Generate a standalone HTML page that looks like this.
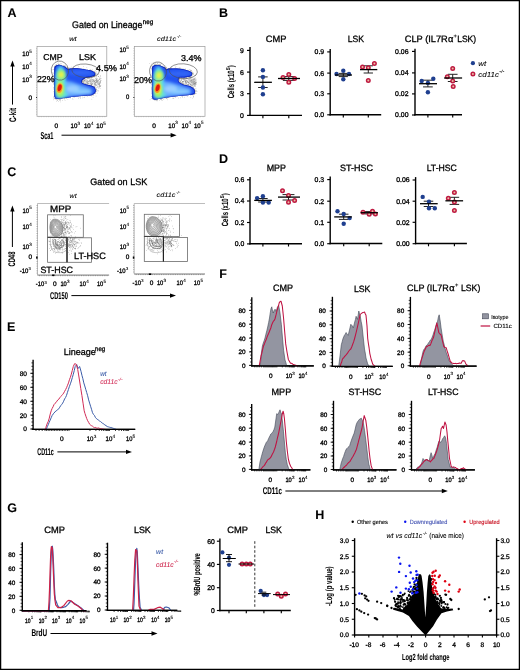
<!DOCTYPE html><html><head><meta charset="utf-8"><style>html,body{margin:0;padding:0;background:#fff;width:520px;height:670px;overflow:hidden}svg{display:block;will-change:transform}text{font-family:"Liberation Sans",sans-serif;text-rendering:geometricPrecision;stroke:currentColor;stroke-width:0.3px}text[font-style=italic]{stroke-width:0.08px}text[font-weight=bold]{stroke-width:0.08px}</style></head><body><svg width="520" height="670" viewBox="0 0 520 670" font-family="Liberation Sans, sans-serif"><defs><filter id="bl1" x="-20%" y="-20%" width="140%" height="140%"><feGaussianBlur stdDeviation="1.6"/></filter><filter id="bl2" x="-50%" y="-50%" width="200%" height="200%"><feGaussianBlur stdDeviation="0.9"/></filter><filter id="bl3" x="-20%" y="-20%" width="140%" height="140%"><feGaussianBlur stdDeviation="0.35"/></filter><clipPath id="cp1"><path d="M55.00,66.60 C55.40,65.98 56.03,65.58 56.80,65.30 C57.57,65.02 58.42,64.75 59.60,64.90 C60.78,65.05 62.70,65.65 63.90,66.20 C65.10,66.75 66.07,67.72 66.80,68.20 C67.53,68.68 67.65,69.05 68.30,69.10 C68.95,69.15 68.95,68.62 70.70,68.50 C72.45,68.38 75.83,68.15 78.80,68.40 C81.77,68.65 86.08,69.48 88.50,70.00 C90.92,70.52 92.18,70.92 93.30,71.50 C94.42,72.08 95.05,72.77 95.20,73.50 C95.35,74.23 95.00,75.33 94.20,75.90 C93.40,76.47 91.83,76.57 90.40,76.90 C88.97,77.23 86.88,77.42 85.60,77.90 C84.32,78.38 83.35,79.17 82.70,79.80 C82.05,80.43 81.62,81.07 81.70,81.70 C81.78,82.33 82.07,83.03 83.20,83.60 C84.33,84.17 86.82,84.62 88.50,85.10 C90.18,85.58 92.18,85.95 93.30,86.50 C94.42,87.05 94.80,87.68 95.20,88.40 C95.60,89.12 95.78,89.98 95.70,90.80 C95.62,91.62 95.43,92.57 94.70,93.30 C93.97,94.03 93.13,94.78 91.30,95.20 C89.47,95.62 86.58,95.55 83.70,95.80 C80.82,96.05 77.22,96.32 74.00,96.70 C70.78,97.08 67.12,97.72 64.40,98.10 C61.68,98.48 59.30,99.08 57.70,99.00 C56.10,98.92 55.42,98.97 54.80,97.60 C54.18,96.23 54.08,94.33 54.00,90.80 C53.92,87.27 54.23,80.03 54.30,76.40 C54.37,72.77 54.28,70.63 54.40,69.00 C54.52,67.37 54.60,67.22 55.00,66.60Z"/></clipPath><clipPath id="cp2"><path d="M152.80,66.60 C153.20,66.15 153.90,65.57 154.60,65.30 C155.30,65.03 156.10,64.98 157.00,65.00 C157.90,65.02 158.73,64.98 160.00,65.40 C161.27,65.82 163.55,66.83 164.60,67.50 C165.65,68.17 165.53,69.22 166.30,69.40 C167.07,69.58 166.98,68.72 169.20,68.60 C171.42,68.48 176.52,68.40 179.60,68.70 C182.68,69.00 185.77,69.83 187.70,70.40 C189.63,70.97 190.47,71.50 191.20,72.10 C191.93,72.70 192.20,73.30 192.10,74.00 C192.00,74.70 191.92,75.73 190.60,76.30 C189.28,76.87 186.03,77.18 184.20,77.40 C182.37,77.62 180.55,77.30 179.60,77.60 C178.65,77.90 178.60,78.45 178.50,79.20 C178.40,79.95 178.23,81.23 179.00,82.10 C179.77,82.97 181.27,83.72 183.10,84.40 C184.93,85.08 188.18,85.43 190.00,86.20 C191.82,86.97 193.20,88.05 194.00,89.00 C194.80,89.95 194.88,91.03 194.80,91.90 C194.72,92.77 195.27,93.58 193.50,94.20 C191.73,94.82 188.43,95.10 184.20,95.60 C179.97,96.10 172.72,96.57 168.10,97.20 C163.48,97.83 159.00,99.12 156.50,99.40 C154.00,99.68 153.85,99.63 153.10,98.90 C152.35,98.17 152.18,98.15 152.00,95.00 C151.82,91.85 151.97,84.50 152.00,80.00 C152.03,75.50 152.07,70.23 152.20,68.00 C152.33,65.77 152.40,67.05 152.80,66.60Z"/></clipPath></defs><rect x="0.6" y="0.6" width="518.8" height="668.8" fill="none" stroke="#000" stroke-width="1.3"/>
<text x="7.50" y="16.60" font-size="12.5" font-weight="bold">A</text>
<text x="219.10" y="16.60" font-size="12.5" font-weight="bold">B</text>
<text x="7.20" y="175.70" font-size="12.5" font-weight="bold">C</text>
<text x="219.10" y="162.80" font-size="12.5" font-weight="bold">D</text>
<text x="7.10" y="330.80" font-size="12.5" font-weight="bold">E</text>
<text x="219.30" y="278.20" font-size="12.5" font-weight="bold">F</text>
<text x="7.20" y="511.70" font-size="12.5" font-weight="bold">G</text>
<text x="315.30" y="518.60" font-size="12.5" font-weight="bold">H</text>
<text x="72.10" y="28.30" font-size="9.6" textLength="70.30" lengthAdjust="spacingAndGlyphs">Gated on Lineage</text>
<text x="142.80" y="24.20" font-size="6.6" textLength="10.40" lengthAdjust="spacingAndGlyphs">neg</text>
<text x="69.20" y="41.00" font-size="6.6" font-style="italic" textLength="7.40" lengthAdjust="spacingAndGlyphs">wt</text>
<text x="157.00" y="40.90" font-size="6.6" font-style="italic" textLength="19.20" lengthAdjust="spacingAndGlyphs">cd11c</text>
<text x="176.80" y="37.60" font-size="4.2" font-style="italic" textLength="4.40" lengthAdjust="spacingAndGlyphs">-/-</text>
<rect x="37.0" y="46.6" width="69.8" height="69.69999999999999" fill="none" stroke="#9a9a9a" stroke-width="0.7"/>
<g stroke="#9a9a9a" stroke-width="0.5"><line x1="36.1" y1="48.6" x2="37.0" y2="48.6"/><line x1="36.1" y1="51.0" x2="37.0" y2="51.0"/><line x1="36.1" y1="53.5" x2="37.0" y2="53.5"/><line x1="36.1" y1="55.9" x2="37.0" y2="55.9"/><line x1="36.1" y1="58.3" x2="37.0" y2="58.3"/><line x1="36.1" y1="60.8" x2="37.0" y2="60.8"/><line x1="36.1" y1="63.2" x2="37.0" y2="63.2"/><line x1="36.1" y1="65.6" x2="37.0" y2="65.6"/><line x1="36.1" y1="68.1" x2="37.0" y2="68.1"/><line x1="36.1" y1="70.5" x2="37.0" y2="70.5"/><line x1="36.1" y1="72.9" x2="37.0" y2="72.9"/><line x1="36.1" y1="75.4" x2="37.0" y2="75.4"/><line x1="36.1" y1="77.8" x2="37.0" y2="77.8"/><line x1="36.1" y1="80.2" x2="37.0" y2="80.2"/><line x1="36.1" y1="82.7" x2="37.0" y2="82.7"/><line x1="36.1" y1="85.1" x2="37.0" y2="85.1"/><line x1="36.1" y1="87.5" x2="37.0" y2="87.5"/><line x1="36.1" y1="90.0" x2="37.0" y2="90.0"/><line x1="36.1" y1="92.4" x2="37.0" y2="92.4"/><line x1="36.1" y1="94.8" x2="37.0" y2="94.8"/><line x1="36.1" y1="97.3" x2="37.0" y2="97.3"/><line x1="36.1" y1="99.7" x2="37.0" y2="99.7"/><line x1="36.1" y1="102.1" x2="37.0" y2="102.1"/><line x1="36.1" y1="104.6" x2="37.0" y2="104.6"/><line x1="36.1" y1="107.0" x2="37.0" y2="107.0"/><line x1="36.1" y1="109.4" x2="37.0" y2="109.4"/><line x1="36.1" y1="111.9" x2="37.0" y2="111.9"/><line x1="36.1" y1="114.3" x2="37.0" y2="114.3"/><line x1="39.0" y1="116.3" x2="39.0" y2="117.2"/><line x1="41.4" y1="116.3" x2="41.4" y2="117.2"/><line x1="43.9" y1="116.3" x2="43.9" y2="117.2"/><line x1="46.3" y1="116.3" x2="46.3" y2="117.2"/><line x1="48.7" y1="116.3" x2="48.7" y2="117.2"/><line x1="51.2" y1="116.3" x2="51.2" y2="117.2"/><line x1="53.6" y1="116.3" x2="53.6" y2="117.2"/><line x1="56.1" y1="116.3" x2="56.1" y2="117.2"/><line x1="58.5" y1="116.3" x2="58.5" y2="117.2"/><line x1="60.9" y1="116.3" x2="60.9" y2="117.2"/><line x1="63.4" y1="116.3" x2="63.4" y2="117.2"/><line x1="65.8" y1="116.3" x2="65.8" y2="117.2"/><line x1="68.2" y1="116.3" x2="68.2" y2="117.2"/><line x1="70.7" y1="116.3" x2="70.7" y2="117.2"/><line x1="73.1" y1="116.3" x2="73.1" y2="117.2"/><line x1="75.6" y1="116.3" x2="75.6" y2="117.2"/><line x1="78.0" y1="116.3" x2="78.0" y2="117.2"/><line x1="80.4" y1="116.3" x2="80.4" y2="117.2"/><line x1="82.9" y1="116.3" x2="82.9" y2="117.2"/><line x1="85.3" y1="116.3" x2="85.3" y2="117.2"/><line x1="87.7" y1="116.3" x2="87.7" y2="117.2"/><line x1="90.2" y1="116.3" x2="90.2" y2="117.2"/><line x1="92.6" y1="116.3" x2="92.6" y2="117.2"/><line x1="95.1" y1="116.3" x2="95.1" y2="117.2"/><line x1="97.5" y1="116.3" x2="97.5" y2="117.2"/><line x1="99.9" y1="116.3" x2="99.9" y2="117.2"/><line x1="102.4" y1="116.3" x2="102.4" y2="117.2"/><line x1="104.8" y1="116.3" x2="104.8" y2="117.2"/></g>
<g fill="#8a8a8a"><rect x="94.4" y="75.4" width="0.5" height="0.5"/><rect x="65.2" y="67.0" width="0.5" height="0.5"/><rect x="84.4" y="85.3" width="0.5" height="0.5"/><rect x="90.9" y="85.0" width="0.5" height="0.5"/><rect x="67.9" y="68.6" width="0.5" height="0.5"/><rect x="95.5" y="87.0" width="0.5" height="0.5"/><rect x="57.3" y="64.8" width="0.5" height="0.5"/><rect x="94.4" y="86.0" width="0.5" height="0.5"/><rect x="69.3" y="69.5" width="0.5" height="0.5"/><rect x="91.2" y="95.4" width="0.5" height="0.5"/><rect x="72.2" y="69.0" width="0.5" height="0.5"/><rect x="54.2" y="73.5" width="0.5" height="0.5"/><rect x="63.2" y="98.4" width="0.5" height="0.5"/><rect x="82.9" y="82.8" width="0.5" height="0.5"/><rect x="95.3" y="74.1" width="0.5" height="0.5"/><rect x="94.3" y="73.9" width="0.5" height="0.5"/><rect x="59.9" y="63.3" width="0.5" height="0.5"/><rect x="56.5" y="97.7" width="0.5" height="0.5"/><rect x="95.6" y="89.7" width="0.5" height="0.5"/><rect x="90.5" y="70.2" width="0.5" height="0.5"/><rect x="58.5" y="64.4" width="0.5" height="0.5"/><rect x="81.0" y="81.5" width="0.5" height="0.5"/><rect x="92.5" y="93.1" width="0.5" height="0.5"/><rect x="81.8" y="81.3" width="0.5" height="0.5"/><rect x="65.2" y="68.9" width="0.5" height="0.5"/><rect x="67.5" y="68.2" width="0.5" height="0.5"/><rect x="53.6" y="87.2" width="0.5" height="0.5"/><rect x="91.0" y="77.1" width="0.5" height="0.5"/><rect x="80.3" y="69.1" width="0.5" height="0.5"/><rect x="83.3" y="84.2" width="0.5" height="0.5"/><rect x="92.2" y="71.0" width="0.5" height="0.5"/><rect x="54.9" y="68.2" width="0.5" height="0.5"/><rect x="55.0" y="67.4" width="0.5" height="0.5"/><rect x="64.7" y="97.6" width="0.5" height="0.5"/><rect x="90.0" y="85.2" width="0.5" height="0.5"/><rect x="57.7" y="65.2" width="0.5" height="0.5"/><rect x="82.8" y="80.1" width="0.5" height="0.5"/><rect x="68.0" y="68.6" width="0.5" height="0.5"/><rect x="96.1" y="89.6" width="0.5" height="0.5"/><rect x="91.9" y="70.6" width="0.5" height="0.5"/><rect x="79.2" y="82.5" width="0.5" height="0.5"/><rect x="84.5" y="85.3" width="0.5" height="0.5"/><rect x="80.5" y="96.3" width="0.5" height="0.5"/><rect x="58.0" y="65.5" width="0.5" height="0.5"/><rect x="93.3" y="76.0" width="0.5" height="0.5"/><rect x="94.8" y="92.9" width="0.5" height="0.5"/><rect x="91.2" y="71.9" width="0.5" height="0.5"/><rect x="91.9" y="86.9" width="0.5" height="0.5"/><rect x="85.0" y="69.9" width="0.5" height="0.5"/><rect x="86.6" y="67.3" width="0.5" height="0.5"/><rect x="83.2" y="68.6" width="0.5" height="0.5"/><rect x="62.5" y="98.5" width="0.5" height="0.5"/><rect x="86.4" y="94.1" width="0.5" height="0.5"/><rect x="89.1" y="78.6" width="0.5" height="0.5"/><rect x="78.5" y="68.7" width="0.5" height="0.5"/><rect x="54.4" y="82.0" width="0.5" height="0.5"/><rect x="54.3" y="71.4" width="0.5" height="0.5"/><rect x="54.2" y="72.9" width="0.5" height="0.5"/><rect x="74.0" y="69.5" width="0.5" height="0.5"/><rect x="57.6" y="96.6" width="0.5" height="0.5"/><rect x="83.4" y="82.6" width="0.5" height="0.5"/><rect x="66.2" y="67.8" width="0.5" height="0.5"/><rect x="83.6" y="81.1" width="0.5" height="0.5"/><rect x="92.8" y="96.9" width="0.5" height="0.5"/><rect x="86.8" y="82.1" width="0.5" height="0.5"/><rect x="87.4" y="85.0" width="0.5" height="0.5"/><rect x="54.7" y="96.5" width="0.5" height="0.5"/><rect x="84.3" y="83.8" width="0.5" height="0.5"/><rect x="91.1" y="70.5" width="0.5" height="0.5"/><rect x="53.7" y="84.0" width="0.5" height="0.5"/><rect x="55.1" y="84.4" width="0.5" height="0.5"/><rect x="70.3" y="69.0" width="0.5" height="0.5"/><rect x="83.1" y="82.9" width="0.5" height="0.5"/><rect x="67.3" y="67.0" width="0.5" height="0.5"/><rect x="88.0" y="85.3" width="0.5" height="0.5"/><rect x="71.4" y="96.2" width="0.5" height="0.5"/><rect x="80.0" y="68.9" width="0.5" height="0.5"/><rect x="56.5" y="65.5" width="0.5" height="0.5"/><rect x="83.0" y="82.3" width="0.5" height="0.5"/><rect x="90.3" y="70.6" width="0.5" height="0.5"/><rect x="82.5" y="82.6" width="0.5" height="0.5"/><rect x="52.6" y="73.8" width="0.5" height="0.5"/><rect x="53.4" y="69.4" width="0.5" height="0.5"/><rect x="95.2" y="74.2" width="0.5" height="0.5"/><rect x="60.6" y="64.9" width="0.5" height="0.5"/><rect x="54.4" y="66.7" width="0.5" height="0.5"/><rect x="67.2" y="67.3" width="0.5" height="0.5"/><rect x="63.8" y="67.1" width="0.5" height="0.5"/><rect x="91.0" y="94.8" width="0.5" height="0.5"/><rect x="93.9" y="75.6" width="0.5" height="0.5"/><rect x="60.9" y="66.5" width="0.5" height="0.5"/><rect x="55.5" y="66.1" width="0.5" height="0.5"/><rect x="95.2" y="68.6" width="0.5" height="0.5"/><rect x="53.9" y="91.0" width="0.5" height="0.5"/><rect x="59.8" y="64.0" width="0.5" height="0.5"/><rect x="55.0" y="89.3" width="0.5" height="0.5"/><rect x="88.7" y="70.7" width="0.5" height="0.5"/><rect x="95.5" y="73.9" width="0.5" height="0.5"/><rect x="90.8" y="95.4" width="0.5" height="0.5"/><rect x="63.7" y="66.3" width="0.5" height="0.5"/><rect x="54.7" y="96.1" width="0.5" height="0.5"/><rect x="91.2" y="85.3" width="0.5" height="0.5"/><rect x="96.1" y="89.4" width="0.5" height="0.5"/><rect x="69.0" y="69.1" width="0.5" height="0.5"/><rect x="54.1" y="74.9" width="0.5" height="0.5"/><rect x="86.5" y="87.0" width="0.5" height="0.5"/><rect x="64.3" y="98.1" width="0.5" height="0.5"/><rect x="92.9" y="86.4" width="0.5" height="0.5"/><rect x="85.9" y="70.8" width="0.5" height="0.5"/><rect x="83.8" y="81.6" width="0.5" height="0.5"/><rect x="84.9" y="84.3" width="0.5" height="0.5"/><rect x="53.5" y="79.8" width="0.5" height="0.5"/><rect x="88.5" y="78.1" width="0.5" height="0.5"/><rect x="94.9" y="93.0" width="0.5" height="0.5"/><rect x="67.7" y="69.0" width="0.5" height="0.5"/><rect x="94.0" y="71.5" width="0.5" height="0.5"/><rect x="58.0" y="66.0" width="0.5" height="0.5"/><rect x="56.0" y="68.1" width="0.5" height="0.5"/><rect x="94.2" y="75.1" width="0.5" height="0.5"/><rect x="55.8" y="66.3" width="0.5" height="0.5"/><rect x="91.5" y="70.8" width="0.5" height="0.5"/><rect x="93.5" y="72.6" width="0.5" height="0.5"/><rect x="93.5" y="87.8" width="0.5" height="0.5"/><rect x="95.2" y="88.2" width="0.5" height="0.5"/><rect x="67.3" y="69.2" width="0.5" height="0.5"/><rect x="91.5" y="75.3" width="0.5" height="0.5"/><rect x="94.8" y="72.7" width="0.5" height="0.5"/><rect x="53.8" y="83.6" width="0.5" height="0.5"/><rect x="84.0" y="95.7" width="0.5" height="0.5"/><rect x="56.7" y="98.0" width="0.5" height="0.5"/><rect x="92.1" y="92.7" width="0.5" height="0.5"/><rect x="81.0" y="68.9" width="0.5" height="0.5"/><rect x="93.2" y="90.9" width="0.5" height="0.5"/><rect x="94.0" y="90.5" width="0.5" height="0.5"/><rect x="83.5" y="66.5" width="0.5" height="0.5"/><rect x="88.0" y="85.0" width="0.5" height="0.5"/><rect x="83.6" y="83.7" width="0.5" height="0.5"/><rect x="89.7" y="69.2" width="0.5" height="0.5"/><rect x="84.7" y="70.7" width="0.5" height="0.5"/><rect x="83.0" y="83.7" width="0.5" height="0.5"/><rect x="58.8" y="65.4" width="0.5" height="0.5"/><rect x="91.5" y="70.5" width="0.5" height="0.5"/><rect x="95.4" y="90.3" width="0.5" height="0.5"/><rect x="94.4" y="93.5" width="0.5" height="0.5"/><rect x="80.5" y="82.6" width="0.5" height="0.5"/><rect x="66.6" y="68.1" width="0.5" height="0.5"/><rect x="94.9" y="73.5" width="0.5" height="0.5"/><rect x="56.3" y="98.3" width="0.5" height="0.5"/><rect x="93.0" y="71.9" width="0.5" height="0.5"/><rect x="58.5" y="64.8" width="0.5" height="0.5"/><rect x="54.3" y="69.8" width="0.5" height="0.5"/><rect x="66.1" y="68.9" width="0.5" height="0.5"/><rect x="54.9" y="78.0" width="0.5" height="0.5"/><rect x="93.0" y="94.7" width="0.5" height="0.5"/><rect x="67.2" y="69.0" width="0.5" height="0.5"/><rect x="94.7" y="74.8" width="0.5" height="0.5"/><rect x="66.6" y="68.0" width="0.5" height="0.5"/><rect x="90.1" y="70.7" width="0.5" height="0.5"/><rect x="54.2" y="94.6" width="0.5" height="0.5"/><rect x="58.7" y="65.6" width="0.5" height="0.5"/><rect x="93.6" y="94.9" width="0.5" height="0.5"/><rect x="84.9" y="83.6" width="0.5" height="0.5"/><rect x="56.6" y="97.5" width="0.5" height="0.5"/><rect x="52.7" y="69.3" width="0.5" height="0.5"/><rect x="74.3" y="69.1" width="0.5" height="0.5"/><rect x="73.2" y="96.3" width="0.5" height="0.5"/><rect x="81.1" y="81.9" width="0.5" height="0.5"/><rect x="94.9" y="74.5" width="0.5" height="0.5"/><rect x="74.2" y="96.8" width="0.5" height="0.5"/><rect x="93.3" y="87.5" width="0.5" height="0.5"/><rect x="94.7" y="91.2" width="0.5" height="0.5"/><rect x="81.6" y="71.9" width="0.5" height="0.5"/><rect x="70.2" y="97.7" width="0.5" height="0.5"/><rect x="94.3" y="75.5" width="0.5" height="0.5"/><rect x="93.2" y="73.3" width="0.5" height="0.5"/><rect x="84.5" y="77.3" width="0.5" height="0.5"/><rect x="73.7" y="68.7" width="0.5" height="0.5"/><rect x="54.4" y="67.7" width="0.5" height="0.5"/><rect x="86.4" y="85.2" width="0.5" height="0.5"/><rect x="82.0" y="68.4" width="0.5" height="0.5"/><rect x="84.6" y="80.0" width="0.5" height="0.5"/><rect x="58.2" y="62.7" width="0.5" height="0.5"/><rect x="61.2" y="98.5" width="0.5" height="0.5"/><rect x="54.4" y="69.5" width="0.5" height="0.5"/><rect x="81.7" y="81.7" width="0.5" height="0.5"/><rect x="88.9" y="85.5" width="0.5" height="0.5"/><rect x="54.1" y="98.4" width="0.5" height="0.5"/><rect x="94.3" y="86.2" width="0.5" height="0.5"/><rect x="66.5" y="70.2" width="0.5" height="0.5"/><rect x="66.7" y="68.6" width="0.5" height="0.5"/><rect x="83.1" y="79.2" width="0.5" height="0.5"/><rect x="93.6" y="87.2" width="0.5" height="0.5"/><rect x="59.1" y="99.0" width="0.5" height="0.5"/><rect x="54.6" y="68.2" width="0.5" height="0.5"/><rect x="83.5" y="69.1" width="0.5" height="0.5"/><rect x="87.4" y="96.0" width="0.5" height="0.5"/><rect x="74.7" y="69.2" width="0.5" height="0.5"/><rect x="92.3" y="95.1" width="0.5" height="0.5"/><rect x="81.4" y="81.0" width="0.5" height="0.5"/><rect x="70.4" y="69.8" width="0.5" height="0.5"/><rect x="54.0" y="95.2" width="0.5" height="0.5"/><rect x="53.4" y="99.6" width="0.5" height="0.5"/><rect x="91.1" y="71.2" width="0.5" height="0.5"/><rect x="66.9" y="68.9" width="0.5" height="0.5"/><rect x="53.7" y="72.0" width="0.5" height="0.5"/><rect x="70.7" y="68.3" width="0.5" height="0.5"/><rect x="86.6" y="77.2" width="0.5" height="0.5"/><rect x="54.5" y="86.6" width="0.5" height="0.5"/><rect x="64.0" y="65.9" width="0.5" height="0.5"/><rect x="78.8" y="97.0" width="0.5" height="0.5"/><rect x="80.5" y="97.0" width="0.5" height="0.5"/><rect x="56.0" y="67.0" width="0.5" height="0.5"/><rect x="83.6" y="82.4" width="0.5" height="0.5"/><rect x="90.3" y="79.2" width="0.5" height="0.5"/><rect x="60.4" y="99.6" width="0.5" height="0.5"/><rect x="54.1" y="73.6" width="0.5" height="0.5"/><rect x="75.6" y="95.2" width="0.5" height="0.5"/><rect x="69.9" y="97.5" width="0.5" height="0.5"/><rect x="82.6" y="78.9" width="0.5" height="0.5"/><rect x="53.8" y="82.5" width="0.5" height="0.5"/><rect x="94.1" y="74.9" width="0.5" height="0.5"/><rect x="94.0" y="76.5" width="0.5" height="0.5"/><rect x="78.1" y="95.8" width="0.5" height="0.5"/><rect x="57.3" y="66.2" width="0.5" height="0.5"/><rect x="84.0" y="97.2" width="0.5" height="0.5"/><rect x="83.5" y="79.8" width="0.5" height="0.5"/><rect x="82.3" y="81.3" width="0.5" height="0.5"/><rect x="72.7" y="99.2" width="0.5" height="0.5"/><rect x="56.0" y="96.2" width="0.5" height="0.5"/><rect x="74.9" y="70.1" width="0.5" height="0.5"/><rect x="84.6" y="79.7" width="0.5" height="0.5"/><rect x="83.4" y="79.5" width="0.5" height="0.5"/><rect x="91.9" y="70.9" width="0.5" height="0.5"/><rect x="83.5" y="81.3" width="0.5" height="0.5"/><rect x="82.7" y="80.0" width="0.5" height="0.5"/><rect x="92.5" y="92.6" width="0.5" height="0.5"/><rect x="93.8" y="70.8" width="0.5" height="0.5"/><rect x="74.5" y="69.0" width="0.5" height="0.5"/><rect x="79.6" y="70.0" width="0.5" height="0.5"/><rect x="89.2" y="78.5" width="0.5" height="0.5"/><rect x="85.2" y="83.9" width="0.5" height="0.5"/><rect x="65.4" y="64.8" width="0.5" height="0.5"/><rect x="86.9" y="70.1" width="0.5" height="0.5"/><rect x="63.9" y="66.2" width="0.5" height="0.5"/><rect x="56.9" y="97.2" width="0.5" height="0.5"/><rect x="82.2" y="80.3" width="0.5" height="0.5"/><rect x="90.3" y="94.0" width="0.5" height="0.5"/><rect x="70.3" y="69.5" width="0.5" height="0.5"/><rect x="57.3" y="65.2" width="0.5" height="0.5"/><rect x="78.1" y="66.6" width="0.5" height="0.5"/><rect x="83.8" y="79.7" width="0.5" height="0.5"/><rect x="59.9" y="98.7" width="0.5" height="0.5"/><rect x="84.3" y="76.9" width="0.5" height="0.5"/><rect x="61.5" y="66.4" width="0.5" height="0.5"/><rect x="90.7" y="70.5" width="0.5" height="0.5"/><rect x="95.7" y="72.2" width="0.5" height="0.5"/><rect x="82.2" y="81.2" width="0.5" height="0.5"/><rect x="70.7" y="70.6" width="0.5" height="0.5"/><rect x="55.0" y="67.8" width="0.5" height="0.5"/><rect x="87.0" y="78.2" width="0.5" height="0.5"/><rect x="71.2" y="95.5" width="0.5" height="0.5"/><rect x="54.2" y="73.4" width="0.5" height="0.5"/><rect x="54.2" y="74.5" width="0.5" height="0.5"/><rect x="84.1" y="83.9" width="0.5" height="0.5"/><rect x="88.5" y="78.6" width="0.5" height="0.5"/><rect x="71.6" y="69.9" width="0.5" height="0.5"/><rect x="51.9" y="74.9" width="0.5" height="0.5"/><rect x="53.8" y="79.5" width="0.5" height="0.5"/><rect x="53.9" y="88.6" width="0.5" height="0.5"/><rect x="53.6" y="96.4" width="0.5" height="0.5"/><rect x="92.6" y="87.9" width="0.5" height="0.5"/><rect x="65.4" y="66.3" width="0.5" height="0.5"/><rect x="55.2" y="95.9" width="0.5" height="0.5"/><rect x="58.4" y="65.5" width="0.5" height="0.5"/><rect x="86.8" y="79.4" width="0.5" height="0.5"/><rect x="84.7" y="79.1" width="0.5" height="0.5"/><rect x="88.7" y="77.8" width="0.5" height="0.5"/><rect x="95.2" y="90.9" width="0.5" height="0.5"/><rect x="82.1" y="81.5" width="0.5" height="0.5"/><rect x="83.8" y="83.1" width="0.5" height="0.5"/><rect x="91.2" y="76.2" width="0.5" height="0.5"/><rect x="57.5" y="65.9" width="0.5" height="0.5"/><rect x="54.7" y="71.1" width="0.5" height="0.5"/><rect x="86.9" y="83.5" width="0.5" height="0.5"/><rect x="63.1" y="95.1" width="0.5" height="0.5"/><rect x="60.0" y="101.7" width="0.5" height="0.5"/><rect x="55.8" y="86.5" width="0.5" height="0.5"/><rect x="59.7" y="99.6" width="0.5" height="0.5"/><rect x="56.7" y="98.5" width="0.5" height="0.5"/><rect x="92.0" y="71.6" width="0.5" height="0.5"/><rect x="90.8" y="71.6" width="0.5" height="0.5"/><rect x="84.1" y="84.3" width="0.5" height="0.5"/><rect x="71.4" y="66.8" width="0.5" height="0.5"/><rect x="54.9" y="82.5" width="0.5" height="0.5"/><rect x="87.7" y="71.8" width="0.5" height="0.5"/><rect x="54.0" y="94.5" width="0.5" height="0.5"/><rect x="82.0" y="93.0" width="0.5" height="0.5"/><rect x="84.9" y="79.7" width="0.5" height="0.5"/><rect x="85.8" y="76.6" width="0.5" height="0.5"/><rect x="82.0" y="79.8" width="0.5" height="0.5"/><rect x="54.1" y="68.5" width="0.5" height="0.5"/><rect x="53.8" y="92.7" width="0.5" height="0.5"/><rect x="94.5" y="75.3" width="0.5" height="0.5"/><rect x="94.2" y="91.8" width="0.5" height="0.5"/><rect x="56.0" y="90.7" width="0.5" height="0.5"/><rect x="56.7" y="65.4" width="0.5" height="0.5"/><rect x="64.9" y="68.7" width="0.5" height="0.5"/><rect x="66.9" y="68.2" width="0.5" height="0.5"/><rect x="81.2" y="79.4" width="0.5" height="0.5"/><rect x="82.4" y="79.8" width="0.5" height="0.5"/><rect x="54.6" y="93.0" width="0.5" height="0.5"/><rect x="56.1" y="64.0" width="0.5" height="0.5"/><rect x="90.2" y="76.3" width="0.5" height="0.5"/><rect x="82.9" y="81.6" width="0.5" height="0.5"/><rect x="57.5" y="66.1" width="0.5" height="0.5"/><rect x="54.5" y="70.6" width="0.5" height="0.5"/><rect x="91.2" y="86.0" width="0.5" height="0.5"/><rect x="94.3" y="90.9" width="0.5" height="0.5"/><rect x="55.5" y="97.8" width="0.5" height="0.5"/><rect x="54.2" y="80.4" width="0.5" height="0.5"/><rect x="87.2" y="85.4" width="0.5" height="0.5"/><rect x="78.3" y="98.2" width="0.5" height="0.5"/><rect x="65.0" y="66.4" width="0.5" height="0.5"/><rect x="54.7" y="70.8" width="0.5" height="0.5"/><rect x="90.3" y="93.9" width="0.5" height="0.5"/><rect x="54.2" y="74.2" width="0.5" height="0.5"/><rect x="94.3" y="93.1" width="0.5" height="0.5"/><rect x="69.0" y="69.3" width="0.5" height="0.5"/><rect x="82.4" y="97.7" width="0.5" height="0.5"/><rect x="89.0" y="80.0" width="0.5" height="0.5"/><rect x="56.4" y="67.0" width="0.5" height="0.5"/><rect x="91.8" y="84.1" width="0.5" height="0.5"/><rect x="91.6" y="98.9" width="0.5" height="0.5"/><rect x="54.2" y="87.0" width="0.5" height="0.5"/><rect x="96.3" y="90.0" width="0.5" height="0.5"/><rect x="64.5" y="66.3" width="0.5" height="0.5"/><rect x="90.6" y="77.0" width="0.5" height="0.5"/><rect x="94.9" y="92.0" width="0.5" height="0.5"/><rect x="83.7" y="97.3" width="0.5" height="0.5"/><rect x="56.4" y="65.8" width="0.5" height="0.5"/><rect x="63.3" y="66.1" width="0.5" height="0.5"/><rect x="82.6" y="70.3" width="0.5" height="0.5"/><rect x="61.3" y="66.0" width="0.5" height="0.5"/><rect x="67.6" y="98.9" width="0.5" height="0.5"/><rect x="64.1" y="67.0" width="0.5" height="0.5"/><rect x="96.8" y="74.8" width="0.5" height="0.5"/><rect x="95.0" y="70.1" width="0.5" height="0.5"/><rect x="64.0" y="98.0" width="0.5" height="0.5"/><rect x="54.6" y="95.7" width="0.5" height="0.5"/><rect x="85.8" y="86.9" width="0.5" height="0.5"/><rect x="92.0" y="93.3" width="0.5" height="0.5"/><rect x="95.3" y="88.9" width="0.5" height="0.5"/><rect x="56.5" y="66.1" width="0.5" height="0.5"/><rect x="89.9" y="76.5" width="0.5" height="0.5"/><rect x="60.8" y="98.3" width="0.5" height="0.5"/><rect x="85.0" y="83.8" width="0.5" height="0.5"/><rect x="95.4" y="74.0" width="0.5" height="0.5"/><rect x="55.1" y="67.7" width="0.5" height="0.5"/><rect x="57.5" y="99.6" width="0.5" height="0.5"/><rect x="64.9" y="67.2" width="0.5" height="0.5"/><rect x="52.9" y="81.4" width="0.5" height="0.5"/><rect x="94.6" y="71.4" width="0.5" height="0.5"/><rect x="86.1" y="83.1" width="0.5" height="0.5"/><rect x="67.6" y="68.4" width="0.5" height="0.5"/><rect x="66.3" y="97.3" width="0.5" height="0.5"/><rect x="53.9" y="91.5" width="0.5" height="0.5"/><rect x="80.5" y="98.3" width="0.5" height="0.5"/><rect x="79.5" y="68.7" width="0.5" height="0.5"/><rect x="54.2" y="79.6" width="0.5" height="0.5"/><rect x="55.3" y="97.9" width="0.5" height="0.5"/><rect x="68.1" y="69.4" width="0.5" height="0.5"/><rect x="82.7" y="70.8" width="0.5" height="0.5"/><rect x="57.3" y="69.1" width="0.5" height="0.5"/><rect x="91.0" y="78.9" width="0.5" height="0.5"/><rect x="94.1" y="72.3" width="0.5" height="0.5"/><rect x="65.0" y="66.5" width="0.5" height="0.5"/><rect x="81.9" y="77.9" width="0.5" height="0.5"/><rect x="87.9" y="86.6" width="0.5" height="0.5"/><rect x="55.2" y="65.2" width="0.5" height="0.5"/><rect x="54.1" y="69.2" width="0.5" height="0.5"/><rect x="94.6" y="87.0" width="0.5" height="0.5"/><rect x="53.9" y="77.8" width="0.5" height="0.5"/><rect x="94.0" y="88.4" width="0.5" height="0.5"/><rect x="94.3" y="72.3" width="0.5" height="0.5"/><rect x="53.8" y="84.4" width="0.5" height="0.5"/><rect x="90.3" y="71.5" width="0.5" height="0.5"/><rect x="57.8" y="65.0" width="0.5" height="0.5"/><rect x="69.9" y="69.6" width="0.5" height="0.5"/><rect x="59.6" y="67.1" width="0.5" height="0.5"/><rect x="89.5" y="85.2" width="0.5" height="0.5"/><rect x="54.4" y="66.4" width="0.5" height="0.5"/><rect x="89.4" y="85.4" width="0.5" height="0.5"/><rect x="55.4" y="66.2" width="0.5" height="0.5"/><rect x="56.3" y="67.8" width="0.5" height="0.5"/><rect x="69.3" y="68.9" width="0.5" height="0.5"/><rect x="91.8" y="77.3" width="0.5" height="0.5"/><rect x="87.1" y="78.0" width="0.5" height="0.5"/><rect x="86.1" y="95.5" width="0.5" height="0.5"/><rect x="64.4" y="66.6" width="0.5" height="0.5"/><rect x="91.9" y="69.1" width="0.5" height="0.5"/><rect x="83.1" y="78.5" width="0.5" height="0.5"/><rect x="94.3" y="89.8" width="0.5" height="0.5"/><rect x="80.6" y="95.0" width="0.5" height="0.5"/><rect x="55.1" y="98.0" width="0.5" height="0.5"/><rect x="93.2" y="73.3" width="0.5" height="0.5"/><rect x="58.5" y="101.0" width="0.5" height="0.5"/><rect x="84.9" y="77.8" width="0.5" height="0.5"/><rect x="59.5" y="99.0" width="0.5" height="0.5"/><rect x="84.6" y="68.9" width="0.5" height="0.5"/><rect x="61.4" y="66.9" width="0.5" height="0.5"/><rect x="53.9" y="74.0" width="0.5" height="0.5"/><rect x="94.7" y="75.7" width="0.5" height="0.5"/><rect x="57.2" y="100.4" width="0.5" height="0.5"/><rect x="62.4" y="66.8" width="0.5" height="0.5"/><rect x="65.0" y="67.5" width="0.5" height="0.5"/><rect x="64.0" y="97.8" width="0.5" height="0.5"/><rect x="62.6" y="98.3" width="0.5" height="0.5"/><rect x="63.6" y="64.9" width="0.5" height="0.5"/><rect x="60.3" y="99.2" width="0.5" height="0.5"/><rect x="61.2" y="66.5" width="0.5" height="0.5"/><rect x="54.6" y="88.1" width="0.5" height="0.5"/><rect x="83.4" y="83.0" width="0.5" height="0.5"/><rect x="82.0" y="81.8" width="0.5" height="0.5"/><rect x="96.7" y="90.5" width="0.5" height="0.5"/><rect x="56.6" y="99.1" width="0.5" height="0.5"/><rect x="80.9" y="81.3" width="0.5" height="0.5"/><rect x="54.4" y="66.9" width="0.5" height="0.5"/><rect x="55.6" y="64.6" width="0.5" height="0.5"/><rect x="54.2" y="69.0" width="0.5" height="0.5"/><rect x="66.0" y="98.1" width="0.5" height="0.5"/><rect x="87.9" y="95.1" width="0.5" height="0.5"/><rect x="94.3" y="74.6" width="0.5" height="0.5"/><rect x="65.2" y="98.3" width="0.5" height="0.5"/><rect x="58.8" y="66.3" width="0.5" height="0.5"/><rect x="57.8" y="96.8" width="0.5" height="0.5"/><rect x="88.4" y="73.8" width="0.5" height="0.5"/><rect x="64.2" y="98.8" width="0.5" height="0.5"/><rect x="97.8" y="91.0" width="0.5" height="0.5"/><rect x="88.3" y="78.1" width="0.5" height="0.5"/><rect x="94.7" y="72.1" width="0.5" height="0.5"/><rect x="55.4" y="96.1" width="0.5" height="0.5"/><rect x="53.4" y="73.4" width="0.5" height="0.5"/><rect x="67.5" y="68.2" width="0.5" height="0.5"/><rect x="69.7" y="67.1" width="0.5" height="0.5"/><rect x="95.7" y="92.9" width="0.5" height="0.5"/><rect x="73.5" y="96.6" width="0.5" height="0.5"/><rect x="54.6" y="65.7" width="0.5" height="0.5"/><rect x="93.6" y="73.5" width="0.5" height="0.5"/><rect x="59.5" y="64.4" width="0.5" height="0.5"/><rect x="57.3" y="65.0" width="0.5" height="0.5"/><rect x="58.0" y="98.5" width="0.5" height="0.5"/><rect x="81.9" y="78.3" width="0.5" height="0.5"/><rect x="91.6" y="90.4" width="0.5" height="0.5"/><rect x="85.4" y="79.7" width="0.5" height="0.5"/><rect x="82.2" y="82.1" width="0.5" height="0.5"/><rect x="92.6" y="94.6" width="0.5" height="0.5"/><rect x="55.3" y="97.1" width="0.5" height="0.5"/><rect x="77.6" y="96.5" width="0.5" height="0.5"/><rect x="81.3" y="93.6" width="0.5" height="0.5"/><rect x="54.7" y="95.8" width="0.5" height="0.5"/><rect x="94.9" y="72.6" width="0.5" height="0.5"/><rect x="94.4" y="71.9" width="0.5" height="0.5"/><rect x="57.7" y="63.3" width="0.5" height="0.5"/><rect x="61.2" y="65.6" width="0.5" height="0.5"/><rect x="96.3" y="89.2" width="0.5" height="0.5"/><rect x="90.4" y="75.5" width="0.5" height="0.5"/><rect x="81.6" y="84.2" width="0.5" height="0.5"/><rect x="96.2" y="89.2" width="0.5" height="0.5"/><rect x="82.5" y="81.6" width="0.5" height="0.5"/><rect x="93.3" y="90.6" width="0.5" height="0.5"/><rect x="95.3" y="91.4" width="0.5" height="0.5"/><rect x="98.2" y="90.4" width="0.5" height="0.5"/><rect x="68.1" y="68.4" width="0.5" height="0.5"/><rect x="87.5" y="78.3" width="0.5" height="0.5"/><rect x="65.8" y="98.0" width="0.5" height="0.5"/><rect x="90.4" y="71.4" width="0.5" height="0.5"/><rect x="54.5" y="70.1" width="0.5" height="0.5"/><rect x="58.7" y="98.9" width="0.5" height="0.5"/><rect x="66.6" y="67.0" width="0.5" height="0.5"/><rect x="52.2" y="72.2" width="0.5" height="0.5"/><rect x="91.2" y="85.6" width="0.5" height="0.5"/><rect x="54.0" y="70.0" width="0.5" height="0.5"/><rect x="58.7" y="66.0" width="0.5" height="0.5"/><rect x="73.7" y="96.9" width="0.5" height="0.5"/><rect x="89.0" y="86.1" width="0.5" height="0.5"/><rect x="94.1" y="89.9" width="0.5" height="0.5"/><rect x="56.9" y="100.1" width="0.5" height="0.5"/><rect x="71.5" y="68.2" width="0.5" height="0.5"/><rect x="92.6" y="72.1" width="0.5" height="0.5"/><rect x="67.7" y="68.1" width="0.5" height="0.5"/><rect x="82.6" y="80.8" width="0.5" height="0.5"/><rect x="68.6" y="68.7" width="0.5" height="0.5"/><rect x="91.4" y="70.8" width="0.5" height="0.5"/><rect x="54.3" y="93.7" width="0.5" height="0.5"/><rect x="73.1" y="68.4" width="0.5" height="0.5"/><rect x="67.1" y="96.5" width="0.5" height="0.5"/><rect x="67.6" y="69.3" width="0.5" height="0.5"/><rect x="59.9" y="65.0" width="0.5" height="0.5"/><rect x="93.9" y="74.9" width="0.5" height="0.5"/><rect x="62.7" y="65.3" width="0.5" height="0.5"/><rect x="53.3" y="75.1" width="0.5" height="0.5"/><rect x="95.9" y="90.9" width="0.5" height="0.5"/><rect x="86.1" y="84.0" width="0.5" height="0.5"/><rect x="81.8" y="96.1" width="0.5" height="0.5"/><rect x="94.8" y="71.7" width="0.5" height="0.5"/><rect x="54.5" y="75.4" width="0.5" height="0.5"/><rect x="85.8" y="95.7" width="0.5" height="0.5"/><rect x="96.0" y="74.7" width="0.5" height="0.5"/><rect x="91.4" y="93.6" width="0.5" height="0.5"/><rect x="82.1" y="83.2" width="0.5" height="0.5"/><rect x="65.4" y="65.8" width="0.5" height="0.5"/><rect x="55.5" y="71.5" width="0.5" height="0.5"/><rect x="84.5" y="95.5" width="0.5" height="0.5"/><rect x="64.2" y="65.5" width="0.5" height="0.5"/><rect x="54.8" y="79.7" width="0.5" height="0.5"/><rect x="83.8" y="75.1" width="0.5" height="0.5"/><rect x="82.1" y="82.0" width="0.5" height="0.5"/><rect x="93.8" y="77.0" width="0.5" height="0.5"/><rect x="54.5" y="66.4" width="0.5" height="0.5"/><rect x="66.4" y="68.9" width="0.5" height="0.5"/><rect x="67.2" y="67.2" width="0.5" height="0.5"/><rect x="90.6" y="71.2" width="0.5" height="0.5"/><rect x="53.4" y="83.1" width="0.5" height="0.5"/><rect x="60.3" y="100.1" width="0.5" height="0.5"/><rect x="84.8" y="82.9" width="0.5" height="0.5"/><rect x="84.4" y="79.8" width="0.5" height="0.5"/><rect x="55.0" y="75.7" width="0.5" height="0.5"/><rect x="55.3" y="98.9" width="0.5" height="0.5"/><rect x="96.0" y="91.2" width="0.5" height="0.5"/><rect x="57.6" y="65.1" width="0.5" height="0.5"/><rect x="94.3" y="74.8" width="0.5" height="0.5"/><rect x="94.4" y="85.8" width="0.5" height="0.5"/><rect x="87.5" y="84.9" width="0.5" height="0.5"/><rect x="63.3" y="65.1" width="0.5" height="0.5"/><rect x="71.2" y="96.5" width="0.5" height="0.5"/><rect x="62.4" y="100.1" width="0.5" height="0.5"/><rect x="55.1" y="66.4" width="0.5" height="0.5"/><rect x="57.4" y="66.3" width="0.5" height="0.5"/><rect x="96.0" y="73.3" width="0.5" height="0.5"/><rect x="55.3" y="71.7" width="0.5" height="0.5"/><rect x="93.1" y="94.6" width="0.5" height="0.5"/><rect x="67.7" y="67.5" width="0.5" height="0.5"/><rect x="53.2" y="97.4" width="0.5" height="0.5"/><rect x="64.9" y="67.1" width="0.5" height="0.5"/><rect x="54.4" y="98.5" width="0.5" height="0.5"/><rect x="64.8" y="100.0" width="0.5" height="0.5"/><rect x="64.9" y="67.8" width="0.5" height="0.5"/><rect x="89.1" y="85.3" width="0.5" height="0.5"/><rect x="60.6" y="65.5" width="0.5" height="0.5"/><rect x="55.6" y="97.7" width="0.5" height="0.5"/><rect x="54.3" y="71.2" width="0.5" height="0.5"/><rect x="94.2" y="87.6" width="0.5" height="0.5"/><rect x="84.2" y="80.5" width="0.5" height="0.5"/><rect x="63.8" y="66.2" width="0.5" height="0.5"/><rect x="72.0" y="97.9" width="0.5" height="0.5"/><rect x="93.9" y="88.0" width="0.5" height="0.5"/><rect x="92.8" y="94.4" width="0.5" height="0.5"/><rect x="54.5" y="66.6" width="0.5" height="0.5"/><rect x="97.0" y="89.9" width="0.5" height="0.5"/><rect x="70.3" y="97.3" width="0.5" height="0.5"/><rect x="58.0" y="94.9" width="0.5" height="0.5"/><rect x="53.0" y="75.0" width="0.5" height="0.5"/><rect x="92.2" y="83.7" width="0.5" height="0.5"/><rect x="87.0" y="69.4" width="0.5" height="0.5"/><rect x="55.1" y="66.4" width="0.5" height="0.5"/><rect x="86.8" y="84.7" width="0.5" height="0.5"/><rect x="82.4" y="79.3" width="0.5" height="0.5"/><rect x="61.3" y="98.4" width="0.5" height="0.5"/><rect x="56.6" y="64.6" width="0.5" height="0.5"/><rect x="91.8" y="70.1" width="0.5" height="0.5"/><rect x="58.5" y="65.1" width="0.5" height="0.5"/><rect x="55.8" y="70.1" width="0.5" height="0.5"/><rect x="93.1" y="76.1" width="0.5" height="0.5"/><rect x="89.2" y="85.7" width="0.5" height="0.5"/><rect x="94.6" y="87.9" width="0.5" height="0.5"/><rect x="94.5" y="73.0" width="0.5" height="0.5"/><rect x="90.5" y="69.0" width="0.5" height="0.5"/><rect x="95.7" y="91.0" width="0.5" height="0.5"/><rect x="89.0" y="77.0" width="0.5" height="0.5"/><rect x="96.1" y="88.1" width="0.5" height="0.5"/><rect x="55.2" y="66.5" width="0.5" height="0.5"/><rect x="95.6" y="86.4" width="0.5" height="0.5"/><rect x="70.2" y="68.6" width="0.5" height="0.5"/><rect x="95.4" y="75.1" width="0.5" height="0.5"/><rect x="59.2" y="64.8" width="0.5" height="0.5"/><rect x="81.6" y="81.0" width="0.5" height="0.5"/><rect x="56.4" y="98.4" width="0.5" height="0.5"/><rect x="55.5" y="67.1" width="0.5" height="0.5"/><rect x="83.6" y="77.6" width="0.5" height="0.5"/><rect x="55.5" y="94.2" width="0.5" height="0.5"/><rect x="65.9" y="67.7" width="0.5" height="0.5"/><rect x="58.5" y="96.8" width="0.5" height="0.5"/><rect x="90.3" y="95.2" width="0.5" height="0.5"/><rect x="93.4" y="86.8" width="0.5" height="0.5"/><rect x="93.1" y="86.3" width="0.5" height="0.5"/><rect x="64.1" y="67.2" width="0.5" height="0.5"/><rect x="81.6" y="80.2" width="0.5" height="0.5"/><rect x="94.9" y="90.3" width="0.5" height="0.5"/><rect x="59.0" y="100.2" width="0.5" height="0.5"/><rect x="90.0" y="85.6" width="0.5" height="0.5"/><rect x="93.9" y="87.5" width="0.5" height="0.5"/><rect x="56.1" y="100.9" width="0.5" height="0.5"/><rect x="97.9" y="74.2" width="0.5" height="0.5"/><rect x="58.7" y="64.3" width="0.5" height="0.5"/><rect x="95.3" y="73.3" width="0.5" height="0.5"/><rect x="87.3" y="83.0" width="0.5" height="0.5"/><rect x="83.7" y="79.7" width="0.5" height="0.5"/><rect x="55.8" y="69.6" width="0.5" height="0.5"/><rect x="78.8" y="68.2" width="0.5" height="0.5"/><rect x="94.0" y="87.8" width="0.5" height="0.5"/><rect x="86.1" y="78.8" width="0.5" height="0.5"/><rect x="94.5" y="74.4" width="0.5" height="0.5"/><rect x="61.1" y="63.6" width="0.5" height="0.5"/><rect x="82.0" y="80.7" width="0.5" height="0.5"/><rect x="96.1" y="71.6" width="0.5" height="0.5"/><rect x="79.7" y="78.5" width="0.5" height="0.5"/><rect x="56.6" y="99.2" width="0.5" height="0.5"/><rect x="95.2" y="92.2" width="0.5" height="0.5"/><rect x="94.9" y="88.5" width="0.5" height="0.5"/><rect x="64.3" y="97.8" width="0.5" height="0.5"/><rect x="87.7" y="84.6" width="0.5" height="0.5"/><rect x="95.8" y="95.8" width="0.5" height="0.5"/><rect x="68.5" y="97.4" width="0.5" height="0.5"/><rect x="65.8" y="69.9" width="0.5" height="0.5"/><rect x="66.1" y="66.8" width="0.5" height="0.5"/><rect x="60.1" y="65.1" width="0.5" height="0.5"/><rect x="54.9" y="96.4" width="0.5" height="0.5"/><rect x="91.6" y="95.8" width="0.5" height="0.5"/><rect x="89.4" y="95.3" width="0.5" height="0.5"/><rect x="53.7" y="91.3" width="0.5" height="0.5"/><rect x="93.5" y="76.3" width="0.5" height="0.5"/><rect x="87.8" y="77.4" width="0.5" height="0.5"/><rect x="82.7" y="80.0" width="0.5" height="0.5"/><rect x="94.5" y="89.1" width="0.5" height="0.5"/><rect x="54.2" y="79.8" width="0.5" height="0.5"/><rect x="54.6" y="83.5" width="0.5" height="0.5"/><rect x="84.6" y="70.0" width="0.5" height="0.5"/><rect x="84.4" y="77.9" width="0.5" height="0.5"/><rect x="58.0" y="99.4" width="0.5" height="0.5"/><rect x="56.6" y="65.8" width="0.5" height="0.5"/><rect x="89.4" y="86.9" width="0.5" height="0.5"/><rect x="97.5" y="92.8" width="0.5" height="0.5"/><rect x="53.7" y="98.0" width="0.5" height="0.5"/><rect x="93.8" y="76.2" width="0.5" height="0.5"/><rect x="94.9" y="93.6" width="0.5" height="0.5"/><rect x="73.4" y="67.6" width="0.5" height="0.5"/><rect x="67.8" y="71.3" width="0.5" height="0.5"/><rect x="92.8" y="75.7" width="0.5" height="0.5"/><rect x="86.3" y="77.7" width="0.5" height="0.5"/><rect x="72.0" y="68.7" width="0.5" height="0.5"/></g>
<g fill="#7a7a7a"><rect x="86.6" y="81.3" width="0.5" height="0.5"/><rect x="99.6" y="79.4" width="0.5" height="0.5"/><rect x="95.1" y="80.3" width="0.5" height="0.5"/><rect x="95.4" y="83.9" width="0.5" height="0.5"/><rect x="88.4" y="83.2" width="0.5" height="0.5"/><rect x="93.9" y="80.7" width="0.5" height="0.5"/><rect x="94.4" y="81.2" width="0.5" height="0.5"/><rect x="91.7" y="87.9" width="0.5" height="0.5"/><rect x="96.2" y="79.3" width="0.5" height="0.5"/><rect x="91.8" y="80.8" width="0.5" height="0.5"/><rect x="85.4" y="85.0" width="0.5" height="0.5"/><rect x="90.6" y="88.0" width="0.5" height="0.5"/><rect x="96.2" y="85.4" width="0.5" height="0.5"/><rect x="91.3" y="84.8" width="0.5" height="0.5"/><rect x="93.7" y="81.6" width="0.5" height="0.5"/><rect x="90.4" y="83.2" width="0.5" height="0.5"/><rect x="88.7" y="85.8" width="0.5" height="0.5"/><rect x="89.8" y="85.9" width="0.5" height="0.5"/><rect x="92.1" y="87.0" width="0.5" height="0.5"/><rect x="99.4" y="78.8" width="0.5" height="0.5"/><rect x="99.1" y="83.9" width="0.5" height="0.5"/><rect x="83.6" y="84.0" width="0.5" height="0.5"/><rect x="96.5" y="80.3" width="0.5" height="0.5"/><rect x="92.2" y="79.3" width="0.5" height="0.5"/><rect x="96.2" y="81.2" width="0.5" height="0.5"/><rect x="98.9" y="79.5" width="0.5" height="0.5"/><rect x="91.2" y="80.5" width="0.5" height="0.5"/><rect x="86.2" y="80.4" width="0.5" height="0.5"/><rect x="99.8" y="81.5" width="0.5" height="0.5"/><rect x="84.0" y="76.6" width="0.5" height="0.5"/><rect x="84.0" y="83.2" width="0.5" height="0.5"/><rect x="90.2" y="83.9" width="0.5" height="0.5"/><rect x="91.7" y="84.9" width="0.5" height="0.5"/><rect x="95.9" y="82.7" width="0.5" height="0.5"/><rect x="87.7" y="84.4" width="0.5" height="0.5"/><rect x="97.0" y="78.2" width="0.5" height="0.5"/><rect x="89.3" y="77.2" width="0.5" height="0.5"/><rect x="91.1" y="84.1" width="0.5" height="0.5"/><rect x="82.1" y="85.0" width="0.5" height="0.5"/><rect x="89.9" y="76.9" width="0.5" height="0.5"/><rect x="84.1" y="84.9" width="0.5" height="0.5"/><rect x="84.2" y="78.3" width="0.5" height="0.5"/><rect x="89.1" y="86.7" width="0.5" height="0.5"/><rect x="88.4" y="85.9" width="0.5" height="0.5"/><rect x="99.8" y="82.0" width="0.5" height="0.5"/><rect x="96.7" y="80.5" width="0.5" height="0.5"/><rect x="91.9" y="81.9" width="0.5" height="0.5"/><rect x="89.8" y="75.5" width="0.5" height="0.5"/><rect x="85.5" y="85.4" width="0.5" height="0.5"/><rect x="100.1" y="80.8" width="0.5" height="0.5"/><rect x="96.7" y="81.5" width="0.5" height="0.5"/><rect x="95.7" y="75.5" width="0.5" height="0.5"/><rect x="92.9" y="87.0" width="0.5" height="0.5"/><rect x="92.5" y="83.8" width="0.5" height="0.5"/><rect x="93.9" y="83.6" width="0.5" height="0.5"/><rect x="97.7" y="81.2" width="0.5" height="0.5"/><rect x="84.1" y="80.2" width="0.5" height="0.5"/><rect x="89.4" y="76.0" width="0.5" height="0.5"/><rect x="94.4" y="86.8" width="0.5" height="0.5"/><rect x="94.4" y="81.1" width="0.5" height="0.5"/><rect x="89.2" y="85.0" width="0.5" height="0.5"/><rect x="92.2" y="83.2" width="0.5" height="0.5"/><rect x="88.2" y="81.3" width="0.5" height="0.5"/><rect x="96.9" y="83.7" width="0.5" height="0.5"/><rect x="96.4" y="82.2" width="0.5" height="0.5"/><rect x="93.9" y="84.5" width="0.5" height="0.5"/><rect x="92.8" y="84.9" width="0.5" height="0.5"/><rect x="90.2" y="80.7" width="0.5" height="0.5"/><rect x="99.4" y="84.8" width="0.5" height="0.5"/><rect x="90.8" y="85.4" width="0.5" height="0.5"/><rect x="98.5" y="76.5" width="0.5" height="0.5"/><rect x="87.5" y="80.3" width="0.5" height="0.5"/><rect x="96.3" y="78.9" width="0.5" height="0.5"/><rect x="97.8" y="79.8" width="0.5" height="0.5"/><rect x="98.7" y="84.1" width="0.5" height="0.5"/><rect x="91.3" y="83.9" width="0.5" height="0.5"/><rect x="88.3" y="84.6" width="0.5" height="0.5"/><rect x="88.1" y="83.0" width="0.5" height="0.5"/><rect x="96.8" y="80.4" width="0.5" height="0.5"/><rect x="90.6" y="82.5" width="0.5" height="0.5"/><rect x="93.2" y="80.6" width="0.5" height="0.5"/><rect x="85.0" y="83.6" width="0.5" height="0.5"/><rect x="82.8" y="87.7" width="0.5" height="0.5"/><rect x="85.4" y="81.7" width="0.5" height="0.5"/><rect x="97.1" y="86.4" width="0.5" height="0.5"/><rect x="86.0" y="81.5" width="0.5" height="0.5"/><rect x="93.5" y="80.0" width="0.5" height="0.5"/><rect x="94.4" y="82.9" width="0.5" height="0.5"/><rect x="82.7" y="86.3" width="0.5" height="0.5"/><rect x="95.7" y="79.6" width="0.5" height="0.5"/><rect x="100.1" y="80.5" width="0.5" height="0.5"/><rect x="89.1" y="79.9" width="0.5" height="0.5"/><rect x="86.8" y="87.8" width="0.5" height="0.5"/><rect x="98.8" y="83.0" width="0.5" height="0.5"/><rect x="90.1" y="83.9" width="0.5" height="0.5"/><rect x="98.9" y="86.5" width="0.5" height="0.5"/><rect x="100.0" y="85.0" width="0.5" height="0.5"/><rect x="98.7" y="87.3" width="0.5" height="0.5"/><rect x="97.4" y="81.0" width="0.5" height="0.5"/><rect x="98.6" y="83.9" width="0.5" height="0.5"/><rect x="90.6" y="79.1" width="0.5" height="0.5"/><rect x="91.5" y="85.2" width="0.5" height="0.5"/><rect x="98.7" y="82.1" width="0.5" height="0.5"/><rect x="94.8" y="83.0" width="0.5" height="0.5"/><rect x="95.7" y="84.3" width="0.5" height="0.5"/><rect x="99.7" y="77.1" width="0.5" height="0.5"/><rect x="100.3" y="78.0" width="0.5" height="0.5"/><rect x="87.2" y="82.1" width="0.5" height="0.5"/><rect x="90.2" y="80.8" width="0.5" height="0.5"/><rect x="96.6" y="81.3" width="0.5" height="0.5"/><rect x="87.4" y="73.5" width="0.5" height="0.5"/><rect x="85.5" y="85.2" width="0.5" height="0.5"/><rect x="84.0" y="79.9" width="0.5" height="0.5"/><rect x="97.1" y="82.8" width="0.5" height="0.5"/><rect x="82.3" y="85.7" width="0.5" height="0.5"/><rect x="98.1" y="76.3" width="0.5" height="0.5"/><rect x="92.4" y="81.0" width="0.5" height="0.5"/><rect x="93.9" y="87.0" width="0.5" height="0.5"/><rect x="92.4" y="80.0" width="0.5" height="0.5"/><rect x="96.3" y="85.1" width="0.5" height="0.5"/><rect x="98.6" y="83.7" width="0.5" height="0.5"/><rect x="90.1" y="80.8" width="0.5" height="0.5"/><rect x="92.7" y="79.1" width="0.5" height="0.5"/><rect x="88.1" y="80.8" width="0.5" height="0.5"/><rect x="85.4" y="80.3" width="0.5" height="0.5"/><rect x="100.6" y="85.4" width="0.5" height="0.5"/><rect x="99.8" y="88.2" width="0.5" height="0.5"/><rect x="100.5" y="75.0" width="0.5" height="0.5"/><rect x="95.6" y="82.5" width="0.5" height="0.5"/><rect x="96.5" y="80.9" width="0.5" height="0.5"/><rect x="95.4" y="80.7" width="0.5" height="0.5"/><rect x="100.4" y="86.3" width="0.5" height="0.5"/><rect x="93.4" y="80.3" width="0.5" height="0.5"/><rect x="91.0" y="79.7" width="0.5" height="0.5"/><rect x="99.4" y="84.2" width="0.5" height="0.5"/><rect x="96.5" y="82.4" width="0.5" height="0.5"/><rect x="92.8" y="86.3" width="0.5" height="0.5"/><rect x="91.5" y="84.6" width="0.5" height="0.5"/><rect x="95.0" y="78.3" width="0.5" height="0.5"/><rect x="94.7" y="84.1" width="0.5" height="0.5"/><rect x="91.9" y="83.6" width="0.5" height="0.5"/><rect x="99.5" y="83.4" width="0.5" height="0.5"/><rect x="94.5" y="87.2" width="0.5" height="0.5"/><rect x="89.3" y="86.4" width="0.5" height="0.5"/><rect x="85.7" y="79.4" width="0.5" height="0.5"/><rect x="93.5" y="81.5" width="0.5" height="0.5"/><rect x="94.6" y="82.7" width="0.5" height="0.5"/><rect x="86.1" y="86.4" width="0.5" height="0.5"/><rect x="93.9" y="80.8" width="0.5" height="0.5"/><rect x="92.1" y="81.3" width="0.5" height="0.5"/><rect x="85.1" y="75.6" width="0.5" height="0.5"/><rect x="94.5" y="84.5" width="0.5" height="0.5"/><rect x="97.0" y="82.1" width="0.5" height="0.5"/><rect x="100.9" y="80.3" width="0.5" height="0.5"/><rect x="97.1" y="87.2" width="0.5" height="0.5"/><rect x="91.9" y="85.9" width="0.5" height="0.5"/><rect x="87.5" y="86.3" width="0.5" height="0.5"/><rect x="97.9" y="80.9" width="0.5" height="0.5"/><rect x="86.7" y="82.2" width="0.5" height="0.5"/><rect x="88.9" y="80.8" width="0.5" height="0.5"/><rect x="91.5" y="86.6" width="0.5" height="0.5"/><rect x="88.4" y="82.4" width="0.5" height="0.5"/><rect x="90.2" y="81.0" width="0.5" height="0.5"/><rect x="99.5" y="78.5" width="0.5" height="0.5"/><rect x="95.6" y="85.1" width="0.5" height="0.5"/><rect x="99.9" y="78.8" width="0.5" height="0.5"/><rect x="99.2" y="84.8" width="0.5" height="0.5"/><rect x="91.0" y="86.9" width="0.5" height="0.5"/><rect x="97.7" y="79.3" width="0.5" height="0.5"/><rect x="86.4" y="76.2" width="0.5" height="0.5"/><rect x="91.5" y="81.3" width="0.5" height="0.5"/><rect x="97.1" y="73.7" width="0.5" height="0.5"/><rect x="84.1" y="80.7" width="0.5" height="0.5"/><rect x="94.5" y="81.0" width="0.5" height="0.5"/><rect x="98.3" y="87.9" width="0.5" height="0.5"/><rect x="96.4" y="87.1" width="0.5" height="0.5"/><rect x="89.3" y="83.3" width="0.5" height="0.5"/><rect x="98.8" y="85.5" width="0.5" height="0.5"/><rect x="95.0" y="82.5" width="0.5" height="0.5"/><rect x="86.1" y="82.5" width="0.5" height="0.5"/><rect x="98.3" y="83.7" width="0.5" height="0.5"/><rect x="90.0" y="86.0" width="0.5" height="0.5"/><rect x="96.6" y="80.6" width="0.5" height="0.5"/><rect x="99.3" y="83.3" width="0.5" height="0.5"/><rect x="94.3" y="79.7" width="0.5" height="0.5"/><rect x="100.3" y="76.2" width="0.5" height="0.5"/><rect x="82.9" y="80.9" width="0.5" height="0.5"/><rect x="93.7" y="83.6" width="0.5" height="0.5"/><rect x="99.3" y="82.3" width="0.5" height="0.5"/><rect x="87.8" y="81.1" width="0.5" height="0.5"/><rect x="98.5" y="80.5" width="0.5" height="0.5"/><rect x="93.3" y="78.9" width="0.5" height="0.5"/><rect x="87.2" y="83.9" width="0.5" height="0.5"/><rect x="99.3" y="79.2" width="0.5" height="0.5"/><rect x="95.5" y="84.7" width="0.5" height="0.5"/><rect x="88.5" y="83.4" width="0.5" height="0.5"/><rect x="99.6" y="81.1" width="0.5" height="0.5"/><rect x="87.5" y="81.5" width="0.5" height="0.5"/><rect x="91.3" y="77.6" width="0.5" height="0.5"/><rect x="91.8" y="82.9" width="0.5" height="0.5"/><rect x="91.2" y="86.5" width="0.5" height="0.5"/><rect x="90.8" y="82.2" width="0.5" height="0.5"/><rect x="83.3" y="72.2" width="0.5" height="0.5"/><rect x="84.2" y="84.5" width="0.5" height="0.5"/><rect x="86.9" y="80.7" width="0.5" height="0.5"/><rect x="89.7" y="79.6" width="0.5" height="0.5"/><rect x="93.7" y="81.7" width="0.5" height="0.5"/><rect x="94.2" y="86.4" width="0.5" height="0.5"/><rect x="100.4" y="82.9" width="0.5" height="0.5"/><rect x="94.7" y="82.0" width="0.5" height="0.5"/><rect x="97.8" y="86.1" width="0.5" height="0.5"/><rect x="95.8" y="77.7" width="0.5" height="0.5"/><rect x="95.8" y="80.2" width="0.5" height="0.5"/><rect x="98.2" y="84.1" width="0.5" height="0.5"/><rect x="99.3" y="86.8" width="0.5" height="0.5"/><rect x="90.3" y="80.0" width="0.5" height="0.5"/><rect x="97.7" y="81.7" width="0.5" height="0.5"/><rect x="95.8" y="77.9" width="0.5" height="0.5"/><rect x="91.1" y="78.7" width="0.5" height="0.5"/><rect x="84.7" y="80.9" width="0.5" height="0.5"/><rect x="90.9" y="77.4" width="0.5" height="0.5"/><rect x="93.4" y="91.2" width="0.5" height="0.5"/><rect x="91.4" y="82.1" width="0.5" height="0.5"/><rect x="91.1" y="84.5" width="0.5" height="0.5"/><rect x="86.7" y="88.9" width="0.5" height="0.5"/><rect x="92.9" y="82.3" width="0.5" height="0.5"/><rect x="92.8" y="79.4" width="0.5" height="0.5"/><rect x="87.5" y="80.8" width="0.5" height="0.5"/><rect x="84.8" y="81.1" width="0.5" height="0.5"/><rect x="97.2" y="84.8" width="0.5" height="0.5"/><rect x="94.5" y="84.9" width="0.5" height="0.5"/><rect x="99.9" y="80.8" width="0.5" height="0.5"/><rect x="95.0" y="83.9" width="0.5" height="0.5"/><rect x="95.0" y="83.0" width="0.5" height="0.5"/><rect x="100.8" y="78.3" width="0.5" height="0.5"/><rect x="92.5" y="86.6" width="0.5" height="0.5"/><rect x="99.2" y="85.6" width="0.5" height="0.5"/><rect x="99.6" y="83.6" width="0.5" height="0.5"/><rect x="89.7" y="82.0" width="0.5" height="0.5"/><rect x="87.4" y="82.7" width="0.5" height="0.5"/><rect x="89.6" y="81.3" width="0.5" height="0.5"/><rect x="92.0" y="79.7" width="0.5" height="0.5"/><rect x="88.2" y="76.5" width="0.5" height="0.5"/><rect x="96.0" y="77.9" width="0.5" height="0.5"/><rect x="88.1" y="81.1" width="0.5" height="0.5"/><rect x="95.3" y="73.2" width="0.5" height="0.5"/><rect x="85.2" y="84.6" width="0.5" height="0.5"/><rect x="91.0" y="75.5" width="0.5" height="0.5"/><rect x="86.7" y="83.6" width="0.5" height="0.5"/><rect x="99.3" y="85.9" width="0.5" height="0.5"/><rect x="95.9" y="84.1" width="0.5" height="0.5"/><rect x="90.7" y="80.9" width="0.5" height="0.5"/><rect x="97.5" y="79.9" width="0.5" height="0.5"/><rect x="96.5" y="79.2" width="0.5" height="0.5"/><rect x="90.9" y="85.3" width="0.5" height="0.5"/><rect x="84.2" y="83.3" width="0.5" height="0.5"/><rect x="95.7" y="80.0" width="0.5" height="0.5"/><rect x="95.3" y="85.5" width="0.5" height="0.5"/><rect x="89.3" y="81.4" width="0.5" height="0.5"/><rect x="100.0" y="82.1" width="0.5" height="0.5"/><rect x="94.7" y="83.2" width="0.5" height="0.5"/><rect x="95.5" y="81.9" width="0.5" height="0.5"/><rect x="97.2" y="81.3" width="0.5" height="0.5"/><rect x="87.2" y="83.3" width="0.5" height="0.5"/><rect x="86.9" y="82.2" width="0.5" height="0.5"/><rect x="98.5" y="80.5" width="0.5" height="0.5"/><rect x="92.4" y="77.6" width="0.5" height="0.5"/><rect x="94.6" y="80.9" width="0.5" height="0.5"/><rect x="96.2" y="79.5" width="0.5" height="0.5"/><rect x="97.4" y="80.2" width="0.5" height="0.5"/><rect x="89.4" y="80.6" width="0.5" height="0.5"/><rect x="97.9" y="76.3" width="0.5" height="0.5"/><rect x="90.4" y="83.3" width="0.5" height="0.5"/><rect x="92.9" y="72.6" width="0.5" height="0.5"/><rect x="89.8" y="73.9" width="0.5" height="0.5"/><rect x="86.6" y="80.8" width="0.5" height="0.5"/><rect x="82.7" y="77.0" width="0.5" height="0.5"/><rect x="97.9" y="82.8" width="0.5" height="0.5"/><rect x="91.3" y="84.5" width="0.5" height="0.5"/><rect x="97.6" y="81.8" width="0.5" height="0.5"/><rect x="85.5" y="83.8" width="0.5" height="0.5"/><rect x="84.7" y="82.3" width="0.5" height="0.5"/><rect x="93.7" y="80.0" width="0.5" height="0.5"/><rect x="100.2" y="81.3" width="0.5" height="0.5"/><rect x="91.4" y="83.3" width="0.5" height="0.5"/><rect x="97.4" y="83.7" width="0.5" height="0.5"/><rect x="99.9" y="82.4" width="0.5" height="0.5"/><rect x="97.9" y="82.7" width="0.5" height="0.5"/><rect x="89.0" y="86.0" width="0.5" height="0.5"/><rect x="95.8" y="81.6" width="0.5" height="0.5"/><rect x="91.0" y="83.2" width="0.5" height="0.5"/><rect x="90.6" y="78.4" width="0.5" height="0.5"/><rect x="99.7" y="86.4" width="0.5" height="0.5"/><rect x="84.8" y="85.5" width="0.5" height="0.5"/><rect x="96.0" y="76.4" width="0.5" height="0.5"/><rect x="84.7" y="86.0" width="0.5" height="0.5"/><rect x="94.7" y="75.5" width="0.5" height="0.5"/><rect x="100.3" y="86.1" width="0.5" height="0.5"/><rect x="95.7" y="82.4" width="0.5" height="0.5"/><rect x="89.4" y="84.6" width="0.5" height="0.5"/></g>
<path d="M55.00,66.60 C55.40,65.98 56.03,65.58 56.80,65.30 C57.57,65.02 58.42,64.75 59.60,64.90 C60.78,65.05 62.70,65.65 63.90,66.20 C65.10,66.75 66.07,67.72 66.80,68.20 C67.53,68.68 67.65,69.05 68.30,69.10 C68.95,69.15 68.95,68.62 70.70,68.50 C72.45,68.38 75.83,68.15 78.80,68.40 C81.77,68.65 86.08,69.48 88.50,70.00 C90.92,70.52 92.18,70.92 93.30,71.50 C94.42,72.08 95.05,72.77 95.20,73.50 C95.35,74.23 95.00,75.33 94.20,75.90 C93.40,76.47 91.83,76.57 90.40,76.90 C88.97,77.23 86.88,77.42 85.60,77.90 C84.32,78.38 83.35,79.17 82.70,79.80 C82.05,80.43 81.62,81.07 81.70,81.70 C81.78,82.33 82.07,83.03 83.20,83.60 C84.33,84.17 86.82,84.62 88.50,85.10 C90.18,85.58 92.18,85.95 93.30,86.50 C94.42,87.05 94.80,87.68 95.20,88.40 C95.60,89.12 95.78,89.98 95.70,90.80 C95.62,91.62 95.43,92.57 94.70,93.30 C93.97,94.03 93.13,94.78 91.30,95.20 C89.47,95.62 86.58,95.55 83.70,95.80 C80.82,96.05 77.22,96.32 74.00,96.70 C70.78,97.08 67.12,97.72 64.40,98.10 C61.68,98.48 59.30,99.08 57.70,99.00 C56.10,98.92 55.42,98.97 54.80,97.60 C54.18,96.23 54.08,94.33 54.00,90.80 C53.92,87.27 54.23,80.03 54.30,76.40 C54.37,72.77 54.28,70.63 54.40,69.00 C54.52,67.37 54.60,67.22 55.00,66.60Z" fill="#0a1ebe"/>
<g clip-path="url(#cp1)">
<path d="M55.00,66.60 C55.40,65.98 56.03,65.58 56.80,65.30 C57.57,65.02 58.42,64.75 59.60,64.90 C60.78,65.05 62.70,65.65 63.90,66.20 C65.10,66.75 66.07,67.72 66.80,68.20 C67.53,68.68 67.65,69.05 68.30,69.10 C68.95,69.15 68.95,68.62 70.70,68.50 C72.45,68.38 75.83,68.15 78.80,68.40 C81.77,68.65 86.08,69.48 88.50,70.00 C90.92,70.52 92.18,70.92 93.30,71.50 C94.42,72.08 95.05,72.77 95.20,73.50 C95.35,74.23 95.00,75.33 94.20,75.90 C93.40,76.47 91.83,76.57 90.40,76.90 C88.97,77.23 86.88,77.42 85.60,77.90 C84.32,78.38 83.35,79.17 82.70,79.80 C82.05,80.43 81.62,81.07 81.70,81.70 C81.78,82.33 82.07,83.03 83.20,83.60 C84.33,84.17 86.82,84.62 88.50,85.10 C90.18,85.58 92.18,85.95 93.30,86.50 C94.42,87.05 94.80,87.68 95.20,88.40 C95.60,89.12 95.78,89.98 95.70,90.80 C95.62,91.62 95.43,92.57 94.70,93.30 C93.97,94.03 93.13,94.78 91.30,95.20 C89.47,95.62 86.58,95.55 83.70,95.80 C80.82,96.05 77.22,96.32 74.00,96.70 C70.78,97.08 67.12,97.72 64.40,98.10 C61.68,98.48 59.30,99.08 57.70,99.00 C56.10,98.92 55.42,98.97 54.80,97.60 C54.18,96.23 54.08,94.33 54.00,90.80 C53.92,87.27 54.23,80.03 54.30,76.40 C54.37,72.77 54.28,70.63 54.40,69.00 C54.52,67.37 54.60,67.22 55.00,66.60Z" fill="#2452f0" stroke="#0c26c0" stroke-width="1.8" filter="url(#bl3)" transform="translate(0.2,-0.1)"/>
<g filter="url(#bl1)">
<ellipse cx="80.5" cy="72.8" rx="12" ry="2.2" fill="#3468f6"/>
<path d="M56.7,79.8 L71.7,81.8 L92,89.0 L92,94.0 L67.7,96.8 L55.7,97.8 Z" fill="#6cb0ff"/>
<ellipse cx="72.7" cy="88.8" rx="6.5" ry="3.4" fill="#9ccfff"/>
<ellipse cx="81.8" cy="91.7" rx="9" ry="1.8" fill="#8ed0ff"/>
<ellipse cx="60.5" cy="82.1" rx="5.4" ry="16" fill="#5ad8f0"/>
<ellipse cx="61.7" cy="94.8" rx="6" ry="3.5" fill="#64e4d8"/>
</g>
<g filter="url(#bl2)">
<ellipse cx="61.3" cy="75.0" rx="4.4" ry="5.6" fill="#98ee78"/>
<ellipse cx="60.6" cy="81.6" rx="3.2" ry="3" fill="#7ceaa8"/>
<ellipse cx="60.1" cy="89.3" rx="4.4" ry="7.8" fill="#98f070"/>
<ellipse cx="61.1" cy="74.7" rx="2.0" ry="2.8" fill="#eef048"/>
<ellipse cx="59.800000000000004" cy="88.39999999999999" rx="3.0" ry="5.2" fill="#f0e840"/>
</g>
<g filter="url(#bl3)">
<ellipse cx="59.7" cy="88.1" rx="2.8" ry="4.8" fill="#f89a20" transform="rotate(12 59.7 87.8)"/>
<ellipse cx="59.7" cy="87.8" rx="1.9" ry="3.5" fill="#e0180c" transform="rotate(14 59.7 87.8)"/>
</g>
</g>
<ellipse cx="59.9" cy="70.6" rx="8.6" ry="9.6" fill="none" stroke="#505050" stroke-width="0.6" transform="rotate(-10 59.9 70.6)"/>
<ellipse cx="85.5" cy="70.8" rx="13.7" ry="6.8" fill="none" stroke="#505050" stroke-width="0.6" transform="rotate(4 85.5 70.8)"/>
<text x="43.20" y="59.90" font-size="8.5" textLength="19.30" lengthAdjust="spacingAndGlyphs">CMP</text>
<text x="79.00" y="59.90" font-size="8.5" textLength="17.00" lengthAdjust="spacingAndGlyphs">LSK</text>
<text x="96.00" y="71.30" font-size="8.5" textLength="21.00" lengthAdjust="spacingAndGlyphs">4.5%</text>
<text x="36.90" y="81.80" font-size="8.5" textLength="17.60" lengthAdjust="spacingAndGlyphs">22%</text>
<text x="22.30" y="55.90" font-size="6.5" textLength="6.80" lengthAdjust="spacingAndGlyphs">10</text>
<text x="29.30" y="52.65" font-size="4.55" style="stroke-width:0.12px">5</text>
<text x="22.30" y="68.70" font-size="6.5" textLength="6.80" lengthAdjust="spacingAndGlyphs">10</text>
<text x="29.30" y="65.45" font-size="4.55" style="stroke-width:0.12px">4</text>
<text x="22.30" y="81.70" font-size="6.5" textLength="6.80" lengthAdjust="spacingAndGlyphs">10</text>
<text x="29.30" y="78.45" font-size="4.55" style="stroke-width:0.12px">3</text>
<text x="28.40" y="99.60" font-size="6.5" textLength="3.60" lengthAdjust="spacingAndGlyphs">0</text>
<line x1="36.00" y1="97.50" x2="37.00" y2="97.50" stroke="#000" stroke-width="0.8"/>
<text x="56.30" y="127.80" font-size="6.5" text-anchor="middle">0</text>
<text x="70.60" y="127.80" font-size="6.5" textLength="6.80" lengthAdjust="spacingAndGlyphs">10</text>
<text x="77.60" y="124.55" font-size="4.55" style="stroke-width:0.12px">3</text>
<text x="83.90" y="127.80" font-size="6.5" textLength="6.80" lengthAdjust="spacingAndGlyphs">10</text>
<text x="90.90" y="124.55" font-size="4.55" style="stroke-width:0.12px">4</text>
<text x="96.30" y="127.80" font-size="6.5" textLength="6.80" lengthAdjust="spacingAndGlyphs">10</text>
<text x="103.30" y="124.55" font-size="4.55" style="stroke-width:0.12px">5</text>
<rect x="134.3" y="46.4" width="70.69999999999999" height="69.9" fill="none" stroke="#9a9a9a" stroke-width="0.7"/>
<g stroke="#9a9a9a" stroke-width="0.5"><line x1="133.4" y1="48.4" x2="134.3" y2="48.4"/><line x1="133.4" y1="50.8" x2="134.3" y2="50.8"/><line x1="133.4" y1="53.3" x2="134.3" y2="53.3"/><line x1="133.4" y1="55.7" x2="134.3" y2="55.7"/><line x1="133.4" y1="58.2" x2="134.3" y2="58.2"/><line x1="133.4" y1="60.6" x2="134.3" y2="60.6"/><line x1="133.4" y1="63.0" x2="134.3" y2="63.0"/><line x1="133.4" y1="65.5" x2="134.3" y2="65.5"/><line x1="133.4" y1="67.9" x2="134.3" y2="67.9"/><line x1="133.4" y1="70.4" x2="134.3" y2="70.4"/><line x1="133.4" y1="72.8" x2="134.3" y2="72.8"/><line x1="133.4" y1="75.2" x2="134.3" y2="75.2"/><line x1="133.4" y1="77.7" x2="134.3" y2="77.7"/><line x1="133.4" y1="80.1" x2="134.3" y2="80.1"/><line x1="133.4" y1="82.6" x2="134.3" y2="82.6"/><line x1="133.4" y1="85.0" x2="134.3" y2="85.0"/><line x1="133.4" y1="87.5" x2="134.3" y2="87.5"/><line x1="133.4" y1="89.9" x2="134.3" y2="89.9"/><line x1="133.4" y1="92.3" x2="134.3" y2="92.3"/><line x1="133.4" y1="94.8" x2="134.3" y2="94.8"/><line x1="133.4" y1="97.2" x2="134.3" y2="97.2"/><line x1="133.4" y1="99.7" x2="134.3" y2="99.7"/><line x1="133.4" y1="102.1" x2="134.3" y2="102.1"/><line x1="133.4" y1="104.5" x2="134.3" y2="104.5"/><line x1="133.4" y1="107.0" x2="134.3" y2="107.0"/><line x1="133.4" y1="109.4" x2="134.3" y2="109.4"/><line x1="133.4" y1="111.9" x2="134.3" y2="111.9"/><line x1="133.4" y1="114.3" x2="134.3" y2="114.3"/><line x1="136.3" y1="116.3" x2="136.3" y2="117.2"/><line x1="138.8" y1="116.3" x2="138.8" y2="117.2"/><line x1="141.2" y1="116.3" x2="141.2" y2="117.2"/><line x1="143.7" y1="116.3" x2="143.7" y2="117.2"/><line x1="146.2" y1="116.3" x2="146.2" y2="117.2"/><line x1="148.7" y1="116.3" x2="148.7" y2="117.2"/><line x1="151.1" y1="116.3" x2="151.1" y2="117.2"/><line x1="153.6" y1="116.3" x2="153.6" y2="117.2"/><line x1="156.1" y1="116.3" x2="156.1" y2="117.2"/><line x1="158.5" y1="116.3" x2="158.5" y2="117.2"/><line x1="161.0" y1="116.3" x2="161.0" y2="117.2"/><line x1="163.5" y1="116.3" x2="163.5" y2="117.2"/><line x1="165.9" y1="116.3" x2="165.9" y2="117.2"/><line x1="168.4" y1="116.3" x2="168.4" y2="117.2"/><line x1="170.9" y1="116.3" x2="170.9" y2="117.2"/><line x1="173.4" y1="116.3" x2="173.4" y2="117.2"/><line x1="175.8" y1="116.3" x2="175.8" y2="117.2"/><line x1="178.3" y1="116.3" x2="178.3" y2="117.2"/><line x1="180.8" y1="116.3" x2="180.8" y2="117.2"/><line x1="183.2" y1="116.3" x2="183.2" y2="117.2"/><line x1="185.7" y1="116.3" x2="185.7" y2="117.2"/><line x1="188.2" y1="116.3" x2="188.2" y2="117.2"/><line x1="190.6" y1="116.3" x2="190.6" y2="117.2"/><line x1="193.1" y1="116.3" x2="193.1" y2="117.2"/><line x1="195.6" y1="116.3" x2="195.6" y2="117.2"/><line x1="198.1" y1="116.3" x2="198.1" y2="117.2"/><line x1="200.5" y1="116.3" x2="200.5" y2="117.2"/><line x1="203.0" y1="116.3" x2="203.0" y2="117.2"/></g>
<g fill="#8a8a8a"><rect x="178.6" y="78.4" width="0.5" height="0.5"/><rect x="189.8" y="70.9" width="0.5" height="0.5"/><rect x="179.8" y="68.5" width="0.5" height="0.5"/><rect x="152.8" y="96.2" width="0.5" height="0.5"/><rect x="152.1" y="76.3" width="0.5" height="0.5"/><rect x="180.9" y="68.9" width="0.5" height="0.5"/><rect x="193.6" y="94.0" width="0.5" height="0.5"/><rect x="152.4" y="67.1" width="0.5" height="0.5"/><rect x="153.2" y="97.0" width="0.5" height="0.5"/><rect x="192.0" y="72.8" width="0.5" height="0.5"/><rect x="168.2" y="72.0" width="0.5" height="0.5"/><rect x="155.3" y="99.0" width="0.5" height="0.5"/><rect x="179.8" y="80.6" width="0.5" height="0.5"/><rect x="163.1" y="98.7" width="0.5" height="0.5"/><rect x="156.6" y="65.2" width="0.5" height="0.5"/><rect x="165.7" y="70.5" width="0.5" height="0.5"/><rect x="178.9" y="78.7" width="0.5" height="0.5"/><rect x="160.0" y="65.7" width="0.5" height="0.5"/><rect x="183.0" y="84.4" width="0.5" height="0.5"/><rect x="190.6" y="86.6" width="0.5" height="0.5"/><rect x="192.7" y="85.4" width="0.5" height="0.5"/><rect x="158.2" y="65.7" width="0.5" height="0.5"/><rect x="185.5" y="70.1" width="0.5" height="0.5"/><rect x="160.2" y="66.3" width="0.5" height="0.5"/><rect x="156.9" y="65.3" width="0.5" height="0.5"/><rect x="167.1" y="97.4" width="0.5" height="0.5"/><rect x="192.8" y="72.0" width="0.5" height="0.5"/><rect x="161.5" y="99.7" width="0.5" height="0.5"/><rect x="190.6" y="88.3" width="0.5" height="0.5"/><rect x="178.9" y="78.7" width="0.5" height="0.5"/><rect x="193.4" y="96.9" width="0.5" height="0.5"/><rect x="196.0" y="93.5" width="0.5" height="0.5"/><rect x="152.5" y="75.5" width="0.5" height="0.5"/><rect x="166.9" y="95.5" width="0.5" height="0.5"/><rect x="189.1" y="76.2" width="0.5" height="0.5"/><rect x="194.0" y="88.2" width="0.5" height="0.5"/><rect x="151.7" y="68.0" width="0.5" height="0.5"/><rect x="152.1" y="70.9" width="0.5" height="0.5"/><rect x="182.2" y="81.2" width="0.5" height="0.5"/><rect x="172.6" y="98.1" width="0.5" height="0.5"/><rect x="186.3" y="93.6" width="0.5" height="0.5"/><rect x="188.0" y="72.4" width="0.5" height="0.5"/><rect x="157.0" y="99.2" width="0.5" height="0.5"/><rect x="158.8" y="65.2" width="0.5" height="0.5"/><rect x="184.2" y="84.2" width="0.5" height="0.5"/><rect x="164.8" y="69.4" width="0.5" height="0.5"/><rect x="185.8" y="94.8" width="0.5" height="0.5"/><rect x="192.4" y="73.4" width="0.5" height="0.5"/><rect x="150.7" y="76.3" width="0.5" height="0.5"/><rect x="188.7" y="75.5" width="0.5" height="0.5"/><rect x="185.0" y="85.6" width="0.5" height="0.5"/><rect x="177.9" y="81.5" width="0.5" height="0.5"/><rect x="182.8" y="83.8" width="0.5" height="0.5"/><rect x="163.6" y="68.0" width="0.5" height="0.5"/><rect x="184.6" y="72.4" width="0.5" height="0.5"/><rect x="190.4" y="86.6" width="0.5" height="0.5"/><rect x="156.6" y="64.8" width="0.5" height="0.5"/><rect x="189.4" y="69.3" width="0.5" height="0.5"/><rect x="159.0" y="65.7" width="0.5" height="0.5"/><rect x="152.0" y="90.6" width="0.5" height="0.5"/><rect x="156.3" y="64.8" width="0.5" height="0.5"/><rect x="178.9" y="78.1" width="0.5" height="0.5"/><rect x="190.3" y="70.3" width="0.5" height="0.5"/><rect x="180.1" y="67.7" width="0.5" height="0.5"/><rect x="194.9" y="90.4" width="0.5" height="0.5"/><rect x="151.7" y="97.9" width="0.5" height="0.5"/><rect x="181.1" y="78.7" width="0.5" height="0.5"/><rect x="195.8" y="90.1" width="0.5" height="0.5"/><rect x="159.5" y="98.1" width="0.5" height="0.5"/><rect x="179.3" y="81.0" width="0.5" height="0.5"/><rect x="151.2" y="96.4" width="0.5" height="0.5"/><rect x="156.2" y="67.1" width="0.5" height="0.5"/><rect x="191.0" y="75.9" width="0.5" height="0.5"/><rect x="159.5" y="65.3" width="0.5" height="0.5"/><rect x="179.4" y="82.3" width="0.5" height="0.5"/><rect x="180.0" y="97.6" width="0.5" height="0.5"/><rect x="151.7" y="67.6" width="0.5" height="0.5"/><rect x="179.7" y="77.9" width="0.5" height="0.5"/><rect x="165.8" y="69.5" width="0.5" height="0.5"/><rect x="190.8" y="90.9" width="0.5" height="0.5"/><rect x="191.0" y="75.3" width="0.5" height="0.5"/><rect x="178.5" y="79.7" width="0.5" height="0.5"/><rect x="186.6" y="71.1" width="0.5" height="0.5"/><rect x="171.3" y="71.3" width="0.5" height="0.5"/><rect x="188.6" y="93.9" width="0.5" height="0.5"/><rect x="184.4" y="77.6" width="0.5" height="0.5"/><rect x="178.8" y="82.3" width="0.5" height="0.5"/><rect x="190.4" y="86.3" width="0.5" height="0.5"/><rect x="152.0" y="76.5" width="0.5" height="0.5"/><rect x="168.3" y="97.2" width="0.5" height="0.5"/><rect x="195.3" y="91.9" width="0.5" height="0.5"/><rect x="155.4" y="64.7" width="0.5" height="0.5"/><rect x="159.9" y="65.3" width="0.5" height="0.5"/><rect x="166.3" y="69.0" width="0.5" height="0.5"/><rect x="152.8" y="97.0" width="0.5" height="0.5"/><rect x="191.9" y="73.6" width="0.5" height="0.5"/><rect x="167.4" y="69.8" width="0.5" height="0.5"/><rect x="161.4" y="66.1" width="0.5" height="0.5"/><rect x="156.1" y="64.8" width="0.5" height="0.5"/><rect x="178.0" y="95.6" width="0.5" height="0.5"/><rect x="166.6" y="96.6" width="0.5" height="0.5"/><rect x="152.0" y="68.4" width="0.5" height="0.5"/><rect x="192.5" y="88.1" width="0.5" height="0.5"/><rect x="171.1" y="67.6" width="0.5" height="0.5"/><rect x="181.9" y="68.3" width="0.5" height="0.5"/><rect x="184.8" y="69.5" width="0.5" height="0.5"/><rect x="173.9" y="68.5" width="0.5" height="0.5"/><rect x="159.2" y="66.7" width="0.5" height="0.5"/><rect x="165.8" y="96.5" width="0.5" height="0.5"/><rect x="191.7" y="73.0" width="0.5" height="0.5"/><rect x="151.4" y="87.6" width="0.5" height="0.5"/><rect x="152.1" y="67.4" width="0.5" height="0.5"/><rect x="153.6" y="98.1" width="0.5" height="0.5"/><rect x="151.9" y="66.3" width="0.5" height="0.5"/><rect x="189.4" y="74.8" width="0.5" height="0.5"/><rect x="167.9" y="69.5" width="0.5" height="0.5"/><rect x="190.7" y="75.8" width="0.5" height="0.5"/><rect x="163.6" y="67.2" width="0.5" height="0.5"/><rect x="161.0" y="66.8" width="0.5" height="0.5"/><rect x="167.4" y="69.1" width="0.5" height="0.5"/><rect x="154.2" y="64.0" width="0.5" height="0.5"/><rect x="178.5" y="79.1" width="0.5" height="0.5"/><rect x="185.9" y="77.0" width="0.5" height="0.5"/><rect x="158.8" y="64.0" width="0.5" height="0.5"/><rect x="153.0" y="67.1" width="0.5" height="0.5"/><rect x="179.4" y="68.9" width="0.5" height="0.5"/><rect x="191.7" y="87.5" width="0.5" height="0.5"/><rect x="155.1" y="65.9" width="0.5" height="0.5"/><rect x="175.7" y="66.3" width="0.5" height="0.5"/><rect x="152.0" y="98.9" width="0.5" height="0.5"/><rect x="160.5" y="63.9" width="0.5" height="0.5"/><rect x="194.1" y="89.0" width="0.5" height="0.5"/><rect x="159.9" y="65.4" width="0.5" height="0.5"/><rect x="182.1" y="78.1" width="0.5" height="0.5"/><rect x="194.9" y="93.3" width="0.5" height="0.5"/><rect x="192.8" y="93.6" width="0.5" height="0.5"/><rect x="152.1" y="79.2" width="0.5" height="0.5"/><rect x="155.4" y="63.2" width="0.5" height="0.5"/><rect x="167.2" y="69.1" width="0.5" height="0.5"/><rect x="168.5" y="68.6" width="0.5" height="0.5"/><rect x="180.3" y="80.9" width="0.5" height="0.5"/><rect x="188.1" y="86.1" width="0.5" height="0.5"/><rect x="185.3" y="76.2" width="0.5" height="0.5"/><rect x="160.0" y="99.3" width="0.5" height="0.5"/><rect x="151.1" y="83.3" width="0.5" height="0.5"/><rect x="159.0" y="65.0" width="0.5" height="0.5"/><rect x="177.1" y="69.4" width="0.5" height="0.5"/><rect x="186.6" y="95.6" width="0.5" height="0.5"/><rect x="166.1" y="68.8" width="0.5" height="0.5"/><rect x="190.7" y="71.8" width="0.5" height="0.5"/><rect x="155.3" y="64.4" width="0.5" height="0.5"/><rect x="177.7" y="76.4" width="0.5" height="0.5"/><rect x="152.5" y="67.3" width="0.5" height="0.5"/><rect x="194.4" y="94.0" width="0.5" height="0.5"/><rect x="152.0" y="83.0" width="0.5" height="0.5"/><rect x="194.6" y="93.2" width="0.5" height="0.5"/><rect x="184.1" y="84.3" width="0.5" height="0.5"/><rect x="171.9" y="95.6" width="0.5" height="0.5"/><rect x="172.5" y="96.6" width="0.5" height="0.5"/><rect x="185.5" y="68.8" width="0.5" height="0.5"/><rect x="190.7" y="76.8" width="0.5" height="0.5"/><rect x="192.5" y="73.1" width="0.5" height="0.5"/><rect x="163.6" y="68.7" width="0.5" height="0.5"/><rect x="165.2" y="68.4" width="0.5" height="0.5"/><rect x="187.9" y="77.1" width="0.5" height="0.5"/><rect x="188.4" y="70.7" width="0.5" height="0.5"/><rect x="178.8" y="78.4" width="0.5" height="0.5"/><rect x="156.1" y="64.8" width="0.5" height="0.5"/><rect x="183.2" y="78.8" width="0.5" height="0.5"/><rect x="152.4" y="72.4" width="0.5" height="0.5"/><rect x="183.1" y="76.2" width="0.5" height="0.5"/><rect x="195.9" y="89.9" width="0.5" height="0.5"/><rect x="169.8" y="70.9" width="0.5" height="0.5"/><rect x="183.3" y="69.3" width="0.5" height="0.5"/><rect x="190.1" y="69.7" width="0.5" height="0.5"/><rect x="149.8" y="99.6" width="0.5" height="0.5"/><rect x="151.9" y="95.2" width="0.5" height="0.5"/><rect x="178.5" y="80.5" width="0.5" height="0.5"/><rect x="190.8" y="73.2" width="0.5" height="0.5"/><rect x="182.6" y="94.8" width="0.5" height="0.5"/><rect x="180.7" y="82.5" width="0.5" height="0.5"/><rect x="182.2" y="95.8" width="0.5" height="0.5"/><rect x="191.9" y="71.6" width="0.5" height="0.5"/><rect x="155.4" y="65.2" width="0.5" height="0.5"/><rect x="154.0" y="65.0" width="0.5" height="0.5"/><rect x="194.9" y="90.5" width="0.5" height="0.5"/><rect x="168.5" y="68.0" width="0.5" height="0.5"/><rect x="192.8" y="73.7" width="0.5" height="0.5"/><rect x="193.2" y="87.5" width="0.5" height="0.5"/><rect x="184.1" y="77.2" width="0.5" height="0.5"/><rect x="186.0" y="77.0" width="0.5" height="0.5"/><rect x="151.1" y="79.2" width="0.5" height="0.5"/><rect x="164.9" y="68.1" width="0.5" height="0.5"/><rect x="184.1" y="85.2" width="0.5" height="0.5"/><rect x="154.4" y="67.1" width="0.5" height="0.5"/><rect x="165.8" y="98.0" width="0.5" height="0.5"/><rect x="180.3" y="83.0" width="0.5" height="0.5"/><rect x="188.4" y="72.3" width="0.5" height="0.5"/><rect x="152.1" y="80.5" width="0.5" height="0.5"/><rect x="177.9" y="81.2" width="0.5" height="0.5"/><rect x="168.6" y="68.4" width="0.5" height="0.5"/><rect x="182.2" y="83.0" width="0.5" height="0.5"/><rect x="179.0" y="78.7" width="0.5" height="0.5"/><rect x="189.5" y="84.7" width="0.5" height="0.5"/><rect x="161.2" y="65.9" width="0.5" height="0.5"/><rect x="193.9" y="89.6" width="0.5" height="0.5"/><rect x="188.9" y="76.6" width="0.5" height="0.5"/><rect x="152.7" y="96.0" width="0.5" height="0.5"/><rect x="151.6" y="69.5" width="0.5" height="0.5"/><rect x="154.1" y="98.3" width="0.5" height="0.5"/><rect x="153.4" y="96.1" width="0.5" height="0.5"/><rect x="183.2" y="75.4" width="0.5" height="0.5"/><rect x="185.0" y="77.1" width="0.5" height="0.5"/><rect x="179.5" y="78.2" width="0.5" height="0.5"/><rect x="166.3" y="68.5" width="0.5" height="0.5"/><rect x="152.8" y="62.8" width="0.5" height="0.5"/><rect x="194.5" y="89.7" width="0.5" height="0.5"/><rect x="172.8" y="94.9" width="0.5" height="0.5"/><rect x="165.4" y="68.4" width="0.5" height="0.5"/><rect x="192.0" y="72.9" width="0.5" height="0.5"/><rect x="151.6" y="68.1" width="0.5" height="0.5"/><rect x="164.3" y="97.5" width="0.5" height="0.5"/><rect x="167.0" y="99.6" width="0.5" height="0.5"/><rect x="178.0" y="70.3" width="0.5" height="0.5"/><rect x="184.6" y="79.1" width="0.5" height="0.5"/><rect x="162.4" y="98.6" width="0.5" height="0.5"/><rect x="189.4" y="75.3" width="0.5" height="0.5"/><rect x="182.9" y="84.7" width="0.5" height="0.5"/><rect x="190.6" y="88.2" width="0.5" height="0.5"/><rect x="179.7" y="82.3" width="0.5" height="0.5"/><rect x="189.7" y="75.8" width="0.5" height="0.5"/><rect x="152.2" y="77.3" width="0.5" height="0.5"/><rect x="152.1" y="86.6" width="0.5" height="0.5"/><rect x="151.1" y="87.9" width="0.5" height="0.5"/><rect x="159.9" y="65.4" width="0.5" height="0.5"/><rect x="181.3" y="77.2" width="0.5" height="0.5"/><rect x="184.7" y="70.1" width="0.5" height="0.5"/><rect x="191.7" y="87.1" width="0.5" height="0.5"/><rect x="160.3" y="65.0" width="0.5" height="0.5"/><rect x="161.2" y="99.2" width="0.5" height="0.5"/><rect x="194.9" y="93.3" width="0.5" height="0.5"/><rect x="154.1" y="99.0" width="0.5" height="0.5"/><rect x="152.9" y="98.4" width="0.5" height="0.5"/><rect x="193.5" y="87.5" width="0.5" height="0.5"/><rect x="191.3" y="70.4" width="0.5" height="0.5"/><rect x="155.8" y="100.2" width="0.5" height="0.5"/><rect x="178.5" y="76.5" width="0.5" height="0.5"/><rect x="188.4" y="70.0" width="0.5" height="0.5"/><rect x="195.7" y="91.2" width="0.5" height="0.5"/><rect x="168.2" y="68.9" width="0.5" height="0.5"/><rect x="154.8" y="66.0" width="0.5" height="0.5"/><rect x="165.4" y="68.1" width="0.5" height="0.5"/><rect x="180.8" y="84.7" width="0.5" height="0.5"/><rect x="153.0" y="67.1" width="0.5" height="0.5"/><rect x="187.0" y="86.4" width="0.5" height="0.5"/><rect x="154.5" y="65.4" width="0.5" height="0.5"/><rect x="190.8" y="70.4" width="0.5" height="0.5"/><rect x="183.6" y="77.3" width="0.5" height="0.5"/><rect x="178.6" y="77.3" width="0.5" height="0.5"/><rect x="184.1" y="77.3" width="0.5" height="0.5"/><rect x="151.8" y="93.6" width="0.5" height="0.5"/><rect x="159.1" y="66.2" width="0.5" height="0.5"/><rect x="194.1" y="90.7" width="0.5" height="0.5"/><rect x="181.1" y="69.2" width="0.5" height="0.5"/><rect x="158.0" y="66.6" width="0.5" height="0.5"/><rect x="192.8" y="88.8" width="0.5" height="0.5"/><rect x="157.5" y="99.1" width="0.5" height="0.5"/><rect x="150.9" y="68.5" width="0.5" height="0.5"/><rect x="168.0" y="97.4" width="0.5" height="0.5"/><rect x="181.6" y="83.6" width="0.5" height="0.5"/><rect x="182.5" y="83.4" width="0.5" height="0.5"/><rect x="179.3" y="68.5" width="0.5" height="0.5"/><rect x="155.3" y="99.4" width="0.5" height="0.5"/><rect x="164.7" y="69.1" width="0.5" height="0.5"/><rect x="153.8" y="66.1" width="0.5" height="0.5"/><rect x="186.2" y="70.1" width="0.5" height="0.5"/><rect x="193.1" y="88.8" width="0.5" height="0.5"/><rect x="154.2" y="65.8" width="0.5" height="0.5"/><rect x="152.1" y="94.9" width="0.5" height="0.5"/><rect x="167.7" y="69.7" width="0.5" height="0.5"/><rect x="191.1" y="85.9" width="0.5" height="0.5"/><rect x="150.9" y="66.2" width="0.5" height="0.5"/><rect x="159.0" y="63.8" width="0.5" height="0.5"/><rect x="158.4" y="64.1" width="0.5" height="0.5"/><rect x="194.4" y="92.4" width="0.5" height="0.5"/><rect x="153.0" y="66.4" width="0.5" height="0.5"/><rect x="152.5" y="76.0" width="0.5" height="0.5"/><rect x="177.4" y="78.2" width="0.5" height="0.5"/><rect x="158.6" y="64.8" width="0.5" height="0.5"/><rect x="153.3" y="66.7" width="0.5" height="0.5"/><rect x="158.6" y="65.8" width="0.5" height="0.5"/><rect x="192.8" y="95.3" width="0.5" height="0.5"/><rect x="169.0" y="68.0" width="0.5" height="0.5"/><rect x="194.3" y="92.6" width="0.5" height="0.5"/><rect x="178.6" y="78.2" width="0.5" height="0.5"/><rect x="152.6" y="95.6" width="0.5" height="0.5"/><rect x="152.2" y="79.5" width="0.5" height="0.5"/><rect x="180.8" y="79.6" width="0.5" height="0.5"/><rect x="193.5" y="96.3" width="0.5" height="0.5"/><rect x="192.8" y="73.9" width="0.5" height="0.5"/><rect x="181.5" y="74.2" width="0.5" height="0.5"/><rect x="182.9" y="82.6" width="0.5" height="0.5"/><rect x="152.1" y="96.1" width="0.5" height="0.5"/><rect x="152.3" y="65.9" width="0.5" height="0.5"/><rect x="184.9" y="76.1" width="0.5" height="0.5"/><rect x="188.7" y="75.4" width="0.5" height="0.5"/><rect x="159.7" y="66.3" width="0.5" height="0.5"/><rect x="159.9" y="64.9" width="0.5" height="0.5"/><rect x="167.0" y="71.3" width="0.5" height="0.5"/><rect x="177.9" y="79.0" width="0.5" height="0.5"/><rect x="151.8" y="96.0" width="0.5" height="0.5"/><rect x="153.6" y="65.9" width="0.5" height="0.5"/><rect x="164.3" y="66.8" width="0.5" height="0.5"/><rect x="156.8" y="100.7" width="0.5" height="0.5"/><rect x="183.1" y="77.4" width="0.5" height="0.5"/><rect x="175.6" y="68.4" width="0.5" height="0.5"/><rect x="186.0" y="94.0" width="0.5" height="0.5"/><rect x="164.6" y="98.6" width="0.5" height="0.5"/><rect x="157.2" y="100.5" width="0.5" height="0.5"/><rect x="163.2" y="66.8" width="0.5" height="0.5"/><rect x="188.0" y="86.0" width="0.5" height="0.5"/><rect x="159.2" y="67.5" width="0.5" height="0.5"/><rect x="162.0" y="100.0" width="0.5" height="0.5"/><rect x="179.1" y="79.5" width="0.5" height="0.5"/><rect x="153.5" y="66.2" width="0.5" height="0.5"/><rect x="186.2" y="77.7" width="0.5" height="0.5"/><rect x="154.4" y="64.9" width="0.5" height="0.5"/><rect x="174.6" y="96.3" width="0.5" height="0.5"/><rect x="169.1" y="70.4" width="0.5" height="0.5"/><rect x="189.7" y="71.4" width="0.5" height="0.5"/><rect x="180.4" y="68.7" width="0.5" height="0.5"/><rect x="188.1" y="75.6" width="0.5" height="0.5"/><rect x="165.3" y="68.3" width="0.5" height="0.5"/><rect x="182.4" y="97.2" width="0.5" height="0.5"/><rect x="152.2" y="92.6" width="0.5" height="0.5"/><rect x="192.4" y="97.9" width="0.5" height="0.5"/><rect x="180.3" y="77.8" width="0.5" height="0.5"/><rect x="151.3" y="63.8" width="0.5" height="0.5"/><rect x="151.7" y="75.6" width="0.5" height="0.5"/><rect x="161.7" y="64.8" width="0.5" height="0.5"/><rect x="161.1" y="63.3" width="0.5" height="0.5"/><rect x="179.4" y="78.5" width="0.5" height="0.5"/><rect x="157.2" y="66.0" width="0.5" height="0.5"/><rect x="154.8" y="65.7" width="0.5" height="0.5"/><rect x="160.2" y="97.1" width="0.5" height="0.5"/><rect x="187.6" y="76.0" width="0.5" height="0.5"/><rect x="182.8" y="86.1" width="0.5" height="0.5"/><rect x="160.4" y="65.8" width="0.5" height="0.5"/><rect x="177.6" y="80.1" width="0.5" height="0.5"/><rect x="159.9" y="64.1" width="0.5" height="0.5"/><rect x="190.1" y="76.9" width="0.5" height="0.5"/><rect x="182.2" y="83.1" width="0.5" height="0.5"/><rect x="190.7" y="86.3" width="0.5" height="0.5"/><rect x="189.5" y="94.5" width="0.5" height="0.5"/><rect x="195.4" y="91.6" width="0.5" height="0.5"/><rect x="191.7" y="74.8" width="0.5" height="0.5"/><rect x="187.8" y="77.2" width="0.5" height="0.5"/><rect x="180.6" y="82.7" width="0.5" height="0.5"/><rect x="178.5" y="67.9" width="0.5" height="0.5"/><rect x="188.4" y="71.5" width="0.5" height="0.5"/><rect x="158.3" y="65.1" width="0.5" height="0.5"/><rect x="180.0" y="69.0" width="0.5" height="0.5"/><rect x="149.4" y="63.5" width="0.5" height="0.5"/><rect x="171.0" y="68.7" width="0.5" height="0.5"/><rect x="193.1" y="73.7" width="0.5" height="0.5"/><rect x="192.2" y="74.3" width="0.5" height="0.5"/><rect x="179.6" y="79.9" width="0.5" height="0.5"/><rect x="152.3" y="70.1" width="0.5" height="0.5"/><rect x="151.6" y="89.3" width="0.5" height="0.5"/><rect x="164.5" y="67.8" width="0.5" height="0.5"/><rect x="190.6" y="72.0" width="0.5" height="0.5"/><rect x="194.3" y="89.3" width="0.5" height="0.5"/><rect x="166.0" y="69.5" width="0.5" height="0.5"/><rect x="177.8" y="77.3" width="0.5" height="0.5"/><rect x="187.6" y="69.8" width="0.5" height="0.5"/><rect x="179.2" y="77.9" width="0.5" height="0.5"/><rect x="151.7" y="79.9" width="0.5" height="0.5"/><rect x="168.7" y="68.8" width="0.5" height="0.5"/><rect x="185.5" y="84.4" width="0.5" height="0.5"/><rect x="194.2" y="91.4" width="0.5" height="0.5"/><rect x="175.1" y="96.4" width="0.5" height="0.5"/><rect x="191.9" y="87.3" width="0.5" height="0.5"/><rect x="189.7" y="72.3" width="0.5" height="0.5"/><rect x="185.0" y="68.8" width="0.5" height="0.5"/><rect x="188.5" y="70.0" width="0.5" height="0.5"/><rect x="179.4" y="83.6" width="0.5" height="0.5"/><rect x="154.9" y="65.7" width="0.5" height="0.5"/><rect x="166.7" y="70.9" width="0.5" height="0.5"/><rect x="184.3" y="69.5" width="0.5" height="0.5"/><rect x="181.5" y="76.3" width="0.5" height="0.5"/><rect x="182.2" y="69.3" width="0.5" height="0.5"/><rect x="190.0" y="77.8" width="0.5" height="0.5"/><rect x="179.4" y="67.8" width="0.5" height="0.5"/><rect x="195.3" y="93.4" width="0.5" height="0.5"/><rect x="193.8" y="91.1" width="0.5" height="0.5"/><rect x="153.4" y="98.7" width="0.5" height="0.5"/><rect x="180.9" y="84.4" width="0.5" height="0.5"/><rect x="164.7" y="65.1" width="0.5" height="0.5"/><rect x="151.8" y="73.2" width="0.5" height="0.5"/><rect x="153.0" y="97.1" width="0.5" height="0.5"/><rect x="191.5" y="73.4" width="0.5" height="0.5"/><rect x="169.7" y="96.8" width="0.5" height="0.5"/><rect x="177.3" y="68.2" width="0.5" height="0.5"/><rect x="153.8" y="66.5" width="0.5" height="0.5"/><rect x="166.6" y="69.3" width="0.5" height="0.5"/><rect x="159.1" y="99.9" width="0.5" height="0.5"/><rect x="155.2" y="69.4" width="0.5" height="0.5"/><rect x="191.1" y="75.5" width="0.5" height="0.5"/><rect x="192.7" y="73.3" width="0.5" height="0.5"/><rect x="157.8" y="65.3" width="0.5" height="0.5"/><rect x="159.0" y="64.9" width="0.5" height="0.5"/><rect x="154.3" y="99.2" width="0.5" height="0.5"/><rect x="166.6" y="68.4" width="0.5" height="0.5"/><rect x="165.3" y="69.5" width="0.5" height="0.5"/><rect x="192.0" y="73.1" width="0.5" height="0.5"/><rect x="161.8" y="67.7" width="0.5" height="0.5"/><rect x="152.1" y="85.3" width="0.5" height="0.5"/><rect x="157.0" y="65.8" width="0.5" height="0.5"/><rect x="180.0" y="78.3" width="0.5" height="0.5"/><rect x="189.3" y="93.0" width="0.5" height="0.5"/><rect x="188.3" y="85.6" width="0.5" height="0.5"/><rect x="155.9" y="99.3" width="0.5" height="0.5"/><rect x="176.5" y="68.2" width="0.5" height="0.5"/><rect x="181.4" y="68.6" width="0.5" height="0.5"/><rect x="187.3" y="71.9" width="0.5" height="0.5"/><rect x="160.4" y="98.6" width="0.5" height="0.5"/><rect x="151.5" y="84.3" width="0.5" height="0.5"/><rect x="153.4" y="97.1" width="0.5" height="0.5"/><rect x="155.3" y="65.1" width="0.5" height="0.5"/><rect x="183.6" y="70.4" width="0.5" height="0.5"/><rect x="163.4" y="66.5" width="0.5" height="0.5"/><rect x="181.6" y="80.4" width="0.5" height="0.5"/><rect x="164.1" y="67.3" width="0.5" height="0.5"/><rect x="152.2" y="86.1" width="0.5" height="0.5"/><rect x="190.4" y="74.6" width="0.5" height="0.5"/><rect x="192.3" y="87.2" width="0.5" height="0.5"/><rect x="190.3" y="74.4" width="0.5" height="0.5"/><rect x="188.8" y="69.8" width="0.5" height="0.5"/><rect x="189.9" y="88.5" width="0.5" height="0.5"/><rect x="159.3" y="65.0" width="0.5" height="0.5"/><rect x="192.5" y="75.7" width="0.5" height="0.5"/><rect x="156.1" y="100.1" width="0.5" height="0.5"/><rect x="151.4" y="98.4" width="0.5" height="0.5"/><rect x="152.3" y="73.2" width="0.5" height="0.5"/><rect x="166.5" y="67.2" width="0.5" height="0.5"/><rect x="189.9" y="78.2" width="0.5" height="0.5"/><rect x="190.6" y="86.4" width="0.5" height="0.5"/><rect x="184.4" y="76.8" width="0.5" height="0.5"/><rect x="193.8" y="93.8" width="0.5" height="0.5"/><rect x="152.5" y="94.5" width="0.5" height="0.5"/><rect x="179.4" y="82.9" width="0.5" height="0.5"/><rect x="190.0" y="70.1" width="0.5" height="0.5"/><rect x="166.8" y="98.2" width="0.5" height="0.5"/><rect x="153.2" y="98.0" width="0.5" height="0.5"/><rect x="176.3" y="95.7" width="0.5" height="0.5"/><rect x="154.1" y="68.3" width="0.5" height="0.5"/><rect x="157.5" y="64.0" width="0.5" height="0.5"/><rect x="152.6" y="69.3" width="0.5" height="0.5"/><rect x="192.2" y="73.4" width="0.5" height="0.5"/><rect x="179.2" y="67.7" width="0.5" height="0.5"/><rect x="152.5" y="98.3" width="0.5" height="0.5"/><rect x="187.7" y="95.2" width="0.5" height="0.5"/><rect x="155.2" y="99.3" width="0.5" height="0.5"/><rect x="192.1" y="74.0" width="0.5" height="0.5"/><rect x="165.5" y="68.1" width="0.5" height="0.5"/><rect x="151.4" y="69.7" width="0.5" height="0.5"/><rect x="151.9" y="96.3" width="0.5" height="0.5"/><rect x="185.3" y="94.6" width="0.5" height="0.5"/><rect x="152.4" y="72.1" width="0.5" height="0.5"/><rect x="152.2" y="83.4" width="0.5" height="0.5"/><rect x="155.3" y="99.2" width="0.5" height="0.5"/><rect x="155.1" y="65.5" width="0.5" height="0.5"/><rect x="190.9" y="78.5" width="0.5" height="0.5"/><rect x="178.4" y="82.0" width="0.5" height="0.5"/><rect x="183.5" y="83.8" width="0.5" height="0.5"/><rect x="179.2" y="84.5" width="0.5" height="0.5"/><rect x="153.1" y="77.1" width="0.5" height="0.5"/><rect x="195.9" y="91.0" width="0.5" height="0.5"/><rect x="157.1" y="62.9" width="0.5" height="0.5"/><rect x="169.9" y="68.2" width="0.5" height="0.5"/><rect x="175.3" y="97.2" width="0.5" height="0.5"/><rect x="196.8" y="91.0" width="0.5" height="0.5"/><rect x="166.0" y="66.9" width="0.5" height="0.5"/><rect x="152.8" y="84.4" width="0.5" height="0.5"/><rect x="152.2" y="83.6" width="0.5" height="0.5"/><rect x="154.3" y="99.9" width="0.5" height="0.5"/><rect x="168.4" y="97.3" width="0.5" height="0.5"/><rect x="188.4" y="86.3" width="0.5" height="0.5"/><rect x="190.6" y="86.5" width="0.5" height="0.5"/><rect x="179.4" y="77.5" width="0.5" height="0.5"/><rect x="153.6" y="91.1" width="0.5" height="0.5"/><rect x="163.8" y="67.4" width="0.5" height="0.5"/><rect x="156.5" y="64.2" width="0.5" height="0.5"/><rect x="156.8" y="99.3" width="0.5" height="0.5"/><rect x="166.0" y="67.3" width="0.5" height="0.5"/><rect x="178.8" y="76.3" width="0.5" height="0.5"/><rect x="192.9" y="92.8" width="0.5" height="0.5"/><rect x="159.6" y="64.5" width="0.5" height="0.5"/><rect x="166.2" y="97.9" width="0.5" height="0.5"/><rect x="150.6" y="76.8" width="0.5" height="0.5"/><rect x="152.3" y="65.7" width="0.5" height="0.5"/><rect x="161.5" y="99.7" width="0.5" height="0.5"/><rect x="152.6" y="69.8" width="0.5" height="0.5"/><rect x="179.1" y="81.6" width="0.5" height="0.5"/><rect x="152.5" y="87.6" width="0.5" height="0.5"/><rect x="179.2" y="69.3" width="0.5" height="0.5"/><rect x="153.0" y="95.3" width="0.5" height="0.5"/><rect x="186.6" y="77.0" width="0.5" height="0.5"/><rect x="167.5" y="68.5" width="0.5" height="0.5"/><rect x="162.4" y="66.7" width="0.5" height="0.5"/><rect x="182.2" y="84.1" width="0.5" height="0.5"/><rect x="190.0" y="73.1" width="0.5" height="0.5"/><rect x="193.8" y="91.4" width="0.5" height="0.5"/><rect x="179.8" y="77.6" width="0.5" height="0.5"/><rect x="186.5" y="76.1" width="0.5" height="0.5"/><rect x="193.4" y="92.9" width="0.5" height="0.5"/><rect x="191.9" y="91.0" width="0.5" height="0.5"/><rect x="188.0" y="85.2" width="0.5" height="0.5"/><rect x="179.5" y="77.1" width="0.5" height="0.5"/><rect x="154.6" y="98.8" width="0.5" height="0.5"/><rect x="165.4" y="69.3" width="0.5" height="0.5"/><rect x="193.8" y="92.1" width="0.5" height="0.5"/><rect x="168.5" y="69.5" width="0.5" height="0.5"/><rect x="151.6" y="80.0" width="0.5" height="0.5"/><rect x="153.1" y="86.9" width="0.5" height="0.5"/><rect x="187.1" y="76.9" width="0.5" height="0.5"/><rect x="190.1" y="76.3" width="0.5" height="0.5"/><rect x="194.2" y="93.0" width="0.5" height="0.5"/><rect x="154.4" y="65.6" width="0.5" height="0.5"/><rect x="190.8" y="85.7" width="0.5" height="0.5"/><rect x="193.2" y="73.8" width="0.5" height="0.5"/><rect x="171.2" y="66.7" width="0.5" height="0.5"/><rect x="164.8" y="67.9" width="0.5" height="0.5"/><rect x="153.6" y="98.6" width="0.5" height="0.5"/><rect x="167.1" y="69.1" width="0.5" height="0.5"/><rect x="165.7" y="69.3" width="0.5" height="0.5"/><rect x="154.7" y="99.0" width="0.5" height="0.5"/><rect x="158.1" y="98.0" width="0.5" height="0.5"/><rect x="192.0" y="72.3" width="0.5" height="0.5"/><rect x="160.2" y="99.0" width="0.5" height="0.5"/><rect x="178.2" y="78.9" width="0.5" height="0.5"/><rect x="174.8" y="68.4" width="0.5" height="0.5"/><rect x="177.9" y="78.3" width="0.5" height="0.5"/><rect x="154.3" y="64.5" width="0.5" height="0.5"/><rect x="165.3" y="67.8" width="0.5" height="0.5"/><rect x="191.3" y="94.0" width="0.5" height="0.5"/><rect x="169.9" y="96.8" width="0.5" height="0.5"/><rect x="155.0" y="64.8" width="0.5" height="0.5"/><rect x="194.6" y="94.1" width="0.5" height="0.5"/><rect x="155.4" y="64.5" width="0.5" height="0.5"/><rect x="165.2" y="68.2" width="0.5" height="0.5"/><rect x="188.8" y="85.1" width="0.5" height="0.5"/><rect x="189.4" y="85.3" width="0.5" height="0.5"/><rect x="175.0" y="67.5" width="0.5" height="0.5"/><rect x="181.2" y="77.9" width="0.5" height="0.5"/><rect x="167.0" y="69.3" width="0.5" height="0.5"/><rect x="190.8" y="71.7" width="0.5" height="0.5"/><rect x="153.8" y="63.3" width="0.5" height="0.5"/><rect x="189.8" y="77.6" width="0.5" height="0.5"/><rect x="193.7" y="91.6" width="0.5" height="0.5"/><rect x="191.5" y="70.3" width="0.5" height="0.5"/><rect x="155.0" y="65.1" width="0.5" height="0.5"/><rect x="194.2" y="89.7" width="0.5" height="0.5"/><rect x="153.2" y="64.8" width="0.5" height="0.5"/><rect x="160.4" y="66.8" width="0.5" height="0.5"/><rect x="155.0" y="99.7" width="0.5" height="0.5"/><rect x="178.6" y="79.7" width="0.5" height="0.5"/><rect x="169.8" y="69.6" width="0.5" height="0.5"/><rect x="155.1" y="89.4" width="0.5" height="0.5"/><rect x="178.1" y="77.2" width="0.5" height="0.5"/><rect x="184.1" y="96.9" width="0.5" height="0.5"/><rect x="163.2" y="98.8" width="0.5" height="0.5"/><rect x="153.3" y="98.7" width="0.5" height="0.5"/><rect x="152.5" y="66.1" width="0.5" height="0.5"/><rect x="165.1" y="69.9" width="0.5" height="0.5"/><rect x="181.0" y="84.8" width="0.5" height="0.5"/><rect x="157.4" y="65.8" width="0.5" height="0.5"/><rect x="193.6" y="90.0" width="0.5" height="0.5"/><rect x="156.6" y="99.0" width="0.5" height="0.5"/><rect x="187.2" y="96.5" width="0.5" height="0.5"/><rect x="168.8" y="68.7" width="0.5" height="0.5"/><rect x="183.6" y="68.6" width="0.5" height="0.5"/><rect x="189.4" y="70.8" width="0.5" height="0.5"/><rect x="192.1" y="73.6" width="0.5" height="0.5"/><rect x="190.6" y="97.4" width="0.5" height="0.5"/><rect x="179.5" y="76.5" width="0.5" height="0.5"/><rect x="181.6" y="95.9" width="0.5" height="0.5"/><rect x="191.0" y="85.5" width="0.5" height="0.5"/><rect x="168.5" y="68.4" width="0.5" height="0.5"/><rect x="165.2" y="69.4" width="0.5" height="0.5"/><rect x="191.1" y="71.1" width="0.5" height="0.5"/><rect x="192.6" y="73.7" width="0.5" height="0.5"/><rect x="185.1" y="76.7" width="0.5" height="0.5"/><rect x="190.1" y="75.6" width="0.5" height="0.5"/><rect x="190.6" y="86.7" width="0.5" height="0.5"/><rect x="190.7" y="73.9" width="0.5" height="0.5"/><rect x="152.6" y="95.0" width="0.5" height="0.5"/><rect x="192.9" y="94.1" width="0.5" height="0.5"/><rect x="173.0" y="97.9" width="0.5" height="0.5"/><rect x="166.8" y="97.5" width="0.5" height="0.5"/><rect x="158.1" y="65.2" width="0.5" height="0.5"/><rect x="182.6" y="95.3" width="0.5" height="0.5"/><rect x="182.5" y="95.9" width="0.5" height="0.5"/><rect x="195.2" y="91.1" width="0.5" height="0.5"/><rect x="157.8" y="64.4" width="0.5" height="0.5"/><rect x="167.4" y="97.5" width="0.5" height="0.5"/><rect x="161.3" y="98.6" width="0.5" height="0.5"/><rect x="169.0" y="68.9" width="0.5" height="0.5"/><rect x="178.6" y="68.7" width="0.5" height="0.5"/><rect x="188.8" y="77.6" width="0.5" height="0.5"/><rect x="166.1" y="98.1" width="0.5" height="0.5"/><rect x="152.0" y="72.4" width="0.5" height="0.5"/><rect x="165.5" y="68.4" width="0.5" height="0.5"/><rect x="156.8" y="64.8" width="0.5" height="0.5"/><rect x="190.6" y="95.5" width="0.5" height="0.5"/><rect x="189.6" y="77.4" width="0.5" height="0.5"/><rect x="168.2" y="70.7" width="0.5" height="0.5"/><rect x="190.1" y="72.3" width="0.5" height="0.5"/><rect x="191.6" y="85.2" width="0.5" height="0.5"/><rect x="183.1" y="70.0" width="0.5" height="0.5"/><rect x="153.3" y="97.8" width="0.5" height="0.5"/><rect x="151.4" y="74.8" width="0.5" height="0.5"/><rect x="195.3" y="74.9" width="0.5" height="0.5"/><rect x="154.6" y="65.1" width="0.5" height="0.5"/><rect x="156.3" y="65.2" width="0.5" height="0.5"/><rect x="190.7" y="76.2" width="0.5" height="0.5"/><rect x="158.9" y="64.9" width="0.5" height="0.5"/><rect x="185.9" y="71.3" width="0.5" height="0.5"/><rect x="177.5" y="79.0" width="0.5" height="0.5"/><rect x="166.7" y="68.9" width="0.5" height="0.5"/><rect x="152.7" y="66.8" width="0.5" height="0.5"/><rect x="190.2" y="75.4" width="0.5" height="0.5"/><rect x="162.4" y="66.5" width="0.5" height="0.5"/><rect x="184.1" y="70.2" width="0.5" height="0.5"/><rect x="176.9" y="96.2" width="0.5" height="0.5"/><rect x="178.3" y="97.8" width="0.5" height="0.5"/><rect x="158.6" y="65.5" width="0.5" height="0.5"/><rect x="173.6" y="98.0" width="0.5" height="0.5"/><rect x="182.6" y="77.6" width="0.5" height="0.5"/><rect x="156.4" y="65.1" width="0.5" height="0.5"/><rect x="193.2" y="96.0" width="0.5" height="0.5"/><rect x="169.3" y="97.1" width="0.5" height="0.5"/><rect x="176.2" y="80.5" width="0.5" height="0.5"/><rect x="163.7" y="68.1" width="0.5" height="0.5"/><rect x="173.8" y="96.6" width="0.5" height="0.5"/><rect x="157.0" y="63.3" width="0.5" height="0.5"/><rect x="157.1" y="64.9" width="0.5" height="0.5"/><rect x="155.8" y="99.7" width="0.5" height="0.5"/><rect x="152.4" y="75.6" width="0.5" height="0.5"/><rect x="179.4" y="80.6" width="0.5" height="0.5"/></g>
<g fill="#7a7a7a"><rect x="189.8" y="80.1" width="0.5" height="0.5"/><rect x="194.8" y="82.9" width="0.5" height="0.5"/><rect x="191.4" y="81.9" width="0.5" height="0.5"/><rect x="193.5" y="83.4" width="0.5" height="0.5"/><rect x="181.4" y="82.3" width="0.5" height="0.5"/><rect x="194.4" y="83.6" width="0.5" height="0.5"/><rect x="181.2" y="80.7" width="0.5" height="0.5"/><rect x="194.0" y="85.5" width="0.5" height="0.5"/><rect x="192.7" y="75.9" width="0.5" height="0.5"/><rect x="188.2" y="79.6" width="0.5" height="0.5"/><rect x="195.4" y="83.2" width="0.5" height="0.5"/><rect x="189.6" y="76.8" width="0.5" height="0.5"/><rect x="185.9" y="83.3" width="0.5" height="0.5"/><rect x="182.2" y="86.3" width="0.5" height="0.5"/><rect x="186.7" y="74.1" width="0.5" height="0.5"/><rect x="190.9" y="78.9" width="0.5" height="0.5"/><rect x="191.5" y="82.4" width="0.5" height="0.5"/><rect x="188.0" y="82.4" width="0.5" height="0.5"/><rect x="190.6" y="84.3" width="0.5" height="0.5"/><rect x="182.1" y="82.6" width="0.5" height="0.5"/><rect x="191.0" y="79.4" width="0.5" height="0.5"/><rect x="188.7" y="82.9" width="0.5" height="0.5"/><rect x="192.1" y="84.4" width="0.5" height="0.5"/><rect x="189.8" y="79.5" width="0.5" height="0.5"/><rect x="185.6" y="82.3" width="0.5" height="0.5"/><rect x="185.0" y="81.4" width="0.5" height="0.5"/><rect x="186.1" y="80.1" width="0.5" height="0.5"/><rect x="194.2" y="77.9" width="0.5" height="0.5"/><rect x="192.2" y="80.9" width="0.5" height="0.5"/><rect x="186.8" y="82.3" width="0.5" height="0.5"/><rect x="191.4" y="85.7" width="0.5" height="0.5"/><rect x="188.0" y="74.9" width="0.5" height="0.5"/><rect x="192.5" y="81.9" width="0.5" height="0.5"/><rect x="179.0" y="84.7" width="0.5" height="0.5"/><rect x="189.8" y="80.4" width="0.5" height="0.5"/><rect x="188.1" y="84.4" width="0.5" height="0.5"/><rect x="190.7" y="86.4" width="0.5" height="0.5"/><rect x="185.8" y="78.4" width="0.5" height="0.5"/><rect x="193.3" y="80.3" width="0.5" height="0.5"/><rect x="192.3" y="84.7" width="0.5" height="0.5"/><rect x="192.5" y="82.5" width="0.5" height="0.5"/><rect x="183.8" y="83.2" width="0.5" height="0.5"/><rect x="194.7" y="83.4" width="0.5" height="0.5"/><rect x="186.4" y="82.4" width="0.5" height="0.5"/><rect x="187.8" y="84.2" width="0.5" height="0.5"/><rect x="182.9" y="81.4" width="0.5" height="0.5"/><rect x="182.9" y="79.2" width="0.5" height="0.5"/><rect x="186.7" y="78.6" width="0.5" height="0.5"/><rect x="180.5" y="81.0" width="0.5" height="0.5"/><rect x="179.8" y="80.1" width="0.5" height="0.5"/><rect x="183.3" y="84.8" width="0.5" height="0.5"/><rect x="182.8" y="83.0" width="0.5" height="0.5"/><rect x="193.2" y="80.6" width="0.5" height="0.5"/><rect x="185.2" y="81.9" width="0.5" height="0.5"/><rect x="189.2" y="90.4" width="0.5" height="0.5"/><rect x="195.8" y="81.7" width="0.5" height="0.5"/><rect x="187.3" y="83.9" width="0.5" height="0.5"/><rect x="192.5" y="86.5" width="0.5" height="0.5"/><rect x="181.9" y="81.4" width="0.5" height="0.5"/><rect x="179.7" y="83.3" width="0.5" height="0.5"/><rect x="192.3" y="83.0" width="0.5" height="0.5"/><rect x="190.2" y="85.6" width="0.5" height="0.5"/><rect x="184.5" y="85.6" width="0.5" height="0.5"/><rect x="194.1" y="84.6" width="0.5" height="0.5"/><rect x="184.6" y="77.2" width="0.5" height="0.5"/><rect x="194.5" y="82.9" width="0.5" height="0.5"/><rect x="182.1" y="78.9" width="0.5" height="0.5"/><rect x="194.1" y="80.5" width="0.5" height="0.5"/><rect x="181.3" y="80.0" width="0.5" height="0.5"/><rect x="188.1" y="82.5" width="0.5" height="0.5"/><rect x="195.9" y="82.4" width="0.5" height="0.5"/><rect x="184.4" y="81.7" width="0.5" height="0.5"/><rect x="186.3" y="78.7" width="0.5" height="0.5"/><rect x="187.8" y="84.4" width="0.5" height="0.5"/><rect x="186.3" y="82.2" width="0.5" height="0.5"/><rect x="189.4" y="86.0" width="0.5" height="0.5"/><rect x="189.8" y="81.0" width="0.5" height="0.5"/><rect x="192.2" y="85.0" width="0.5" height="0.5"/><rect x="188.6" y="86.1" width="0.5" height="0.5"/><rect x="188.5" y="82.4" width="0.5" height="0.5"/><rect x="190.6" y="83.7" width="0.5" height="0.5"/><rect x="188.6" y="85.4" width="0.5" height="0.5"/><rect x="195.4" y="85.8" width="0.5" height="0.5"/><rect x="195.7" y="87.9" width="0.5" height="0.5"/><rect x="192.8" y="81.9" width="0.5" height="0.5"/><rect x="194.4" y="75.4" width="0.5" height="0.5"/><rect x="185.9" y="85.0" width="0.5" height="0.5"/><rect x="180.7" y="78.9" width="0.5" height="0.5"/><rect x="194.8" y="82.1" width="0.5" height="0.5"/><rect x="187.6" y="82.3" width="0.5" height="0.5"/><rect x="188.4" y="84.3" width="0.5" height="0.5"/><rect x="186.9" y="80.7" width="0.5" height="0.5"/><rect x="192.2" y="84.8" width="0.5" height="0.5"/><rect x="181.9" y="84.0" width="0.5" height="0.5"/><rect x="185.6" y="80.1" width="0.5" height="0.5"/><rect x="187.3" y="81.5" width="0.5" height="0.5"/><rect x="194.0" y="79.1" width="0.5" height="0.5"/><rect x="185.3" y="79.8" width="0.5" height="0.5"/><rect x="192.9" y="78.7" width="0.5" height="0.5"/><rect x="194.0" y="79.0" width="0.5" height="0.5"/><rect x="186.9" y="86.0" width="0.5" height="0.5"/><rect x="182.5" y="81.6" width="0.5" height="0.5"/><rect x="191.7" y="83.3" width="0.5" height="0.5"/><rect x="179.3" y="83.1" width="0.5" height="0.5"/><rect x="194.7" y="82.0" width="0.5" height="0.5"/><rect x="196.0" y="82.2" width="0.5" height="0.5"/><rect x="183.8" y="79.4" width="0.5" height="0.5"/><rect x="185.0" y="81.5" width="0.5" height="0.5"/><rect x="183.3" y="81.5" width="0.5" height="0.5"/><rect x="194.9" y="80.4" width="0.5" height="0.5"/><rect x="193.6" y="84.6" width="0.5" height="0.5"/><rect x="194.6" y="83.0" width="0.5" height="0.5"/><rect x="186.1" y="81.3" width="0.5" height="0.5"/><rect x="189.8" y="82.5" width="0.5" height="0.5"/><rect x="193.4" y="81.0" width="0.5" height="0.5"/><rect x="183.3" y="81.7" width="0.5" height="0.5"/><rect x="183.6" y="83.2" width="0.5" height="0.5"/><rect x="192.1" y="78.9" width="0.5" height="0.5"/><rect x="193.0" y="78.9" width="0.5" height="0.5"/><rect x="185.6" y="77.2" width="0.5" height="0.5"/><rect x="189.6" y="81.0" width="0.5" height="0.5"/><rect x="181.9" y="77.5" width="0.5" height="0.5"/><rect x="185.3" y="81.4" width="0.5" height="0.5"/><rect x="195.7" y="83.8" width="0.5" height="0.5"/><rect x="193.2" y="87.0" width="0.5" height="0.5"/><rect x="191.6" y="80.0" width="0.5" height="0.5"/><rect x="192.6" y="81.4" width="0.5" height="0.5"/><rect x="194.1" y="83.3" width="0.5" height="0.5"/><rect x="189.0" y="80.4" width="0.5" height="0.5"/><rect x="180.5" y="81.5" width="0.5" height="0.5"/><rect x="195.2" y="85.4" width="0.5" height="0.5"/><rect x="190.5" y="83.9" width="0.5" height="0.5"/><rect x="191.9" y="80.4" width="0.5" height="0.5"/><rect x="193.5" y="81.9" width="0.5" height="0.5"/><rect x="180.8" y="87.7" width="0.5" height="0.5"/><rect x="179.3" y="78.2" width="0.5" height="0.5"/><rect x="190.9" y="82.2" width="0.5" height="0.5"/><rect x="193.7" y="83.2" width="0.5" height="0.5"/><rect x="188.4" y="82.1" width="0.5" height="0.5"/><rect x="186.0" y="83.8" width="0.5" height="0.5"/><rect x="191.1" y="80.8" width="0.5" height="0.5"/><rect x="187.0" y="81.1" width="0.5" height="0.5"/><rect x="194.8" y="86.4" width="0.5" height="0.5"/><rect x="180.2" y="82.6" width="0.5" height="0.5"/><rect x="192.0" y="80.9" width="0.5" height="0.5"/><rect x="192.5" y="79.9" width="0.5" height="0.5"/><rect x="181.3" y="84.0" width="0.5" height="0.5"/><rect x="190.6" y="88.9" width="0.5" height="0.5"/><rect x="195.6" y="81.7" width="0.5" height="0.5"/><rect x="180.5" y="81.9" width="0.5" height="0.5"/><rect x="185.5" y="79.6" width="0.5" height="0.5"/><rect x="191.5" y="88.4" width="0.5" height="0.5"/><rect x="188.8" y="77.3" width="0.5" height="0.5"/><rect x="187.2" y="78.6" width="0.5" height="0.5"/><rect x="189.7" y="78.4" width="0.5" height="0.5"/><rect x="193.8" y="85.6" width="0.5" height="0.5"/><rect x="195.2" y="82.4" width="0.5" height="0.5"/><rect x="195.4" y="84.2" width="0.5" height="0.5"/><rect x="189.2" y="83.6" width="0.5" height="0.5"/><rect x="180.1" y="83.8" width="0.5" height="0.5"/><rect x="181.5" y="77.4" width="0.5" height="0.5"/><rect x="188.5" y="83.8" width="0.5" height="0.5"/><rect x="186.6" y="78.1" width="0.5" height="0.5"/><rect x="192.9" y="82.4" width="0.5" height="0.5"/><rect x="193.4" y="81.3" width="0.5" height="0.5"/><rect x="183.0" y="79.3" width="0.5" height="0.5"/><rect x="189.0" y="87.6" width="0.5" height="0.5"/><rect x="182.9" y="78.6" width="0.5" height="0.5"/><rect x="192.9" y="80.4" width="0.5" height="0.5"/><rect x="195.6" y="82.8" width="0.5" height="0.5"/><rect x="184.0" y="85.9" width="0.5" height="0.5"/><rect x="184.8" y="80.7" width="0.5" height="0.5"/><rect x="190.2" y="83.8" width="0.5" height="0.5"/><rect x="186.6" y="80.7" width="0.5" height="0.5"/><rect x="182.1" y="81.2" width="0.5" height="0.5"/><rect x="194.0" y="85.7" width="0.5" height="0.5"/><rect x="186.0" y="84.0" width="0.5" height="0.5"/><rect x="185.8" y="76.7" width="0.5" height="0.5"/><rect x="193.3" y="84.3" width="0.5" height="0.5"/><rect x="190.0" y="84.7" width="0.5" height="0.5"/><rect x="194.7" y="81.5" width="0.5" height="0.5"/><rect x="191.6" y="80.4" width="0.5" height="0.5"/><rect x="181.5" y="85.0" width="0.5" height="0.5"/><rect x="188.6" y="81.5" width="0.5" height="0.5"/><rect x="193.9" y="81.3" width="0.5" height="0.5"/><rect x="194.0" y="79.1" width="0.5" height="0.5"/><rect x="182.9" y="84.8" width="0.5" height="0.5"/><rect x="186.1" y="87.3" width="0.5" height="0.5"/><rect x="191.2" y="79.9" width="0.5" height="0.5"/><rect x="181.6" y="82.9" width="0.5" height="0.5"/><rect x="192.3" y="82.9" width="0.5" height="0.5"/><rect x="190.4" y="80.6" width="0.5" height="0.5"/><rect x="183.7" y="80.0" width="0.5" height="0.5"/><rect x="181.6" y="79.4" width="0.5" height="0.5"/><rect x="195.8" y="84.1" width="0.5" height="0.5"/><rect x="194.6" y="79.8" width="0.5" height="0.5"/><rect x="191.3" y="84.4" width="0.5" height="0.5"/><rect x="194.1" y="83.8" width="0.5" height="0.5"/><rect x="195.8" y="79.4" width="0.5" height="0.5"/><rect x="195.2" y="79.2" width="0.5" height="0.5"/><rect x="183.2" y="81.2" width="0.5" height="0.5"/><rect x="193.5" y="83.1" width="0.5" height="0.5"/><rect x="195.8" y="83.3" width="0.5" height="0.5"/><rect x="184.9" y="84.0" width="0.5" height="0.5"/><rect x="193.6" y="82.3" width="0.5" height="0.5"/><rect x="190.2" y="81.1" width="0.5" height="0.5"/><rect x="194.7" y="82.6" width="0.5" height="0.5"/><rect x="184.9" y="83.8" width="0.5" height="0.5"/><rect x="193.8" y="81.9" width="0.5" height="0.5"/><rect x="178.0" y="83.8" width="0.5" height="0.5"/><rect x="195.0" y="82.4" width="0.5" height="0.5"/><rect x="194.4" y="84.1" width="0.5" height="0.5"/><rect x="187.7" y="82.2" width="0.5" height="0.5"/><rect x="181.9" y="76.4" width="0.5" height="0.5"/><rect x="192.7" y="78.9" width="0.5" height="0.5"/><rect x="179.3" y="83.0" width="0.5" height="0.5"/><rect x="184.3" y="80.6" width="0.5" height="0.5"/><rect x="187.3" y="84.0" width="0.5" height="0.5"/><rect x="191.3" y="80.0" width="0.5" height="0.5"/><rect x="187.8" y="81.6" width="0.5" height="0.5"/><rect x="190.9" y="83.7" width="0.5" height="0.5"/><rect x="191.7" y="77.6" width="0.5" height="0.5"/><rect x="190.4" y="77.4" width="0.5" height="0.5"/><rect x="185.3" y="81.1" width="0.5" height="0.5"/><rect x="193.8" y="86.3" width="0.5" height="0.5"/><rect x="184.1" y="79.1" width="0.5" height="0.5"/><rect x="180.2" y="83.5" width="0.5" height="0.5"/><rect x="194.8" y="88.8" width="0.5" height="0.5"/><rect x="195.9" y="80.6" width="0.5" height="0.5"/><rect x="191.8" y="81.9" width="0.5" height="0.5"/><rect x="194.7" y="81.7" width="0.5" height="0.5"/><rect x="185.0" y="82.2" width="0.5" height="0.5"/><rect x="188.9" y="83.0" width="0.5" height="0.5"/><rect x="193.6" y="83.5" width="0.5" height="0.5"/><rect x="194.4" y="78.3" width="0.5" height="0.5"/><rect x="195.2" y="83.6" width="0.5" height="0.5"/><rect x="182.6" y="81.8" width="0.5" height="0.5"/><rect x="185.7" y="82.1" width="0.5" height="0.5"/><rect x="187.2" y="81.4" width="0.5" height="0.5"/><rect x="184.5" y="78.7" width="0.5" height="0.5"/><rect x="180.7" y="83.1" width="0.5" height="0.5"/><rect x="180.0" y="82.3" width="0.5" height="0.5"/><rect x="185.7" y="83.2" width="0.5" height="0.5"/><rect x="183.0" y="77.9" width="0.5" height="0.5"/><rect x="181.4" y="76.2" width="0.5" height="0.5"/><rect x="185.7" y="74.8" width="0.5" height="0.5"/><rect x="193.1" y="85.8" width="0.5" height="0.5"/><rect x="190.8" y="79.8" width="0.5" height="0.5"/><rect x="191.1" y="81.6" width="0.5" height="0.5"/><rect x="182.0" y="76.0" width="0.5" height="0.5"/><rect x="188.5" y="79.0" width="0.5" height="0.5"/><rect x="181.8" y="82.2" width="0.5" height="0.5"/><rect x="195.1" y="80.6" width="0.5" height="0.5"/><rect x="188.8" y="83.3" width="0.5" height="0.5"/><rect x="192.2" y="79.5" width="0.5" height="0.5"/><rect x="189.9" y="84.3" width="0.5" height="0.5"/><rect x="193.9" y="78.5" width="0.5" height="0.5"/><rect x="185.1" y="79.9" width="0.5" height="0.5"/><rect x="195.0" y="83.6" width="0.5" height="0.5"/><rect x="190.7" y="84.3" width="0.5" height="0.5"/><rect x="186.8" y="80.6" width="0.5" height="0.5"/><rect x="182.7" y="81.0" width="0.5" height="0.5"/><rect x="185.3" y="82.8" width="0.5" height="0.5"/><rect x="179.0" y="80.8" width="0.5" height="0.5"/><rect x="181.1" y="78.9" width="0.5" height="0.5"/><rect x="193.3" y="79.3" width="0.5" height="0.5"/><rect x="194.9" y="77.6" width="0.5" height="0.5"/><rect x="181.6" y="83.8" width="0.5" height="0.5"/><rect x="193.4" y="79.2" width="0.5" height="0.5"/><rect x="193.6" y="83.9" width="0.5" height="0.5"/><rect x="193.5" y="78.7" width="0.5" height="0.5"/><rect x="181.3" y="85.8" width="0.5" height="0.5"/><rect x="179.4" y="78.0" width="0.5" height="0.5"/><rect x="193.6" y="81.9" width="0.5" height="0.5"/><rect x="189.9" y="81.1" width="0.5" height="0.5"/><rect x="185.6" y="81.3" width="0.5" height="0.5"/><rect x="195.6" y="78.5" width="0.5" height="0.5"/><rect x="186.0" y="83.4" width="0.5" height="0.5"/><rect x="195.5" y="74.9" width="0.5" height="0.5"/><rect x="189.7" y="79.0" width="0.5" height="0.5"/><rect x="191.4" y="81.7" width="0.5" height="0.5"/><rect x="181.9" y="82.9" width="0.5" height="0.5"/><rect x="187.9" y="80.2" width="0.5" height="0.5"/><rect x="193.9" y="81.1" width="0.5" height="0.5"/><rect x="194.2" y="81.0" width="0.5" height="0.5"/><rect x="190.2" y="79.9" width="0.5" height="0.5"/><rect x="179.2" y="79.6" width="0.5" height="0.5"/><rect x="189.9" y="82.7" width="0.5" height="0.5"/><rect x="191.1" y="80.8" width="0.5" height="0.5"/><rect x="189.3" y="81.9" width="0.5" height="0.5"/><rect x="186.5" y="80.3" width="0.5" height="0.5"/><rect x="193.8" y="83.8" width="0.5" height="0.5"/><rect x="185.6" y="81.2" width="0.5" height="0.5"/><rect x="194.9" y="84.0" width="0.5" height="0.5"/><rect x="189.3" y="78.9" width="0.5" height="0.5"/><rect x="184.6" y="79.9" width="0.5" height="0.5"/><rect x="188.0" y="75.4" width="0.5" height="0.5"/><rect x="194.1" y="83.5" width="0.5" height="0.5"/><rect x="193.4" y="84.3" width="0.5" height="0.5"/><rect x="182.3" y="84.7" width="0.5" height="0.5"/></g>
<path d="M152.80,66.60 C153.20,66.15 153.90,65.57 154.60,65.30 C155.30,65.03 156.10,64.98 157.00,65.00 C157.90,65.02 158.73,64.98 160.00,65.40 C161.27,65.82 163.55,66.83 164.60,67.50 C165.65,68.17 165.53,69.22 166.30,69.40 C167.07,69.58 166.98,68.72 169.20,68.60 C171.42,68.48 176.52,68.40 179.60,68.70 C182.68,69.00 185.77,69.83 187.70,70.40 C189.63,70.97 190.47,71.50 191.20,72.10 C191.93,72.70 192.20,73.30 192.10,74.00 C192.00,74.70 191.92,75.73 190.60,76.30 C189.28,76.87 186.03,77.18 184.20,77.40 C182.37,77.62 180.55,77.30 179.60,77.60 C178.65,77.90 178.60,78.45 178.50,79.20 C178.40,79.95 178.23,81.23 179.00,82.10 C179.77,82.97 181.27,83.72 183.10,84.40 C184.93,85.08 188.18,85.43 190.00,86.20 C191.82,86.97 193.20,88.05 194.00,89.00 C194.80,89.95 194.88,91.03 194.80,91.90 C194.72,92.77 195.27,93.58 193.50,94.20 C191.73,94.82 188.43,95.10 184.20,95.60 C179.97,96.10 172.72,96.57 168.10,97.20 C163.48,97.83 159.00,99.12 156.50,99.40 C154.00,99.68 153.85,99.63 153.10,98.90 C152.35,98.17 152.18,98.15 152.00,95.00 C151.82,91.85 151.97,84.50 152.00,80.00 C152.03,75.50 152.07,70.23 152.20,68.00 C152.33,65.77 152.40,67.05 152.80,66.60Z" fill="#0a1ebe"/>
<g clip-path="url(#cp2)">
<path d="M152.80,66.60 C153.20,66.15 153.90,65.57 154.60,65.30 C155.30,65.03 156.10,64.98 157.00,65.00 C157.90,65.02 158.73,64.98 160.00,65.40 C161.27,65.82 163.55,66.83 164.60,67.50 C165.65,68.17 165.53,69.22 166.30,69.40 C167.07,69.58 166.98,68.72 169.20,68.60 C171.42,68.48 176.52,68.40 179.60,68.70 C182.68,69.00 185.77,69.83 187.70,70.40 C189.63,70.97 190.47,71.50 191.20,72.10 C191.93,72.70 192.20,73.30 192.10,74.00 C192.00,74.70 191.92,75.73 190.60,76.30 C189.28,76.87 186.03,77.18 184.20,77.40 C182.37,77.62 180.55,77.30 179.60,77.60 C178.65,77.90 178.60,78.45 178.50,79.20 C178.40,79.95 178.23,81.23 179.00,82.10 C179.77,82.97 181.27,83.72 183.10,84.40 C184.93,85.08 188.18,85.43 190.00,86.20 C191.82,86.97 193.20,88.05 194.00,89.00 C194.80,89.95 194.88,91.03 194.80,91.90 C194.72,92.77 195.27,93.58 193.50,94.20 C191.73,94.82 188.43,95.10 184.20,95.60 C179.97,96.10 172.72,96.57 168.10,97.20 C163.48,97.83 159.00,99.12 156.50,99.40 C154.00,99.68 153.85,99.63 153.10,98.90 C152.35,98.17 152.18,98.15 152.00,95.00 C151.82,91.85 151.97,84.50 152.00,80.00 C152.03,75.50 152.07,70.23 152.20,68.00 C152.33,65.77 152.40,67.05 152.80,66.60Z" fill="#2452f0" stroke="#0c26c0" stroke-width="1.8" filter="url(#bl3)" transform="translate(0.2,-0.1)"/>
<g filter="url(#bl1)">
<ellipse cx="178.9" cy="73.6" rx="12" ry="2.2" fill="#3468f6"/>
<path d="M154.7,79.9 L169.7,81.9 L191,89.0 L191,94.0 L165.7,96.9 L153.7,97.9 Z" fill="#6cb0ff"/>
<ellipse cx="170.7" cy="88.9" rx="6.5" ry="3.4" fill="#9ccfff"/>
<ellipse cx="180.3" cy="91.7" rx="9" ry="1.8" fill="#8ed0ff"/>
<ellipse cx="158.5" cy="82.6" rx="5.4" ry="16" fill="#5ad8f0"/>
<ellipse cx="159.7" cy="94.9" rx="6" ry="3.5" fill="#64e4d8"/>
</g>
<g filter="url(#bl2)">
<ellipse cx="159.10000000000002" cy="75.8" rx="4.4" ry="5.6" fill="#98ee78"/>
<ellipse cx="158.4" cy="82.1" rx="3.2" ry="3" fill="#7ceaa8"/>
<ellipse cx="158.1" cy="89.4" rx="4.4" ry="7.8" fill="#98f070"/>
<ellipse cx="158.9" cy="75.5" rx="2.0" ry="2.8" fill="#eef048"/>
<ellipse cx="157.79999999999998" cy="88.5" rx="3.0" ry="5.2" fill="#f0e840"/>
</g>
<g filter="url(#bl3)">
<ellipse cx="157.7" cy="88.2" rx="2.8" ry="4.8" fill="#f89a20" transform="rotate(12 157.7 87.9)"/>
<ellipse cx="157.7" cy="87.9" rx="1.9" ry="3.5" fill="#e0180c" transform="rotate(14 157.7 87.9)"/>
</g>
</g>
<ellipse cx="158.0" cy="71.5" rx="8.4" ry="9.6" fill="none" stroke="#505050" stroke-width="0.6" transform="rotate(-12 158 71.5)"/>
<ellipse cx="183.3" cy="71.2" rx="14.1" ry="7.4" fill="none" stroke="#505050" stroke-width="0.6" transform="rotate(4 183.3 71.2)"/>
<text x="181.00" y="60.80" font-size="8.5" textLength="20.50" lengthAdjust="spacingAndGlyphs">3.4%</text>
<text x="134.00" y="83.00" font-size="8.5" textLength="18.00" lengthAdjust="spacingAndGlyphs">20%</text>
<text x="119.40" y="52.10" font-size="6.5" textLength="6.70" lengthAdjust="spacingAndGlyphs">10</text>
<text x="126.30" y="48.85" font-size="4.55" style="stroke-width:0.12px">5</text>
<text x="119.40" y="68.60" font-size="6.5" textLength="6.70" lengthAdjust="spacingAndGlyphs">10</text>
<text x="126.30" y="65.35" font-size="4.55" style="stroke-width:0.12px">4</text>
<text x="119.40" y="81.40" font-size="6.5" textLength="6.70" lengthAdjust="spacingAndGlyphs">10</text>
<text x="126.30" y="78.15" font-size="4.55" style="stroke-width:0.12px">3</text>
<text x="125.90" y="98.60" font-size="6.5" textLength="3.30" lengthAdjust="spacingAndGlyphs">0</text>
<line x1="133.30" y1="97.50" x2="134.30" y2="97.50" stroke="#000" stroke-width="0.8"/>
<text x="154.00" y="127.70" font-size="6.5" text-anchor="middle">0</text>
<text x="168.30" y="127.70" font-size="6.5" textLength="6.80" lengthAdjust="spacingAndGlyphs">10</text>
<text x="175.30" y="124.45" font-size="4.55" style="stroke-width:0.12px">3</text>
<text x="181.60" y="127.70" font-size="6.5" textLength="6.80" lengthAdjust="spacingAndGlyphs">10</text>
<text x="188.60" y="124.45" font-size="4.55" style="stroke-width:0.12px">4</text>
<text x="193.90" y="127.70" font-size="6.5" textLength="6.80" lengthAdjust="spacingAndGlyphs">10</text>
<text x="200.90" y="124.45" font-size="4.55" style="stroke-width:0.12px">5</text>
<line x1="61.50" y1="135.20" x2="172.00" y2="135.20" stroke="#000" stroke-width="1.0"/>
<path d="M176.6,135.2 L170.6,132.9 L170.6,137.5 Z" fill="#000"/>
<text x="40.40" y="138.80" font-size="10.0" font-weight="bold" textLength="13.10" lengthAdjust="spacingAndGlyphs">Sca1</text>
<line x1="12.50" y1="104.60" x2="12.50" y2="65.00" stroke="#000" stroke-width="1.0"/>
<path d="M12.5,60.6 L10.3,66.4 L14.7,66.4 Z" fill="#000"/>
<text x="15.80" y="122.00" font-size="9.6" font-weight="bold" textLength="14.00" lengthAdjust="spacingAndGlyphs" transform="rotate(-90 15.80 122.00)">C-kit</text>
<text x="265.80" y="41.90" font-size="9.2" textLength="20.70" lengthAdjust="spacingAndGlyphs">CMP</text>
<text x="347.70" y="41.90" font-size="9.2" textLength="16.30" lengthAdjust="spacingAndGlyphs">LSK</text>
<text x="404.80" y="41.70" font-size="9.2" textLength="43.00" lengthAdjust="spacingAndGlyphs">CLP (IL7R</text>
<text x="447.90" y="41.70" font-size="9.2" textLength="5.40" lengthAdjust="spacingAndGlyphs">α</text>
<text x="453.50" y="37.80" font-size="5.8" textLength="3.40" lengthAdjust="spacingAndGlyphs" style="stroke-width:0.12px">+</text>
<text x="457.20" y="41.70" font-size="9.2" textLength="18.90" lengthAdjust="spacingAndGlyphs">LSK)</text>
<text x="234.00" y="98.20" font-size="9.0" font-weight="bold" textLength="27.72" lengthAdjust="spacingAndGlyphs" transform="rotate(-90 234.00 98.20)">Cells (x10</text>
<text x="230.22" y="70.28" font-size="5.3999999999999995" font-weight="bold" textLength="2.97" lengthAdjust="spacingAndGlyphs" transform="rotate(-90 230.22 70.28)">5</text>
<text x="234.00" y="67.21" font-size="9.0" font-weight="bold" textLength="2.01" lengthAdjust="spacingAndGlyphs" transform="rotate(-90 234.00 67.21)">)</text>
<line x1="250.00" y1="47.00" x2="250.00" y2="116.10" stroke="#000" stroke-width="1.4"/>
<line x1="249.30" y1="115.40" x2="302.00" y2="115.40" stroke="#000" stroke-width="1.4"/>
<line x1="247.00" y1="50.40" x2="250.00" y2="50.40" stroke="#000" stroke-width="1.15"/>
<text x="243.90" y="52.85" font-size="6.9" text-anchor="end">9</text>
<line x1="247.00" y1="72.10" x2="250.00" y2="72.10" stroke="#000" stroke-width="1.15"/>
<text x="243.90" y="74.55" font-size="6.9" text-anchor="end">6</text>
<line x1="247.00" y1="93.70" x2="250.00" y2="93.70" stroke="#000" stroke-width="1.15"/>
<text x="243.90" y="96.15" font-size="6.9" text-anchor="end">3</text>
<line x1="247.00" y1="115.40" x2="250.00" y2="115.40" stroke="#000" stroke-width="1.15"/>
<text x="243.90" y="117.85" font-size="6.9" text-anchor="end">0</text>
<line x1="262.90" y1="115.40" x2="262.90" y2="118.20" stroke="#000" stroke-width="1.15"/>
<line x1="288.80" y1="115.40" x2="288.80" y2="118.20" stroke="#000" stroke-width="1.15"/>
<line x1="258.12" y1="76.90" x2="267.68" y2="76.90" stroke="#222" stroke-width="1.0"/>
<line x1="258.12" y1="87.50" x2="267.68" y2="87.50" stroke="#222" stroke-width="1.0"/>
<line x1="262.90" y1="76.90" x2="262.90" y2="87.50" stroke="#222" stroke-width="1.0"/>
<line x1="282.86" y1="76.60" x2="294.74" y2="76.60" stroke="#222" stroke-width="1.0"/>
<line x1="282.86" y1="80.40" x2="294.74" y2="80.40" stroke="#222" stroke-width="1.0"/>
<line x1="288.80" y1="76.60" x2="288.80" y2="80.40" stroke="#222" stroke-width="1.0"/>
<circle cx="262.90" cy="70.20" r="2.2" fill="#1f3f8f"/>
<circle cx="262.90" cy="76.90" r="2.2" fill="#1f3f8f"/>
<circle cx="262.90" cy="87.50" r="2.2" fill="#1f3f8f"/>
<circle cx="262.90" cy="94.20" r="2.2" fill="#1f3f8f"/>
<circle cx="283.00" cy="77.50" r="1.75" fill="#eac0a4" stroke="#bf1a42" stroke-width="1.5"/>
<circle cx="288.80" cy="74.60" r="1.75" fill="#eac0a4" stroke="#bf1a42" stroke-width="1.5"/>
<circle cx="288.80" cy="82.30" r="1.75" fill="#eac0a4" stroke="#bf1a42" stroke-width="1.5"/>
<circle cx="294.60" cy="78.50" r="1.75" fill="#eac0a4" stroke="#bf1a42" stroke-width="1.5"/>
<line x1="254.20" y1="82.30" x2="271.90" y2="82.30" stroke="#000" stroke-width="1.3"/>
<line x1="278.00" y1="78.50" x2="300.00" y2="78.50" stroke="#000" stroke-width="1.3"/>
<line x1="330.20" y1="49.00" x2="330.20" y2="115.50" stroke="#000" stroke-width="1.4"/>
<line x1="329.50" y1="114.80" x2="381.20" y2="114.80" stroke="#000" stroke-width="1.4"/>
<line x1="327.20" y1="51.90" x2="330.20" y2="51.90" stroke="#000" stroke-width="1.15"/>
<text x="324.20" y="54.35" font-size="6.9" text-anchor="end">0.9</text>
<line x1="327.20" y1="73.10" x2="330.20" y2="73.10" stroke="#000" stroke-width="1.15"/>
<text x="324.20" y="75.55" font-size="6.9" text-anchor="end">0.6</text>
<line x1="327.20" y1="93.80" x2="330.20" y2="93.80" stroke="#000" stroke-width="1.15"/>
<text x="324.20" y="96.25" font-size="6.9" text-anchor="end">0.3</text>
<line x1="327.20" y1="114.80" x2="330.20" y2="114.80" stroke="#000" stroke-width="1.15"/>
<text x="324.20" y="117.25" font-size="6.9" text-anchor="end">0.0</text>
<line x1="343.30" y1="114.80" x2="343.30" y2="117.60" stroke="#000" stroke-width="1.15"/>
<line x1="368.30" y1="114.80" x2="368.30" y2="117.60" stroke="#000" stroke-width="1.15"/>
<line x1="338.71" y1="73.40" x2="347.89" y2="73.40" stroke="#222" stroke-width="1.0"/>
<line x1="338.71" y1="76.60" x2="347.89" y2="76.60" stroke="#222" stroke-width="1.0"/>
<line x1="343.30" y1="73.40" x2="343.30" y2="76.60" stroke="#222" stroke-width="1.0"/>
<line x1="363.63" y1="65.80" x2="372.97" y2="65.80" stroke="#222" stroke-width="1.0"/>
<line x1="363.63" y1="73.00" x2="372.97" y2="73.00" stroke="#222" stroke-width="1.0"/>
<line x1="368.30" y1="65.80" x2="368.30" y2="73.00" stroke="#222" stroke-width="1.0"/>
<circle cx="336.50" cy="74.00" r="2.2" fill="#1f3f8f"/>
<circle cx="343.30" cy="70.80" r="2.2" fill="#1f3f8f"/>
<circle cx="343.30" cy="79.20" r="2.2" fill="#1f3f8f"/>
<circle cx="349.00" cy="74.00" r="2.2" fill="#1f3f8f"/>
<circle cx="362.50" cy="67.00" r="1.75" fill="#eac0a4" stroke="#bf1a42" stroke-width="1.5"/>
<circle cx="368.30" cy="67.70" r="1.75" fill="#eac0a4" stroke="#bf1a42" stroke-width="1.5"/>
<circle cx="374.40" cy="63.50" r="1.75" fill="#eac0a4" stroke="#bf1a42" stroke-width="1.5"/>
<circle cx="368.30" cy="80.40" r="1.75" fill="#eac0a4" stroke="#bf1a42" stroke-width="1.5"/>
<line x1="335.00" y1="75.00" x2="352.00" y2="75.00" stroke="#000" stroke-width="1.3"/>
<line x1="360.00" y1="69.60" x2="377.30" y2="69.60" stroke="#000" stroke-width="1.3"/>
<line x1="415.00" y1="48.70" x2="415.00" y2="115.40" stroke="#000" stroke-width="1.4"/>
<line x1="414.30" y1="114.70" x2="462.00" y2="114.70" stroke="#000" stroke-width="1.4"/>
<line x1="412.00" y1="51.40" x2="415.00" y2="51.40" stroke="#000" stroke-width="1.15"/>
<text x="408.50" y="53.85" font-size="6.9" text-anchor="end">0.06</text>
<line x1="412.00" y1="72.90" x2="415.00" y2="72.90" stroke="#000" stroke-width="1.15"/>
<text x="408.50" y="75.35" font-size="6.9" text-anchor="end">0.04</text>
<line x1="412.00" y1="93.90" x2="415.00" y2="93.90" stroke="#000" stroke-width="1.15"/>
<text x="408.50" y="96.35" font-size="6.9" text-anchor="end">0.02</text>
<line x1="412.00" y1="115.00" x2="415.00" y2="115.00" stroke="#000" stroke-width="1.15"/>
<text x="408.50" y="117.45" font-size="6.9" text-anchor="end">0.00</text>
<line x1="427.90" y1="114.70" x2="427.90" y2="117.50" stroke="#000" stroke-width="1.15"/>
<line x1="452.70" y1="114.70" x2="452.70" y2="117.50" stroke="#000" stroke-width="1.15"/>
<line x1="423.04" y1="80.20" x2="432.76" y2="80.20" stroke="#222" stroke-width="1.0"/>
<line x1="423.04" y1="86.90" x2="432.76" y2="86.90" stroke="#222" stroke-width="1.0"/>
<line x1="427.90" y1="80.20" x2="427.90" y2="86.90" stroke="#222" stroke-width="1.0"/>
<line x1="447.84" y1="74.30" x2="457.56" y2="74.30" stroke="#222" stroke-width="1.0"/>
<line x1="447.84" y1="81.50" x2="457.56" y2="81.50" stroke="#222" stroke-width="1.0"/>
<line x1="452.70" y1="74.30" x2="452.70" y2="81.50" stroke="#222" stroke-width="1.0"/>
<circle cx="421.70" cy="81.00" r="2.2" fill="#1f3f8f"/>
<circle cx="427.90" cy="82.90" r="2.2" fill="#1f3f8f"/>
<circle cx="433.30" cy="78.80" r="2.2" fill="#1f3f8f"/>
<circle cx="427.90" cy="92.30" r="2.2" fill="#1f3f8f"/>
<circle cx="447.30" cy="76.70" r="1.75" fill="#eac0a4" stroke="#bf1a42" stroke-width="1.5"/>
<circle cx="452.70" cy="68.60" r="1.75" fill="#eac0a4" stroke="#bf1a42" stroke-width="1.5"/>
<circle cx="452.70" cy="81.00" r="1.75" fill="#eac0a4" stroke="#bf1a42" stroke-width="1.5"/>
<circle cx="453.20" cy="86.40" r="1.75" fill="#eac0a4" stroke="#bf1a42" stroke-width="1.5"/>
<line x1="419.00" y1="83.70" x2="437.00" y2="83.70" stroke="#000" stroke-width="1.3"/>
<line x1="444.10" y1="78.00" x2="462.10" y2="78.00" stroke="#000" stroke-width="1.3"/>
<circle cx="472.90" cy="63.20" r="2.1" fill="#1f3f8f"/>
<text x="478.30" y="65.60" font-size="7.2" font-style="italic" textLength="8.00" lengthAdjust="spacingAndGlyphs">wt</text>
<circle cx="472.90" cy="74.00" r="1.75" fill="#eac0a4" stroke="#bf1a42" stroke-width="1.5"/>
<text x="478.30" y="76.60" font-size="7.2" font-style="italic" textLength="20.60" lengthAdjust="spacingAndGlyphs">cd11c</text>
<text x="499.20" y="72.80" font-size="4.6" font-style="italic" textLength="5.00" lengthAdjust="spacingAndGlyphs">-/-</text>
<text x="266.70" y="170.80" font-size="9.2" textLength="19.30" lengthAdjust="spacingAndGlyphs">MPP</text>
<text x="340.00" y="170.80" font-size="9.2" textLength="33.00" lengthAdjust="spacingAndGlyphs">ST-HSC</text>
<text x="426.70" y="170.80" font-size="9.2" textLength="30.20" lengthAdjust="spacingAndGlyphs">LT-HSC</text>
<text x="227.60" y="226.20" font-size="9.0" font-weight="bold" textLength="27.72" lengthAdjust="spacingAndGlyphs" transform="rotate(-90 227.60 226.20)">Cells (x10</text>
<text x="223.82" y="198.28" font-size="5.3999999999999995" font-weight="bold" textLength="2.97" lengthAdjust="spacingAndGlyphs" transform="rotate(-90 223.82 198.28)">5</text>
<text x="227.60" y="195.21" font-size="9.0" font-weight="bold" textLength="2.01" lengthAdjust="spacingAndGlyphs" transform="rotate(-90 227.60 195.21)">)</text>
<line x1="250.00" y1="176.90" x2="250.00" y2="244.40" stroke="#000" stroke-width="1.4"/>
<line x1="249.30" y1="243.70" x2="302.00" y2="243.70" stroke="#000" stroke-width="1.4"/>
<line x1="247.00" y1="179.80" x2="250.00" y2="179.80" stroke="#000" stroke-width="1.15"/>
<text x="244.30" y="182.25" font-size="6.9" text-anchor="end">0.6</text>
<line x1="247.00" y1="201.00" x2="250.00" y2="201.00" stroke="#000" stroke-width="1.15"/>
<text x="244.30" y="203.45" font-size="6.9" text-anchor="end">0.4</text>
<line x1="247.00" y1="222.50" x2="250.00" y2="222.50" stroke="#000" stroke-width="1.15"/>
<text x="244.30" y="224.95" font-size="6.9" text-anchor="end">0.2</text>
<line x1="247.00" y1="243.90" x2="250.00" y2="243.90" stroke="#000" stroke-width="1.15"/>
<text x="244.30" y="246.35" font-size="6.9" text-anchor="end">0.0</text>
<line x1="262.90" y1="243.70" x2="262.90" y2="246.50" stroke="#000" stroke-width="1.15"/>
<line x1="288.50" y1="243.70" x2="288.50" y2="246.50" stroke="#000" stroke-width="1.15"/>
<line x1="258.12" y1="198.50" x2="267.68" y2="198.50" stroke="#222" stroke-width="1.0"/>
<line x1="258.12" y1="202.00" x2="267.68" y2="202.00" stroke="#222" stroke-width="1.0"/>
<line x1="262.90" y1="198.50" x2="262.90" y2="202.00" stroke="#222" stroke-width="1.0"/>
<line x1="282.56" y1="194.60" x2="294.44" y2="194.60" stroke="#222" stroke-width="1.0"/>
<line x1="282.56" y1="200.00" x2="294.44" y2="200.00" stroke="#222" stroke-width="1.0"/>
<line x1="288.50" y1="194.60" x2="288.50" y2="200.00" stroke="#222" stroke-width="1.0"/>
<circle cx="257.10" cy="198.10" r="2.2" fill="#1f3f8f"/>
<circle cx="262.90" cy="196.20" r="2.2" fill="#1f3f8f"/>
<circle cx="262.90" cy="202.50" r="2.2" fill="#1f3f8f"/>
<circle cx="268.70" cy="202.50" r="2.2" fill="#1f3f8f"/>
<circle cx="282.50" cy="190.80" r="1.75" fill="#eac0a4" stroke="#bf1a42" stroke-width="1.5"/>
<circle cx="288.50" cy="195.60" r="1.75" fill="#eac0a4" stroke="#bf1a42" stroke-width="1.5"/>
<circle cx="288.50" cy="202.30" r="1.75" fill="#eac0a4" stroke="#bf1a42" stroke-width="1.5"/>
<circle cx="294.60" cy="200.40" r="1.75" fill="#eac0a4" stroke="#bf1a42" stroke-width="1.5"/>
<line x1="254.20" y1="200.40" x2="271.90" y2="200.40" stroke="#000" stroke-width="1.3"/>
<line x1="278.00" y1="197.10" x2="300.00" y2="197.10" stroke="#000" stroke-width="1.3"/>
<line x1="330.20" y1="176.50" x2="330.20" y2="244.20" stroke="#000" stroke-width="1.4"/>
<line x1="329.50" y1="243.50" x2="382.30" y2="243.50" stroke="#000" stroke-width="1.4"/>
<line x1="327.20" y1="179.60" x2="330.20" y2="179.60" stroke="#000" stroke-width="1.15"/>
<text x="324.20" y="182.05" font-size="6.9" text-anchor="end">0.3</text>
<line x1="327.20" y1="201.20" x2="330.20" y2="201.20" stroke="#000" stroke-width="1.15"/>
<text x="324.20" y="203.65" font-size="6.9" text-anchor="end">0.2</text>
<line x1="327.20" y1="222.30" x2="330.20" y2="222.30" stroke="#000" stroke-width="1.15"/>
<text x="324.20" y="224.75" font-size="6.9" text-anchor="end">0.1</text>
<line x1="327.20" y1="243.70" x2="330.20" y2="243.70" stroke="#000" stroke-width="1.15"/>
<text x="324.20" y="246.15" font-size="6.9" text-anchor="end">0.0</text>
<line x1="343.70" y1="243.50" x2="343.70" y2="246.30" stroke="#000" stroke-width="1.15"/>
<line x1="369.20" y1="243.50" x2="369.20" y2="246.30" stroke="#000" stroke-width="1.15"/>
<line x1="338.92" y1="214.20" x2="348.48" y2="214.20" stroke="#222" stroke-width="1.0"/>
<line x1="338.92" y1="219.40" x2="348.48" y2="219.40" stroke="#222" stroke-width="1.0"/>
<line x1="343.70" y1="214.20" x2="343.70" y2="219.40" stroke="#222" stroke-width="1.0"/>
<line x1="364.53" y1="211.60" x2="373.87" y2="211.60" stroke="#222" stroke-width="1.0"/>
<line x1="364.53" y1="213.90" x2="373.87" y2="213.90" stroke="#222" stroke-width="1.0"/>
<line x1="369.20" y1="211.60" x2="369.20" y2="213.90" stroke="#222" stroke-width="1.0"/>
<circle cx="337.50" cy="211.30" r="2.2" fill="#1f3f8f"/>
<circle cx="343.70" cy="214.00" r="2.2" fill="#1f3f8f"/>
<circle cx="349.60" cy="218.10" r="2.2" fill="#1f3f8f"/>
<circle cx="343.70" cy="223.70" r="2.2" fill="#1f3f8f"/>
<circle cx="363.00" cy="212.30" r="1.75" fill="#eac0a4" stroke="#bf1a42" stroke-width="1.5"/>
<circle cx="369.20" cy="214.20" r="1.75" fill="#eac0a4" stroke="#bf1a42" stroke-width="1.5"/>
<circle cx="372.50" cy="211.30" r="1.75" fill="#eac0a4" stroke="#bf1a42" stroke-width="1.5"/>
<circle cx="375.40" cy="214.00" r="1.75" fill="#eac0a4" stroke="#bf1a42" stroke-width="1.5"/>
<line x1="334.20" y1="216.90" x2="351.90" y2="216.90" stroke="#000" stroke-width="1.3"/>
<line x1="360.60" y1="212.70" x2="377.90" y2="212.70" stroke="#000" stroke-width="1.3"/>
<line x1="415.60" y1="177.10" x2="415.60" y2="244.20" stroke="#000" stroke-width="1.4"/>
<line x1="414.90" y1="243.50" x2="466.90" y2="243.50" stroke="#000" stroke-width="1.4"/>
<line x1="412.60" y1="180.00" x2="415.60" y2="180.00" stroke="#000" stroke-width="1.15"/>
<text x="409.60" y="182.45" font-size="6.9" text-anchor="end">0.06</text>
<line x1="412.60" y1="201.20" x2="415.60" y2="201.20" stroke="#000" stroke-width="1.15"/>
<text x="409.60" y="203.65" font-size="6.9" text-anchor="end">0.04</text>
<line x1="412.60" y1="222.30" x2="415.60" y2="222.30" stroke="#000" stroke-width="1.15"/>
<text x="409.60" y="224.75" font-size="6.9" text-anchor="end">0.02</text>
<line x1="412.60" y1="243.70" x2="415.60" y2="243.70" stroke="#000" stroke-width="1.15"/>
<text x="409.60" y="246.15" font-size="6.9" text-anchor="end">0.00</text>
<line x1="428.50" y1="243.50" x2="428.50" y2="246.30" stroke="#000" stroke-width="1.15"/>
<line x1="454.40" y1="243.50" x2="454.40" y2="246.30" stroke="#000" stroke-width="1.15"/>
<line x1="423.72" y1="201.20" x2="433.28" y2="201.20" stroke="#222" stroke-width="1.0"/>
<line x1="423.72" y1="206.50" x2="433.28" y2="206.50" stroke="#222" stroke-width="1.0"/>
<line x1="428.50" y1="201.20" x2="428.50" y2="206.50" stroke="#222" stroke-width="1.0"/>
<line x1="449.62" y1="197.30" x2="459.18" y2="197.30" stroke="#222" stroke-width="1.0"/>
<line x1="449.62" y1="204.40" x2="459.18" y2="204.40" stroke="#222" stroke-width="1.0"/>
<line x1="454.40" y1="197.30" x2="454.40" y2="204.40" stroke="#222" stroke-width="1.0"/>
<circle cx="422.70" cy="196.90" r="2.2" fill="#1f3f8f"/>
<circle cx="429.00" cy="201.70" r="2.2" fill="#1f3f8f"/>
<circle cx="429.00" cy="208.30" r="2.2" fill="#1f3f8f"/>
<circle cx="434.80" cy="208.30" r="2.2" fill="#1f3f8f"/>
<circle cx="448.30" cy="198.30" r="1.75" fill="#eac0a4" stroke="#bf1a42" stroke-width="1.5"/>
<circle cx="454.40" cy="192.50" r="1.75" fill="#eac0a4" stroke="#bf1a42" stroke-width="1.5"/>
<circle cx="454.40" cy="202.10" r="1.75" fill="#eac0a4" stroke="#bf1a42" stroke-width="1.5"/>
<circle cx="454.40" cy="210.40" r="1.75" fill="#eac0a4" stroke="#bf1a42" stroke-width="1.5"/>
<line x1="420.00" y1="203.70" x2="437.70" y2="203.70" stroke="#000" stroke-width="1.3"/>
<line x1="445.40" y1="200.80" x2="463.10" y2="200.80" stroke="#000" stroke-width="1.3"/>
<text x="90.30" y="184.50" font-size="9.4" textLength="57.00" lengthAdjust="spacingAndGlyphs">Gated on LSK</text>
<text x="69.60" y="197.60" font-size="6.6" font-style="italic" textLength="7.00" lengthAdjust="spacingAndGlyphs">wt</text>
<text x="156.50" y="197.40" font-size="6.6" font-style="italic" textLength="19.00" lengthAdjust="spacingAndGlyphs">cd11c</text>
<text x="176.00" y="194.10" font-size="4.2" font-style="italic" textLength="4.40" lengthAdjust="spacingAndGlyphs">-/-</text>
<path d="M109.1,203.5 L37.5,203.5 L37.5,275.1 L109.1,275.1" fill="none" stroke="#a0a0a0" stroke-width="0.7"/>
<line x1="37.50" y1="275.10" x2="109.10" y2="275.10" stroke="#888" stroke-width="0.8"/>
<g stroke="#666" stroke-width="0.55"><line x1="36.5" y1="205.5" x2="37.5" y2="205.5"/><line x1="36.5" y1="207.8" x2="37.5" y2="207.8"/><line x1="36.5" y1="210.2" x2="37.5" y2="210.2"/><line x1="36.5" y1="212.5" x2="37.5" y2="212.5"/><line x1="36.5" y1="214.8" x2="37.5" y2="214.8"/><line x1="36.5" y1="217.2" x2="37.5" y2="217.2"/><line x1="36.5" y1="219.5" x2="37.5" y2="219.5"/><line x1="36.5" y1="221.8" x2="37.5" y2="221.8"/><line x1="36.5" y1="224.1" x2="37.5" y2="224.1"/><line x1="36.5" y1="226.5" x2="37.5" y2="226.5"/><line x1="36.5" y1="228.8" x2="37.5" y2="228.8"/><line x1="36.5" y1="231.1" x2="37.5" y2="231.1"/><line x1="36.5" y1="233.5" x2="37.5" y2="233.5"/><line x1="36.5" y1="235.8" x2="37.5" y2="235.8"/><line x1="36.5" y1="238.1" x2="37.5" y2="238.1"/><line x1="36.5" y1="240.5" x2="37.5" y2="240.5"/><line x1="36.5" y1="242.8" x2="37.5" y2="242.8"/><line x1="36.5" y1="245.1" x2="37.5" y2="245.1"/><line x1="36.5" y1="247.5" x2="37.5" y2="247.5"/><line x1="36.5" y1="249.8" x2="37.5" y2="249.8"/><line x1="36.5" y1="252.1" x2="37.5" y2="252.1"/><line x1="36.5" y1="254.5" x2="37.5" y2="254.5"/><line x1="36.5" y1="256.8" x2="37.5" y2="256.8"/><line x1="36.5" y1="259.1" x2="37.5" y2="259.1"/><line x1="36.5" y1="261.4" x2="37.5" y2="261.4"/><line x1="36.5" y1="263.8" x2="37.5" y2="263.8"/><line x1="36.5" y1="266.1" x2="37.5" y2="266.1"/><line x1="36.5" y1="268.4" x2="37.5" y2="268.4"/><line x1="36.5" y1="270.8" x2="37.5" y2="270.8"/><line x1="36.5" y1="273.1" x2="37.5" y2="273.1"/><line x1="39.5" y1="275.1" x2="39.5" y2="276.2"/><line x1="41.8" y1="275.1" x2="41.8" y2="276.2"/><line x1="44.2" y1="275.1" x2="44.2" y2="276.2"/><line x1="46.5" y1="275.1" x2="46.5" y2="276.2"/><line x1="48.8" y1="275.1" x2="48.8" y2="276.2"/><line x1="51.2" y1="275.1" x2="51.2" y2="276.2"/><line x1="53.5" y1="275.1" x2="53.5" y2="276.2"/><line x1="55.8" y1="275.1" x2="55.8" y2="276.2"/><line x1="58.1" y1="275.1" x2="58.1" y2="276.2"/><line x1="60.5" y1="275.1" x2="60.5" y2="276.2"/><line x1="62.8" y1="275.1" x2="62.8" y2="276.2"/><line x1="65.1" y1="275.1" x2="65.1" y2="276.2"/><line x1="67.5" y1="275.1" x2="67.5" y2="276.2"/><line x1="69.8" y1="275.1" x2="69.8" y2="276.2"/><line x1="72.1" y1="275.1" x2="72.1" y2="276.2"/><line x1="74.5" y1="275.1" x2="74.5" y2="276.2"/><line x1="76.8" y1="275.1" x2="76.8" y2="276.2"/><line x1="79.1" y1="275.1" x2="79.1" y2="276.2"/><line x1="81.5" y1="275.1" x2="81.5" y2="276.2"/><line x1="83.8" y1="275.1" x2="83.8" y2="276.2"/><line x1="86.1" y1="275.1" x2="86.1" y2="276.2"/><line x1="88.5" y1="275.1" x2="88.5" y2="276.2"/><line x1="90.8" y1="275.1" x2="90.8" y2="276.2"/><line x1="93.1" y1="275.1" x2="93.1" y2="276.2"/><line x1="95.4" y1="275.1" x2="95.4" y2="276.2"/><line x1="97.8" y1="275.1" x2="97.8" y2="276.2"/><line x1="100.1" y1="275.1" x2="100.1" y2="276.2"/><line x1="102.4" y1="275.1" x2="102.4" y2="276.2"/><line x1="104.8" y1="275.1" x2="104.8" y2="276.2"/><line x1="107.1" y1="275.1" x2="107.1" y2="276.2"/></g>
<text x="22.40" y="212.50" font-size="6.5" textLength="6.60" lengthAdjust="spacingAndGlyphs">10</text>
<text x="29.20" y="209.25" font-size="4.55" style="stroke-width:0.12px">5</text>
<text x="22.40" y="229.40" font-size="6.5" textLength="6.60" lengthAdjust="spacingAndGlyphs">10</text>
<text x="29.20" y="226.15" font-size="4.55" style="stroke-width:0.12px">4</text>
<text x="22.40" y="248.90" font-size="6.5" textLength="6.60" lengthAdjust="spacingAndGlyphs">10</text>
<text x="29.20" y="245.65" font-size="4.55" style="stroke-width:0.12px">3</text>
<text x="28.40" y="259.20" font-size="6.5" textLength="3.60" lengthAdjust="spacingAndGlyphs">0</text>
<text x="19.70" y="273.10" font-size="6.5" textLength="8.60" lengthAdjust="spacingAndGlyphs">-10</text>
<text x="28.60" y="270.37" font-size="4.03" style="stroke-width:0.12px">3</text>
<rect x="36.1" y="256.5" width="1.5" height="2.2" fill="#000"/>
<rect x="52.1" y="274.5" width="2.4" height="1.6" fill="#000"/>
<text x="35.80" y="286.30" font-size="6.5" textLength="8.40" lengthAdjust="spacingAndGlyphs">-10</text>
<text x="44.50" y="283.57" font-size="4.03" style="stroke-width:0.12px">3</text>
<text x="54.70" y="286.30" font-size="6.5" text-anchor="middle">0</text>
<text x="60.40" y="286.30" font-size="6.5" textLength="6.40" lengthAdjust="spacingAndGlyphs">10</text>
<text x="67.00" y="283.05" font-size="4.55" style="stroke-width:0.12px">3</text>
<text x="79.60" y="286.30" font-size="6.5" textLength="6.40" lengthAdjust="spacingAndGlyphs">10</text>
<text x="86.20" y="283.05" font-size="4.55" style="stroke-width:0.12px">4</text>
<text x="96.90" y="286.30" font-size="6.5" textLength="6.40" lengthAdjust="spacingAndGlyphs">10</text>
<text x="103.50" y="283.05" font-size="4.55" style="stroke-width:0.12px">5</text>
<g fill="#6a6a6a"><rect x="67.6" y="230.0" width="0.5" height="0.5"/><rect x="66.3" y="225.5" width="0.5" height="0.5"/><rect x="68.3" y="227.8" width="0.5" height="0.5"/><rect x="63.2" y="233.6" width="0.5" height="0.5"/><rect x="67.6" y="221.6" width="0.5" height="0.5"/><rect x="64.5" y="230.5" width="0.5" height="0.5"/><rect x="69.5" y="233.0" width="0.5" height="0.5"/><rect x="60.9" y="226.7" width="0.5" height="0.5"/><rect x="75.7" y="226.7" width="0.5" height="0.5"/><rect x="65.0" y="222.4" width="0.5" height="0.5"/><rect x="60.9" y="228.8" width="0.5" height="0.5"/><rect x="62.4" y="227.8" width="0.5" height="0.5"/><rect x="61.9" y="231.6" width="0.5" height="0.5"/><rect x="66.9" y="229.1" width="0.5" height="0.5"/><rect x="71.0" y="231.6" width="0.5" height="0.5"/><rect x="68.8" y="227.2" width="0.5" height="0.5"/><rect x="69.1" y="228.1" width="0.5" height="0.5"/><rect x="65.0" y="229.2" width="0.5" height="0.5"/><rect x="80.1" y="227.9" width="0.5" height="0.5"/><rect x="65.4" y="221.5" width="0.5" height="0.5"/><rect x="62.0" y="231.4" width="0.5" height="0.5"/><rect x="60.9" y="230.0" width="0.5" height="0.5"/><rect x="60.9" y="223.1" width="0.5" height="0.5"/><rect x="63.7" y="224.0" width="0.5" height="0.5"/><rect x="71.5" y="225.6" width="0.5" height="0.5"/><rect x="64.4" y="228.1" width="0.5" height="0.5"/><rect x="66.0" y="225.1" width="0.5" height="0.5"/><rect x="66.3" y="227.5" width="0.5" height="0.5"/><rect x="67.9" y="231.2" width="0.5" height="0.5"/><rect x="61.1" y="224.2" width="0.5" height="0.5"/><rect x="64.9" y="230.4" width="0.5" height="0.5"/><rect x="70.2" y="226.2" width="0.5" height="0.5"/><rect x="63.6" y="230.6" width="0.5" height="0.5"/><rect x="62.0" y="229.1" width="0.5" height="0.5"/><rect x="61.4" y="225.1" width="0.5" height="0.5"/><rect x="66.4" y="226.1" width="0.5" height="0.5"/><rect x="63.8" y="235.7" width="0.5" height="0.5"/><rect x="66.2" y="233.4" width="0.5" height="0.5"/><rect x="65.0" y="231.6" width="0.5" height="0.5"/><rect x="61.4" y="232.0" width="0.5" height="0.5"/><rect x="70.9" y="226.5" width="0.5" height="0.5"/><rect x="64.5" y="237.9" width="0.5" height="0.5"/><rect x="61.8" y="233.0" width="0.5" height="0.5"/><rect x="65.5" y="222.4" width="0.5" height="0.5"/><rect x="74.9" y="237.0" width="0.5" height="0.5"/><rect x="61.4" y="231.9" width="0.5" height="0.5"/><rect x="61.1" y="223.7" width="0.5" height="0.5"/><rect x="61.0" y="230.0" width="0.5" height="0.5"/><rect x="67.0" y="231.6" width="0.5" height="0.5"/><rect x="60.7" y="234.9" width="0.5" height="0.5"/><rect x="64.9" y="232.1" width="0.5" height="0.5"/><rect x="67.0" y="226.6" width="0.5" height="0.5"/><rect x="71.0" y="223.6" width="0.5" height="0.5"/><rect x="61.7" y="230.7" width="0.5" height="0.5"/><rect x="69.6" y="223.1" width="0.5" height="0.5"/><rect x="60.3" y="231.3" width="0.5" height="0.5"/><rect x="61.2" y="216.3" width="0.5" height="0.5"/><rect x="65.1" y="239.7" width="0.5" height="0.5"/><rect x="66.3" y="223.5" width="0.5" height="0.5"/><rect x="62.8" y="229.2" width="0.5" height="0.5"/><rect x="75.2" y="231.2" width="0.5" height="0.5"/><rect x="61.0" y="235.9" width="0.5" height="0.5"/><rect x="60.8" y="237.4" width="0.5" height="0.5"/><rect x="64.4" y="225.7" width="0.5" height="0.5"/><rect x="64.6" y="235.2" width="0.5" height="0.5"/><rect x="64.2" y="229.6" width="0.5" height="0.5"/><rect x="71.2" y="224.5" width="0.5" height="0.5"/><rect x="64.0" y="225.4" width="0.5" height="0.5"/><rect x="63.8" y="226.4" width="0.5" height="0.5"/><rect x="65.0" y="228.5" width="0.5" height="0.5"/><rect x="62.3" y="228.7" width="0.5" height="0.5"/><rect x="62.9" y="232.4" width="0.5" height="0.5"/><rect x="63.2" y="226.9" width="0.5" height="0.5"/><rect x="68.5" y="236.1" width="0.5" height="0.5"/><rect x="69.0" y="227.2" width="0.5" height="0.5"/><rect x="63.2" y="221.9" width="0.5" height="0.5"/><rect x="61.3" y="229.1" width="0.5" height="0.5"/><rect x="73.4" y="229.3" width="0.5" height="0.5"/><rect x="65.0" y="215.9" width="0.5" height="0.5"/><rect x="68.8" y="229.0" width="0.5" height="0.5"/><rect x="70.0" y="229.0" width="0.5" height="0.5"/><rect x="70.0" y="245.5" width="0.5" height="0.5"/><rect x="67.0" y="231.0" width="0.5" height="0.5"/><rect x="61.4" y="217.4" width="0.5" height="0.5"/><rect x="61.1" y="220.3" width="0.5" height="0.5"/><rect x="63.9" y="217.4" width="0.5" height="0.5"/><rect x="65.7" y="234.2" width="0.5" height="0.5"/><rect x="70.2" y="222.2" width="0.5" height="0.5"/><rect x="69.5" y="232.5" width="0.5" height="0.5"/><rect x="65.4" y="223.2" width="0.5" height="0.5"/><rect x="64.5" y="224.6" width="0.5" height="0.5"/><rect x="67.4" y="224.7" width="0.5" height="0.5"/><rect x="67.8" y="231.5" width="0.5" height="0.5"/><rect x="72.6" y="227.7" width="0.5" height="0.5"/><rect x="61.1" y="223.2" width="0.5" height="0.5"/><rect x="61.0" y="221.5" width="0.5" height="0.5"/><rect x="71.0" y="231.6" width="0.5" height="0.5"/><rect x="68.9" y="232.3" width="0.5" height="0.5"/><rect x="68.3" y="229.4" width="0.5" height="0.5"/><rect x="64.6" y="228.5" width="0.5" height="0.5"/><rect x="62.5" y="222.5" width="0.5" height="0.5"/><rect x="70.5" y="220.7" width="0.5" height="0.5"/><rect x="60.3" y="228.9" width="0.5" height="0.5"/><rect x="63.1" y="235.2" width="0.5" height="0.5"/><rect x="61.4" y="231.0" width="0.5" height="0.5"/><rect x="67.6" y="224.0" width="0.5" height="0.5"/><rect x="72.1" y="231.9" width="0.5" height="0.5"/><rect x="64.4" y="234.7" width="0.5" height="0.5"/><rect x="62.3" y="233.1" width="0.5" height="0.5"/><rect x="64.9" y="217.7" width="0.5" height="0.5"/><rect x="64.6" y="224.7" width="0.5" height="0.5"/><rect x="64.8" y="225.9" width="0.5" height="0.5"/><rect x="64.9" y="232.5" width="0.5" height="0.5"/><rect x="66.4" y="219.8" width="0.5" height="0.5"/><rect x="63.8" y="216.2" width="0.5" height="0.5"/><rect x="60.9" y="231.1" width="0.5" height="0.5"/><rect x="64.9" y="229.3" width="0.5" height="0.5"/><rect x="61.7" y="233.1" width="0.5" height="0.5"/><rect x="65.2" y="224.0" width="0.5" height="0.5"/><rect x="64.9" y="236.9" width="0.5" height="0.5"/><rect x="66.8" y="227.5" width="0.5" height="0.5"/><rect x="61.7" y="228.7" width="0.5" height="0.5"/><rect x="61.5" y="227.1" width="0.5" height="0.5"/><rect x="62.3" y="221.8" width="0.5" height="0.5"/><rect x="64.2" y="236.4" width="0.5" height="0.5"/><rect x="63.5" y="228.4" width="0.5" height="0.5"/><rect x="61.6" y="228.4" width="0.5" height="0.5"/><rect x="62.4" y="224.9" width="0.5" height="0.5"/><rect x="61.5" y="229.3" width="0.5" height="0.5"/><rect x="64.8" y="224.2" width="0.5" height="0.5"/><rect x="66.3" y="222.8" width="0.5" height="0.5"/><rect x="65.6" y="216.3" width="0.5" height="0.5"/><rect x="61.9" y="225.0" width="0.5" height="0.5"/><rect x="64.0" y="228.6" width="0.5" height="0.5"/><rect x="67.1" y="228.5" width="0.5" height="0.5"/><rect x="61.1" y="225.0" width="0.5" height="0.5"/><rect x="61.1" y="232.7" width="0.5" height="0.5"/><rect x="62.7" y="222.4" width="0.5" height="0.5"/><rect x="67.9" y="222.6" width="0.5" height="0.5"/><rect x="68.6" y="233.6" width="0.5" height="0.5"/><rect x="62.4" y="226.9" width="0.5" height="0.5"/><rect x="69.1" y="224.8" width="0.5" height="0.5"/><rect x="64.8" y="232.1" width="0.5" height="0.5"/><rect x="69.6" y="220.3" width="0.5" height="0.5"/><rect x="65.9" y="232.6" width="0.5" height="0.5"/><rect x="68.1" y="222.0" width="0.5" height="0.5"/><rect x="66.6" y="226.2" width="0.5" height="0.5"/><rect x="62.7" y="225.3" width="0.5" height="0.5"/><rect x="62.2" y="219.0" width="0.5" height="0.5"/><rect x="66.3" y="221.9" width="0.5" height="0.5"/><rect x="63.2" y="238.5" width="0.5" height="0.5"/><rect x="76.7" y="226.4" width="0.5" height="0.5"/><rect x="70.6" y="226.1" width="0.5" height="0.5"/><rect x="65.9" y="238.0" width="0.5" height="0.5"/><rect x="63.7" y="224.5" width="0.5" height="0.5"/><rect x="65.9" y="230.8" width="0.5" height="0.5"/><rect x="70.1" y="225.4" width="0.5" height="0.5"/><rect x="61.7" y="228.2" width="0.5" height="0.5"/><rect x="61.1" y="226.4" width="0.5" height="0.5"/><rect x="61.4" y="225.2" width="0.5" height="0.5"/><rect x="65.7" y="235.7" width="0.5" height="0.5"/><rect x="62.5" y="230.3" width="0.5" height="0.5"/><rect x="69.9" y="227.3" width="0.5" height="0.5"/><rect x="65.2" y="221.6" width="0.5" height="0.5"/><rect x="66.9" y="226.2" width="0.5" height="0.5"/><rect x="62.7" y="227.4" width="0.5" height="0.5"/><rect x="61.6" y="234.1" width="0.5" height="0.5"/><rect x="62.7" y="235.9" width="0.5" height="0.5"/><rect x="65.0" y="223.4" width="0.5" height="0.5"/><rect x="64.6" y="222.8" width="0.5" height="0.5"/><rect x="62.5" y="232.6" width="0.5" height="0.5"/><rect x="67.6" y="219.2" width="0.5" height="0.5"/><rect x="63.3" y="237.5" width="0.5" height="0.5"/><rect x="67.5" y="226.9" width="0.5" height="0.5"/><rect x="63.9" y="226.6" width="0.5" height="0.5"/><rect x="67.2" y="226.8" width="0.5" height="0.5"/><rect x="61.4" y="227.4" width="0.5" height="0.5"/><rect x="67.4" y="226.9" width="0.5" height="0.5"/><rect x="69.0" y="233.4" width="0.5" height="0.5"/><rect x="66.7" y="225.9" width="0.5" height="0.5"/><rect x="61.1" y="226.4" width="0.5" height="0.5"/><rect x="66.3" y="226.9" width="0.5" height="0.5"/><rect x="73.4" y="225.1" width="0.5" height="0.5"/><rect x="61.1" y="233.7" width="0.5" height="0.5"/><rect x="64.8" y="231.9" width="0.5" height="0.5"/><rect x="65.5" y="218.3" width="0.5" height="0.5"/><rect x="65.5" y="228.7" width="0.5" height="0.5"/><rect x="63.3" y="234.6" width="0.5" height="0.5"/><rect x="63.1" y="226.9" width="0.5" height="0.5"/><rect x="60.5" y="227.0" width="0.5" height="0.5"/><rect x="61.8" y="231.5" width="0.5" height="0.5"/><rect x="62.3" y="224.0" width="0.5" height="0.5"/><rect x="65.4" y="233.6" width="0.5" height="0.5"/><rect x="68.0" y="233.1" width="0.5" height="0.5"/><rect x="65.4" y="232.3" width="0.5" height="0.5"/><rect x="60.3" y="231.4" width="0.5" height="0.5"/><rect x="66.6" y="227.1" width="0.5" height="0.5"/><rect x="64.7" y="231.7" width="0.5" height="0.5"/><rect x="63.8" y="227.6" width="0.5" height="0.5"/><rect x="62.7" y="234.9" width="0.5" height="0.5"/><rect x="65.1" y="223.4" width="0.5" height="0.5"/><rect x="65.2" y="222.6" width="0.5" height="0.5"/><rect x="63.0" y="225.2" width="0.5" height="0.5"/><rect x="60.9" y="219.0" width="0.5" height="0.5"/><rect x="64.6" y="225.6" width="0.5" height="0.5"/><rect x="65.7" y="238.5" width="0.5" height="0.5"/><rect x="64.6" y="245.6" width="0.5" height="0.5"/><rect x="62.7" y="226.4" width="0.5" height="0.5"/><rect x="60.9" y="236.1" width="0.5" height="0.5"/><rect x="60.5" y="230.4" width="0.5" height="0.5"/><rect x="63.4" y="223.5" width="0.5" height="0.5"/><rect x="61.1" y="225.6" width="0.5" height="0.5"/><rect x="67.8" y="232.5" width="0.5" height="0.5"/><rect x="64.3" y="228.5" width="0.5" height="0.5"/><rect x="65.7" y="218.1" width="0.5" height="0.5"/><rect x="63.2" y="227.6" width="0.5" height="0.5"/><rect x="70.4" y="227.8" width="0.5" height="0.5"/><rect x="69.4" y="228.0" width="0.5" height="0.5"/><rect x="61.2" y="229.9" width="0.5" height="0.5"/><rect x="61.6" y="229.0" width="0.5" height="0.5"/><rect x="67.1" y="226.2" width="0.5" height="0.5"/><rect x="63.4" y="226.9" width="0.5" height="0.5"/><rect x="61.9" y="231.2" width="0.5" height="0.5"/><rect x="70.1" y="215.3" width="0.5" height="0.5"/><rect x="62.7" y="227.1" width="0.5" height="0.5"/><rect x="74.0" y="232.8" width="0.5" height="0.5"/><rect x="70.2" y="230.1" width="0.5" height="0.5"/><rect x="63.4" y="233.1" width="0.5" height="0.5"/><rect x="66.6" y="227.6" width="0.5" height="0.5"/><rect x="61.1" y="227.6" width="0.5" height="0.5"/><rect x="63.8" y="218.9" width="0.5" height="0.5"/><rect x="63.1" y="233.1" width="0.5" height="0.5"/><rect x="60.7" y="223.0" width="0.5" height="0.5"/><rect x="61.5" y="230.9" width="0.5" height="0.5"/><rect x="61.4" y="228.0" width="0.5" height="0.5"/><rect x="68.8" y="222.5" width="0.5" height="0.5"/><rect x="63.6" y="218.6" width="0.5" height="0.5"/><rect x="64.5" y="224.4" width="0.5" height="0.5"/><rect x="66.1" y="224.6" width="0.5" height="0.5"/><rect x="71.1" y="227.1" width="0.5" height="0.5"/><rect x="61.0" y="239.1" width="0.5" height="0.5"/><rect x="60.7" y="219.4" width="0.5" height="0.5"/><rect x="62.7" y="223.4" width="0.5" height="0.5"/><rect x="70.1" y="221.9" width="0.5" height="0.5"/><rect x="63.8" y="220.1" width="0.5" height="0.5"/><rect x="60.9" y="223.0" width="0.5" height="0.5"/><rect x="60.7" y="226.2" width="0.5" height="0.5"/><rect x="64.0" y="232.8" width="0.5" height="0.5"/><rect x="65.9" y="228.4" width="0.5" height="0.5"/><rect x="65.7" y="222.7" width="0.5" height="0.5"/><rect x="61.9" y="240.1" width="0.5" height="0.5"/><rect x="63.0" y="224.2" width="0.5" height="0.5"/><rect x="64.5" y="222.6" width="0.5" height="0.5"/><rect x="66.1" y="227.1" width="0.5" height="0.5"/><rect x="68.9" y="228.1" width="0.5" height="0.5"/><rect x="63.4" y="220.0" width="0.5" height="0.5"/><rect x="61.6" y="228.0" width="0.5" height="0.5"/><rect x="67.7" y="222.7" width="0.5" height="0.5"/><rect x="60.6" y="233.2" width="0.5" height="0.5"/><rect x="64.1" y="229.1" width="0.5" height="0.5"/><rect x="70.0" y="244.3" width="0.5" height="0.5"/><rect x="71.3" y="250.9" width="0.5" height="0.5"/><rect x="66.8" y="241.8" width="0.5" height="0.5"/><rect x="76.4" y="242.1" width="0.5" height="0.5"/><rect x="77.0" y="242.9" width="0.5" height="0.5"/><rect x="71.9" y="241.8" width="0.5" height="0.5"/><rect x="65.8" y="239.6" width="0.5" height="0.5"/><rect x="80.2" y="245.4" width="0.5" height="0.5"/><rect x="73.7" y="246.5" width="0.5" height="0.5"/><rect x="73.6" y="246.8" width="0.5" height="0.5"/><rect x="70.2" y="242.3" width="0.5" height="0.5"/><rect x="75.2" y="241.8" width="0.5" height="0.5"/><rect x="66.0" y="242.3" width="0.5" height="0.5"/><rect x="69.1" y="245.3" width="0.5" height="0.5"/><rect x="68.4" y="239.3" width="0.5" height="0.5"/><rect x="70.0" y="248.7" width="0.5" height="0.5"/><rect x="71.1" y="243.7" width="0.5" height="0.5"/><rect x="71.3" y="244.2" width="0.5" height="0.5"/><rect x="75.0" y="248.1" width="0.5" height="0.5"/><rect x="64.7" y="248.0" width="0.5" height="0.5"/><rect x="71.3" y="241.9" width="0.5" height="0.5"/><rect x="80.9" y="242.5" width="0.5" height="0.5"/><rect x="79.1" y="246.6" width="0.5" height="0.5"/><rect x="67.2" y="244.9" width="0.5" height="0.5"/><rect x="74.2" y="242.6" width="0.5" height="0.5"/><rect x="62.0" y="241.9" width="0.5" height="0.5"/><rect x="70.5" y="239.1" width="0.5" height="0.5"/><rect x="78.6" y="242.2" width="0.5" height="0.5"/><rect x="69.7" y="242.0" width="0.5" height="0.5"/><rect x="68.2" y="240.3" width="0.5" height="0.5"/><rect x="71.7" y="244.2" width="0.5" height="0.5"/><rect x="69.3" y="242.8" width="0.5" height="0.5"/><rect x="65.7" y="245.0" width="0.5" height="0.5"/><rect x="68.3" y="243.9" width="0.5" height="0.5"/><rect x="67.7" y="241.2" width="0.5" height="0.5"/><rect x="72.2" y="238.7" width="0.5" height="0.5"/><rect x="81.2" y="243.0" width="0.5" height="0.5"/><rect x="71.0" y="240.5" width="0.5" height="0.5"/><rect x="77.7" y="248.1" width="0.5" height="0.5"/><rect x="72.5" y="238.2" width="0.5" height="0.5"/><rect x="69.3" y="245.3" width="0.5" height="0.5"/><rect x="69.3" y="238.8" width="0.5" height="0.5"/><rect x="66.5" y="240.3" width="0.5" height="0.5"/><rect x="71.4" y="240.8" width="0.5" height="0.5"/><rect x="71.4" y="253.2" width="0.5" height="0.5"/><rect x="78.4" y="239.4" width="0.5" height="0.5"/><rect x="72.7" y="243.4" width="0.5" height="0.5"/><rect x="70.7" y="246.9" width="0.5" height="0.5"/><rect x="70.0" y="241.9" width="0.5" height="0.5"/><rect x="69.8" y="242.7" width="0.5" height="0.5"/><rect x="76.4" y="245.9" width="0.5" height="0.5"/><rect x="65.9" y="241.5" width="0.5" height="0.5"/><rect x="68.1" y="246.0" width="0.5" height="0.5"/><rect x="72.2" y="246.3" width="0.5" height="0.5"/><rect x="71.1" y="236.2" width="0.5" height="0.5"/><rect x="73.1" y="243.9" width="0.5" height="0.5"/><rect x="73.3" y="238.4" width="0.5" height="0.5"/><rect x="71.6" y="240.6" width="0.5" height="0.5"/><rect x="68.6" y="244.4" width="0.5" height="0.5"/><rect x="72.7" y="239.9" width="0.5" height="0.5"/><rect x="64.5" y="234.2" width="0.5" height="0.5"/><rect x="69.0" y="247.1" width="0.5" height="0.5"/><rect x="71.1" y="235.0" width="0.5" height="0.5"/><rect x="67.8" y="244.6" width="0.5" height="0.5"/><rect x="78.0" y="247.3" width="0.5" height="0.5"/><rect x="72.8" y="243.8" width="0.5" height="0.5"/><rect x="67.1" y="241.5" width="0.5" height="0.5"/><rect x="70.0" y="240.3" width="0.5" height="0.5"/><rect x="71.6" y="241.7" width="0.5" height="0.5"/><rect x="72.6" y="248.3" width="0.5" height="0.5"/><rect x="74.3" y="244.6" width="0.5" height="0.5"/><rect x="70.3" y="237.6" width="0.5" height="0.5"/><rect x="70.8" y="245.1" width="0.5" height="0.5"/><rect x="67.3" y="247.6" width="0.5" height="0.5"/><rect x="70.0" y="244.4" width="0.5" height="0.5"/><rect x="70.0" y="238.6" width="0.5" height="0.5"/><rect x="79.6" y="238.9" width="0.5" height="0.5"/><rect x="75.0" y="241.1" width="0.5" height="0.5"/><rect x="72.4" y="240.2" width="0.5" height="0.5"/><rect x="69.6" y="246.4" width="0.5" height="0.5"/><rect x="79.1" y="240.1" width="0.5" height="0.5"/><rect x="71.3" y="246.5" width="0.5" height="0.5"/><rect x="68.8" y="245.7" width="0.5" height="0.5"/><rect x="68.2" y="245.3" width="0.5" height="0.5"/><rect x="73.0" y="247.5" width="0.5" height="0.5"/><rect x="72.8" y="238.8" width="0.5" height="0.5"/><rect x="74.0" y="239.1" width="0.5" height="0.5"/><rect x="74.3" y="248.5" width="0.5" height="0.5"/><rect x="73.7" y="241.1" width="0.5" height="0.5"/><rect x="76.1" y="243.7" width="0.5" height="0.5"/><rect x="66.3" y="241.8" width="0.5" height="0.5"/><rect x="77.0" y="242.0" width="0.5" height="0.5"/><rect x="71.8" y="241.9" width="0.5" height="0.5"/><rect x="64.6" y="241.3" width="0.5" height="0.5"/><rect x="72.7" y="243.8" width="0.5" height="0.5"/><rect x="70.6" y="235.4" width="0.5" height="0.5"/><rect x="76.2" y="245.7" width="0.5" height="0.5"/><rect x="75.4" y="247.8" width="0.5" height="0.5"/><rect x="69.5" y="240.9" width="0.5" height="0.5"/><rect x="72.6" y="249.1" width="0.5" height="0.5"/><rect x="64.6" y="242.3" width="0.5" height="0.5"/><rect x="68.4" y="245.1" width="0.5" height="0.5"/><rect x="77.2" y="242.0" width="0.5" height="0.5"/><rect x="66.3" y="243.3" width="0.5" height="0.5"/><rect x="70.2" y="237.5" width="0.5" height="0.5"/><rect x="74.8" y="241.2" width="0.5" height="0.5"/><rect x="74.0" y="238.4" width="0.5" height="0.5"/><rect x="75.7" y="237.9" width="0.5" height="0.5"/><rect x="75.5" y="236.6" width="0.5" height="0.5"/><rect x="76.8" y="241.8" width="0.5" height="0.5"/><rect x="65.1" y="242.3" width="0.5" height="0.5"/><rect x="72.6" y="239.5" width="0.5" height="0.5"/><rect x="69.3" y="244.1" width="0.5" height="0.5"/><rect x="70.6" y="232.1" width="0.5" height="0.5"/><rect x="69.6" y="244.6" width="0.5" height="0.5"/><rect x="72.5" y="246.7" width="0.5" height="0.5"/><rect x="68.5" y="252.3" width="0.5" height="0.5"/><rect x="74.5" y="244.2" width="0.5" height="0.5"/><rect x="75.6" y="246.5" width="0.5" height="0.5"/><rect x="71.7" y="240.9" width="0.5" height="0.5"/><rect x="75.4" y="244.6" width="0.5" height="0.5"/><rect x="63.7" y="239.1" width="0.5" height="0.5"/><rect x="73.2" y="243.5" width="0.5" height="0.5"/><rect x="72.4" y="245.4" width="0.5" height="0.5"/><rect x="71.9" y="248.8" width="0.5" height="0.5"/><rect x="68.9" y="241.7" width="0.5" height="0.5"/><rect x="72.6" y="245.8" width="0.5" height="0.5"/><rect x="74.5" y="248.5" width="0.5" height="0.5"/><rect x="69.4" y="247.3" width="0.5" height="0.5"/><rect x="73.2" y="239.3" width="0.5" height="0.5"/><rect x="70.8" y="250.6" width="0.5" height="0.5"/><rect x="74.4" y="241.4" width="0.5" height="0.5"/><rect x="61.7" y="240.5" width="0.5" height="0.5"/><rect x="68.5" y="243.4" width="0.5" height="0.5"/><rect x="80.5" y="245.8" width="0.5" height="0.5"/><rect x="72.6" y="239.7" width="0.5" height="0.5"/><rect x="66.6" y="242.4" width="0.5" height="0.5"/><rect x="69.4" y="253.9" width="0.5" height="0.5"/><rect x="69.7" y="240.9" width="0.5" height="0.5"/><rect x="75.8" y="243.4" width="0.5" height="0.5"/><rect x="66.4" y="247.7" width="0.5" height="0.5"/><rect x="70.1" y="238.3" width="0.5" height="0.5"/><rect x="72.6" y="244.9" width="0.5" height="0.5"/><rect x="69.9" y="245.6" width="0.5" height="0.5"/><rect x="74.6" y="239.9" width="0.5" height="0.5"/><rect x="63.1" y="234.5" width="0.5" height="0.5"/><rect x="70.8" y="247.5" width="0.5" height="0.5"/><rect x="75.3" y="248.1" width="0.5" height="0.5"/><rect x="78.7" y="243.2" width="0.5" height="0.5"/><rect x="75.5" y="237.6" width="0.5" height="0.5"/><rect x="74.1" y="244.5" width="0.5" height="0.5"/><rect x="70.9" y="241.5" width="0.5" height="0.5"/><rect x="66.8" y="243.6" width="0.5" height="0.5"/><rect x="76.4" y="241.8" width="0.5" height="0.5"/><rect x="73.4" y="240.7" width="0.5" height="0.5"/><rect x="72.3" y="239.5" width="0.5" height="0.5"/><rect x="72.8" y="242.3" width="0.5" height="0.5"/><rect x="72.6" y="240.9" width="0.5" height="0.5"/><rect x="66.6" y="241.9" width="0.5" height="0.5"/><rect x="75.4" y="248.8" width="0.5" height="0.5"/><rect x="70.0" y="246.0" width="0.5" height="0.5"/><rect x="74.3" y="244.5" width="0.5" height="0.5"/><rect x="65.1" y="244.3" width="0.5" height="0.5"/><rect x="67.4" y="247.3" width="0.5" height="0.5"/><rect x="74.5" y="245.3" width="0.5" height="0.5"/><rect x="61.2" y="245.3" width="0.5" height="0.5"/><rect x="74.1" y="238.5" width="0.5" height="0.5"/><rect x="75.2" y="243.4" width="0.5" height="0.5"/><rect x="70.6" y="240.5" width="0.5" height="0.5"/><rect x="67.2" y="241.5" width="0.5" height="0.5"/><rect x="72.5" y="245.4" width="0.5" height="0.5"/><rect x="59.3" y="242.1" width="0.5" height="0.5"/><rect x="55.5" y="242.5" width="0.5" height="0.5"/><rect x="54.2" y="247.9" width="0.5" height="0.5"/><rect x="57.1" y="247.9" width="0.5" height="0.5"/><rect x="53.0" y="248.1" width="0.5" height="0.5"/><rect x="58.2" y="247.1" width="0.5" height="0.5"/><rect x="57.8" y="241.2" width="0.5" height="0.5"/><rect x="63.9" y="242.9" width="0.5" height="0.5"/><rect x="57.6" y="241.2" width="0.5" height="0.5"/><rect x="59.2" y="243.1" width="0.5" height="0.5"/><rect x="59.6" y="245.9" width="0.5" height="0.5"/><rect x="55.1" y="239.2" width="0.5" height="0.5"/><rect x="60.3" y="248.1" width="0.5" height="0.5"/><rect x="61.5" y="240.2" width="0.5" height="0.5"/><rect x="61.1" y="246.1" width="0.5" height="0.5"/><rect x="59.6" y="246.2" width="0.5" height="0.5"/><rect x="56.8" y="245.4" width="0.5" height="0.5"/><rect x="62.6" y="242.7" width="0.5" height="0.5"/><rect x="51.7" y="244.2" width="0.5" height="0.5"/><rect x="59.2" y="237.6" width="0.5" height="0.5"/><rect x="55.2" y="246.8" width="0.5" height="0.5"/><rect x="57.6" y="245.0" width="0.5" height="0.5"/><rect x="52.5" y="248.0" width="0.5" height="0.5"/><rect x="66.4" y="243.8" width="0.5" height="0.5"/><rect x="54.9" y="240.2" width="0.5" height="0.5"/><rect x="62.4" y="245.0" width="0.5" height="0.5"/><rect x="54.6" y="249.2" width="0.5" height="0.5"/><rect x="61.8" y="246.9" width="0.5" height="0.5"/><rect x="50.2" y="244.2" width="0.5" height="0.5"/><rect x="61.2" y="239.9" width="0.5" height="0.5"/><rect x="62.6" y="250.0" width="0.5" height="0.5"/><rect x="63.1" y="241.9" width="0.5" height="0.5"/><rect x="55.0" y="248.2" width="0.5" height="0.5"/><rect x="62.9" y="249.3" width="0.5" height="0.5"/><rect x="63.8" y="244.2" width="0.5" height="0.5"/><rect x="56.4" y="237.6" width="0.5" height="0.5"/><rect x="61.9" y="253.3" width="0.5" height="0.5"/><rect x="56.2" y="242.8" width="0.5" height="0.5"/><rect x="61.3" y="246.0" width="0.5" height="0.5"/><rect x="52.0" y="241.9" width="0.5" height="0.5"/><rect x="53.2" y="252.3" width="0.5" height="0.5"/><rect x="55.0" y="247.8" width="0.5" height="0.5"/><rect x="67.1" y="251.8" width="0.5" height="0.5"/><rect x="64.9" y="250.8" width="0.5" height="0.5"/><rect x="52.6" y="243.3" width="0.5" height="0.5"/><rect x="55.0" y="243.5" width="0.5" height="0.5"/><rect x="70.4" y="238.2" width="0.5" height="0.5"/><rect x="60.9" y="239.9" width="0.5" height="0.5"/><rect x="64.5" y="249.5" width="0.5" height="0.5"/><rect x="55.9" y="252.5" width="0.5" height="0.5"/><rect x="58.6" y="249.6" width="0.5" height="0.5"/><rect x="59.7" y="242.5" width="0.5" height="0.5"/><rect x="56.5" y="244.2" width="0.5" height="0.5"/><rect x="61.1" y="245.1" width="0.5" height="0.5"/><rect x="69.2" y="243.9" width="0.5" height="0.5"/><rect x="56.2" y="241.9" width="0.5" height="0.5"/><rect x="54.7" y="239.1" width="0.5" height="0.5"/><rect x="53.8" y="248.0" width="0.5" height="0.5"/><rect x="58.6" y="243.9" width="0.5" height="0.5"/><rect x="59.9" y="248.7" width="0.5" height="0.5"/><rect x="61.1" y="247.5" width="0.5" height="0.5"/><rect x="55.7" y="243.6" width="0.5" height="0.5"/><rect x="54.7" y="244.2" width="0.5" height="0.5"/><rect x="54.5" y="243.2" width="0.5" height="0.5"/><rect x="57.5" y="243.8" width="0.5" height="0.5"/><rect x="57.1" y="242.7" width="0.5" height="0.5"/><rect x="64.3" y="243.3" width="0.5" height="0.5"/><rect x="53.6" y="245.3" width="0.5" height="0.5"/><rect x="53.3" y="240.5" width="0.5" height="0.5"/><rect x="58.7" y="238.3" width="0.5" height="0.5"/><rect x="63.1" y="238.3" width="0.5" height="0.5"/><rect x="54.2" y="246.8" width="0.5" height="0.5"/><rect x="49.2" y="241.3" width="0.5" height="0.5"/><rect x="52.8" y="243.8" width="0.5" height="0.5"/><rect x="49.2" y="248.0" width="0.5" height="0.5"/><rect x="57.6" y="245.8" width="0.5" height="0.5"/><rect x="56.8" y="236.5" width="0.5" height="0.5"/><rect x="57.6" y="239.5" width="0.5" height="0.5"/><rect x="58.3" y="241.4" width="0.5" height="0.5"/><rect x="56.8" y="243.8" width="0.5" height="0.5"/><rect x="61.9" y="247.5" width="0.5" height="0.5"/><rect x="53.7" y="244.5" width="0.5" height="0.5"/><rect x="65.0" y="246.5" width="0.5" height="0.5"/><rect x="54.9" y="244.1" width="0.5" height="0.5"/><rect x="56.7" y="248.2" width="0.5" height="0.5"/><rect x="58.5" y="246.0" width="0.5" height="0.5"/><rect x="68.5" y="239.4" width="0.5" height="0.5"/><rect x="53.6" y="238.0" width="0.5" height="0.5"/><rect x="51.0" y="247.9" width="0.5" height="0.5"/><rect x="59.6" y="250.8" width="0.5" height="0.5"/><rect x="49.2" y="241.3" width="0.5" height="0.5"/><rect x="64.9" y="248.5" width="0.5" height="0.5"/><rect x="62.4" y="247.9" width="0.5" height="0.5"/><rect x="58.4" y="244.6" width="0.5" height="0.5"/><rect x="58.4" y="247.8" width="0.5" height="0.5"/><rect x="57.6" y="245.8" width="0.5" height="0.5"/><rect x="65.0" y="240.3" width="0.5" height="0.5"/><rect x="54.8" y="246.7" width="0.5" height="0.5"/><rect x="57.1" y="244.0" width="0.5" height="0.5"/><rect x="68.0" y="246.2" width="0.5" height="0.5"/><rect x="56.4" y="248.8" width="0.5" height="0.5"/><rect x="69.9" y="240.4" width="0.5" height="0.5"/><rect x="55.2" y="245.0" width="0.5" height="0.5"/><rect x="55.4" y="252.9" width="0.5" height="0.5"/><rect x="60.7" y="243.1" width="0.5" height="0.5"/><rect x="60.6" y="241.6" width="0.5" height="0.5"/><rect x="55.5" y="245.0" width="0.5" height="0.5"/><rect x="69.3" y="236.0" width="0.5" height="0.5"/><rect x="60.2" y="249.7" width="0.5" height="0.5"/><rect x="61.7" y="251.9" width="0.5" height="0.5"/><rect x="60.4" y="245.2" width="0.5" height="0.5"/><rect x="57.7" y="241.3" width="0.5" height="0.5"/><rect x="65.8" y="240.1" width="0.5" height="0.5"/><rect x="57.7" y="242.6" width="0.5" height="0.5"/><rect x="54.7" y="236.2" width="0.5" height="0.5"/><rect x="56.5" y="245.1" width="0.5" height="0.5"/><rect x="59.0" y="247.8" width="0.5" height="0.5"/><rect x="57.6" y="242.2" width="0.5" height="0.5"/><rect x="59.7" y="247.1" width="0.5" height="0.5"/><rect x="54.1" y="238.8" width="0.5" height="0.5"/><rect x="53.6" y="248.6" width="0.5" height="0.5"/><rect x="62.9" y="241.2" width="0.5" height="0.5"/><rect x="58.8" y="247.8" width="0.5" height="0.5"/><rect x="64.4" y="242.1" width="0.5" height="0.5"/><rect x="57.2" y="250.0" width="0.5" height="0.5"/><rect x="69.4" y="250.4" width="0.5" height="0.5"/><rect x="53.1" y="246.3" width="0.5" height="0.5"/><rect x="56.9" y="244.4" width="0.5" height="0.5"/><rect x="55.3" y="242.8" width="0.5" height="0.5"/><rect x="58.3" y="251.5" width="0.5" height="0.5"/><rect x="61.5" y="246.2" width="0.5" height="0.5"/><rect x="58.4" y="241.7" width="0.5" height="0.5"/><rect x="57.2" y="249.3" width="0.5" height="0.5"/><rect x="62.1" y="252.1" width="0.5" height="0.5"/><rect x="59.5" y="244.5" width="0.5" height="0.5"/><rect x="50.9" y="246.1" width="0.5" height="0.5"/><rect x="50.4" y="250.4" width="0.5" height="0.5"/><rect x="55.4" y="244.6" width="0.5" height="0.5"/><rect x="52.1" y="242.7" width="0.5" height="0.5"/><rect x="54.0" y="248.9" width="0.5" height="0.5"/><rect x="59.4" y="240.1" width="0.5" height="0.5"/><rect x="49.4" y="244.3" width="0.5" height="0.5"/><rect x="56.1" y="240.4" width="0.5" height="0.5"/><rect x="61.0" y="243.9" width="0.5" height="0.5"/><rect x="58.8" y="242.4" width="0.5" height="0.5"/><rect x="55.7" y="242.9" width="0.5" height="0.5"/><rect x="50.9" y="247.0" width="0.5" height="0.5"/><rect x="60.2" y="238.1" width="0.5" height="0.5"/><rect x="58.8" y="249.0" width="0.5" height="0.5"/><rect x="59.4" y="249.5" width="0.5" height="0.5"/><rect x="57.1" y="244.6" width="0.5" height="0.5"/><rect x="52.3" y="241.2" width="0.5" height="0.5"/><rect x="49.9" y="241.2" width="0.5" height="0.5"/><rect x="59.4" y="246.6" width="0.5" height="0.5"/><rect x="63.7" y="245.1" width="0.5" height="0.5"/><rect x="53.7" y="246.2" width="0.5" height="0.5"/><rect x="57.6" y="251.4" width="0.5" height="0.5"/><rect x="67.3" y="248.2" width="0.5" height="0.5"/><rect x="53.1" y="242.6" width="0.5" height="0.5"/><rect x="59.2" y="241.9" width="0.5" height="0.5"/><rect x="60.7" y="247.2" width="0.5" height="0.5"/><rect x="62.2" y="245.5" width="0.5" height="0.5"/><rect x="54.2" y="241.4" width="0.5" height="0.5"/><rect x="57.7" y="249.6" width="0.5" height="0.5"/><rect x="65.5" y="248.3" width="0.5" height="0.5"/><rect x="60.0" y="247.2" width="0.5" height="0.5"/><rect x="62.1" y="249.5" width="0.5" height="0.5"/><rect x="62.2" y="238.8" width="0.5" height="0.5"/><rect x="62.7" y="246.1" width="0.5" height="0.5"/><rect x="56.2" y="246.6" width="0.5" height="0.5"/><rect x="59.6" y="244.4" width="0.5" height="0.5"/><rect x="50.5" y="245.0" width="0.5" height="0.5"/><rect x="60.9" y="244.4" width="0.5" height="0.5"/><rect x="51.0" y="246.3" width="0.5" height="0.5"/><rect x="61.6" y="245.3" width="0.5" height="0.5"/><rect x="60.3" y="243.3" width="0.5" height="0.5"/><rect x="55.3" y="246.6" width="0.5" height="0.5"/><rect x="56.7" y="245.3" width="0.5" height="0.5"/><rect x="73.3" y="247.3" width="0.5" height="0.5"/><rect x="58.9" y="238.4" width="0.5" height="0.5"/><rect x="58.7" y="247.5" width="0.5" height="0.5"/><rect x="55.1" y="243.7" width="0.5" height="0.5"/><rect x="55.6" y="247.2" width="0.5" height="0.5"/><rect x="64.6" y="244.0" width="0.5" height="0.5"/><rect x="62.8" y="245.6" width="0.5" height="0.5"/><rect x="57.4" y="243.5" width="0.5" height="0.5"/><rect x="54.4" y="249.5" width="0.5" height="0.5"/><rect x="62.3" y="240.8" width="0.5" height="0.5"/><rect x="62.2" y="241.8" width="0.5" height="0.5"/><rect x="51.4" y="249.2" width="0.5" height="0.5"/><rect x="52.4" y="249.1" width="0.5" height="0.5"/><rect x="59.2" y="248.0" width="0.5" height="0.5"/><rect x="60.7" y="249.0" width="0.5" height="0.5"/><rect x="59.9" y="246.8" width="0.5" height="0.5"/><rect x="59.4" y="248.8" width="0.5" height="0.5"/><rect x="56.5" y="248.5" width="0.5" height="0.5"/><rect x="65.2" y="244.4" width="0.5" height="0.5"/><rect x="60.3" y="242.6" width="0.5" height="0.5"/><rect x="57.0" y="245.6" width="0.5" height="0.5"/><rect x="56.7" y="241.2" width="0.5" height="0.5"/><rect x="58.2" y="245.3" width="0.5" height="0.5"/><rect x="59.8" y="247.3" width="0.5" height="0.5"/><rect x="50.1" y="250.0" width="0.5" height="0.5"/><rect x="57.5" y="241.7" width="0.5" height="0.5"/><rect x="56.6" y="246.3" width="0.5" height="0.5"/><rect x="62.3" y="243.2" width="0.5" height="0.5"/><rect x="59.0" y="238.5" width="0.5" height="0.5"/><rect x="59.1" y="244.2" width="0.5" height="0.5"/><rect x="56.3" y="248.0" width="0.5" height="0.5"/><rect x="66.5" y="248.5" width="0.5" height="0.5"/><rect x="54.7" y="250.4" width="0.5" height="0.5"/><rect x="56.8" y="244.4" width="0.5" height="0.5"/><rect x="55.6" y="246.3" width="0.5" height="0.5"/><rect x="60.8" y="245.2" width="0.5" height="0.5"/><rect x="57.3" y="244.1" width="0.5" height="0.5"/><rect x="56.5" y="248.3" width="0.5" height="0.5"/><rect x="55.9" y="244.0" width="0.5" height="0.5"/><rect x="54.9" y="221.1" width="0.5" height="0.5"/><rect x="54.8" y="215.4" width="0.5" height="0.5"/><rect x="58.9" y="231.4" width="0.5" height="0.5"/><rect x="54.4" y="239.5" width="0.5" height="0.5"/><rect x="51.0" y="231.5" width="0.5" height="0.5"/><rect x="59.4" y="222.8" width="0.5" height="0.5"/><rect x="54.7" y="234.2" width="0.5" height="0.5"/><rect x="56.7" y="229.4" width="0.5" height="0.5"/><rect x="65.4" y="228.8" width="0.5" height="0.5"/><rect x="61.7" y="226.1" width="0.5" height="0.5"/><rect x="58.4" y="239.1" width="0.5" height="0.5"/><rect x="59.5" y="222.8" width="0.5" height="0.5"/><rect x="54.4" y="224.5" width="0.5" height="0.5"/><rect x="50.5" y="230.6" width="0.5" height="0.5"/><rect x="62.2" y="230.0" width="0.5" height="0.5"/><rect x="52.7" y="235.4" width="0.5" height="0.5"/><rect x="55.6" y="231.7" width="0.5" height="0.5"/><rect x="50.3" y="232.3" width="0.5" height="0.5"/><rect x="61.1" y="237.4" width="0.5" height="0.5"/><rect x="56.5" y="230.6" width="0.5" height="0.5"/><rect x="52.6" y="234.1" width="0.5" height="0.5"/><rect x="61.3" y="235.7" width="0.5" height="0.5"/><rect x="53.8" y="217.4" width="0.5" height="0.5"/><rect x="55.9" y="225.5" width="0.5" height="0.5"/><rect x="51.5" y="231.9" width="0.5" height="0.5"/><rect x="62.4" y="230.2" width="0.5" height="0.5"/><rect x="63.5" y="230.2" width="0.5" height="0.5"/><rect x="50.0" y="222.5" width="0.5" height="0.5"/><rect x="54.0" y="232.5" width="0.5" height="0.5"/><rect x="62.2" y="228.2" width="0.5" height="0.5"/><rect x="62.8" y="220.6" width="0.5" height="0.5"/><rect x="55.6" y="238.9" width="0.5" height="0.5"/><rect x="59.2" y="235.4" width="0.5" height="0.5"/><rect x="50.8" y="235.1" width="0.5" height="0.5"/><rect x="66.7" y="222.2" width="0.5" height="0.5"/><rect x="50.0" y="219.1" width="0.5" height="0.5"/><rect x="50.6" y="231.5" width="0.5" height="0.5"/><rect x="54.3" y="241.9" width="0.5" height="0.5"/><rect x="60.9" y="221.7" width="0.5" height="0.5"/><rect x="57.8" y="225.9" width="0.5" height="0.5"/><rect x="61.4" y="234.3" width="0.5" height="0.5"/><rect x="54.1" y="234.2" width="0.5" height="0.5"/><rect x="60.0" y="226.4" width="0.5" height="0.5"/><rect x="58.0" y="232.5" width="0.5" height="0.5"/><rect x="54.3" y="221.8" width="0.5" height="0.5"/><rect x="64.4" y="227.2" width="0.5" height="0.5"/><rect x="52.5" y="230.8" width="0.5" height="0.5"/><rect x="62.0" y="225.7" width="0.5" height="0.5"/><rect x="48.6" y="240.8" width="0.5" height="0.5"/><rect x="52.3" y="238.8" width="0.5" height="0.5"/><rect x="53.0" y="215.6" width="0.5" height="0.5"/><rect x="68.1" y="223.7" width="0.5" height="0.5"/><rect x="61.2" y="236.5" width="0.5" height="0.5"/></g>
<path d="M50.30,237.60 C50.35,238.85 50.18,242.93 50.60,245.10 C51.02,247.27 51.60,249.35 52.80,250.60 C54.00,251.85 56.05,252.35 57.80,252.60 C59.55,252.85 61.88,252.60 63.30,252.10 C64.72,251.60 65.72,250.93 66.30,249.60 C66.88,248.27 66.88,246.10 66.80,244.10 C66.72,242.10 65.97,238.68 65.80,237.60" fill="none" stroke="#8a8a8a" stroke-width="0.45"/>
<path d="M54.50,219.20 C55.55,219.15 57.17,219.40 58.30,220.00 C59.43,220.60 60.55,221.50 61.30,222.80 C62.05,224.10 62.67,226.17 62.80,227.80 C62.93,229.43 62.70,231.30 62.10,232.60 C61.50,233.90 60.42,235.02 59.20,235.60 C57.98,236.18 56.12,236.40 54.80,236.10 C53.48,235.80 52.12,235.07 51.30,233.80 C50.48,232.53 50.05,230.23 49.90,228.50 C49.75,226.77 50.05,224.77 50.40,223.40 C50.75,222.03 51.32,221.00 52.00,220.30 C52.68,219.60 53.45,219.25 54.50,219.20Z" fill="#c6c6c6" stroke="#666" stroke-width="0.6"/>
<path d="M54.60,220.29 C55.50,220.25 56.89,220.46 57.87,220.98 C58.84,221.50 59.80,222.27 60.45,223.39 C61.09,224.51 61.62,226.28 61.74,227.69 C61.85,229.09 61.65,230.70 61.13,231.82 C60.62,232.93 59.69,233.89 58.64,234.40 C57.59,234.90 55.99,235.08 54.86,234.83 C53.72,234.57 52.55,233.94 51.85,232.85 C51.14,231.76 50.77,229.78 50.64,228.29 C50.51,226.80 50.77,225.08 51.07,223.90 C51.37,222.73 51.86,221.84 52.45,221.24 C53.04,220.64 53.70,220.34 54.60,220.29Z" fill="#cfcfcf" stroke="#666" stroke-width="0.45"/>
<path d="M54.70,221.38 C55.45,221.35 56.62,221.53 57.43,221.96 C58.25,222.39 59.05,223.04 59.59,223.98 C60.13,224.91 60.58,226.40 60.67,227.58 C60.77,228.75 60.60,230.10 60.17,231.03 C59.74,231.97 58.96,232.77 58.08,233.19 C57.20,233.61 55.86,233.77 54.91,233.55 C53.96,233.34 52.98,232.81 52.39,231.90 C51.80,230.98 51.49,229.33 51.38,228.08 C51.28,226.83 51.49,225.39 51.74,224.41 C52.00,223.42 52.40,222.68 52.90,222.18 C53.39,221.67 53.94,221.42 54.70,221.38Z" fill="#d8d8d8" stroke="#666" stroke-width="0.45"/>
<path d="M54.79,222.48 C55.40,222.45 56.34,222.59 57.00,222.94 C57.66,223.29 58.30,223.81 58.74,224.56 C59.17,225.32 59.53,226.52 59.61,227.46 C59.69,228.41 59.55,229.49 59.20,230.25 C58.85,231.00 58.23,231.65 57.52,231.99 C56.81,232.33 55.73,232.45 54.97,232.28 C54.20,232.10 53.41,231.68 52.94,230.94 C52.46,230.21 52.21,228.88 52.13,227.87 C52.04,226.86 52.21,225.70 52.42,224.91 C52.62,224.12 52.95,223.52 53.34,223.11 C53.74,222.71 54.19,222.50 54.79,222.48Z" fill="#e1e1e1" stroke="#666" stroke-width="0.45"/>
<path d="M54.89,223.49 C55.36,223.47 56.09,223.58 56.59,223.85 C57.10,224.12 57.61,224.53 57.95,225.11 C58.28,225.70 58.56,226.62 58.62,227.36 C58.68,228.10 58.58,228.94 58.30,229.52 C58.03,230.11 57.55,230.61 57.00,230.87 C56.45,231.13 55.61,231.23 55.02,231.09 C54.43,230.96 53.81,230.63 53.45,230.06 C53.08,229.49 52.88,228.46 52.81,227.68 C52.75,226.90 52.88,226.00 53.04,225.38 C53.20,224.76 53.45,224.30 53.76,223.99 C54.07,223.67 54.41,223.51 54.89,223.49Z" fill="#eaeaea" stroke="#666" stroke-width="0.45"/>
<path d="M54.98,224.50 C55.31,224.49 55.83,224.57 56.19,224.76 C56.55,224.95 56.91,225.24 57.15,225.66 C57.39,226.07 57.59,226.73 57.63,227.26 C57.67,227.78 57.60,228.38 57.41,228.79 C57.22,229.21 56.87,229.57 56.48,229.75 C56.09,229.94 55.49,230.01 55.07,229.91 C54.65,229.82 54.21,229.58 53.95,229.18 C53.69,228.77 53.55,228.03 53.50,227.48 C53.46,226.93 53.55,226.29 53.66,225.85 C53.78,225.41 53.96,225.08 54.18,224.86 C54.39,224.63 54.64,224.52 54.98,224.50Z" fill="#f2f2f2" stroke="#666" stroke-width="0.45"/>
<path d="M55.06,225.44 C55.27,225.43 55.59,225.48 55.82,225.60 C56.05,225.72 56.27,225.90 56.42,226.16 C56.57,226.42 56.69,226.83 56.72,227.16 C56.75,227.49 56.70,227.86 56.58,228.12 C56.46,228.38 56.24,228.60 56.00,228.72 C55.76,228.84 55.38,228.88 55.12,228.82 C54.86,228.76 54.58,228.61 54.42,228.36 C54.26,228.11 54.17,227.65 54.14,227.30 C54.11,226.95 54.17,226.55 54.24,226.28 C54.31,226.01 54.42,225.80 54.56,225.66 C54.70,225.52 54.85,225.45 55.06,225.44Z" fill="#fafafa" stroke="#666" stroke-width="0.45"/>
<path d="M52.90,239.20 C53.00,239.92 53.22,242.32 53.50,243.50 C53.78,244.68 54.02,245.58 54.60,246.30 C55.18,247.02 56.25,247.48 57.00,247.80 C57.75,248.12 58.35,248.23 59.10,248.20 C59.85,248.17 60.80,247.93 61.50,247.60 C62.20,247.27 62.92,246.97 63.30,246.20 C63.68,245.43 63.92,244.13 63.80,243.00 C63.68,241.87 62.80,240.00 62.60,239.40" fill="none" stroke="#505050" stroke-width="0.6"/>
<path d="M55.20,239.40 C55.30,240.00 55.53,242.00 55.80,243.00 C56.07,244.00 56.32,244.90 56.80,245.40 C57.28,245.90 58.07,245.98 58.70,246.00 C59.33,246.02 60.15,245.90 60.60,245.50 C61.05,245.10 61.40,244.35 61.40,243.60 C61.40,242.85 60.73,241.43 60.60,241.00" fill="none" stroke="#505050" stroke-width="0.6"/>
<rect x="47.6" y="214.8" width="35.70" height="22.50" fill="none" stroke="#6a6a6a" stroke-width="0.8"/>
<rect x="47.6" y="237.3" width="19.40" height="25.00" fill="none" stroke="#6a6a6a" stroke-width="0.8"/>
<rect x="67.0" y="237.8" width="24.40" height="24.50" fill="none" stroke="#6a6a6a" stroke-width="0.8"/>
<line x1="67.00" y1="237.30" x2="67.00" y2="262.30" stroke="#222" stroke-width="1.2"/>
<line x1="47.60" y1="237.30" x2="67.00" y2="237.30" stroke="#333" stroke-width="0.9"/>
<path d="M205.0,203.5 L134.2,203.5 L134.2,274.0 L205.0,274.0" fill="none" stroke="#a0a0a0" stroke-width="0.7"/>
<line x1="134.20" y1="274.00" x2="205.00" y2="274.00" stroke="#888" stroke-width="0.8"/>
<g stroke="#666" stroke-width="0.55"><line x1="133.2" y1="205.5" x2="134.2" y2="205.5"/><line x1="133.2" y1="207.8" x2="134.2" y2="207.8"/><line x1="133.2" y1="210.1" x2="134.2" y2="210.1"/><line x1="133.2" y1="212.4" x2="134.2" y2="212.4"/><line x1="133.2" y1="214.7" x2="134.2" y2="214.7"/><line x1="133.2" y1="217.0" x2="134.2" y2="217.0"/><line x1="133.2" y1="219.3" x2="134.2" y2="219.3"/><line x1="133.2" y1="221.6" x2="134.2" y2="221.6"/><line x1="133.2" y1="223.8" x2="134.2" y2="223.8"/><line x1="133.2" y1="226.1" x2="134.2" y2="226.1"/><line x1="133.2" y1="228.4" x2="134.2" y2="228.4"/><line x1="133.2" y1="230.7" x2="134.2" y2="230.7"/><line x1="133.2" y1="233.0" x2="134.2" y2="233.0"/><line x1="133.2" y1="235.3" x2="134.2" y2="235.3"/><line x1="133.2" y1="237.6" x2="134.2" y2="237.6"/><line x1="133.2" y1="239.9" x2="134.2" y2="239.9"/><line x1="133.2" y1="242.2" x2="134.2" y2="242.2"/><line x1="133.2" y1="244.5" x2="134.2" y2="244.5"/><line x1="133.2" y1="246.8" x2="134.2" y2="246.8"/><line x1="133.2" y1="249.1" x2="134.2" y2="249.1"/><line x1="133.2" y1="251.4" x2="134.2" y2="251.4"/><line x1="133.2" y1="253.7" x2="134.2" y2="253.7"/><line x1="133.2" y1="255.9" x2="134.2" y2="255.9"/><line x1="133.2" y1="258.2" x2="134.2" y2="258.2"/><line x1="133.2" y1="260.5" x2="134.2" y2="260.5"/><line x1="133.2" y1="262.8" x2="134.2" y2="262.8"/><line x1="133.2" y1="265.1" x2="134.2" y2="265.1"/><line x1="133.2" y1="267.4" x2="134.2" y2="267.4"/><line x1="133.2" y1="269.7" x2="134.2" y2="269.7"/><line x1="133.2" y1="272.0" x2="134.2" y2="272.0"/><line x1="136.2" y1="274.0" x2="136.2" y2="275.1"/><line x1="138.5" y1="274.0" x2="138.5" y2="275.1"/><line x1="140.8" y1="274.0" x2="140.8" y2="275.1"/><line x1="143.1" y1="274.0" x2="143.1" y2="275.1"/><line x1="145.4" y1="274.0" x2="145.4" y2="275.1"/><line x1="147.7" y1="274.0" x2="147.7" y2="275.1"/><line x1="150.0" y1="274.0" x2="150.0" y2="275.1"/><line x1="152.3" y1="274.0" x2="152.3" y2="275.1"/><line x1="154.6" y1="274.0" x2="154.6" y2="275.1"/><line x1="156.9" y1="274.0" x2="156.9" y2="275.1"/><line x1="159.2" y1="274.0" x2="159.2" y2="275.1"/><line x1="161.5" y1="274.0" x2="161.5" y2="275.1"/><line x1="163.8" y1="274.0" x2="163.8" y2="275.1"/><line x1="166.1" y1="274.0" x2="166.1" y2="275.1"/><line x1="168.4" y1="274.0" x2="168.4" y2="275.1"/><line x1="170.8" y1="274.0" x2="170.8" y2="275.1"/><line x1="173.1" y1="274.0" x2="173.1" y2="275.1"/><line x1="175.4" y1="274.0" x2="175.4" y2="275.1"/><line x1="177.7" y1="274.0" x2="177.7" y2="275.1"/><line x1="180.0" y1="274.0" x2="180.0" y2="275.1"/><line x1="182.3" y1="274.0" x2="182.3" y2="275.1"/><line x1="184.6" y1="274.0" x2="184.6" y2="275.1"/><line x1="186.9" y1="274.0" x2="186.9" y2="275.1"/><line x1="189.2" y1="274.0" x2="189.2" y2="275.1"/><line x1="191.5" y1="274.0" x2="191.5" y2="275.1"/><line x1="193.8" y1="274.0" x2="193.8" y2="275.1"/><line x1="196.1" y1="274.0" x2="196.1" y2="275.1"/><line x1="198.4" y1="274.0" x2="198.4" y2="275.1"/><line x1="200.7" y1="274.0" x2="200.7" y2="275.1"/><line x1="203.0" y1="274.0" x2="203.0" y2="275.1"/></g>
<text x="119.70" y="212.50" font-size="6.5" textLength="6.60" lengthAdjust="spacingAndGlyphs">10</text>
<text x="126.50" y="209.25" font-size="4.55" style="stroke-width:0.12px">5</text>
<text x="119.70" y="229.40" font-size="6.5" textLength="6.60" lengthAdjust="spacingAndGlyphs">10</text>
<text x="126.50" y="226.15" font-size="4.55" style="stroke-width:0.12px">4</text>
<text x="119.70" y="248.90" font-size="6.5" textLength="6.60" lengthAdjust="spacingAndGlyphs">10</text>
<text x="126.50" y="245.65" font-size="4.55" style="stroke-width:0.12px">3</text>
<text x="125.70" y="259.20" font-size="6.5" textLength="3.60" lengthAdjust="spacingAndGlyphs">0</text>
<text x="117.00" y="273.10" font-size="6.5" textLength="8.60" lengthAdjust="spacingAndGlyphs">-10</text>
<text x="125.90" y="270.37" font-size="4.03" style="stroke-width:0.12px">3</text>
<rect x="132.8" y="256.5" width="1.5" height="2.2" fill="#000"/>
<rect x="148.8" y="273.4" width="2.4" height="1.6" fill="#000"/>
<text x="132.50" y="285.20" font-size="6.5" textLength="8.40" lengthAdjust="spacingAndGlyphs">-10</text>
<text x="141.20" y="282.47" font-size="4.03" style="stroke-width:0.12px">3</text>
<text x="151.60" y="285.20" font-size="6.5" text-anchor="middle">0</text>
<text x="156.90" y="285.20" font-size="6.5" textLength="6.40" lengthAdjust="spacingAndGlyphs">10</text>
<text x="163.50" y="281.95" font-size="4.55" style="stroke-width:0.12px">3</text>
<text x="176.60" y="285.20" font-size="6.5" textLength="6.40" lengthAdjust="spacingAndGlyphs">10</text>
<text x="183.20" y="281.95" font-size="4.55" style="stroke-width:0.12px">4</text>
<text x="193.80" y="285.20" font-size="6.5" textLength="6.40" lengthAdjust="spacingAndGlyphs">10</text>
<text x="200.40" y="281.95" font-size="4.55" style="stroke-width:0.12px">5</text>
<g fill="#6a6a6a"><rect x="166.7" y="228.0" width="0.5" height="0.5"/><rect x="159.7" y="224.4" width="0.5" height="0.5"/><rect x="163.8" y="227.1" width="0.5" height="0.5"/><rect x="159.6" y="235.8" width="0.5" height="0.5"/><rect x="161.0" y="220.5" width="0.5" height="0.5"/><rect x="166.2" y="224.2" width="0.5" height="0.5"/><rect x="162.0" y="231.1" width="0.5" height="0.5"/><rect x="164.8" y="236.1" width="0.5" height="0.5"/><rect x="168.3" y="230.1" width="0.5" height="0.5"/><rect x="166.2" y="230.2" width="0.5" height="0.5"/><rect x="161.2" y="231.1" width="0.5" height="0.5"/><rect x="158.6" y="226.0" width="0.5" height="0.5"/><rect x="170.4" y="230.9" width="0.5" height="0.5"/><rect x="160.6" y="226.7" width="0.5" height="0.5"/><rect x="172.5" y="225.8" width="0.5" height="0.5"/><rect x="162.8" y="230.2" width="0.5" height="0.5"/><rect x="161.4" y="230.0" width="0.5" height="0.5"/><rect x="160.6" y="224.7" width="0.5" height="0.5"/><rect x="158.6" y="225.3" width="0.5" height="0.5"/><rect x="163.2" y="234.9" width="0.5" height="0.5"/><rect x="163.1" y="229.8" width="0.5" height="0.5"/><rect x="163.6" y="223.6" width="0.5" height="0.5"/><rect x="159.1" y="227.6" width="0.5" height="0.5"/><rect x="166.8" y="225.7" width="0.5" height="0.5"/><rect x="161.5" y="230.5" width="0.5" height="0.5"/><rect x="161.3" y="219.8" width="0.5" height="0.5"/><rect x="161.3" y="229.2" width="0.5" height="0.5"/><rect x="162.7" y="231.3" width="0.5" height="0.5"/><rect x="160.6" y="221.3" width="0.5" height="0.5"/><rect x="169.0" y="228.4" width="0.5" height="0.5"/><rect x="164.6" y="229.4" width="0.5" height="0.5"/><rect x="159.1" y="232.0" width="0.5" height="0.5"/><rect x="165.9" y="232.4" width="0.5" height="0.5"/><rect x="164.1" y="230.6" width="0.5" height="0.5"/><rect x="162.0" y="233.7" width="0.5" height="0.5"/><rect x="162.7" y="227.7" width="0.5" height="0.5"/><rect x="162.8" y="232.7" width="0.5" height="0.5"/><rect x="164.3" y="228.6" width="0.5" height="0.5"/><rect x="159.3" y="230.7" width="0.5" height="0.5"/><rect x="173.0" y="228.7" width="0.5" height="0.5"/><rect x="172.9" y="228.3" width="0.5" height="0.5"/><rect x="164.7" y="236.7" width="0.5" height="0.5"/><rect x="160.6" y="229.2" width="0.5" height="0.5"/><rect x="158.1" y="215.8" width="0.5" height="0.5"/><rect x="162.7" y="227.0" width="0.5" height="0.5"/><rect x="158.7" y="222.3" width="0.5" height="0.5"/><rect x="158.0" y="227.5" width="0.5" height="0.5"/><rect x="166.1" y="228.5" width="0.5" height="0.5"/><rect x="179.5" y="225.0" width="0.5" height="0.5"/><rect x="159.3" y="226.8" width="0.5" height="0.5"/><rect x="162.6" y="234.7" width="0.5" height="0.5"/><rect x="162.2" y="220.6" width="0.5" height="0.5"/><rect x="158.9" y="232.9" width="0.5" height="0.5"/><rect x="166.3" y="227.8" width="0.5" height="0.5"/><rect x="159.2" y="238.9" width="0.5" height="0.5"/><rect x="160.8" y="225.0" width="0.5" height="0.5"/><rect x="161.1" y="236.6" width="0.5" height="0.5"/><rect x="160.5" y="238.6" width="0.5" height="0.5"/><rect x="167.2" y="226.1" width="0.5" height="0.5"/><rect x="159.2" y="223.5" width="0.5" height="0.5"/><rect x="159.0" y="230.5" width="0.5" height="0.5"/><rect x="161.8" y="219.8" width="0.5" height="0.5"/><rect x="166.5" y="234.5" width="0.5" height="0.5"/><rect x="161.9" y="228.6" width="0.5" height="0.5"/><rect x="173.4" y="232.3" width="0.5" height="0.5"/><rect x="165.8" y="224.2" width="0.5" height="0.5"/><rect x="171.4" y="220.6" width="0.5" height="0.5"/><rect x="158.4" y="221.6" width="0.5" height="0.5"/><rect x="169.0" y="221.1" width="0.5" height="0.5"/><rect x="159.9" y="220.4" width="0.5" height="0.5"/><rect x="161.3" y="230.7" width="0.5" height="0.5"/><rect x="158.7" y="220.4" width="0.5" height="0.5"/><rect x="167.4" y="227.6" width="0.5" height="0.5"/><rect x="166.8" y="221.7" width="0.5" height="0.5"/><rect x="168.5" y="220.2" width="0.5" height="0.5"/><rect x="168.3" y="224.9" width="0.5" height="0.5"/><rect x="160.0" y="228.4" width="0.5" height="0.5"/><rect x="161.1" y="230.2" width="0.5" height="0.5"/><rect x="166.4" y="223.7" width="0.5" height="0.5"/><rect x="166.1" y="225.0" width="0.5" height="0.5"/><rect x="163.3" y="231.2" width="0.5" height="0.5"/><rect x="159.8" y="222.0" width="0.5" height="0.5"/><rect x="158.2" y="231.9" width="0.5" height="0.5"/><rect x="162.1" y="233.6" width="0.5" height="0.5"/><rect x="159.6" y="228.5" width="0.5" height="0.5"/><rect x="161.5" y="233.9" width="0.5" height="0.5"/><rect x="158.5" y="219.5" width="0.5" height="0.5"/><rect x="163.2" y="224.9" width="0.5" height="0.5"/><rect x="164.8" y="227.9" width="0.5" height="0.5"/><rect x="161.5" y="227.9" width="0.5" height="0.5"/><rect x="160.7" y="222.8" width="0.5" height="0.5"/><rect x="158.4" y="231.2" width="0.5" height="0.5"/><rect x="158.7" y="226.6" width="0.5" height="0.5"/><rect x="161.1" y="229.9" width="0.5" height="0.5"/><rect x="159.9" y="231.9" width="0.5" height="0.5"/><rect x="160.5" y="237.8" width="0.5" height="0.5"/><rect x="167.3" y="226.7" width="0.5" height="0.5"/><rect x="161.5" y="231.6" width="0.5" height="0.5"/><rect x="167.1" y="220.8" width="0.5" height="0.5"/><rect x="158.0" y="232.3" width="0.5" height="0.5"/><rect x="164.9" y="219.3" width="0.5" height="0.5"/><rect x="159.1" y="233.0" width="0.5" height="0.5"/><rect x="158.4" y="221.8" width="0.5" height="0.5"/><rect x="162.1" y="220.3" width="0.5" height="0.5"/><rect x="165.5" y="225.7" width="0.5" height="0.5"/><rect x="160.3" y="222.6" width="0.5" height="0.5"/><rect x="158.6" y="222.4" width="0.5" height="0.5"/><rect x="163.7" y="226.8" width="0.5" height="0.5"/><rect x="159.1" y="229.3" width="0.5" height="0.5"/><rect x="159.1" y="233.0" width="0.5" height="0.5"/><rect x="158.0" y="228.3" width="0.5" height="0.5"/><rect x="159.6" y="222.9" width="0.5" height="0.5"/><rect x="165.5" y="224.2" width="0.5" height="0.5"/><rect x="167.3" y="233.3" width="0.5" height="0.5"/><rect x="162.2" y="224.2" width="0.5" height="0.5"/><rect x="164.0" y="231.9" width="0.5" height="0.5"/><rect x="162.5" y="221.1" width="0.5" height="0.5"/><rect x="159.3" y="221.8" width="0.5" height="0.5"/><rect x="161.5" y="224.2" width="0.5" height="0.5"/><rect x="162.9" y="229.5" width="0.5" height="0.5"/><rect x="162.5" y="230.1" width="0.5" height="0.5"/><rect x="159.3" y="223.9" width="0.5" height="0.5"/><rect x="159.3" y="230.5" width="0.5" height="0.5"/><rect x="165.2" y="225.7" width="0.5" height="0.5"/><rect x="168.8" y="229.9" width="0.5" height="0.5"/><rect x="165.8" y="220.2" width="0.5" height="0.5"/><rect x="164.2" y="233.1" width="0.5" height="0.5"/><rect x="159.1" y="229.4" width="0.5" height="0.5"/><rect x="165.5" y="219.7" width="0.5" height="0.5"/><rect x="161.0" y="236.8" width="0.5" height="0.5"/><rect x="163.1" y="227.5" width="0.5" height="0.5"/><rect x="161.7" y="227.0" width="0.5" height="0.5"/><rect x="162.9" y="233.6" width="0.5" height="0.5"/><rect x="159.1" y="229.9" width="0.5" height="0.5"/><rect x="160.1" y="230.8" width="0.5" height="0.5"/><rect x="163.3" y="221.6" width="0.5" height="0.5"/><rect x="165.3" y="231.4" width="0.5" height="0.5"/><rect x="164.4" y="225.6" width="0.5" height="0.5"/><rect x="166.6" y="225.5" width="0.5" height="0.5"/><rect x="160.2" y="221.2" width="0.5" height="0.5"/><rect x="162.4" y="222.6" width="0.5" height="0.5"/><rect x="162.0" y="223.1" width="0.5" height="0.5"/><rect x="164.2" y="229.9" width="0.5" height="0.5"/><rect x="159.1" y="222.9" width="0.5" height="0.5"/><rect x="164.2" y="224.2" width="0.5" height="0.5"/><rect x="163.7" y="220.8" width="0.5" height="0.5"/><rect x="166.7" y="224.7" width="0.5" height="0.5"/><rect x="163.5" y="229.1" width="0.5" height="0.5"/><rect x="165.8" y="221.6" width="0.5" height="0.5"/><rect x="159.7" y="224.6" width="0.5" height="0.5"/><rect x="160.7" y="227.7" width="0.5" height="0.5"/><rect x="159.8" y="227.7" width="0.5" height="0.5"/><rect x="162.5" y="227.0" width="0.5" height="0.5"/><rect x="164.9" y="231.8" width="0.5" height="0.5"/><rect x="169.6" y="218.2" width="0.5" height="0.5"/><rect x="167.6" y="224.8" width="0.5" height="0.5"/><rect x="159.4" y="226.4" width="0.5" height="0.5"/><rect x="159.9" y="238.1" width="0.5" height="0.5"/><rect x="162.0" y="227.3" width="0.5" height="0.5"/><rect x="158.3" y="221.6" width="0.5" height="0.5"/><rect x="163.0" y="225.6" width="0.5" height="0.5"/><rect x="158.1" y="228.9" width="0.5" height="0.5"/><rect x="169.6" y="219.1" width="0.5" height="0.5"/><rect x="168.2" y="226.1" width="0.5" height="0.5"/><rect x="163.2" y="224.9" width="0.5" height="0.5"/><rect x="162.1" y="237.6" width="0.5" height="0.5"/><rect x="165.2" y="222.4" width="0.5" height="0.5"/><rect x="162.3" y="227.1" width="0.5" height="0.5"/><rect x="167.7" y="227.7" width="0.5" height="0.5"/><rect x="162.6" y="219.3" width="0.5" height="0.5"/><rect x="161.1" y="230.9" width="0.5" height="0.5"/><rect x="169.8" y="215.3" width="0.5" height="0.5"/><rect x="161.9" y="227.1" width="0.5" height="0.5"/><rect x="163.3" y="222.4" width="0.5" height="0.5"/><rect x="160.8" y="229.6" width="0.5" height="0.5"/><rect x="164.2" y="231.3" width="0.5" height="0.5"/><rect x="163.2" y="231.3" width="0.5" height="0.5"/><rect x="167.5" y="224.4" width="0.5" height="0.5"/><rect x="158.1" y="232.0" width="0.5" height="0.5"/><rect x="165.8" y="231.7" width="0.5" height="0.5"/><rect x="160.5" y="224.5" width="0.5" height="0.5"/><rect x="165.7" y="224.8" width="0.5" height="0.5"/><rect x="163.2" y="224.5" width="0.5" height="0.5"/><rect x="160.1" y="231.2" width="0.5" height="0.5"/><rect x="163.4" y="226.7" width="0.5" height="0.5"/><rect x="164.7" y="226.7" width="0.5" height="0.5"/><rect x="160.8" y="231.3" width="0.5" height="0.5"/><rect x="159.5" y="231.0" width="0.5" height="0.5"/><rect x="161.7" y="230.2" width="0.5" height="0.5"/><rect x="162.7" y="225.2" width="0.5" height="0.5"/><rect x="162.3" y="233.2" width="0.5" height="0.5"/><rect x="163.8" y="230.4" width="0.5" height="0.5"/><rect x="159.4" y="225.2" width="0.5" height="0.5"/><rect x="159.3" y="224.8" width="0.5" height="0.5"/><rect x="158.0" y="235.9" width="0.5" height="0.5"/><rect x="167.0" y="226.3" width="0.5" height="0.5"/><rect x="161.0" y="231.5" width="0.5" height="0.5"/><rect x="160.3" y="236.2" width="0.5" height="0.5"/><rect x="158.4" y="230.1" width="0.5" height="0.5"/><rect x="163.5" y="221.4" width="0.5" height="0.5"/><rect x="163.8" y="223.7" width="0.5" height="0.5"/><rect x="164.4" y="225.4" width="0.5" height="0.5"/><rect x="163.5" y="224.9" width="0.5" height="0.5"/><rect x="163.5" y="227.8" width="0.5" height="0.5"/><rect x="160.2" y="218.7" width="0.5" height="0.5"/><rect x="158.5" y="232.9" width="0.5" height="0.5"/><rect x="159.0" y="221.0" width="0.5" height="0.5"/><rect x="162.3" y="220.9" width="0.5" height="0.5"/><rect x="159.2" y="222.2" width="0.5" height="0.5"/><rect x="158.5" y="227.8" width="0.5" height="0.5"/><rect x="166.2" y="221.2" width="0.5" height="0.5"/><rect x="170.1" y="235.1" width="0.5" height="0.5"/><rect x="160.8" y="225.2" width="0.5" height="0.5"/><rect x="161.2" y="222.3" width="0.5" height="0.5"/><rect x="159.8" y="230.4" width="0.5" height="0.5"/><rect x="159.7" y="227.6" width="0.5" height="0.5"/><rect x="160.8" y="227.6" width="0.5" height="0.5"/><rect x="159.2" y="229.5" width="0.5" height="0.5"/><rect x="166.2" y="233.3" width="0.5" height="0.5"/><rect x="163.1" y="230.8" width="0.5" height="0.5"/><rect x="169.2" y="219.9" width="0.5" height="0.5"/><rect x="160.6" y="229.7" width="0.5" height="0.5"/><rect x="166.4" y="218.4" width="0.5" height="0.5"/><rect x="164.7" y="224.3" width="0.5" height="0.5"/><rect x="160.6" y="229.2" width="0.5" height="0.5"/><rect x="166.6" y="222.3" width="0.5" height="0.5"/><rect x="168.1" y="224.0" width="0.5" height="0.5"/><rect x="158.5" y="233.0" width="0.5" height="0.5"/><rect x="160.4" y="225.5" width="0.5" height="0.5"/><rect x="160.8" y="224.6" width="0.5" height="0.5"/><rect x="164.0" y="218.7" width="0.5" height="0.5"/><rect x="162.0" y="222.6" width="0.5" height="0.5"/><rect x="164.9" y="227.6" width="0.5" height="0.5"/><rect x="161.8" y="230.7" width="0.5" height="0.5"/><rect x="169.9" y="232.1" width="0.5" height="0.5"/><rect x="165.6" y="225.9" width="0.5" height="0.5"/><rect x="165.0" y="217.9" width="0.5" height="0.5"/><rect x="165.2" y="224.9" width="0.5" height="0.5"/><rect x="161.3" y="222.8" width="0.5" height="0.5"/><rect x="159.1" y="226.1" width="0.5" height="0.5"/><rect x="160.1" y="220.9" width="0.5" height="0.5"/><rect x="171.1" y="216.2" width="0.5" height="0.5"/><rect x="159.2" y="231.8" width="0.5" height="0.5"/><rect x="161.0" y="218.9" width="0.5" height="0.5"/><rect x="168.3" y="225.5" width="0.5" height="0.5"/><rect x="163.3" y="217.8" width="0.5" height="0.5"/><rect x="161.3" y="223.0" width="0.5" height="0.5"/><rect x="158.6" y="228.8" width="0.5" height="0.5"/><rect x="159.3" y="227.8" width="0.5" height="0.5"/><rect x="161.3" y="226.4" width="0.5" height="0.5"/><rect x="160.6" y="225.2" width="0.5" height="0.5"/><rect x="165.2" y="225.5" width="0.5" height="0.5"/><rect x="163.0" y="235.2" width="0.5" height="0.5"/><rect x="168.6" y="216.2" width="0.5" height="0.5"/><rect x="159.0" y="231.8" width="0.5" height="0.5"/><rect x="160.6" y="223.3" width="0.5" height="0.5"/><rect x="166.5" y="223.5" width="0.5" height="0.5"/><rect x="158.1" y="217.5" width="0.5" height="0.5"/><rect x="158.0" y="222.7" width="0.5" height="0.5"/><rect x="169.1" y="238.0" width="0.5" height="0.5"/><rect x="169.4" y="242.4" width="0.5" height="0.5"/><rect x="166.3" y="239.4" width="0.5" height="0.5"/><rect x="172.9" y="244.1" width="0.5" height="0.5"/><rect x="165.9" y="243.4" width="0.5" height="0.5"/><rect x="164.4" y="240.0" width="0.5" height="0.5"/><rect x="157.4" y="239.8" width="0.5" height="0.5"/><rect x="171.8" y="240.1" width="0.5" height="0.5"/><rect x="171.4" y="239.5" width="0.5" height="0.5"/><rect x="170.3" y="241.3" width="0.5" height="0.5"/><rect x="165.2" y="249.4" width="0.5" height="0.5"/><rect x="165.7" y="237.0" width="0.5" height="0.5"/><rect x="169.6" y="243.6" width="0.5" height="0.5"/><rect x="170.4" y="241.5" width="0.5" height="0.5"/><rect x="170.9" y="245.2" width="0.5" height="0.5"/><rect x="171.5" y="236.9" width="0.5" height="0.5"/><rect x="176.0" y="241.7" width="0.5" height="0.5"/><rect x="160.9" y="244.8" width="0.5" height="0.5"/><rect x="168.5" y="242.9" width="0.5" height="0.5"/><rect x="177.0" y="239.9" width="0.5" height="0.5"/><rect x="166.6" y="238.3" width="0.5" height="0.5"/><rect x="169.8" y="244.2" width="0.5" height="0.5"/><rect x="170.6" y="242.5" width="0.5" height="0.5"/><rect x="160.6" y="242.8" width="0.5" height="0.5"/><rect x="173.4" y="240.0" width="0.5" height="0.5"/><rect x="166.9" y="238.2" width="0.5" height="0.5"/><rect x="170.0" y="236.2" width="0.5" height="0.5"/><rect x="176.7" y="241.1" width="0.5" height="0.5"/><rect x="166.7" y="237.5" width="0.5" height="0.5"/><rect x="171.2" y="245.3" width="0.5" height="0.5"/><rect x="166.8" y="242.5" width="0.5" height="0.5"/><rect x="170.2" y="245.3" width="0.5" height="0.5"/><rect x="171.5" y="246.3" width="0.5" height="0.5"/><rect x="163.4" y="251.2" width="0.5" height="0.5"/><rect x="167.1" y="237.8" width="0.5" height="0.5"/><rect x="165.4" y="243.2" width="0.5" height="0.5"/><rect x="172.1" y="250.6" width="0.5" height="0.5"/><rect x="174.0" y="239.1" width="0.5" height="0.5"/><rect x="167.7" y="240.2" width="0.5" height="0.5"/><rect x="166.7" y="241.2" width="0.5" height="0.5"/><rect x="166.6" y="246.1" width="0.5" height="0.5"/><rect x="170.4" y="244.1" width="0.5" height="0.5"/><rect x="168.4" y="237.7" width="0.5" height="0.5"/><rect x="170.8" y="240.4" width="0.5" height="0.5"/><rect x="177.0" y="246.3" width="0.5" height="0.5"/><rect x="164.2" y="238.3" width="0.5" height="0.5"/><rect x="166.9" y="241.1" width="0.5" height="0.5"/><rect x="173.6" y="241.2" width="0.5" height="0.5"/><rect x="170.9" y="240.7" width="0.5" height="0.5"/><rect x="168.2" y="246.3" width="0.5" height="0.5"/><rect x="169.1" y="248.9" width="0.5" height="0.5"/><rect x="168.9" y="243.3" width="0.5" height="0.5"/><rect x="170.7" y="244.2" width="0.5" height="0.5"/><rect x="176.8" y="239.4" width="0.5" height="0.5"/><rect x="167.0" y="238.5" width="0.5" height="0.5"/><rect x="176.3" y="243.5" width="0.5" height="0.5"/><rect x="170.9" y="243.5" width="0.5" height="0.5"/><rect x="161.7" y="244.6" width="0.5" height="0.5"/><rect x="169.6" y="243.0" width="0.5" height="0.5"/><rect x="169.4" y="241.5" width="0.5" height="0.5"/><rect x="168.8" y="239.8" width="0.5" height="0.5"/><rect x="168.2" y="244.1" width="0.5" height="0.5"/><rect x="160.6" y="244.8" width="0.5" height="0.5"/><rect x="171.7" y="238.0" width="0.5" height="0.5"/><rect x="171.1" y="243.0" width="0.5" height="0.5"/><rect x="167.0" y="247.9" width="0.5" height="0.5"/><rect x="169.8" y="241.4" width="0.5" height="0.5"/><rect x="163.9" y="249.7" width="0.5" height="0.5"/><rect x="170.0" y="243.0" width="0.5" height="0.5"/><rect x="168.2" y="249.3" width="0.5" height="0.5"/><rect x="168.5" y="247.5" width="0.5" height="0.5"/><rect x="173.3" y="245.4" width="0.5" height="0.5"/><rect x="171.6" y="246.0" width="0.5" height="0.5"/><rect x="168.6" y="234.4" width="0.5" height="0.5"/><rect x="158.3" y="245.9" width="0.5" height="0.5"/><rect x="160.9" y="246.7" width="0.5" height="0.5"/><rect x="181.4" y="235.1" width="0.5" height="0.5"/><rect x="171.5" y="243.6" width="0.5" height="0.5"/><rect x="166.2" y="234.7" width="0.5" height="0.5"/><rect x="168.7" y="248.0" width="0.5" height="0.5"/><rect x="168.6" y="241.8" width="0.5" height="0.5"/><rect x="169.4" y="242.0" width="0.5" height="0.5"/><rect x="170.2" y="250.1" width="0.5" height="0.5"/><rect x="165.6" y="235.3" width="0.5" height="0.5"/><rect x="172.5" y="240.0" width="0.5" height="0.5"/><rect x="167.1" y="236.8" width="0.5" height="0.5"/><rect x="168.4" y="240.3" width="0.5" height="0.5"/><rect x="170.8" y="240.4" width="0.5" height="0.5"/><rect x="163.3" y="243.6" width="0.5" height="0.5"/><rect x="168.7" y="235.1" width="0.5" height="0.5"/><rect x="167.7" y="244.6" width="0.5" height="0.5"/><rect x="168.8" y="240.7" width="0.5" height="0.5"/><rect x="171.4" y="239.6" width="0.5" height="0.5"/><rect x="166.3" y="243.8" width="0.5" height="0.5"/><rect x="168.4" y="239.6" width="0.5" height="0.5"/><rect x="170.0" y="242.8" width="0.5" height="0.5"/><rect x="172.8" y="245.5" width="0.5" height="0.5"/><rect x="169.4" y="241.8" width="0.5" height="0.5"/><rect x="165.4" y="242.6" width="0.5" height="0.5"/><rect x="167.6" y="244.9" width="0.5" height="0.5"/><rect x="172.3" y="244.2" width="0.5" height="0.5"/><rect x="168.9" y="243.1" width="0.5" height="0.5"/><rect x="175.1" y="248.0" width="0.5" height="0.5"/><rect x="166.7" y="231.7" width="0.5" height="0.5"/><rect x="171.6" y="236.4" width="0.5" height="0.5"/><rect x="169.3" y="243.5" width="0.5" height="0.5"/><rect x="175.0" y="241.3" width="0.5" height="0.5"/><rect x="168.6" y="239.8" width="0.5" height="0.5"/><rect x="170.3" y="237.5" width="0.5" height="0.5"/><rect x="171.3" y="243.1" width="0.5" height="0.5"/><rect x="174.5" y="240.8" width="0.5" height="0.5"/><rect x="170.4" y="242.6" width="0.5" height="0.5"/><rect x="169.0" y="238.4" width="0.5" height="0.5"/><rect x="166.8" y="242.1" width="0.5" height="0.5"/><rect x="171.0" y="245.6" width="0.5" height="0.5"/><rect x="166.7" y="242.8" width="0.5" height="0.5"/><rect x="171.5" y="245.0" width="0.5" height="0.5"/><rect x="170.1" y="242.6" width="0.5" height="0.5"/><rect x="167.7" y="242.0" width="0.5" height="0.5"/><rect x="168.3" y="235.7" width="0.5" height="0.5"/><rect x="166.3" y="233.3" width="0.5" height="0.5"/><rect x="171.1" y="245.1" width="0.5" height="0.5"/><rect x="167.7" y="242.5" width="0.5" height="0.5"/><rect x="169.7" y="241.0" width="0.5" height="0.5"/><rect x="175.0" y="241.2" width="0.5" height="0.5"/><rect x="170.4" y="241.7" width="0.5" height="0.5"/><rect x="177.1" y="236.0" width="0.5" height="0.5"/><rect x="169.9" y="237.1" width="0.5" height="0.5"/><rect x="166.3" y="238.5" width="0.5" height="0.5"/><rect x="172.2" y="238.0" width="0.5" height="0.5"/><rect x="165.1" y="240.7" width="0.5" height="0.5"/><rect x="165.3" y="238.3" width="0.5" height="0.5"/><rect x="175.4" y="239.5" width="0.5" height="0.5"/><rect x="165.9" y="246.8" width="0.5" height="0.5"/><rect x="169.5" y="245.9" width="0.5" height="0.5"/><rect x="162.6" y="240.9" width="0.5" height="0.5"/><rect x="171.0" y="242.7" width="0.5" height="0.5"/><rect x="171.3" y="246.4" width="0.5" height="0.5"/><rect x="171.5" y="245.8" width="0.5" height="0.5"/><rect x="172.1" y="239.2" width="0.5" height="0.5"/><rect x="169.9" y="246.6" width="0.5" height="0.5"/><rect x="165.4" y="243.8" width="0.5" height="0.5"/><rect x="171.6" y="246.7" width="0.5" height="0.5"/><rect x="162.5" y="250.4" width="0.5" height="0.5"/><rect x="162.9" y="241.9" width="0.5" height="0.5"/><rect x="179.2" y="237.1" width="0.5" height="0.5"/><rect x="178.1" y="242.9" width="0.5" height="0.5"/><rect x="176.8" y="247.1" width="0.5" height="0.5"/><rect x="169.7" y="239.1" width="0.5" height="0.5"/><rect x="167.9" y="237.3" width="0.5" height="0.5"/><rect x="163.6" y="243.3" width="0.5" height="0.5"/><rect x="163.4" y="243.2" width="0.5" height="0.5"/><rect x="168.9" y="241.4" width="0.5" height="0.5"/><rect x="165.0" y="237.5" width="0.5" height="0.5"/><rect x="172.3" y="238.5" width="0.5" height="0.5"/><rect x="166.8" y="241.3" width="0.5" height="0.5"/><rect x="171.8" y="249.0" width="0.5" height="0.5"/><rect x="176.9" y="244.7" width="0.5" height="0.5"/><rect x="171.8" y="244.3" width="0.5" height="0.5"/><rect x="168.3" y="241.2" width="0.5" height="0.5"/><rect x="162.2" y="243.9" width="0.5" height="0.5"/><rect x="167.1" y="243.3" width="0.5" height="0.5"/><rect x="178.1" y="245.0" width="0.5" height="0.5"/><rect x="173.7" y="245.1" width="0.5" height="0.5"/><rect x="166.9" y="239.6" width="0.5" height="0.5"/><rect x="163.3" y="239.9" width="0.5" height="0.5"/><rect x="169.8" y="244.4" width="0.5" height="0.5"/><rect x="171.4" y="240.7" width="0.5" height="0.5"/><rect x="164.6" y="242.1" width="0.5" height="0.5"/><rect x="170.4" y="234.8" width="0.5" height="0.5"/><rect x="156.6" y="238.0" width="0.5" height="0.5"/><rect x="154.0" y="242.9" width="0.5" height="0.5"/><rect x="151.6" y="241.5" width="0.5" height="0.5"/><rect x="156.2" y="239.6" width="0.5" height="0.5"/><rect x="159.3" y="245.9" width="0.5" height="0.5"/><rect x="158.6" y="239.4" width="0.5" height="0.5"/><rect x="155.2" y="242.2" width="0.5" height="0.5"/><rect x="156.6" y="246.2" width="0.5" height="0.5"/><rect x="153.7" y="243.5" width="0.5" height="0.5"/><rect x="159.9" y="242.2" width="0.5" height="0.5"/><rect x="159.4" y="243.3" width="0.5" height="0.5"/><rect x="149.6" y="243.2" width="0.5" height="0.5"/><rect x="156.8" y="241.8" width="0.5" height="0.5"/><rect x="164.9" y="241.9" width="0.5" height="0.5"/><rect x="149.4" y="242.8" width="0.5" height="0.5"/><rect x="155.1" y="245.3" width="0.5" height="0.5"/><rect x="167.7" y="243.9" width="0.5" height="0.5"/><rect x="159.9" y="240.7" width="0.5" height="0.5"/><rect x="151.8" y="240.7" width="0.5" height="0.5"/><rect x="155.2" y="241.7" width="0.5" height="0.5"/><rect x="156.1" y="240.9" width="0.5" height="0.5"/><rect x="150.6" y="240.4" width="0.5" height="0.5"/><rect x="159.7" y="239.0" width="0.5" height="0.5"/><rect x="159.7" y="249.6" width="0.5" height="0.5"/><rect x="151.8" y="246.8" width="0.5" height="0.5"/><rect x="159.9" y="233.4" width="0.5" height="0.5"/><rect x="160.0" y="245.8" width="0.5" height="0.5"/><rect x="152.5" y="250.1" width="0.5" height="0.5"/><rect x="147.9" y="248.3" width="0.5" height="0.5"/><rect x="157.3" y="239.5" width="0.5" height="0.5"/><rect x="156.6" y="237.6" width="0.5" height="0.5"/><rect x="158.9" y="245.4" width="0.5" height="0.5"/><rect x="161.7" y="248.7" width="0.5" height="0.5"/><rect x="152.9" y="245.3" width="0.5" height="0.5"/><rect x="153.2" y="232.4" width="0.5" height="0.5"/><rect x="160.5" y="247.8" width="0.5" height="0.5"/><rect x="157.1" y="250.0" width="0.5" height="0.5"/><rect x="155.8" y="236.8" width="0.5" height="0.5"/><rect x="154.0" y="242.3" width="0.5" height="0.5"/><rect x="157.3" y="241.8" width="0.5" height="0.5"/><rect x="145.8" y="238.7" width="0.5" height="0.5"/><rect x="155.4" y="247.6" width="0.5" height="0.5"/><rect x="153.0" y="238.4" width="0.5" height="0.5"/><rect x="153.9" y="246.8" width="0.5" height="0.5"/><rect x="161.8" y="239.6" width="0.5" height="0.5"/><rect x="159.2" y="248.4" width="0.5" height="0.5"/><rect x="159.7" y="239.2" width="0.5" height="0.5"/><rect x="158.8" y="241.5" width="0.5" height="0.5"/><rect x="153.7" y="250.7" width="0.5" height="0.5"/><rect x="155.9" y="245.3" width="0.5" height="0.5"/><rect x="161.7" y="249.6" width="0.5" height="0.5"/><rect x="157.3" y="241.0" width="0.5" height="0.5"/><rect x="155.8" y="240.8" width="0.5" height="0.5"/><rect x="155.5" y="242.9" width="0.5" height="0.5"/><rect x="149.2" y="240.4" width="0.5" height="0.5"/><rect x="149.5" y="243.1" width="0.5" height="0.5"/><rect x="159.8" y="246.1" width="0.5" height="0.5"/><rect x="156.9" y="239.7" width="0.5" height="0.5"/><rect x="155.8" y="238.2" width="0.5" height="0.5"/><rect x="158.7" y="237.5" width="0.5" height="0.5"/><rect x="153.1" y="249.9" width="0.5" height="0.5"/><rect x="158.0" y="239.6" width="0.5" height="0.5"/><rect x="155.1" y="239.4" width="0.5" height="0.5"/><rect x="152.4" y="241.8" width="0.5" height="0.5"/><rect x="152.2" y="244.1" width="0.5" height="0.5"/><rect x="161.0" y="240.1" width="0.5" height="0.5"/><rect x="151.8" y="240.3" width="0.5" height="0.5"/><rect x="153.2" y="243.8" width="0.5" height="0.5"/><rect x="153.0" y="240.0" width="0.5" height="0.5"/><rect x="152.9" y="247.1" width="0.5" height="0.5"/><rect x="160.5" y="247.3" width="0.5" height="0.5"/><rect x="156.9" y="239.7" width="0.5" height="0.5"/><rect x="162.4" y="251.8" width="0.5" height="0.5"/><rect x="153.1" y="241.0" width="0.5" height="0.5"/><rect x="161.1" y="246.0" width="0.5" height="0.5"/><rect x="157.9" y="251.3" width="0.5" height="0.5"/><rect x="155.2" y="240.3" width="0.5" height="0.5"/><rect x="154.4" y="244.2" width="0.5" height="0.5"/><rect x="156.9" y="248.1" width="0.5" height="0.5"/><rect x="159.6" y="240.6" width="0.5" height="0.5"/><rect x="159.4" y="242.6" width="0.5" height="0.5"/><rect x="163.0" y="247.7" width="0.5" height="0.5"/><rect x="153.3" y="245.4" width="0.5" height="0.5"/><rect x="150.1" y="245.1" width="0.5" height="0.5"/><rect x="156.4" y="245.1" width="0.5" height="0.5"/><rect x="150.5" y="240.1" width="0.5" height="0.5"/><rect x="153.5" y="242.5" width="0.5" height="0.5"/><rect x="159.1" y="240.2" width="0.5" height="0.5"/><rect x="146.8" y="241.2" width="0.5" height="0.5"/><rect x="159.6" y="246.6" width="0.5" height="0.5"/><rect x="150.2" y="245.8" width="0.5" height="0.5"/><rect x="156.5" y="246.1" width="0.5" height="0.5"/><rect x="156.8" y="248.1" width="0.5" height="0.5"/><rect x="152.7" y="251.6" width="0.5" height="0.5"/><rect x="161.1" y="238.9" width="0.5" height="0.5"/><rect x="148.9" y="247.2" width="0.5" height="0.5"/><rect x="148.8" y="240.3" width="0.5" height="0.5"/><rect x="158.2" y="242.8" width="0.5" height="0.5"/><rect x="156.7" y="235.1" width="0.5" height="0.5"/><rect x="152.5" y="245.3" width="0.5" height="0.5"/><rect x="165.6" y="244.9" width="0.5" height="0.5"/><rect x="156.2" y="243.8" width="0.5" height="0.5"/><rect x="160.7" y="245.7" width="0.5" height="0.5"/><rect x="151.9" y="235.8" width="0.5" height="0.5"/><rect x="154.9" y="241.8" width="0.5" height="0.5"/><rect x="164.4" y="240.0" width="0.5" height="0.5"/><rect x="159.5" y="235.7" width="0.5" height="0.5"/><rect x="159.6" y="238.3" width="0.5" height="0.5"/><rect x="156.1" y="242.5" width="0.5" height="0.5"/><rect x="156.4" y="243.3" width="0.5" height="0.5"/><rect x="150.7" y="245.5" width="0.5" height="0.5"/><rect x="151.8" y="243.1" width="0.5" height="0.5"/><rect x="152.0" y="243.1" width="0.5" height="0.5"/><rect x="155.4" y="242.5" width="0.5" height="0.5"/><rect x="152.3" y="247.9" width="0.5" height="0.5"/><rect x="155.1" y="243.5" width="0.5" height="0.5"/><rect x="145.8" y="245.5" width="0.5" height="0.5"/><rect x="148.6" y="242.4" width="0.5" height="0.5"/><rect x="146.4" y="250.4" width="0.5" height="0.5"/><rect x="147.7" y="242.2" width="0.5" height="0.5"/><rect x="150.1" y="238.3" width="0.5" height="0.5"/><rect x="147.8" y="248.8" width="0.5" height="0.5"/><rect x="165.8" y="242.7" width="0.5" height="0.5"/><rect x="159.7" y="241.3" width="0.5" height="0.5"/><rect x="150.9" y="250.1" width="0.5" height="0.5"/><rect x="158.8" y="238.8" width="0.5" height="0.5"/><rect x="155.3" y="243.1" width="0.5" height="0.5"/><rect x="154.5" y="242.8" width="0.5" height="0.5"/><rect x="152.8" y="242.9" width="0.5" height="0.5"/><rect x="153.9" y="241.9" width="0.5" height="0.5"/><rect x="152.3" y="249.1" width="0.5" height="0.5"/><rect x="153.8" y="242.3" width="0.5" height="0.5"/><rect x="157.0" y="243.2" width="0.5" height="0.5"/><rect x="149.8" y="246.4" width="0.5" height="0.5"/><rect x="150.2" y="240.6" width="0.5" height="0.5"/><rect x="157.7" y="242.3" width="0.5" height="0.5"/><rect x="152.5" y="243.2" width="0.5" height="0.5"/><rect x="151.8" y="240.8" width="0.5" height="0.5"/><rect x="150.3" y="238.3" width="0.5" height="0.5"/><rect x="151.2" y="243.3" width="0.5" height="0.5"/><rect x="153.4" y="242.5" width="0.5" height="0.5"/><rect x="159.9" y="241.3" width="0.5" height="0.5"/><rect x="147.2" y="243.4" width="0.5" height="0.5"/><rect x="163.9" y="232.0" width="0.5" height="0.5"/><rect x="154.5" y="238.8" width="0.5" height="0.5"/><rect x="148.8" y="246.1" width="0.5" height="0.5"/><rect x="155.5" y="242.9" width="0.5" height="0.5"/><rect x="149.7" y="241.1" width="0.5" height="0.5"/><rect x="150.5" y="248.8" width="0.5" height="0.5"/><rect x="155.5" y="235.4" width="0.5" height="0.5"/><rect x="154.2" y="248.7" width="0.5" height="0.5"/><rect x="152.1" y="242.0" width="0.5" height="0.5"/><rect x="155.4" y="244.9" width="0.5" height="0.5"/><rect x="157.9" y="240.7" width="0.5" height="0.5"/><rect x="154.0" y="245.7" width="0.5" height="0.5"/><rect x="151.0" y="241.8" width="0.5" height="0.5"/><rect x="157.3" y="242.1" width="0.5" height="0.5"/><rect x="151.2" y="249.3" width="0.5" height="0.5"/><rect x="156.5" y="242.0" width="0.5" height="0.5"/><rect x="160.0" y="242.9" width="0.5" height="0.5"/><rect x="155.8" y="239.9" width="0.5" height="0.5"/><rect x="165.0" y="246.5" width="0.5" height="0.5"/><rect x="166.1" y="251.7" width="0.5" height="0.5"/><rect x="147.4" y="245.5" width="0.5" height="0.5"/><rect x="146.2" y="244.5" width="0.5" height="0.5"/><rect x="155.9" y="241.0" width="0.5" height="0.5"/><rect x="158.8" y="243.7" width="0.5" height="0.5"/><rect x="154.3" y="242.2" width="0.5" height="0.5"/><rect x="160.0" y="245.0" width="0.5" height="0.5"/><rect x="159.7" y="244.4" width="0.5" height="0.5"/><rect x="153.7" y="241.3" width="0.5" height="0.5"/><rect x="156.9" y="240.4" width="0.5" height="0.5"/><rect x="152.9" y="246.2" width="0.5" height="0.5"/><rect x="156.8" y="242.3" width="0.5" height="0.5"/><rect x="156.8" y="241.7" width="0.5" height="0.5"/><rect x="161.8" y="242.4" width="0.5" height="0.5"/><rect x="156.0" y="238.7" width="0.5" height="0.5"/><rect x="152.6" y="238.2" width="0.5" height="0.5"/><rect x="157.8" y="245.3" width="0.5" height="0.5"/><rect x="158.7" y="241.9" width="0.5" height="0.5"/><rect x="156.1" y="244.5" width="0.5" height="0.5"/><rect x="154.2" y="236.8" width="0.5" height="0.5"/><rect x="164.9" y="245.1" width="0.5" height="0.5"/><rect x="160.0" y="246.2" width="0.5" height="0.5"/><rect x="152.5" y="243.0" width="0.5" height="0.5"/><rect x="153.6" y="247.3" width="0.5" height="0.5"/><rect x="156.7" y="240.5" width="0.5" height="0.5"/><rect x="157.4" y="253.7" width="0.5" height="0.5"/><rect x="155.8" y="245.1" width="0.5" height="0.5"/><rect x="165.5" y="239.7" width="0.5" height="0.5"/><rect x="157.3" y="247.8" width="0.5" height="0.5"/><rect x="158.8" y="240.9" width="0.5" height="0.5"/><rect x="155.8" y="243.6" width="0.5" height="0.5"/><rect x="160.3" y="247.1" width="0.5" height="0.5"/><rect x="146.8" y="243.5" width="0.5" height="0.5"/><rect x="152.6" y="244.3" width="0.5" height="0.5"/><rect x="154.0" y="244.6" width="0.5" height="0.5"/><rect x="149.0" y="244.0" width="0.5" height="0.5"/><rect x="158.4" y="247.9" width="0.5" height="0.5"/><rect x="163.1" y="243.2" width="0.5" height="0.5"/><rect x="153.3" y="248.3" width="0.5" height="0.5"/><rect x="157.7" y="244.5" width="0.5" height="0.5"/><rect x="158.6" y="237.7" width="0.5" height="0.5"/><rect x="151.8" y="239.9" width="0.5" height="0.5"/><rect x="150.8" y="249.1" width="0.5" height="0.5"/><rect x="147.4" y="242.6" width="0.5" height="0.5"/><rect x="155.6" y="239.9" width="0.5" height="0.5"/><rect x="157.7" y="240.1" width="0.5" height="0.5"/><rect x="149.4" y="238.4" width="0.5" height="0.5"/><rect x="162.1" y="241.7" width="0.5" height="0.5"/><rect x="156.8" y="245.4" width="0.5" height="0.5"/><rect x="157.9" y="240.4" width="0.5" height="0.5"/><rect x="159.7" y="247.3" width="0.5" height="0.5"/><rect x="149.4" y="246.4" width="0.5" height="0.5"/><rect x="158.4" y="247.4" width="0.5" height="0.5"/><rect x="158.7" y="242.7" width="0.5" height="0.5"/><rect x="152.5" y="245.7" width="0.5" height="0.5"/><rect x="157.8" y="244.8" width="0.5" height="0.5"/><rect x="153.7" y="247.7" width="0.5" height="0.5"/><rect x="160.0" y="234.4" width="0.5" height="0.5"/><rect x="150.1" y="230.6" width="0.5" height="0.5"/><rect x="160.3" y="215.2" width="0.5" height="0.5"/><rect x="149.3" y="227.9" width="0.5" height="0.5"/><rect x="157.8" y="225.8" width="0.5" height="0.5"/><rect x="162.2" y="225.6" width="0.5" height="0.5"/><rect x="150.8" y="225.5" width="0.5" height="0.5"/><rect x="152.1" y="231.7" width="0.5" height="0.5"/><rect x="159.0" y="228.8" width="0.5" height="0.5"/><rect x="146.9" y="225.1" width="0.5" height="0.5"/><rect x="156.9" y="226.0" width="0.5" height="0.5"/><rect x="155.1" y="240.8" width="0.5" height="0.5"/><rect x="166.6" y="222.3" width="0.5" height="0.5"/><rect x="147.8" y="226.1" width="0.5" height="0.5"/><rect x="162.6" y="217.6" width="0.5" height="0.5"/><rect x="147.9" y="215.9" width="0.5" height="0.5"/><rect x="161.3" y="222.1" width="0.5" height="0.5"/><rect x="153.6" y="238.8" width="0.5" height="0.5"/><rect x="158.2" y="223.4" width="0.5" height="0.5"/><rect x="145.7" y="234.8" width="0.5" height="0.5"/><rect x="154.7" y="223.3" width="0.5" height="0.5"/><rect x="155.7" y="220.2" width="0.5" height="0.5"/><rect x="155.4" y="227.6" width="0.5" height="0.5"/><rect x="147.1" y="227.9" width="0.5" height="0.5"/><rect x="158.0" y="237.4" width="0.5" height="0.5"/><rect x="159.9" y="242.7" width="0.5" height="0.5"/><rect x="159.8" y="225.7" width="0.5" height="0.5"/><rect x="156.5" y="226.2" width="0.5" height="0.5"/><rect x="148.1" y="224.2" width="0.5" height="0.5"/><rect x="155.2" y="217.7" width="0.5" height="0.5"/><rect x="153.8" y="230.5" width="0.5" height="0.5"/><rect x="165.0" y="225.1" width="0.5" height="0.5"/><rect x="152.1" y="220.7" width="0.5" height="0.5"/><rect x="150.8" y="220.7" width="0.5" height="0.5"/><rect x="147.0" y="237.6" width="0.5" height="0.5"/><rect x="162.8" y="229.7" width="0.5" height="0.5"/><rect x="151.9" y="216.5" width="0.5" height="0.5"/><rect x="149.1" y="237.7" width="0.5" height="0.5"/><rect x="163.1" y="230.8" width="0.5" height="0.5"/><rect x="151.6" y="228.8" width="0.5" height="0.5"/><rect x="158.3" y="222.4" width="0.5" height="0.5"/><rect x="148.6" y="227.3" width="0.5" height="0.5"/><rect x="158.1" y="230.1" width="0.5" height="0.5"/><rect x="147.0" y="218.4" width="0.5" height="0.5"/><rect x="153.9" y="221.2" width="0.5" height="0.5"/><rect x="152.2" y="240.7" width="0.5" height="0.5"/><rect x="147.4" y="227.8" width="0.5" height="0.5"/><rect x="166.2" y="229.0" width="0.5" height="0.5"/><rect x="162.5" y="218.7" width="0.5" height="0.5"/><rect x="155.9" y="236.8" width="0.5" height="0.5"/><rect x="151.8" y="219.9" width="0.5" height="0.5"/><rect x="153.3" y="236.8" width="0.5" height="0.5"/></g>
<path d="M147.50,237.60 C147.55,238.85 147.38,242.93 147.80,245.10 C148.22,247.27 148.80,249.35 150.00,250.60 C151.20,251.85 153.25,252.35 155.00,252.60 C156.75,252.85 159.08,252.60 160.50,252.10 C161.92,251.60 162.92,250.93 163.50,249.60 C164.08,248.27 164.08,246.10 164.00,244.10 C163.92,242.10 163.17,238.68 163.00,237.60" fill="none" stroke="#8a8a8a" stroke-width="0.45"/>
<path d="M152.50,216.70 C153.62,216.68 155.28,216.87 156.50,217.50 C157.72,218.13 158.90,219.25 159.80,220.50 C160.70,221.75 161.53,223.55 161.90,225.00 C162.27,226.45 162.27,227.83 162.00,229.20 C161.73,230.57 161.17,232.12 160.30,233.20 C159.43,234.28 158.05,235.23 156.80,235.70 C155.55,236.17 154.10,236.28 152.80,236.00 C151.50,235.72 150.00,235.00 149.00,234.00 C148.00,233.00 147.25,231.47 146.80,230.00 C146.35,228.53 146.18,226.78 146.30,225.20 C146.42,223.62 146.92,221.77 147.50,220.50 C148.08,219.23 148.97,218.23 149.80,217.60 C150.63,216.97 151.38,216.72 152.50,216.70Z" fill="#c6c6c6" stroke="#666" stroke-width="0.6"/>
<path d="M152.43,217.85 C153.39,217.83 154.82,217.99 155.87,218.54 C156.92,219.08 157.93,220.04 158.71,221.12 C159.48,222.19 160.20,223.74 160.51,224.99 C160.83,226.23 160.83,227.42 160.60,228.60 C160.37,229.77 159.88,231.11 159.14,232.04 C158.39,232.97 157.20,233.79 156.13,234.19 C155.05,234.59 153.81,234.69 152.69,234.45 C151.57,234.20 150.28,233.59 149.42,232.73 C148.56,231.87 147.92,230.55 147.53,229.29 C147.14,228.02 147.00,226.52 147.10,225.16 C147.20,223.80 147.63,222.21 148.13,221.12 C148.63,220.03 149.39,219.17 150.11,218.62 C150.82,218.08 151.47,217.86 152.43,217.85Z" fill="#cfcfcf" stroke="#666" stroke-width="0.45"/>
<path d="M152.36,219.00 C153.16,218.98 154.36,219.12 155.24,219.57 C156.12,220.03 156.97,220.83 157.62,221.73 C158.26,222.63 158.86,223.93 159.13,224.97 C159.39,226.02 159.39,227.01 159.20,228.00 C159.01,228.98 158.60,230.10 157.98,230.88 C157.35,231.66 156.36,232.34 155.46,232.68 C154.56,233.01 153.51,233.10 152.58,232.89 C151.64,232.69 150.56,232.17 149.84,231.45 C149.12,230.73 148.58,229.63 148.26,228.57 C147.93,227.52 147.81,226.26 147.90,225.12 C147.98,223.98 148.34,222.64 148.76,221.73 C149.18,220.82 149.82,220.10 150.42,219.64 C151.02,219.19 151.56,219.01 152.36,219.00Z" fill="#d8d8d8" stroke="#666" stroke-width="0.45"/>
<path d="M152.29,220.14 C152.94,220.13 153.90,220.24 154.61,220.61 C155.32,220.98 156.00,221.62 156.52,222.35 C157.05,223.07 157.53,224.12 157.74,224.96 C157.95,225.80 157.95,226.60 157.80,227.39 C157.65,228.19 157.32,229.09 156.81,229.71 C156.31,230.34 155.51,230.89 154.78,231.16 C154.06,231.43 153.22,231.50 152.46,231.34 C151.71,231.17 150.84,230.76 150.26,230.18 C149.68,229.60 149.25,228.71 148.98,227.86 C148.72,227.01 148.63,225.99 148.69,225.07 C148.76,224.16 149.05,223.08 149.39,222.35 C149.73,221.61 150.24,221.03 150.72,220.67 C151.21,220.30 151.64,220.15 152.29,220.14Z" fill="#e1e1e1" stroke="#666" stroke-width="0.45"/>
<path d="M152.22,221.21 C152.73,221.20 153.48,221.28 154.03,221.57 C154.57,221.85 155.10,222.36 155.51,222.92 C155.91,223.48 156.29,224.29 156.46,224.94 C156.62,225.60 156.62,226.22 156.50,226.84 C156.38,227.45 156.12,228.15 155.74,228.63 C155.35,229.12 154.72,229.55 154.16,229.76 C153.60,229.97 152.95,230.02 152.36,229.90 C151.78,229.77 151.10,229.44 150.65,229.00 C150.20,228.55 149.86,227.85 149.66,227.19 C149.46,226.53 149.38,225.75 149.44,225.03 C149.49,224.32 149.71,223.49 149.97,222.92 C150.24,222.35 150.63,221.90 151.01,221.62 C151.38,221.33 151.72,221.22 152.22,221.21Z" fill="#eaeaea" stroke="#666" stroke-width="0.45"/>
<path d="M152.16,222.28 C152.52,222.27 153.05,222.33 153.44,222.53 C153.83,222.73 154.21,223.09 154.50,223.49 C154.78,223.89 155.05,224.47 155.17,224.93 C155.29,225.40 155.29,225.84 155.20,226.28 C155.11,226.71 154.93,227.21 154.66,227.56 C154.38,227.90 153.94,228.21 153.54,228.36 C153.14,228.51 152.67,228.54 152.26,228.45 C151.84,228.36 151.36,228.13 151.04,227.81 C150.72,227.49 150.48,227.00 150.34,226.53 C150.19,226.06 150.14,225.50 150.18,225.00 C150.21,224.49 150.37,223.90 150.56,223.49 C150.75,223.09 151.03,222.77 151.30,222.56 C151.56,222.36 151.80,222.28 152.16,222.28Z" fill="#f2f2f2" stroke="#666" stroke-width="0.45"/>
<path d="M152.10,223.26 C152.32,223.26 152.66,223.29 152.90,223.42 C153.14,223.55 153.38,223.77 153.56,224.02 C153.74,224.27 153.91,224.63 153.98,224.92 C154.05,225.21 154.05,225.49 154.00,225.76 C153.95,226.03 153.83,226.34 153.66,226.56 C153.49,226.78 153.21,226.97 152.96,227.06 C152.71,227.15 152.42,227.18 152.16,227.12 C151.90,227.06 151.60,226.92 151.40,226.72 C151.20,226.52 151.05,226.21 150.96,225.92 C150.87,225.63 150.84,225.28 150.86,224.96 C150.88,224.64 150.98,224.27 151.10,224.02 C151.22,223.77 151.39,223.57 151.56,223.44 C151.73,223.31 151.88,223.26 152.10,223.26Z" fill="#fafafa" stroke="#666" stroke-width="0.45"/>
<path d="M149.10,238.80 C149.28,239.67 149.63,242.53 150.20,244.00 C150.77,245.47 151.45,246.83 152.50,247.60 C153.55,248.37 155.13,248.50 156.50,248.60 C157.87,248.70 159.78,248.72 160.70,248.20 C161.62,247.68 161.85,246.42 162.00,245.50 C162.15,244.58 161.85,243.78 161.60,242.70 C161.35,241.62 160.68,239.62 160.50,239.00" fill="none" stroke="#505050" stroke-width="0.6"/>
<path d="M151.00,239.00 C151.20,239.67 151.63,241.80 152.20,243.00 C152.77,244.20 153.43,245.62 154.40,246.20 C155.37,246.78 157.03,246.53 158.00,246.50 C158.97,246.47 160.12,246.50 160.20,246.00 C160.28,245.50 158.98,244.22 158.50,243.50 C158.02,242.78 157.63,242.45 157.30,241.70 C156.97,240.95 156.63,239.45 156.50,239.00" fill="none" stroke="#505050" stroke-width="0.6"/>
<rect x="144.3" y="214.3" width="35.10" height="22.10" fill="none" stroke="#6a6a6a" stroke-width="0.8"/>
<rect x="144.3" y="236.4" width="19.10" height="25.00" fill="none" stroke="#6a6a6a" stroke-width="0.8"/>
<rect x="163.4" y="237.4" width="24.20" height="24.00" fill="none" stroke="#6a6a6a" stroke-width="0.8"/>
<line x1="163.40" y1="236.40" x2="163.40" y2="261.40" stroke="#222" stroke-width="1.2"/>
<line x1="144.30" y1="236.40" x2="163.40" y2="236.40" stroke="#333" stroke-width="0.9"/>
<text x="50.00" y="211.90" font-size="9.2" textLength="21.20" lengthAdjust="spacingAndGlyphs">MPP</text>
<text x="74.00" y="259.10" font-size="9.2" textLength="31.80" lengthAdjust="spacingAndGlyphs">LT-HSC</text>
<text x="40.40" y="272.80" font-size="9.2" textLength="32.60" lengthAdjust="spacingAndGlyphs">ST-HSC</text>
<line x1="71.40" y1="295.60" x2="171.50" y2="295.60" stroke="#000" stroke-width="1.0"/>
<path d="M176.0,295.6 L170.0,293.4 L170.0,297.8 Z" fill="#000"/>
<text x="50.00" y="298.80" font-size="9.8" font-weight="bold" textLength="18.00" lengthAdjust="spacingAndGlyphs">CD150</text>
<line x1="12.40" y1="247.00" x2="12.40" y2="210.00" stroke="#000" stroke-width="1.0"/>
<path d="M12.4,205.6 L10.2,211.4 L14.6,211.4 Z" fill="#000"/>
<text x="15.30" y="266.60" font-size="9.6" font-weight="bold" textLength="15.00" lengthAdjust="spacingAndGlyphs" transform="rotate(-90 15.30 266.60)">CD48</text>
<text x="63.80" y="354.50" font-size="9.2" textLength="32.00" lengthAdjust="spacingAndGlyphs">Lineage</text>
<text x="95.00" y="351.20" font-size="6.6" textLength="10.20" lengthAdjust="spacingAndGlyphs">neg</text>
<line x1="33.10" y1="359.80" x2="33.10" y2="430.00" stroke="#000" stroke-width="1.35"/>
<line x1="32.50" y1="429.40" x2="135.20" y2="429.40" stroke="#000" stroke-width="1.35"/>
<g stroke="#000" stroke-width="0.75"><line x1="31.4" y1="429.0" x2="33.1" y2="429.0"/><line x1="31.4" y1="425.5" x2="33.1" y2="425.5"/><line x1="31.4" y1="422.0" x2="33.1" y2="422.0"/><line x1="31.4" y1="418.6" x2="33.1" y2="418.6"/><line x1="31.4" y1="415.1" x2="33.1" y2="415.1"/><line x1="31.4" y1="411.6" x2="33.1" y2="411.6"/><line x1="31.4" y1="408.1" x2="33.1" y2="408.1"/><line x1="31.4" y1="404.6" x2="33.1" y2="404.6"/><line x1="31.4" y1="401.2" x2="33.1" y2="401.2"/><line x1="31.4" y1="397.7" x2="33.1" y2="397.7"/><line x1="31.4" y1="394.2" x2="33.1" y2="394.2"/><line x1="31.4" y1="390.7" x2="33.1" y2="390.7"/><line x1="31.4" y1="387.2" x2="33.1" y2="387.2"/><line x1="31.4" y1="383.7" x2="33.1" y2="383.7"/><line x1="31.4" y1="380.3" x2="33.1" y2="380.3"/><line x1="31.4" y1="376.8" x2="33.1" y2="376.8"/><line x1="31.4" y1="373.3" x2="33.1" y2="373.3"/><line x1="31.4" y1="369.8" x2="33.1" y2="369.8"/><line x1="31.4" y1="366.3" x2="33.1" y2="366.3"/><line x1="31.4" y1="362.9" x2="33.1" y2="362.9"/><line x1="36.0" y1="429.4" x2="36.0" y2="431.0"/><line x1="39.1" y1="429.4" x2="39.1" y2="431.0"/><line x1="42.2" y1="429.4" x2="42.2" y2="431.0"/><line x1="45.0" y1="429.4" x2="45.0" y2="431.0"/><line x1="46.6" y1="429.4" x2="46.6" y2="431.0"/><line x1="48.2" y1="429.4" x2="48.2" y2="431.0"/><line x1="49.8" y1="429.4" x2="49.8" y2="431.0"/><line x1="51.4" y1="429.4" x2="51.4" y2="431.0"/><line x1="53.0" y1="429.4" x2="53.0" y2="431.0"/><line x1="54.6" y1="429.4" x2="54.6" y2="431.0"/><line x1="56.2" y1="429.4" x2="56.2" y2="431.0"/><line x1="57.8" y1="429.4" x2="57.8" y2="431.0"/><line x1="59.4" y1="429.4" x2="59.4" y2="431.0"/><line x1="61.0" y1="429.4" x2="61.0" y2="431.0"/><line x1="62.6" y1="429.4" x2="62.6" y2="431.0"/><line x1="64.2" y1="429.4" x2="64.2" y2="431.0"/><line x1="65.8" y1="429.4" x2="65.8" y2="431.0"/><line x1="67.4" y1="429.4" x2="67.4" y2="431.0"/><line x1="69.0" y1="429.4" x2="69.0" y2="431.0"/><line x1="90.0" y1="429.4" x2="90.0" y2="431.0"/><line x1="95.9" y1="429.4" x2="95.9" y2="431.0"/><line x1="99.3" y1="429.4" x2="99.3" y2="431.0"/><line x1="101.7" y1="429.4" x2="101.7" y2="431.0"/><line x1="103.6" y1="429.4" x2="103.6" y2="431.0"/><line x1="105.2" y1="429.4" x2="105.2" y2="431.0"/><line x1="106.5" y1="429.4" x2="106.5" y2="431.0"/><line x1="107.6" y1="429.4" x2="107.6" y2="431.0"/><line x1="108.6" y1="429.4" x2="108.6" y2="431.0"/><line x1="109.5" y1="429.4" x2="109.5" y2="431.0"/><line x1="115.5" y1="429.4" x2="115.5" y2="431.0"/><line x1="119.0" y1="429.4" x2="119.0" y2="431.0"/><line x1="121.5" y1="429.4" x2="121.5" y2="431.0"/><line x1="123.5" y1="429.4" x2="123.5" y2="431.0"/><line x1="125.1" y1="429.4" x2="125.1" y2="431.0"/><line x1="126.4" y1="429.4" x2="126.4" y2="431.0"/><line x1="127.6" y1="429.4" x2="127.6" y2="431.0"/><line x1="128.6" y1="429.4" x2="128.6" y2="431.0"/></g>
<line x1="30.30" y1="373.30" x2="33.10" y2="373.30" stroke="#000" stroke-width="0.9"/>
<text x="27.00" y="375.70" font-size="6.6" text-anchor="end">80</text>
<line x1="30.30" y1="387.30" x2="33.10" y2="387.30" stroke="#000" stroke-width="0.9"/>
<text x="27.00" y="389.70" font-size="6.6" text-anchor="end">60</text>
<line x1="30.30" y1="401.30" x2="33.10" y2="401.30" stroke="#000" stroke-width="0.9"/>
<text x="27.00" y="403.70" font-size="6.6" text-anchor="end">40</text>
<line x1="30.30" y1="415.10" x2="33.10" y2="415.10" stroke="#000" stroke-width="0.9"/>
<text x="27.00" y="417.50" font-size="6.6" text-anchor="end">20</text>
<line x1="30.30" y1="429.00" x2="33.10" y2="429.00" stroke="#000" stroke-width="0.9"/>
<text x="27.00" y="431.40" font-size="6.6" text-anchor="end">0</text>
<path d="M46.30,429.30 L47.27,426.73 L48.23,424.77 L49.20,422.30 L50.17,420.16 L51.13,417.82 L52.10,415.60 L53.07,414.10 L54.03,413.20 L55.00,411.70 L55.95,411.19 L56.90,410.26 L57.85,409.53 L58.80,408.80 L59.77,407.19 L60.75,405.60 L61.73,404.43 L62.70,403.10 L63.65,401.23 L64.60,398.95 L65.55,397.53 L66.50,395.40 L67.47,392.31 L68.45,389.41 L69.43,386.38 L70.40,383.80 L71.37,380.95 L72.33,377.57 L73.30,374.20 L74.25,370.61 L75.20,366.50 L76.70,364.60 L78.10,368.50 L79.60,366.50 L81.00,371.30 L81.93,375.25 L82.87,378.71 L83.80,382.90 L84.77,385.98 L85.73,389.30 L86.70,392.50 L87.67,395.76 L88.63,399.88 L89.60,403.10 L90.57,406.21 L91.53,409.26 L92.50,412.70 L93.45,414.37 L94.40,415.34 L95.35,417.35 L96.30,418.50 L97.12,419.10 L97.93,419.80 L98.75,420.29 L99.57,421.02 L100.38,421.45 L101.20,422.30 L102.01,422.53 L102.83,423.67 L103.64,423.79 L104.46,424.72 L105.27,424.88 L106.09,425.97 L106.90,426.20 L107.73,426.75 L108.56,426.92 L109.39,427.20 L110.21,427.34 L111.04,427.72 L111.87,427.56 L112.70,428.10 L113.65,428.43 L114.60,428.75 L115.55,429.08 L116.50,429.40" fill="none" stroke="#3b5ca8" stroke-width="1.0" stroke-linejoin="round"/>
<path d="M45.00,429.30 L45.83,427.62 L46.65,425.05 L47.47,422.97 L48.30,421.30 L49.27,418.15 L50.23,414.08 L51.20,410.80 L52.13,408.47 L53.07,406.77 L54.00,404.60 L54.97,403.36 L55.93,402.61 L56.90,401.20 L57.87,399.85 L58.83,399.19 L59.80,397.70 L60.77,396.47 L61.73,395.57 L62.70,394.40 L63.67,393.10 L64.63,391.33 L65.60,389.60 L66.57,387.66 L67.53,385.28 L68.50,382.90 L69.43,379.68 L70.37,377.37 L71.30,374.20 L72.30,370.41 L73.30,366.50 L74.60,363.70 L75.40,363.82 L76.20,364.20 L77.70,369.40 L78.65,374.98 L79.60,381.00 L80.75,388.44 L81.90,395.40 L83.05,403.16 L84.20,410.80 L85.03,413.67 L85.87,416.13 L86.70,418.50 L87.67,420.72 L88.63,422.35 L89.60,424.20 L90.57,425.06 L91.55,425.73 L92.53,426.21 L93.50,427.10 L94.36,427.60 L95.23,427.33 L96.09,427.84 L96.95,428.15 L97.82,428.11 L98.68,427.94 L99.55,428.37 L100.41,428.55 L101.27,428.74 L102.14,428.92 L103.00,429.10 L104.00,429.23 L105.00,429.37 L106.00,429.50" fill="none" stroke="#d02a55" stroke-width="1.0" stroke-linejoin="round"/>
<line x1="32.50" y1="429.40" x2="135.20" y2="429.40" stroke="#000" stroke-width="1.35"/>
<text x="100.20" y="375.70" font-size="7.0" font-style="italic" fill="#3b5ca8" color="#3b5ca8" textLength="6.40" lengthAdjust="spacingAndGlyphs">wt</text>
<text x="100.20" y="384.00" font-size="7.0" font-style="italic" fill="#d02a55" color="#d02a55" textLength="17.50" lengthAdjust="spacingAndGlyphs">cd11c</text>
<text x="118.00" y="380.60" font-size="4.4" font-style="italic" fill="#d02a55" color="#d02a55" textLength="4.60" lengthAdjust="spacingAndGlyphs">-/-</text>
<text x="61.90" y="440.90" font-size="6.6" text-anchor="middle">0</text>
<text x="86.70" y="440.90" font-size="6.6" textLength="6.80" lengthAdjust="spacingAndGlyphs">10</text>
<text x="93.70" y="437.60" font-size="4.619999999999999" style="stroke-width:0.12px">3</text>
<text x="105.50" y="440.90" font-size="6.6" textLength="6.80" lengthAdjust="spacingAndGlyphs">10</text>
<text x="112.50" y="437.60" font-size="4.619999999999999" style="stroke-width:0.12px">4</text>
<text x="126.00" y="440.90" font-size="6.6" textLength="6.40" lengthAdjust="spacingAndGlyphs">10</text>
<text x="132.60" y="437.60" font-size="4.619999999999999" style="stroke-width:0.12px">5</text>
<text x="37.20" y="455.10" font-size="9.8" font-weight="bold" textLength="16.70" lengthAdjust="spacingAndGlyphs">CD11c</text>
<line x1="57.40" y1="451.90" x2="127.50" y2="451.90" stroke="#000" stroke-width="1.0"/>
<path d="M132.0,451.9 L126.0,449.7 L126.0,454.1 Z" fill="#000"/>
<text x="273.00" y="291.00" font-size="9.2" textLength="20.10" lengthAdjust="spacingAndGlyphs">CMP</text>
<text x="353.90" y="291.50" font-size="9.2" textLength="16.50" lengthAdjust="spacingAndGlyphs">LSK</text>
<text x="406.90" y="291.20" font-size="9.2" textLength="42.00" lengthAdjust="spacingAndGlyphs">CLP (IL7R</text>
<text x="449.30" y="291.20" font-size="9.2" textLength="5.40" lengthAdjust="spacingAndGlyphs">α</text>
<text x="455.00" y="287.00" font-size="5.8" textLength="3.40" lengthAdjust="spacingAndGlyphs" style="stroke-width:0.12px">+</text>
<text x="461.00" y="291.20" font-size="9.2" textLength="19.30" lengthAdjust="spacingAndGlyphs">LSK)</text>
<text x="271.50" y="395.00" font-size="9.2" textLength="19.70" lengthAdjust="spacingAndGlyphs">MPP</text>
<text x="348.50" y="395.00" font-size="9.2" textLength="32.70" lengthAdjust="spacingAndGlyphs">ST-HSC</text>
<text x="428.10" y="395.00" font-size="9.2" textLength="30.40" lengthAdjust="spacingAndGlyphs">LT-HSC</text>
<line x1="251.80" y1="297.30" x2="251.80" y2="366.40" stroke="#000" stroke-width="1.35"/>
<line x1="251.20" y1="365.80" x2="313.80" y2="365.80" stroke="#000" stroke-width="1.35"/>
<g stroke="#000" stroke-width="0.75"><line x1="250.1" y1="365.4" x2="251.8" y2="365.4"/><line x1="250.1" y1="362.0" x2="251.8" y2="362.0"/><line x1="250.1" y1="358.5" x2="251.8" y2="358.5"/><line x1="250.1" y1="355.1" x2="251.8" y2="355.1"/><line x1="250.1" y1="351.6" x2="251.8" y2="351.6"/><line x1="250.1" y1="348.2" x2="251.8" y2="348.2"/><line x1="250.1" y1="344.8" x2="251.8" y2="344.8"/><line x1="250.1" y1="341.3" x2="251.8" y2="341.3"/><line x1="250.1" y1="337.9" x2="251.8" y2="337.9"/><line x1="250.1" y1="334.5" x2="251.8" y2="334.5"/><line x1="250.1" y1="331.0" x2="251.8" y2="331.0"/><line x1="250.1" y1="327.6" x2="251.8" y2="327.6"/><line x1="250.1" y1="324.1" x2="251.8" y2="324.1"/><line x1="250.1" y1="320.7" x2="251.8" y2="320.7"/><line x1="250.1" y1="317.3" x2="251.8" y2="317.3"/><line x1="250.1" y1="313.8" x2="251.8" y2="313.8"/><line x1="250.1" y1="310.4" x2="251.8" y2="310.4"/><line x1="250.1" y1="307.0" x2="251.8" y2="307.0"/><line x1="250.1" y1="303.5" x2="251.8" y2="303.5"/><line x1="250.1" y1="300.1" x2="251.8" y2="300.1"/><line x1="254.8" y1="365.8" x2="254.8" y2="367.4"/><line x1="257.0" y1="365.8" x2="257.0" y2="367.4"/><line x1="259.2" y1="365.8" x2="259.2" y2="367.4"/><line x1="261.4" y1="365.8" x2="261.4" y2="367.4"/><line x1="263.6" y1="365.8" x2="263.6" y2="367.4"/><line x1="264.8" y1="365.8" x2="264.8" y2="367.4"/><line x1="265.9" y1="365.8" x2="265.9" y2="367.4"/><line x1="267.0" y1="365.8" x2="267.0" y2="367.4"/><line x1="268.1" y1="365.8" x2="268.1" y2="367.4"/><line x1="269.2" y1="365.8" x2="269.2" y2="367.4"/><line x1="270.3" y1="365.8" x2="270.3" y2="367.4"/><line x1="271.4" y1="365.8" x2="271.4" y2="367.4"/><line x1="272.5" y1="365.8" x2="272.5" y2="367.4"/><line x1="273.6" y1="365.8" x2="273.6" y2="367.4"/><line x1="274.7" y1="365.8" x2="274.7" y2="367.4"/><line x1="275.8" y1="365.8" x2="275.8" y2="367.4"/><line x1="276.9" y1="365.8" x2="276.9" y2="367.4"/><line x1="282.3" y1="365.8" x2="282.3" y2="367.4"/><line x1="285.9" y1="365.8" x2="285.9" y2="367.4"/><line x1="288.0" y1="365.8" x2="288.0" y2="367.4"/><line x1="289.5" y1="365.8" x2="289.5" y2="367.4"/><line x1="290.7" y1="365.8" x2="290.7" y2="367.4"/><line x1="291.6" y1="365.8" x2="291.6" y2="367.4"/><line x1="292.4" y1="365.8" x2="292.4" y2="367.4"/><line x1="293.1" y1="365.8" x2="293.1" y2="367.4"/><line x1="293.8" y1="365.8" x2="293.8" y2="367.4"/><line x1="294.3" y1="365.8" x2="294.3" y2="367.4"/><line x1="297.9" y1="365.8" x2="297.9" y2="367.4"/><line x1="300.0" y1="365.8" x2="300.0" y2="367.4"/><line x1="301.5" y1="365.8" x2="301.5" y2="367.4"/><line x1="302.7" y1="365.8" x2="302.7" y2="367.4"/><line x1="303.6" y1="365.8" x2="303.6" y2="367.4"/><line x1="304.4" y1="365.8" x2="304.4" y2="367.4"/><line x1="305.1" y1="365.8" x2="305.1" y2="367.4"/><line x1="305.8" y1="365.8" x2="305.8" y2="367.4"/></g>
<line x1="249.00" y1="310.40" x2="251.80" y2="310.40" stroke="#000" stroke-width="0.9"/>
<text x="245.60" y="312.80" font-size="6.4" text-anchor="end">80</text>
<line x1="249.00" y1="324.20" x2="251.80" y2="324.20" stroke="#000" stroke-width="0.9"/>
<text x="245.60" y="326.60" font-size="6.4" text-anchor="end">60</text>
<line x1="249.00" y1="338.10" x2="251.80" y2="338.10" stroke="#000" stroke-width="0.9"/>
<text x="245.60" y="340.50" font-size="6.4" text-anchor="end">40</text>
<line x1="249.00" y1="351.90" x2="251.80" y2="351.90" stroke="#000" stroke-width="0.9"/>
<text x="245.60" y="354.30" font-size="6.4" text-anchor="end">20</text>
<line x1="249.00" y1="365.40" x2="251.80" y2="365.40" stroke="#000" stroke-width="0.9"/>
<text x="245.60" y="367.80" font-size="6.4" text-anchor="end">0</text>
<path d="M260.30,365.90 L261.50,352.00 L262.40,346.00 L263.27,343.05 L264.13,340.72 L265.00,338.00 L265.90,334.19 L266.80,330.78 L267.70,327.00 L268.60,322.64 L269.50,318.00 L270.25,312.77 L271.00,308.50 L271.80,306.80 L272.60,311.50 L273.30,313.00 L274.00,310.50 L275.10,309.20 L276.20,311.50 L277.30,307.50 L278.70,305.50 L280.00,313.00 L281.40,324.80 L282.50,338.00 L283.60,350.20 L285.00,360.00 L285.85,362.41 L286.70,365.90 Z" fill="#9395a1" stroke="#3e4454" stroke-width="0.6" stroke-linejoin="round"/>
<path d="M259.20,365.90 L260.10,361.06 L261.00,356.00 L261.83,353.02 L262.67,349.29 L263.50,346.00 L264.50,343.69 L265.50,341.00 L266.23,339.53 L266.97,337.29 L267.70,335.40 L268.47,333.81 L269.23,332.01 L270.00,330.00 L270.83,327.99 L271.67,324.92 L272.50,323.00 L273.37,321.20 L274.23,320.45 L275.10,318.50 L276.15,314.47 L277.20,310.00 L277.90,307.32 L278.60,305.28 L279.30,302.60 L280.15,301.60 L281.00,301.20 L282.30,306.00 L283.60,318.50 L284.70,332.00 L285.70,343.90 L287.00,352.00 L288.40,359.70 L289.10,360.74 L289.80,361.98 L290.50,363.20 L291.22,363.28 L291.94,363.51 L292.66,364.17 L293.38,364.61 L294.10,364.80 L294.88,365.02 L295.66,365.24 L296.44,365.46 L297.22,365.68 L298.00,365.90" fill="none" stroke="#bf1242" stroke-width="1.05" stroke-linejoin="round"/>
<line x1="251.20" y1="365.80" x2="313.80" y2="365.80" stroke="#000" stroke-width="1.35"/>
<text x="270.90" y="378.30" font-size="6.4" text-anchor="middle">0</text>
<text x="285.70" y="378.30" font-size="6.4" textLength="6.40" lengthAdjust="spacingAndGlyphs">10</text>
<text x="292.30" y="375.10" font-size="4.4799999999999995" style="stroke-width:0.12px">3</text>
<text x="298.40" y="378.30" font-size="6.4" textLength="6.40" lengthAdjust="spacingAndGlyphs">10</text>
<text x="305.00" y="375.10" font-size="4.4799999999999995" style="stroke-width:0.12px">4</text>
<line x1="332.40" y1="296.80" x2="332.40" y2="367.00" stroke="#000" stroke-width="1.35"/>
<line x1="331.80" y1="366.40" x2="392.70" y2="366.40" stroke="#000" stroke-width="1.35"/>
<g stroke="#000" stroke-width="0.75"><line x1="330.7" y1="366.0" x2="332.4" y2="366.0"/><line x1="330.7" y1="362.6" x2="332.4" y2="362.6"/><line x1="330.7" y1="359.1" x2="332.4" y2="359.1"/><line x1="330.7" y1="355.7" x2="332.4" y2="355.7"/><line x1="330.7" y1="352.2" x2="332.4" y2="352.2"/><line x1="330.7" y1="348.8" x2="332.4" y2="348.8"/><line x1="330.7" y1="345.4" x2="332.4" y2="345.4"/><line x1="330.7" y1="341.9" x2="332.4" y2="341.9"/><line x1="330.7" y1="338.5" x2="332.4" y2="338.5"/><line x1="330.7" y1="335.1" x2="332.4" y2="335.1"/><line x1="330.7" y1="331.6" x2="332.4" y2="331.6"/><line x1="330.7" y1="328.2" x2="332.4" y2="328.2"/><line x1="330.7" y1="324.8" x2="332.4" y2="324.8"/><line x1="330.7" y1="321.3" x2="332.4" y2="321.3"/><line x1="330.7" y1="317.9" x2="332.4" y2="317.9"/><line x1="330.7" y1="314.4" x2="332.4" y2="314.4"/><line x1="330.7" y1="311.0" x2="332.4" y2="311.0"/><line x1="330.7" y1="307.6" x2="332.4" y2="307.6"/><line x1="330.7" y1="304.1" x2="332.4" y2="304.1"/><line x1="330.7" y1="300.7" x2="332.4" y2="300.7"/><line x1="335.4" y1="366.4" x2="335.4" y2="368.0"/><line x1="337.6" y1="366.4" x2="337.6" y2="368.0"/><line x1="339.8" y1="366.4" x2="339.8" y2="368.0"/><line x1="342.0" y1="366.4" x2="342.0" y2="368.0"/><line x1="344.2" y1="366.4" x2="344.2" y2="368.0"/><line x1="345.4" y1="366.4" x2="345.4" y2="368.0"/><line x1="346.5" y1="366.4" x2="346.5" y2="368.0"/><line x1="347.6" y1="366.4" x2="347.6" y2="368.0"/><line x1="348.7" y1="366.4" x2="348.7" y2="368.0"/><line x1="349.8" y1="366.4" x2="349.8" y2="368.0"/><line x1="350.9" y1="366.4" x2="350.9" y2="368.0"/><line x1="352.0" y1="366.4" x2="352.0" y2="368.0"/><line x1="353.1" y1="366.4" x2="353.1" y2="368.0"/><line x1="354.2" y1="366.4" x2="354.2" y2="368.0"/><line x1="355.3" y1="366.4" x2="355.3" y2="368.0"/><line x1="356.4" y1="366.4" x2="356.4" y2="368.0"/><line x1="357.5" y1="366.4" x2="357.5" y2="368.0"/><line x1="362.9" y1="366.4" x2="362.9" y2="368.0"/><line x1="366.5" y1="366.4" x2="366.5" y2="368.0"/><line x1="368.6" y1="366.4" x2="368.6" y2="368.0"/><line x1="370.1" y1="366.4" x2="370.1" y2="368.0"/><line x1="371.3" y1="366.4" x2="371.3" y2="368.0"/><line x1="372.2" y1="366.4" x2="372.2" y2="368.0"/><line x1="373.0" y1="366.4" x2="373.0" y2="368.0"/><line x1="373.7" y1="366.4" x2="373.7" y2="368.0"/><line x1="374.4" y1="366.4" x2="374.4" y2="368.0"/><line x1="374.9" y1="366.4" x2="374.9" y2="368.0"/><line x1="378.5" y1="366.4" x2="378.5" y2="368.0"/><line x1="380.6" y1="366.4" x2="380.6" y2="368.0"/><line x1="382.1" y1="366.4" x2="382.1" y2="368.0"/><line x1="383.3" y1="366.4" x2="383.3" y2="368.0"/><line x1="384.2" y1="366.4" x2="384.2" y2="368.0"/><line x1="385.0" y1="366.4" x2="385.0" y2="368.0"/><line x1="385.7" y1="366.4" x2="385.7" y2="368.0"/><line x1="386.4" y1="366.4" x2="386.4" y2="368.0"/></g>
<line x1="329.60" y1="311.00" x2="332.40" y2="311.00" stroke="#000" stroke-width="0.9"/>
<text x="325.90" y="313.40" font-size="6.4" text-anchor="end">80</text>
<line x1="329.60" y1="324.80" x2="332.40" y2="324.80" stroke="#000" stroke-width="0.9"/>
<text x="325.90" y="327.20" font-size="6.4" text-anchor="end">60</text>
<line x1="329.60" y1="338.70" x2="332.40" y2="338.70" stroke="#000" stroke-width="0.9"/>
<text x="325.90" y="341.10" font-size="6.4" text-anchor="end">40</text>
<line x1="329.60" y1="352.50" x2="332.40" y2="352.50" stroke="#000" stroke-width="0.9"/>
<text x="325.90" y="354.90" font-size="6.4" text-anchor="end">20</text>
<line x1="329.60" y1="366.00" x2="332.40" y2="366.00" stroke="#000" stroke-width="0.9"/>
<text x="325.90" y="368.40" font-size="6.4" text-anchor="end">0</text>
<path d="M338.70,366.50 L340.00,356.00 L341.30,344.80 L342.15,341.79 L343.00,338.50 L344.40,335.30 L345.25,334.17 L346.10,332.50 L347.15,334.22 L348.20,335.30 L349.50,330.00 L350.80,324.30 L352.00,325.50 L353.30,327.90 L354.70,322.00 L355.40,319.64 L356.10,316.30 L357.50,319.40 L358.80,311.00 L359.55,313.91 L360.30,316.30 L361.15,321.51 L362.00,325.80 L363.20,337.00 L364.50,349.00 L365.25,352.98 L366.00,358.00 L366.85,360.91 L367.70,363.90 L368.40,365.25 L369.10,365.63 L369.80,366.50 Z" fill="#9395a1" stroke="#3e4454" stroke-width="0.6" stroke-linejoin="round"/>
<path d="M340.20,366.50 L340.90,363.83 L341.60,362.31 L342.30,359.60 L343.03,358.25 L343.77,357.75 L344.50,356.50 L345.50,355.71 L346.50,354.30 L347.50,353.12 L348.50,351.50 L349.27,350.49 L350.03,349.70 L350.80,349.00 L351.80,346.70 L352.80,344.00 L353.70,341.67 L354.60,338.50 L355.55,334.90 L356.50,331.00 L357.35,327.39 L358.20,323.70 L358.90,320.40 L359.60,317.22 L360.30,314.10 L361.35,313.60 L362.40,312.70 L363.10,312.40 L363.80,312.26 L364.50,312.00 L365.25,313.72 L366.00,315.20 L367.00,326.00 L367.70,338.50 L368.40,343.55 L369.10,347.95 L369.80,353.30 L371.20,359.50 L371.90,361.46 L372.60,363.90 L373.43,364.95 L374.27,365.63 L375.10,366.50" fill="none" stroke="#bf1242" stroke-width="1.05" stroke-linejoin="round"/>
<line x1="331.80" y1="366.40" x2="392.70" y2="366.40" stroke="#000" stroke-width="1.35"/>
<text x="350.80" y="378.90" font-size="6.4" text-anchor="middle">0</text>
<text x="364.50" y="378.90" font-size="6.4" textLength="6.40" lengthAdjust="spacingAndGlyphs">10</text>
<text x="371.10" y="375.70" font-size="4.4799999999999995" style="stroke-width:0.12px">3</text>
<text x="379.30" y="378.90" font-size="6.4" textLength="6.40" lengthAdjust="spacingAndGlyphs">10</text>
<text x="385.90" y="375.70" font-size="4.4799999999999995" style="stroke-width:0.12px">4</text>
<line x1="410.40" y1="296.90" x2="410.40" y2="366.70" stroke="#000" stroke-width="1.35"/>
<line x1="409.80" y1="366.10" x2="476.60" y2="366.10" stroke="#000" stroke-width="1.35"/>
<g stroke="#000" stroke-width="0.75"><line x1="408.7" y1="365.7" x2="410.4" y2="365.7"/><line x1="408.7" y1="362.3" x2="410.4" y2="362.3"/><line x1="408.7" y1="358.8" x2="410.4" y2="358.8"/><line x1="408.7" y1="355.4" x2="410.4" y2="355.4"/><line x1="408.7" y1="351.9" x2="410.4" y2="351.9"/><line x1="408.7" y1="348.5" x2="410.4" y2="348.5"/><line x1="408.7" y1="345.1" x2="410.4" y2="345.1"/><line x1="408.7" y1="341.6" x2="410.4" y2="341.6"/><line x1="408.7" y1="338.2" x2="410.4" y2="338.2"/><line x1="408.7" y1="334.8" x2="410.4" y2="334.8"/><line x1="408.7" y1="331.3" x2="410.4" y2="331.3"/><line x1="408.7" y1="327.9" x2="410.4" y2="327.9"/><line x1="408.7" y1="324.4" x2="410.4" y2="324.4"/><line x1="408.7" y1="321.0" x2="410.4" y2="321.0"/><line x1="408.7" y1="317.6" x2="410.4" y2="317.6"/><line x1="408.7" y1="314.1" x2="410.4" y2="314.1"/><line x1="408.7" y1="310.7" x2="410.4" y2="310.7"/><line x1="408.7" y1="307.3" x2="410.4" y2="307.3"/><line x1="408.7" y1="303.8" x2="410.4" y2="303.8"/><line x1="408.7" y1="300.4" x2="410.4" y2="300.4"/><line x1="413.4" y1="366.1" x2="413.4" y2="367.7"/><line x1="415.6" y1="366.1" x2="415.6" y2="367.7"/><line x1="417.8" y1="366.1" x2="417.8" y2="367.7"/><line x1="420.0" y1="366.1" x2="420.0" y2="367.7"/><line x1="422.2" y1="366.1" x2="422.2" y2="367.7"/><line x1="423.4" y1="366.1" x2="423.4" y2="367.7"/><line x1="424.5" y1="366.1" x2="424.5" y2="367.7"/><line x1="425.6" y1="366.1" x2="425.6" y2="367.7"/><line x1="426.7" y1="366.1" x2="426.7" y2="367.7"/><line x1="427.8" y1="366.1" x2="427.8" y2="367.7"/><line x1="428.9" y1="366.1" x2="428.9" y2="367.7"/><line x1="430.0" y1="366.1" x2="430.0" y2="367.7"/><line x1="431.1" y1="366.1" x2="431.1" y2="367.7"/><line x1="432.2" y1="366.1" x2="432.2" y2="367.7"/><line x1="433.3" y1="366.1" x2="433.3" y2="367.7"/><line x1="434.4" y1="366.1" x2="434.4" y2="367.7"/><line x1="435.5" y1="366.1" x2="435.5" y2="367.7"/><line x1="440.9" y1="366.1" x2="440.9" y2="367.7"/><line x1="444.5" y1="366.1" x2="444.5" y2="367.7"/><line x1="446.6" y1="366.1" x2="446.6" y2="367.7"/><line x1="448.1" y1="366.1" x2="448.1" y2="367.7"/><line x1="449.3" y1="366.1" x2="449.3" y2="367.7"/><line x1="450.2" y1="366.1" x2="450.2" y2="367.7"/><line x1="451.0" y1="366.1" x2="451.0" y2="367.7"/><line x1="451.7" y1="366.1" x2="451.7" y2="367.7"/><line x1="452.4" y1="366.1" x2="452.4" y2="367.7"/><line x1="452.9" y1="366.1" x2="452.9" y2="367.7"/><line x1="456.5" y1="366.1" x2="456.5" y2="367.7"/><line x1="458.6" y1="366.1" x2="458.6" y2="367.7"/><line x1="460.1" y1="366.1" x2="460.1" y2="367.7"/><line x1="461.3" y1="366.1" x2="461.3" y2="367.7"/><line x1="462.2" y1="366.1" x2="462.2" y2="367.7"/><line x1="463.0" y1="366.1" x2="463.0" y2="367.7"/><line x1="463.7" y1="366.1" x2="463.7" y2="367.7"/><line x1="464.4" y1="366.1" x2="464.4" y2="367.7"/></g>
<line x1="407.60" y1="310.70" x2="410.40" y2="310.70" stroke="#000" stroke-width="0.9"/>
<text x="404.20" y="313.10" font-size="6.4" text-anchor="end">80</text>
<line x1="407.60" y1="324.50" x2="410.40" y2="324.50" stroke="#000" stroke-width="0.9"/>
<text x="404.20" y="326.90" font-size="6.4" text-anchor="end">60</text>
<line x1="407.60" y1="338.40" x2="410.40" y2="338.40" stroke="#000" stroke-width="0.9"/>
<text x="404.20" y="340.80" font-size="6.4" text-anchor="end">40</text>
<line x1="407.60" y1="352.20" x2="410.40" y2="352.20" stroke="#000" stroke-width="0.9"/>
<text x="404.20" y="354.60" font-size="6.4" text-anchor="end">20</text>
<line x1="407.60" y1="365.70" x2="410.40" y2="365.70" stroke="#000" stroke-width="0.9"/>
<text x="404.20" y="368.10" font-size="6.4" text-anchor="end">0</text>
<path d="M420.30,366.20 L421.05,361.41 L421.80,357.00 L423.10,351.20 L423.90,349.42 L424.70,348.57 L425.50,347.00 L426.23,345.60 L426.97,345.17 L427.70,344.20 L428.60,342.70 L429.50,341.50 L430.35,340.06 L431.20,339.60 L432.10,337.31 L433.00,335.00 L433.80,332.19 L434.60,330.40 L435.40,327.63 L436.20,325.00 L436.90,322.63 L437.60,321.20 L438.40,317.00 L439.20,314.80 L440.20,321.00 L441.10,328.10 L442.20,335.00 L443.40,341.90 L444.10,344.25 L444.80,347.50 L446.20,352.30 L447.10,354.82 L448.00,357.50 L448.80,359.86 L449.60,361.50 L450.40,362.09 L451.20,363.20 L452.00,364.50 L452.73,365.07 L453.47,365.63 L454.20,366.20 Z" fill="#9395a1" stroke="#3e4454" stroke-width="0.6" stroke-linejoin="round"/>
<path d="M419.60,366.20 L420.45,362.69 L421.30,360.00 L422.20,357.38 L423.10,354.60 L423.95,351.87 L424.80,350.00 L425.65,348.26 L426.50,346.50 L427.40,346.43 L428.30,345.50 L429.15,345.26 L430.00,345.40 L430.90,343.63 L431.80,341.00 L432.65,339.27 L433.50,337.30 L434.30,334.20 L435.10,330.40 L436.00,326.27 L436.90,323.00 L437.90,328.00 L438.80,332.70 L440.00,334.00 L441.10,335.00 L442.50,341.00 L443.80,346.50 L445.00,347.50 L446.20,347.70 L447.10,350.81 L448.00,353.50 L448.77,356.18 L449.53,358.93 L450.30,361.50 L451.07,361.96 L451.83,363.06 L452.60,363.20 L453.33,363.37 L454.07,363.47 L454.80,363.46 L455.53,363.38 L456.27,363.65 L457.00,363.40 L457.84,363.46 L458.68,363.38 L459.52,362.96 L460.36,363.29 L461.20,363.20 L462.30,360.90 L463.07,360.59 L463.83,360.98 L464.60,360.90 L465.80,363.90 L466.57,364.60 L467.33,365.43 L468.10,366.20" fill="none" stroke="#bf1242" stroke-width="1.05" stroke-linejoin="round"/>
<line x1="409.80" y1="366.10" x2="476.60" y2="366.10" stroke="#000" stroke-width="1.35"/>
<text x="428.80" y="378.60" font-size="6.4" text-anchor="middle">0</text>
<text x="443.80" y="378.60" font-size="6.4" textLength="6.40" lengthAdjust="spacingAndGlyphs">10</text>
<text x="450.40" y="375.40" font-size="4.4799999999999995" style="stroke-width:0.12px">3</text>
<text x="456.50" y="378.60" font-size="6.4" textLength="6.40" lengthAdjust="spacingAndGlyphs">10</text>
<text x="463.10" y="375.40" font-size="4.4799999999999995" style="stroke-width:0.12px">4</text>
<line x1="251.70" y1="404.00" x2="251.70" y2="470.40" stroke="#000" stroke-width="1.35"/>
<line x1="251.10" y1="469.80" x2="310.40" y2="469.80" stroke="#000" stroke-width="1.35"/>
<g stroke="#000" stroke-width="0.75"><line x1="250.0" y1="469.4" x2="251.7" y2="469.4"/><line x1="250.0" y1="466.0" x2="251.7" y2="466.0"/><line x1="250.0" y1="462.5" x2="251.7" y2="462.5"/><line x1="250.0" y1="459.1" x2="251.7" y2="459.1"/><line x1="250.0" y1="455.6" x2="251.7" y2="455.6"/><line x1="250.0" y1="452.2" x2="251.7" y2="452.2"/><line x1="250.0" y1="448.8" x2="251.7" y2="448.8"/><line x1="250.0" y1="445.3" x2="251.7" y2="445.3"/><line x1="250.0" y1="441.9" x2="251.7" y2="441.9"/><line x1="250.0" y1="438.5" x2="251.7" y2="438.5"/><line x1="250.0" y1="435.0" x2="251.7" y2="435.0"/><line x1="250.0" y1="431.6" x2="251.7" y2="431.6"/><line x1="250.0" y1="428.1" x2="251.7" y2="428.1"/><line x1="250.0" y1="424.7" x2="251.7" y2="424.7"/><line x1="250.0" y1="421.3" x2="251.7" y2="421.3"/><line x1="250.0" y1="417.8" x2="251.7" y2="417.8"/><line x1="250.0" y1="414.4" x2="251.7" y2="414.4"/><line x1="250.0" y1="411.0" x2="251.7" y2="411.0"/><line x1="250.0" y1="407.5" x2="251.7" y2="407.5"/><line x1="254.7" y1="469.8" x2="254.7" y2="471.4"/><line x1="256.9" y1="469.8" x2="256.9" y2="471.4"/><line x1="259.1" y1="469.8" x2="259.1" y2="471.4"/><line x1="261.3" y1="469.8" x2="261.3" y2="471.4"/><line x1="263.5" y1="469.8" x2="263.5" y2="471.4"/><line x1="264.7" y1="469.8" x2="264.7" y2="471.4"/><line x1="265.8" y1="469.8" x2="265.8" y2="471.4"/><line x1="266.9" y1="469.8" x2="266.9" y2="471.4"/><line x1="268.0" y1="469.8" x2="268.0" y2="471.4"/><line x1="269.1" y1="469.8" x2="269.1" y2="471.4"/><line x1="270.2" y1="469.8" x2="270.2" y2="471.4"/><line x1="271.3" y1="469.8" x2="271.3" y2="471.4"/><line x1="272.4" y1="469.8" x2="272.4" y2="471.4"/><line x1="273.5" y1="469.8" x2="273.5" y2="471.4"/><line x1="274.6" y1="469.8" x2="274.6" y2="471.4"/><line x1="275.7" y1="469.8" x2="275.7" y2="471.4"/><line x1="276.8" y1="469.8" x2="276.8" y2="471.4"/><line x1="282.2" y1="469.8" x2="282.2" y2="471.4"/><line x1="285.8" y1="469.8" x2="285.8" y2="471.4"/><line x1="287.9" y1="469.8" x2="287.9" y2="471.4"/><line x1="289.4" y1="469.8" x2="289.4" y2="471.4"/><line x1="290.6" y1="469.8" x2="290.6" y2="471.4"/><line x1="291.5" y1="469.8" x2="291.5" y2="471.4"/><line x1="292.3" y1="469.8" x2="292.3" y2="471.4"/><line x1="293.0" y1="469.8" x2="293.0" y2="471.4"/><line x1="293.7" y1="469.8" x2="293.7" y2="471.4"/><line x1="294.2" y1="469.8" x2="294.2" y2="471.4"/><line x1="297.8" y1="469.8" x2="297.8" y2="471.4"/><line x1="299.9" y1="469.8" x2="299.9" y2="471.4"/><line x1="301.4" y1="469.8" x2="301.4" y2="471.4"/><line x1="302.6" y1="469.8" x2="302.6" y2="471.4"/><line x1="303.5" y1="469.8" x2="303.5" y2="471.4"/><line x1="304.3" y1="469.8" x2="304.3" y2="471.4"/><line x1="305.0" y1="469.8" x2="305.0" y2="471.4"/><line x1="305.7" y1="469.8" x2="305.7" y2="471.4"/></g>
<line x1="248.90" y1="414.40" x2="251.70" y2="414.40" stroke="#000" stroke-width="0.9"/>
<text x="245.60" y="416.80" font-size="6.4" text-anchor="end">80</text>
<line x1="248.90" y1="428.20" x2="251.70" y2="428.20" stroke="#000" stroke-width="0.9"/>
<text x="245.60" y="430.60" font-size="6.4" text-anchor="end">60</text>
<line x1="248.90" y1="442.10" x2="251.70" y2="442.10" stroke="#000" stroke-width="0.9"/>
<text x="245.60" y="444.50" font-size="6.4" text-anchor="end">40</text>
<line x1="248.90" y1="455.90" x2="251.70" y2="455.90" stroke="#000" stroke-width="0.9"/>
<text x="245.60" y="458.30" font-size="6.4" text-anchor="end">20</text>
<line x1="248.90" y1="469.40" x2="251.70" y2="469.40" stroke="#000" stroke-width="0.9"/>
<text x="245.60" y="471.80" font-size="6.4" text-anchor="end">0</text>
<path d="M258.80,469.90 L260.00,462.00 L261.30,456.90 L262.05,454.16 L262.80,451.50 L264.20,447.30 L264.90,445.51 L265.60,444.00 L266.35,442.35 L267.10,441.50 L267.85,440.40 L268.60,438.50 L270.00,435.80 L270.75,434.11 L271.50,433.50 L272.90,431.90 L274.00,429.50 L274.80,427.10 L275.80,420.00 L276.70,413.70 L277.70,414.50 L278.70,412.70 L280.00,409.80 L280.80,412.50 L281.50,413.70 L282.50,422.00 L283.50,431.90 L284.50,443.00 L285.40,453.10 L286.30,459.50 L287.30,464.60 L288.25,467.25 L289.20,469.90 Z" fill="#9395a1" stroke="#3e4454" stroke-width="0.6" stroke-linejoin="round"/>
<path d="M260.40,469.90 L261.35,468.70 L262.30,467.50 L263.25,466.30 L264.20,465.60 L264.90,464.69 L265.60,463.00 L266.35,462.30 L267.10,460.80 L268.05,459.47 L269.00,459.00 L270.00,458.26 L271.00,456.90 L272.40,454.00 L273.10,452.79 L273.80,451.20 L274.55,449.26 L275.30,447.00 L276.70,441.50 L277.45,437.81 L278.20,435.00 L278.90,431.85 L279.60,428.10 L280.60,423.00 L281.50,418.50 L282.30,414.00 L283.10,411.20 L283.80,414.00 L284.40,418.50 L285.40,430.00 L286.30,441.50 L287.30,451.00 L288.30,458.80 L289.50,463.50 L290.80,466.50 L291.57,467.52 L292.33,468.77 L293.10,469.90" fill="none" stroke="#bf1242" stroke-width="1.05" stroke-linejoin="round"/>
<line x1="251.10" y1="469.80" x2="310.40" y2="469.80" stroke="#000" stroke-width="1.35"/>
<text x="270.40" y="482.30" font-size="6.4" text-anchor="middle">0</text>
<text x="285.40" y="482.30" font-size="6.4" textLength="6.40" lengthAdjust="spacingAndGlyphs">10</text>
<text x="292.00" y="479.10" font-size="4.4799999999999995" style="stroke-width:0.12px">3</text>
<text x="298.50" y="482.30" font-size="6.4" textLength="6.40" lengthAdjust="spacingAndGlyphs">10</text>
<text x="305.10" y="479.10" font-size="4.4799999999999995" style="stroke-width:0.12px">4</text>
<line x1="333.50" y1="400.80" x2="333.50" y2="470.50" stroke="#000" stroke-width="1.35"/>
<line x1="332.90" y1="469.90" x2="396.50" y2="469.90" stroke="#000" stroke-width="1.35"/>
<g stroke="#000" stroke-width="0.75"><line x1="331.8" y1="469.5" x2="333.5" y2="469.5"/><line x1="331.8" y1="466.1" x2="333.5" y2="466.1"/><line x1="331.8" y1="462.6" x2="333.5" y2="462.6"/><line x1="331.8" y1="459.2" x2="333.5" y2="459.2"/><line x1="331.8" y1="455.8" x2="333.5" y2="455.8"/><line x1="331.8" y1="452.3" x2="333.5" y2="452.3"/><line x1="331.8" y1="448.9" x2="333.5" y2="448.9"/><line x1="331.8" y1="445.4" x2="333.5" y2="445.4"/><line x1="331.8" y1="442.0" x2="333.5" y2="442.0"/><line x1="331.8" y1="438.6" x2="333.5" y2="438.6"/><line x1="331.8" y1="435.1" x2="333.5" y2="435.1"/><line x1="331.8" y1="431.7" x2="333.5" y2="431.7"/><line x1="331.8" y1="428.2" x2="333.5" y2="428.2"/><line x1="331.8" y1="424.8" x2="333.5" y2="424.8"/><line x1="331.8" y1="421.4" x2="333.5" y2="421.4"/><line x1="331.8" y1="417.9" x2="333.5" y2="417.9"/><line x1="331.8" y1="414.5" x2="333.5" y2="414.5"/><line x1="331.8" y1="411.1" x2="333.5" y2="411.1"/><line x1="331.8" y1="407.6" x2="333.5" y2="407.6"/><line x1="331.8" y1="404.2" x2="333.5" y2="404.2"/><line x1="336.5" y1="469.9" x2="336.5" y2="471.5"/><line x1="338.7" y1="469.9" x2="338.7" y2="471.5"/><line x1="340.9" y1="469.9" x2="340.9" y2="471.5"/><line x1="343.1" y1="469.9" x2="343.1" y2="471.5"/><line x1="345.3" y1="469.9" x2="345.3" y2="471.5"/><line x1="346.5" y1="469.9" x2="346.5" y2="471.5"/><line x1="347.6" y1="469.9" x2="347.6" y2="471.5"/><line x1="348.7" y1="469.9" x2="348.7" y2="471.5"/><line x1="349.8" y1="469.9" x2="349.8" y2="471.5"/><line x1="350.9" y1="469.9" x2="350.9" y2="471.5"/><line x1="352.0" y1="469.9" x2="352.0" y2="471.5"/><line x1="353.1" y1="469.9" x2="353.1" y2="471.5"/><line x1="354.2" y1="469.9" x2="354.2" y2="471.5"/><line x1="355.3" y1="469.9" x2="355.3" y2="471.5"/><line x1="356.4" y1="469.9" x2="356.4" y2="471.5"/><line x1="357.5" y1="469.9" x2="357.5" y2="471.5"/><line x1="358.6" y1="469.9" x2="358.6" y2="471.5"/><line x1="364.0" y1="469.9" x2="364.0" y2="471.5"/><line x1="367.6" y1="469.9" x2="367.6" y2="471.5"/><line x1="369.7" y1="469.9" x2="369.7" y2="471.5"/><line x1="371.2" y1="469.9" x2="371.2" y2="471.5"/><line x1="372.4" y1="469.9" x2="372.4" y2="471.5"/><line x1="373.3" y1="469.9" x2="373.3" y2="471.5"/><line x1="374.1" y1="469.9" x2="374.1" y2="471.5"/><line x1="374.8" y1="469.9" x2="374.8" y2="471.5"/><line x1="375.5" y1="469.9" x2="375.5" y2="471.5"/><line x1="376.0" y1="469.9" x2="376.0" y2="471.5"/><line x1="379.6" y1="469.9" x2="379.6" y2="471.5"/><line x1="381.7" y1="469.9" x2="381.7" y2="471.5"/><line x1="383.2" y1="469.9" x2="383.2" y2="471.5"/><line x1="384.4" y1="469.9" x2="384.4" y2="471.5"/><line x1="385.3" y1="469.9" x2="385.3" y2="471.5"/><line x1="386.1" y1="469.9" x2="386.1" y2="471.5"/><line x1="386.8" y1="469.9" x2="386.8" y2="471.5"/><line x1="387.5" y1="469.9" x2="387.5" y2="471.5"/></g>
<line x1="330.70" y1="414.50" x2="333.50" y2="414.50" stroke="#000" stroke-width="0.9"/>
<text x="327.30" y="416.90" font-size="6.4" text-anchor="end">80</text>
<line x1="330.70" y1="428.30" x2="333.50" y2="428.30" stroke="#000" stroke-width="0.9"/>
<text x="327.30" y="430.70" font-size="6.4" text-anchor="end">60</text>
<line x1="330.70" y1="442.20" x2="333.50" y2="442.20" stroke="#000" stroke-width="0.9"/>
<text x="327.30" y="444.60" font-size="6.4" text-anchor="end">40</text>
<line x1="330.70" y1="456.00" x2="333.50" y2="456.00" stroke="#000" stroke-width="0.9"/>
<text x="327.30" y="458.40" font-size="6.4" text-anchor="end">20</text>
<line x1="330.70" y1="469.50" x2="333.50" y2="469.50" stroke="#000" stroke-width="0.9"/>
<text x="327.30" y="471.90" font-size="6.4" text-anchor="end">0</text>
<path d="M339.70,470.00 L340.45,466.45 L341.20,463.00 L341.95,460.82 L342.70,458.50 L343.60,456.47 L344.50,453.50 L345.35,451.31 L346.20,449.20 L347.05,448.36 L347.90,447.50 L348.75,446.75 L349.60,445.80 L350.80,442.00 L351.90,438.80 L353.00,436.00 L354.20,433.10 L355.20,429.00 L356.10,425.00 L356.90,422.90 L357.70,421.50 L358.60,420.36 L359.50,419.20 L360.35,418.79 L361.20,418.10 L362.00,419.57 L362.80,420.40 L363.70,425.00 L364.60,430.80 L365.80,440.00 L366.90,449.20 L367.80,457.00 L368.80,464.20 L369.60,466.65 L370.40,470.00 Z" fill="#9395a1" stroke="#3e4454" stroke-width="0.6" stroke-linejoin="round"/>
<path d="M341.50,470.00 L342.40,469.00 L343.30,468.00 L344.15,467.25 L345.00,466.50 L345.77,465.72 L346.53,465.11 L347.30,464.00 L348.07,463.14 L348.83,462.44 L349.60,461.90 L350.50,460.62 L351.40,459.00 L352.25,457.59 L353.10,456.20 L353.95,454.47 L354.80,453.00 L355.65,451.01 L356.50,449.20 L357.25,446.20 L358.00,443.50 L358.75,440.30 L359.50,437.70 L360.70,433.00 L361.90,428.50 L363.00,422.00 L364.20,415.60 L365.00,418.00 L365.80,420.40 L366.60,426.00 L367.40,433.10 L368.30,442.00 L369.20,451.50 L370.10,459.00 L371.10,465.40 L371.90,467.82 L372.70,470.00" fill="none" stroke="#bf1242" stroke-width="1.05" stroke-linejoin="round"/>
<line x1="332.90" y1="469.90" x2="396.50" y2="469.90" stroke="#000" stroke-width="1.35"/>
<text x="352.20" y="482.40" font-size="6.4" text-anchor="middle">0</text>
<text x="367.20" y="482.40" font-size="6.4" textLength="6.40" lengthAdjust="spacingAndGlyphs">10</text>
<text x="373.80" y="479.20" font-size="4.4799999999999995" style="stroke-width:0.12px">3</text>
<text x="380.30" y="482.40" font-size="6.4" textLength="6.40" lengthAdjust="spacingAndGlyphs">10</text>
<text x="386.90" y="479.20" font-size="4.4799999999999995" style="stroke-width:0.12px">4</text>
<line x1="411.50" y1="400.80" x2="411.50" y2="470.50" stroke="#000" stroke-width="1.35"/>
<line x1="410.90" y1="469.90" x2="474.90" y2="469.90" stroke="#000" stroke-width="1.35"/>
<g stroke="#000" stroke-width="0.75"><line x1="409.8" y1="469.5" x2="411.5" y2="469.5"/><line x1="409.8" y1="466.1" x2="411.5" y2="466.1"/><line x1="409.8" y1="462.6" x2="411.5" y2="462.6"/><line x1="409.8" y1="459.2" x2="411.5" y2="459.2"/><line x1="409.8" y1="455.8" x2="411.5" y2="455.8"/><line x1="409.8" y1="452.3" x2="411.5" y2="452.3"/><line x1="409.8" y1="448.9" x2="411.5" y2="448.9"/><line x1="409.8" y1="445.4" x2="411.5" y2="445.4"/><line x1="409.8" y1="442.0" x2="411.5" y2="442.0"/><line x1="409.8" y1="438.6" x2="411.5" y2="438.6"/><line x1="409.8" y1="435.1" x2="411.5" y2="435.1"/><line x1="409.8" y1="431.7" x2="411.5" y2="431.7"/><line x1="409.8" y1="428.2" x2="411.5" y2="428.2"/><line x1="409.8" y1="424.8" x2="411.5" y2="424.8"/><line x1="409.8" y1="421.4" x2="411.5" y2="421.4"/><line x1="409.8" y1="417.9" x2="411.5" y2="417.9"/><line x1="409.8" y1="414.5" x2="411.5" y2="414.5"/><line x1="409.8" y1="411.1" x2="411.5" y2="411.1"/><line x1="409.8" y1="407.6" x2="411.5" y2="407.6"/><line x1="409.8" y1="404.2" x2="411.5" y2="404.2"/><line x1="414.5" y1="469.9" x2="414.5" y2="471.5"/><line x1="416.7" y1="469.9" x2="416.7" y2="471.5"/><line x1="418.9" y1="469.9" x2="418.9" y2="471.5"/><line x1="421.1" y1="469.9" x2="421.1" y2="471.5"/><line x1="423.3" y1="469.9" x2="423.3" y2="471.5"/><line x1="424.5" y1="469.9" x2="424.5" y2="471.5"/><line x1="425.6" y1="469.9" x2="425.6" y2="471.5"/><line x1="426.7" y1="469.9" x2="426.7" y2="471.5"/><line x1="427.8" y1="469.9" x2="427.8" y2="471.5"/><line x1="428.9" y1="469.9" x2="428.9" y2="471.5"/><line x1="430.0" y1="469.9" x2="430.0" y2="471.5"/><line x1="431.1" y1="469.9" x2="431.1" y2="471.5"/><line x1="432.2" y1="469.9" x2="432.2" y2="471.5"/><line x1="433.3" y1="469.9" x2="433.3" y2="471.5"/><line x1="434.4" y1="469.9" x2="434.4" y2="471.5"/><line x1="435.5" y1="469.9" x2="435.5" y2="471.5"/><line x1="436.6" y1="469.9" x2="436.6" y2="471.5"/><line x1="442.0" y1="469.9" x2="442.0" y2="471.5"/><line x1="445.6" y1="469.9" x2="445.6" y2="471.5"/><line x1="447.7" y1="469.9" x2="447.7" y2="471.5"/><line x1="449.2" y1="469.9" x2="449.2" y2="471.5"/><line x1="450.4" y1="469.9" x2="450.4" y2="471.5"/><line x1="451.3" y1="469.9" x2="451.3" y2="471.5"/><line x1="452.1" y1="469.9" x2="452.1" y2="471.5"/><line x1="452.8" y1="469.9" x2="452.8" y2="471.5"/><line x1="453.5" y1="469.9" x2="453.5" y2="471.5"/><line x1="454.0" y1="469.9" x2="454.0" y2="471.5"/><line x1="457.6" y1="469.9" x2="457.6" y2="471.5"/><line x1="459.7" y1="469.9" x2="459.7" y2="471.5"/><line x1="461.2" y1="469.9" x2="461.2" y2="471.5"/><line x1="462.4" y1="469.9" x2="462.4" y2="471.5"/><line x1="463.3" y1="469.9" x2="463.3" y2="471.5"/><line x1="464.1" y1="469.9" x2="464.1" y2="471.5"/><line x1="464.8" y1="469.9" x2="464.8" y2="471.5"/><line x1="465.5" y1="469.9" x2="465.5" y2="471.5"/></g>
<line x1="408.70" y1="414.50" x2="411.50" y2="414.50" stroke="#000" stroke-width="0.9"/>
<text x="405.00" y="416.90" font-size="6.4" text-anchor="end">80</text>
<line x1="408.70" y1="428.30" x2="411.50" y2="428.30" stroke="#000" stroke-width="0.9"/>
<text x="405.00" y="430.70" font-size="6.4" text-anchor="end">60</text>
<line x1="408.70" y1="442.20" x2="411.50" y2="442.20" stroke="#000" stroke-width="0.9"/>
<text x="405.00" y="444.60" font-size="6.4" text-anchor="end">40</text>
<line x1="408.70" y1="456.00" x2="411.50" y2="456.00" stroke="#000" stroke-width="0.9"/>
<text x="405.00" y="458.40" font-size="6.4" text-anchor="end">20</text>
<line x1="408.70" y1="469.50" x2="411.50" y2="469.50" stroke="#000" stroke-width="0.9"/>
<text x="405.00" y="471.90" font-size="6.4" text-anchor="end">0</text>
<path d="M415.40,470.00 L416.17,469.07 L416.93,467.87 L417.70,467.20 L418.60,466.80 L419.50,466.00 L420.35,465.30 L421.20,464.20 L422.10,461.73 L423.00,458.50 L423.80,459.30 L424.60,460.80 L425.37,460.10 L426.13,459.61 L426.90,459.60 L427.67,459.70 L428.43,460.66 L429.20,460.80 L430.20,456.00 L431.10,452.70 L431.90,455.19 L432.70,458.50 L433.47,457.00 L434.23,455.12 L435.00,453.90 L436.20,450.00 L437.30,446.90 L438.10,443.82 L438.90,441.20 L439.85,441.67 L440.80,442.30 L441.70,440.92 L442.60,438.80 L443.65,437.42 L444.70,435.80 L445.60,438.00 L446.50,443.50 L447.40,452.00 L448.20,459.60 L449.10,462.87 L450.00,467.20 L450.70,466.95 L451.40,466.81 L452.10,467.61 L452.80,467.54 L453.50,467.20 L454.35,468.24 L455.20,468.96 L456.05,469.30 L456.90,470.00 Z" fill="#9395a1" stroke="#3e4454" stroke-width="0.6" stroke-linejoin="round"/>
<path d="M416.50,470.00 L417.35,469.00 L418.20,468.00 L419.10,467.20 L420.00,466.50 L420.90,465.06 L421.80,464.00 L422.65,463.32 L423.50,461.90 L424.35,461.19 L425.20,460.50 L426.05,459.68 L426.90,459.60 L427.80,460.42 L428.70,460.80 L429.55,460.97 L430.40,461.90 L431.25,460.68 L432.10,460.00 L432.95,458.87 L433.80,458.50 L434.70,456.37 L435.60,454.00 L436.45,451.91 L437.30,449.20 L438.50,444.50 L439.60,440.00 L440.40,434.00 L441.20,428.50 L441.90,427.45 L442.60,426.20 L443.50,428.50 L444.90,422.00 L446.10,425.00 L447.00,432.00 L447.70,440.00 L448.60,449.00 L449.50,458.50 L450.35,462.25 L451.20,466.50 L452.05,466.99 L452.90,467.18 L453.75,466.87 L454.60,467.20 L455.40,467.43 L456.20,468.22 L457.00,468.50 L457.73,469.00 L458.47,469.50 L459.20,470.00 L459.97,469.50 L460.73,469.00 L461.50,468.50 L462.45,468.53 L463.40,467.70 L464.10,468.65 L464.80,468.85 L465.50,469.43 L466.20,470.00" fill="none" stroke="#bf1242" stroke-width="1.05" stroke-linejoin="round"/>
<line x1="410.90" y1="469.90" x2="474.90" y2="469.90" stroke="#000" stroke-width="1.35"/>
<text x="430.20" y="482.40" font-size="6.4" text-anchor="middle">0</text>
<text x="445.20" y="482.40" font-size="6.4" textLength="6.40" lengthAdjust="spacingAndGlyphs">10</text>
<text x="451.80" y="479.20" font-size="4.4799999999999995" style="stroke-width:0.12px">3</text>
<text x="458.30" y="482.40" font-size="6.4" textLength="6.40" lengthAdjust="spacingAndGlyphs">10</text>
<text x="464.90" y="479.20" font-size="4.4799999999999995" style="stroke-width:0.12px">4</text>
<rect x="482.6" y="313.8" width="5.8" height="5.0" fill="#9395a1" stroke="#3e4454" stroke-width="0.6"/>
<text x="491.20" y="318.60" font-size="5.8" textLength="17.30" lengthAdjust="spacingAndGlyphs" style="stroke-width:0.12px">Isotype</text>
<line x1="480.60" y1="326.00" x2="490.20" y2="326.00" stroke="#bf1242" stroke-width="1.2"/>
<text x="493.40" y="328.00" font-size="6.0" textLength="18.40" lengthAdjust="spacingAndGlyphs" style="stroke-width:0.12px">CD11c</text>
<text x="262.70" y="494.30" font-size="9.8" font-weight="bold" textLength="19.20" lengthAdjust="spacingAndGlyphs">CD11c</text>
<line x1="285.40" y1="491.00" x2="443.00" y2="491.00" stroke="#000" stroke-width="1.0"/>
<path d="M447.8,491.0 L441.8,488.8 L441.8,493.2 Z" fill="#000"/>
<text x="44.30" y="532.60" font-size="9.2" textLength="20.70" lengthAdjust="spacingAndGlyphs">CMP</text>
<text x="134.00" y="532.60" font-size="9.2" textLength="16.80" lengthAdjust="spacingAndGlyphs">LSK</text>
<line x1="22.30" y1="542.20" x2="22.30" y2="611.30" stroke="#000" stroke-width="1.35"/>
<line x1="21.70" y1="610.70" x2="86.40" y2="610.70" stroke="#000" stroke-width="1.35"/>
<g stroke="#000" stroke-width="0.75"><line x1="20.6" y1="610.3" x2="22.3" y2="610.3"/><line x1="20.6" y1="606.8" x2="22.3" y2="606.8"/><line x1="20.6" y1="603.3" x2="22.3" y2="603.3"/><line x1="20.6" y1="599.9" x2="22.3" y2="599.9"/><line x1="20.6" y1="596.4" x2="22.3" y2="596.4"/><line x1="20.6" y1="592.9" x2="22.3" y2="592.9"/><line x1="20.6" y1="589.4" x2="22.3" y2="589.4"/><line x1="20.6" y1="585.9" x2="22.3" y2="585.9"/><line x1="20.6" y1="582.4" x2="22.3" y2="582.4"/><line x1="20.6" y1="579.0" x2="22.3" y2="579.0"/><line x1="20.6" y1="575.5" x2="22.3" y2="575.5"/><line x1="20.6" y1="572.0" x2="22.3" y2="572.0"/><line x1="20.6" y1="568.5" x2="22.3" y2="568.5"/><line x1="20.6" y1="565.0" x2="22.3" y2="565.0"/><line x1="20.6" y1="561.6" x2="22.3" y2="561.6"/><line x1="20.6" y1="558.1" x2="22.3" y2="558.1"/><line x1="20.6" y1="554.6" x2="22.3" y2="554.6"/><line x1="20.6" y1="551.1" x2="22.3" y2="551.1"/><line x1="20.6" y1="547.6" x2="22.3" y2="547.6"/><line x1="20.6" y1="544.2" x2="22.3" y2="544.2"/><line x1="28.9" y1="610.7" x2="28.9" y2="612.3"/><line x1="32.6" y1="610.7" x2="32.6" y2="612.3"/><line x1="34.7" y1="610.7" x2="34.7" y2="612.3"/><line x1="36.2" y1="610.7" x2="36.2" y2="612.3"/><line x1="37.4" y1="610.7" x2="37.4" y2="612.3"/><line x1="38.4" y1="610.7" x2="38.4" y2="612.3"/><line x1="39.2" y1="610.7" x2="39.2" y2="612.3"/><line x1="39.9" y1="610.7" x2="39.9" y2="612.3"/><line x1="40.5" y1="610.7" x2="40.5" y2="612.3"/><line x1="41.1" y1="610.7" x2="41.1" y2="612.3"/><line x1="44.8" y1="610.7" x2="44.8" y2="612.3"/><line x1="46.9" y1="610.7" x2="46.9" y2="612.3"/><line x1="48.4" y1="610.7" x2="48.4" y2="612.3"/><line x1="49.6" y1="610.7" x2="49.6" y2="612.3"/><line x1="50.6" y1="610.7" x2="50.6" y2="612.3"/><line x1="51.4" y1="610.7" x2="51.4" y2="612.3"/><line x1="52.1" y1="610.7" x2="52.1" y2="612.3"/><line x1="52.7" y1="610.7" x2="52.7" y2="612.3"/><line x1="53.3" y1="610.7" x2="53.3" y2="612.3"/><line x1="57.0" y1="610.7" x2="57.0" y2="612.3"/><line x1="59.1" y1="610.7" x2="59.1" y2="612.3"/><line x1="60.6" y1="610.7" x2="60.6" y2="612.3"/><line x1="61.8" y1="610.7" x2="61.8" y2="612.3"/><line x1="62.8" y1="610.7" x2="62.8" y2="612.3"/><line x1="63.6" y1="610.7" x2="63.6" y2="612.3"/><line x1="64.3" y1="610.7" x2="64.3" y2="612.3"/><line x1="64.9" y1="610.7" x2="64.9" y2="612.3"/><line x1="65.5" y1="610.7" x2="65.5" y2="612.3"/><line x1="69.2" y1="610.7" x2="69.2" y2="612.3"/><line x1="71.3" y1="610.7" x2="71.3" y2="612.3"/><line x1="72.8" y1="610.7" x2="72.8" y2="612.3"/><line x1="74.0" y1="610.7" x2="74.0" y2="612.3"/><line x1="75.0" y1="610.7" x2="75.0" y2="612.3"/><line x1="75.8" y1="610.7" x2="75.8" y2="612.3"/><line x1="76.5" y1="610.7" x2="76.5" y2="612.3"/><line x1="77.1" y1="610.7" x2="77.1" y2="612.3"/><line x1="77.7" y1="610.7" x2="77.7" y2="612.3"/><line x1="81.4" y1="610.7" x2="81.4" y2="612.3"/><line x1="83.5" y1="610.7" x2="83.5" y2="612.3"/><line x1="85.0" y1="610.7" x2="85.0" y2="612.3"/><line x1="86.2" y1="610.7" x2="86.2" y2="612.3"/><line x1="87.2" y1="610.7" x2="87.2" y2="612.3"/><line x1="88.0" y1="610.7" x2="88.0" y2="612.3"/><line x1="88.7" y1="610.7" x2="88.7" y2="612.3"/><line x1="89.3" y1="610.7" x2="89.3" y2="612.3"/></g>
<line x1="19.50" y1="554.60" x2="22.30" y2="554.60" stroke="#000" stroke-width="0.9"/>
<text x="15.30" y="557.00" font-size="6.4" text-anchor="end">80</text>
<line x1="19.50" y1="568.40" x2="22.30" y2="568.40" stroke="#000" stroke-width="0.9"/>
<text x="15.30" y="570.80" font-size="6.4" text-anchor="end">60</text>
<line x1="19.50" y1="582.30" x2="22.30" y2="582.30" stroke="#000" stroke-width="0.9"/>
<text x="15.30" y="584.70" font-size="6.4" text-anchor="end">40</text>
<line x1="19.50" y1="596.30" x2="22.30" y2="596.30" stroke="#000" stroke-width="0.9"/>
<text x="15.30" y="598.70" font-size="6.4" text-anchor="end">20</text>
<line x1="19.50" y1="610.30" x2="22.30" y2="610.30" stroke="#000" stroke-width="0.9"/>
<text x="15.30" y="612.70" font-size="6.4" text-anchor="end">0</text>
<path d="M22.30,610.80 L49.20,610.80 L50.00,598.00 L50.60,573.60 L51.20,556.00 L51.70,547.80 L52.30,546.20 L52.80,550.00 L53.20,556.80 L53.80,570.00 L54.30,584.70 L54.80,594.00 L55.40,599.80 L56.60,602.60 L57.50,605.00 L58.50,607.10 L61.30,607.70 L63.50,607.30 L65.70,606.60 L68.00,604.30 L69.50,602.50 L70.80,601.00 L73.00,602.60 L76.90,604.90 L80.80,607.70 L84.20,610.70 L86.00,610.80" fill="none" stroke="#3d5da8" stroke-width="1.2" stroke-linejoin="round"/>
<path d="M22.30,610.80 L48.40,610.80 L49.00,602.00 L49.50,590.30 L50.00,574.00 L50.60,556.80 L51.00,549.50 L51.40,546.70 L52.30,547.80 L52.70,556.00 L53.20,568.00 L53.80,582.00 L54.30,593.70 L55.00,600.50 L55.70,604.90 L57.90,607.70 L60.70,607.70 L64.00,605.40 L67.40,601.00 L68.90,600.40 L71.30,601.00 L74.70,604.30 L78.00,606.00 L81.40,608.80 L83.10,610.70 L86.00,610.80" fill="none" stroke="#cc2148" stroke-width="1.2" stroke-linejoin="round"/>
<line x1="21.70" y1="610.70" x2="86.40" y2="610.70" stroke="#000" stroke-width="1.35"/>
<text x="24.90" y="622.60" font-size="6.4" textLength="5.60" lengthAdjust="spacingAndGlyphs">10</text>
<text x="30.70" y="619.40" font-size="4.4799999999999995" style="stroke-width:0.12px">1</text>
<text x="38.80" y="622.60" font-size="6.4" textLength="5.60" lengthAdjust="spacingAndGlyphs">10</text>
<text x="44.60" y="619.40" font-size="4.4799999999999995" style="stroke-width:0.12px">2</text>
<text x="52.00" y="622.60" font-size="6.4" textLength="5.60" lengthAdjust="spacingAndGlyphs">10</text>
<text x="57.80" y="619.40" font-size="4.4799999999999995" style="stroke-width:0.12px">3</text>
<text x="66.00" y="622.60" font-size="6.4" textLength="5.60" lengthAdjust="spacingAndGlyphs">10</text>
<text x="71.80" y="619.40" font-size="4.4799999999999995" style="stroke-width:0.12px">4</text>
<text x="79.60" y="622.60" font-size="6.4" textLength="5.60" lengthAdjust="spacingAndGlyphs">10</text>
<text x="85.40" y="619.40" font-size="4.4799999999999995" style="stroke-width:0.12px">5</text>
<line x1="107.50" y1="542.70" x2="107.50" y2="611.00" stroke="#000" stroke-width="1.35"/>
<line x1="106.90" y1="610.40" x2="177.30" y2="610.40" stroke="#000" stroke-width="1.35"/>
<g stroke="#000" stroke-width="0.75"><line x1="105.8" y1="610.0" x2="107.5" y2="610.0"/><line x1="105.8" y1="606.5" x2="107.5" y2="606.5"/><line x1="105.8" y1="603.0" x2="107.5" y2="603.0"/><line x1="105.8" y1="599.6" x2="107.5" y2="599.6"/><line x1="105.8" y1="596.1" x2="107.5" y2="596.1"/><line x1="105.8" y1="592.6" x2="107.5" y2="592.6"/><line x1="105.8" y1="589.1" x2="107.5" y2="589.1"/><line x1="105.8" y1="585.6" x2="107.5" y2="585.6"/><line x1="105.8" y1="582.1" x2="107.5" y2="582.1"/><line x1="105.8" y1="578.7" x2="107.5" y2="578.7"/><line x1="105.8" y1="575.2" x2="107.5" y2="575.2"/><line x1="105.8" y1="571.7" x2="107.5" y2="571.7"/><line x1="105.8" y1="568.2" x2="107.5" y2="568.2"/><line x1="105.8" y1="564.7" x2="107.5" y2="564.7"/><line x1="105.8" y1="561.3" x2="107.5" y2="561.3"/><line x1="105.8" y1="557.8" x2="107.5" y2="557.8"/><line x1="105.8" y1="554.3" x2="107.5" y2="554.3"/><line x1="105.8" y1="550.8" x2="107.5" y2="550.8"/><line x1="105.8" y1="547.3" x2="107.5" y2="547.3"/><line x1="105.8" y1="543.9" x2="107.5" y2="543.9"/><line x1="114.1" y1="610.4" x2="114.1" y2="612.0"/><line x1="118.1" y1="610.4" x2="118.1" y2="612.0"/><line x1="120.5" y1="610.4" x2="120.5" y2="612.0"/><line x1="122.2" y1="610.4" x2="122.2" y2="612.0"/><line x1="123.5" y1="610.4" x2="123.5" y2="612.0"/><line x1="124.6" y1="610.4" x2="124.6" y2="612.0"/><line x1="125.5" y1="610.4" x2="125.5" y2="612.0"/><line x1="126.2" y1="610.4" x2="126.2" y2="612.0"/><line x1="126.9" y1="610.4" x2="126.9" y2="612.0"/><line x1="127.5" y1="610.4" x2="127.5" y2="612.0"/><line x1="131.6" y1="610.4" x2="131.6" y2="612.0"/><line x1="133.9" y1="610.4" x2="133.9" y2="612.0"/><line x1="135.6" y1="610.4" x2="135.6" y2="612.0"/><line x1="136.9" y1="610.4" x2="136.9" y2="612.0"/><line x1="138.0" y1="610.4" x2="138.0" y2="612.0"/><line x1="138.9" y1="610.4" x2="138.9" y2="612.0"/><line x1="139.7" y1="610.4" x2="139.7" y2="612.0"/><line x1="140.4" y1="610.4" x2="140.4" y2="612.0"/><line x1="141.0" y1="610.4" x2="141.0" y2="612.0"/><line x1="145.0" y1="610.4" x2="145.0" y2="612.0"/><line x1="147.4" y1="610.4" x2="147.4" y2="612.0"/><line x1="149.1" y1="610.4" x2="149.1" y2="612.0"/><line x1="150.4" y1="610.4" x2="150.4" y2="612.0"/><line x1="151.4" y1="610.4" x2="151.4" y2="612.0"/><line x1="152.3" y1="610.4" x2="152.3" y2="612.0"/><line x1="153.1" y1="610.4" x2="153.1" y2="612.0"/><line x1="153.8" y1="610.4" x2="153.8" y2="612.0"/><line x1="154.4" y1="610.4" x2="154.4" y2="612.0"/><line x1="158.4" y1="610.4" x2="158.4" y2="612.0"/><line x1="160.8" y1="610.4" x2="160.8" y2="612.0"/><line x1="162.5" y1="610.4" x2="162.5" y2="612.0"/><line x1="163.8" y1="610.4" x2="163.8" y2="612.0"/><line x1="164.9" y1="610.4" x2="164.9" y2="612.0"/><line x1="165.8" y1="610.4" x2="165.8" y2="612.0"/><line x1="166.5" y1="610.4" x2="166.5" y2="612.0"/><line x1="167.2" y1="610.4" x2="167.2" y2="612.0"/><line x1="167.8" y1="610.4" x2="167.8" y2="612.0"/><line x1="171.9" y1="610.4" x2="171.9" y2="612.0"/><line x1="174.2" y1="610.4" x2="174.2" y2="612.0"/><line x1="175.9" y1="610.4" x2="175.9" y2="612.0"/><line x1="177.2" y1="610.4" x2="177.2" y2="612.0"/><line x1="178.3" y1="610.4" x2="178.3" y2="612.0"/><line x1="179.2" y1="610.4" x2="179.2" y2="612.0"/><line x1="180.0" y1="610.4" x2="180.0" y2="612.0"/><line x1="180.7" y1="610.4" x2="180.7" y2="612.0"/></g>
<line x1="104.70" y1="554.30" x2="107.50" y2="554.30" stroke="#000" stroke-width="0.9"/>
<text x="100.60" y="556.70" font-size="6.4" text-anchor="end">80</text>
<line x1="104.70" y1="568.10" x2="107.50" y2="568.10" stroke="#000" stroke-width="0.9"/>
<text x="100.60" y="570.50" font-size="6.4" text-anchor="end">60</text>
<line x1="104.70" y1="582.00" x2="107.50" y2="582.00" stroke="#000" stroke-width="0.9"/>
<text x="100.60" y="584.40" font-size="6.4" text-anchor="end">40</text>
<line x1="104.70" y1="596.00" x2="107.50" y2="596.00" stroke="#000" stroke-width="0.9"/>
<text x="100.60" y="598.40" font-size="6.4" text-anchor="end">20</text>
<line x1="104.70" y1="610.00" x2="107.50" y2="610.00" stroke="#000" stroke-width="0.9"/>
<text x="100.60" y="612.40" font-size="6.4" text-anchor="end">0</text>
<path d="M107.50,610.50 L133.50,610.50 L134.00,604.00 L134.50,590.40 L135.30,568.00 L136.00,553.00 L136.80,548.40 L137.30,552.00 L138.00,568.00 L138.70,584.80 L139.40,598.00 L140.10,607.20 L141.60,610.50 L163.10,610.50 L163.60,608.90 L164.80,607.40 L166.40,607.00 L168.70,607.70 L170.90,610.50 L177.00,610.50" fill="none" stroke="#3d5da8" stroke-width="1.2" stroke-linejoin="round"/>
<path d="M107.50,610.50 L132.60,610.50 L133.30,598.00 L134.00,579.20 L134.80,560.00 L135.60,549.50 L136.80,550.60 L137.40,563.00 L137.90,579.20 L138.50,594.00 L139.00,606.10 L140.70,610.50 L148.00,610.50 L150.20,609.40 L154.10,609.40 L157.50,607.70 L160.30,607.20 L163.10,608.90 L164.80,610.50 L177.00,610.50" fill="none" stroke="#cc2148" stroke-width="1.2" stroke-linejoin="round"/>
<line x1="106.90" y1="610.40" x2="177.30" y2="610.40" stroke="#000" stroke-width="1.35"/>
<text x="110.00" y="622.30" font-size="6.4" textLength="5.60" lengthAdjust="spacingAndGlyphs">10</text>
<text x="115.80" y="619.10" font-size="4.4799999999999995" style="stroke-width:0.12px">1</text>
<text x="123.50" y="622.30" font-size="6.4" textLength="5.60" lengthAdjust="spacingAndGlyphs">10</text>
<text x="129.30" y="619.10" font-size="4.4799999999999995" style="stroke-width:0.12px">2</text>
<text x="137.30" y="622.30" font-size="6.4" textLength="5.60" lengthAdjust="spacingAndGlyphs">10</text>
<text x="143.10" y="619.10" font-size="4.4799999999999995" style="stroke-width:0.12px">3</text>
<text x="151.30" y="622.30" font-size="6.4" textLength="5.60" lengthAdjust="spacingAndGlyphs">10</text>
<text x="157.10" y="619.10" font-size="4.4799999999999995" style="stroke-width:0.12px">4</text>
<text x="164.80" y="622.30" font-size="6.4" textLength="5.60" lengthAdjust="spacingAndGlyphs">10</text>
<text x="170.60" y="619.10" font-size="4.4799999999999995" style="stroke-width:0.12px">5</text>
<text x="156.10" y="554.10" font-size="7.0" font-style="italic" fill="#3d5da8" color="#3d5da8" textLength="7.00" lengthAdjust="spacingAndGlyphs">wt</text>
<text x="156.10" y="566.60" font-size="7.0" font-style="italic" fill="#cc2148" color="#cc2148" textLength="17.60" lengthAdjust="spacingAndGlyphs">cd11c</text>
<text x="174.00" y="563.20" font-size="4.4" font-style="italic" fill="#cc2148" color="#cc2148" textLength="4.40" lengthAdjust="spacingAndGlyphs">-/-</text>
<text x="31.40" y="636.30" font-size="9.8" font-weight="bold" textLength="15.60" lengthAdjust="spacingAndGlyphs">BrdU</text>
<line x1="50.50" y1="633.50" x2="153.00" y2="633.50" stroke="#000" stroke-width="1.0"/>
<path d="M157.5,633.5 L151.5,631.3 L151.5,635.7 Z" fill="#000"/>
<text x="227.30" y="533.10" font-size="9.2" textLength="20.70" lengthAdjust="spacingAndGlyphs">CMP</text>
<text x="265.40" y="533.10" font-size="9.2" textLength="16.50" lengthAdjust="spacingAndGlyphs">LSK</text>
<line x1="219.90" y1="538.60" x2="219.90" y2="611.20" stroke="#000" stroke-width="1.4"/>
<line x1="219.20" y1="610.50" x2="290.80" y2="610.50" stroke="#000" stroke-width="1.4"/>
<line x1="216.90" y1="541.20" x2="219.90" y2="541.20" stroke="#000" stroke-width="1.15"/>
<text x="214.70" y="543.60" font-size="6.8" text-anchor="end">60</text>
<line x1="216.90" y1="564.40" x2="219.90" y2="564.40" stroke="#000" stroke-width="1.15"/>
<text x="214.70" y="566.80" font-size="6.8" text-anchor="end">40</text>
<line x1="216.90" y1="587.70" x2="219.90" y2="587.70" stroke="#000" stroke-width="1.15"/>
<text x="214.70" y="590.10" font-size="6.8" text-anchor="end">20</text>
<line x1="216.90" y1="610.50" x2="219.90" y2="610.50" stroke="#000" stroke-width="1.15"/>
<text x="214.70" y="612.90" font-size="6.8" text-anchor="end">0</text>
<line x1="229.00" y1="610.50" x2="229.00" y2="613.30" stroke="#000" stroke-width="1.15"/>
<line x1="246.30" y1="610.50" x2="246.30" y2="613.30" stroke="#000" stroke-width="1.15"/>
<line x1="263.90" y1="610.50" x2="263.90" y2="613.30" stroke="#000" stroke-width="1.15"/>
<line x1="281.30" y1="610.50" x2="281.30" y2="613.30" stroke="#000" stroke-width="1.15"/>
<line x1="254.80" y1="541.20" x2="254.80" y2="608.00" stroke="#333" stroke-width="1.0" stroke-dasharray="2.6,1.9"/>
<circle cx="222.40" cy="552.40" r="2.1" fill="#1f3f8f"/>
<circle cx="229.00" cy="557.70" r="2.1" fill="#1f3f8f"/>
<circle cx="229.00" cy="564.80" r="2.1" fill="#1f3f8f"/>
<circle cx="260.70" cy="590.90" r="2.1" fill="#1f3f8f"/>
<circle cx="263.90" cy="595.10" r="2.1" fill="#1f3f8f"/>
<circle cx="267.10" cy="595.10" r="2.1" fill="#1f3f8f"/>
<circle cx="242.10" cy="564.00" r="1.75" fill="#eac0a4" stroke="#bf1a42" stroke-width="1.5"/>
<circle cx="246.30" cy="564.00" r="1.75" fill="#eac0a4" stroke="#bf1a42" stroke-width="1.5"/>
<circle cx="250.20" cy="564.00" r="1.75" fill="#eac0a4" stroke="#bf1a42" stroke-width="1.5"/>
<circle cx="277.70" cy="594.00" r="1.75" fill="#eac0a4" stroke="#bf1a42" stroke-width="1.5"/>
<circle cx="281.30" cy="596.20" r="1.75" fill="#eac0a4" stroke="#bf1a42" stroke-width="1.5"/>
<circle cx="285.50" cy="594.00" r="1.75" fill="#eac0a4" stroke="#bf1a42" stroke-width="1.5"/>
<line x1="222.70" y1="558.50" x2="235.80" y2="558.50" stroke="#000" stroke-width="1.0"/>
<line x1="226.00" y1="554.50" x2="232.00" y2="554.50" stroke="#000" stroke-width="0.9"/>
<line x1="226.00" y1="561.70" x2="232.00" y2="561.70" stroke="#000" stroke-width="0.9"/>
<line x1="229.00" y1="554.50" x2="229.00" y2="561.70" stroke="#000" stroke-width="0.9"/>
<line x1="238.50" y1="564.00" x2="254.00" y2="564.00" stroke="#000" stroke-width="1.0"/>
<line x1="258.00" y1="593.60" x2="270.70" y2="593.60" stroke="#000" stroke-width="1.0"/>
<line x1="261.50" y1="592.20" x2="266.30" y2="592.20" stroke="#000" stroke-width="0.9"/>
<line x1="261.50" y1="595.00" x2="266.30" y2="595.00" stroke="#000" stroke-width="0.9"/>
<line x1="273.00" y1="594.60" x2="290.00" y2="594.60" stroke="#000" stroke-width="1.0"/>
<text x="199.70" y="595.60" font-size="8.8" font-weight="bold" textLength="42.40" lengthAdjust="spacingAndGlyphs" transform="rotate(-90 199.70 595.60)">%BrdU positive</text>
<circle cx="352.70" cy="521.80" r="1.2" fill="#000"/>
<text x="357.00" y="523.90" font-size="6.0" textLength="30.90" lengthAdjust="spacingAndGlyphs" style="stroke-width:0.12px">Other genes</text>
<circle cx="405.20" cy="521.80" r="1.2" fill="#0a14f0"/>
<text x="409.70" y="523.90" font-size="6.0" fill="#4656b4" color="#4656b4" textLength="37.60" lengthAdjust="spacingAndGlyphs" style="stroke-width:0.12px">Downregulated</text>
<circle cx="464.60" cy="521.70" r="1.2" fill="#e00010"/>
<text x="469.20" y="523.90" font-size="6.0" fill="#c81020" color="#c81020" textLength="30.50" lengthAdjust="spacingAndGlyphs" style="stroke-width:0.12px">Upregulated</text>
<text x="386.60" y="538.30" font-size="7.2" font-style="italic" textLength="35.60" lengthAdjust="spacingAndGlyphs">wt vs cd11c</text>
<text x="423.00" y="534.80" font-size="4.4" font-style="italic" textLength="4.00" lengthAdjust="spacingAndGlyphs">-/-</text>
<text x="429.30" y="538.30" font-size="7.2" textLength="34.60" lengthAdjust="spacingAndGlyphs" style="stroke-width:0.12px">(naive mice)</text>
<line x1="354.60" y1="538.20" x2="354.60" y2="635.70" stroke="#000" stroke-width="1.4"/>
<line x1="496.60" y1="538.20" x2="496.60" y2="635.70" stroke="#000" stroke-width="1.4"/>
<line x1="353.90" y1="635.00" x2="497.30" y2="635.00" stroke="#000" stroke-width="1.4"/>
<line x1="351.80" y1="635.00" x2="354.60" y2="635.00" stroke="#000" stroke-width="1.1"/>
<line x1="496.60" y1="635.00" x2="499.40" y2="635.00" stroke="#000" stroke-width="1.1"/>
<text x="348.90" y="637.35" font-size="6.6" text-anchor="end">0.0</text>
<text x="500.40" y="637.35" font-size="6.6">0.0</text>
<line x1="351.80" y1="619.25" x2="354.60" y2="619.25" stroke="#000" stroke-width="1.1"/>
<line x1="496.60" y1="619.25" x2="499.40" y2="619.25" stroke="#000" stroke-width="1.1"/>
<text x="348.90" y="621.60" font-size="6.6" text-anchor="end">0.5</text>
<text x="500.40" y="621.60" font-size="6.6">0.5</text>
<line x1="351.80" y1="603.50" x2="354.60" y2="603.50" stroke="#000" stroke-width="1.1"/>
<line x1="496.60" y1="603.50" x2="499.40" y2="603.50" stroke="#000" stroke-width="1.1"/>
<text x="348.90" y="605.85" font-size="6.6" text-anchor="end">1.0</text>
<text x="500.40" y="605.85" font-size="6.6">1.0</text>
<line x1="351.80" y1="587.75" x2="354.60" y2="587.75" stroke="#000" stroke-width="1.1"/>
<line x1="496.60" y1="587.75" x2="499.40" y2="587.75" stroke="#000" stroke-width="1.1"/>
<text x="348.90" y="590.10" font-size="6.6" text-anchor="end">1.5</text>
<text x="500.40" y="590.10" font-size="6.6">1.5</text>
<line x1="351.80" y1="572.00" x2="354.60" y2="572.00" stroke="#000" stroke-width="1.1"/>
<line x1="496.60" y1="572.00" x2="499.40" y2="572.00" stroke="#000" stroke-width="1.1"/>
<text x="348.90" y="574.35" font-size="6.6" text-anchor="end">2.0</text>
<text x="500.40" y="574.35" font-size="6.6">2.0</text>
<line x1="351.80" y1="556.25" x2="354.60" y2="556.25" stroke="#000" stroke-width="1.1"/>
<line x1="496.60" y1="556.25" x2="499.40" y2="556.25" stroke="#000" stroke-width="1.1"/>
<text x="348.90" y="558.60" font-size="6.6" text-anchor="end">2.5</text>
<text x="500.40" y="558.60" font-size="6.6">2.5</text>
<line x1="351.80" y1="540.50" x2="354.60" y2="540.50" stroke="#000" stroke-width="1.1"/>
<line x1="496.60" y1="540.50" x2="499.40" y2="540.50" stroke="#000" stroke-width="1.1"/>
<text x="348.90" y="542.85" font-size="6.6" text-anchor="end">3.0</text>
<text x="500.40" y="542.85" font-size="6.6">3.0</text>
<line x1="354.60" y1="635.00" x2="354.60" y2="637.60" stroke="#000" stroke-width="1.1"/>
<text x="354.20" y="647.30" font-size="6.6" text-anchor="middle">-10</text>
<line x1="368.80" y1="635.00" x2="368.80" y2="637.60" stroke="#000" stroke-width="1.1"/>
<text x="368.40" y="647.30" font-size="6.6" text-anchor="middle">-8</text>
<line x1="383.00" y1="635.00" x2="383.00" y2="637.60" stroke="#000" stroke-width="1.1"/>
<text x="382.60" y="647.30" font-size="6.6" text-anchor="middle">-6</text>
<line x1="397.20" y1="635.00" x2="397.20" y2="637.60" stroke="#000" stroke-width="1.1"/>
<text x="396.80" y="647.30" font-size="6.6" text-anchor="middle">-4</text>
<line x1="411.40" y1="635.00" x2="411.40" y2="637.60" stroke="#000" stroke-width="1.1"/>
<text x="411.00" y="647.30" font-size="6.6" text-anchor="middle">-2</text>
<line x1="425.60" y1="635.00" x2="425.60" y2="637.60" stroke="#000" stroke-width="1.1"/>
<text x="425.60" y="647.30" font-size="6.6" text-anchor="middle">0</text>
<line x1="439.80" y1="635.00" x2="439.80" y2="637.60" stroke="#000" stroke-width="1.1"/>
<text x="439.80" y="647.30" font-size="6.6" text-anchor="middle">2</text>
<line x1="454.00" y1="635.00" x2="454.00" y2="637.60" stroke="#000" stroke-width="1.1"/>
<text x="454.00" y="647.30" font-size="6.6" text-anchor="middle">4</text>
<line x1="468.20" y1="635.00" x2="468.20" y2="637.60" stroke="#000" stroke-width="1.1"/>
<text x="468.20" y="647.30" font-size="6.6" text-anchor="middle">6</text>
<line x1="482.40" y1="635.00" x2="482.40" y2="637.60" stroke="#000" stroke-width="1.1"/>
<text x="482.40" y="647.30" font-size="6.6" text-anchor="middle">8</text>
<line x1="496.60" y1="635.00" x2="496.60" y2="637.60" stroke="#000" stroke-width="1.1"/>
<text x="496.60" y="647.30" font-size="6.6" text-anchor="middle">10</text>
<text x="402.00" y="660.40" font-size="8.8" font-weight="bold" textLength="47.50" lengthAdjust="spacingAndGlyphs">Log2 fold change</text>
<text x="332.20" y="606.00" font-size="9.2" font-weight="bold" textLength="39.50" lengthAdjust="spacingAndGlyphs" transform="rotate(-90 332.20 606.00)">-Log (p value)</text>
<g fill="#000"><circle cx="403.0" cy="600.0" r="0.95"/><circle cx="407.3" cy="608.8" r="0.95"/><circle cx="417.3" cy="589.1" r="0.95"/><circle cx="403.2" cy="599.9" r="0.95"/><circle cx="396.7" cy="599.1" r="0.95"/><circle cx="415.9" cy="587.9" r="0.95"/><circle cx="418.5" cy="594.5" r="0.95"/><circle cx="413.8" cy="592.4" r="0.95"/><circle cx="405.2" cy="607.5" r="0.95"/><circle cx="417.8" cy="581.6" r="0.95"/><circle cx="414.3" cy="596.8" r="0.95"/><circle cx="398.0" cy="603.6" r="0.95"/><circle cx="413.5" cy="588.4" r="0.95"/><circle cx="396.1" cy="606.2" r="0.95"/><circle cx="409.0" cy="602.2" r="0.95"/><circle cx="407.9" cy="603.0" r="0.95"/><circle cx="414.4" cy="605.6" r="0.95"/><circle cx="395.7" cy="604.8" r="0.95"/><circle cx="400.4" cy="596.5" r="0.95"/><circle cx="403.5" cy="604.8" r="0.95"/><circle cx="412.3" cy="590.0" r="0.95"/><circle cx="410.5" cy="598.9" r="0.95"/><circle cx="401.0" cy="606.6" r="0.95"/><circle cx="414.8" cy="599.6" r="0.95"/><circle cx="404.5" cy="609.7" r="0.95"/><circle cx="414.2" cy="594.7" r="0.95"/><circle cx="418.1" cy="585.0" r="0.95"/><circle cx="416.7" cy="590.3" r="0.95"/><circle cx="410.6" cy="597.4" r="0.95"/><circle cx="400.3" cy="599.7" r="0.95"/><circle cx="410.8" cy="591.4" r="0.95"/><circle cx="402.9" cy="607.1" r="0.95"/><circle cx="402.0" cy="599.3" r="0.95"/><circle cx="397.8" cy="599.3" r="0.95"/><circle cx="397.2" cy="598.4" r="0.95"/><circle cx="410.6" cy="602.0" r="0.95"/><circle cx="416.3" cy="584.1" r="0.95"/><circle cx="416.2" cy="588.1" r="0.95"/><circle cx="401.0" cy="599.5" r="0.95"/><circle cx="414.1" cy="591.5" r="0.95"/><circle cx="398.1" cy="602.2" r="0.95"/><circle cx="412.8" cy="592.4" r="0.95"/><circle cx="407.1" cy="597.7" r="0.95"/><circle cx="409.9" cy="602.8" r="0.95"/><circle cx="401.0" cy="596.3" r="0.95"/><circle cx="418.9" cy="590.6" r="0.95"/><circle cx="402.7" cy="595.5" r="0.95"/><circle cx="418.6" cy="596.6" r="0.95"/><circle cx="400.6" cy="602.5" r="0.95"/><circle cx="415.9" cy="600.6" r="0.95"/><circle cx="404.0" cy="609.4" r="0.95"/><circle cx="400.0" cy="596.0" r="0.95"/><circle cx="417.0" cy="589.4" r="0.95"/><circle cx="405.7" cy="607.3" r="0.95"/><circle cx="417.0" cy="592.7" r="0.95"/><circle cx="412.7" cy="595.9" r="0.95"/><circle cx="407.2" cy="598.2" r="0.95"/><circle cx="404.6" cy="600.3" r="0.95"/><circle cx="404.0" cy="604.2" r="0.95"/><circle cx="407.9" cy="600.6" r="0.95"/><circle cx="410.4" cy="604.5" r="0.95"/><circle cx="394.7" cy="599.7" r="0.95"/><circle cx="412.4" cy="604.9" r="0.95"/><circle cx="413.4" cy="598.6" r="0.95"/><circle cx="397.1" cy="606.5" r="0.95"/><circle cx="412.2" cy="597.5" r="0.95"/><circle cx="413.4" cy="597.4" r="0.95"/><circle cx="401.9" cy="597.9" r="0.95"/><circle cx="414.4" cy="584.2" r="0.95"/><circle cx="404.7" cy="603.8" r="0.95"/><circle cx="415.6" cy="603.1" r="0.95"/><circle cx="414.8" cy="586.4" r="0.95"/><circle cx="414.9" cy="597.4" r="0.95"/><circle cx="407.6" cy="600.3" r="0.95"/><circle cx="406.6" cy="607.5" r="0.95"/><circle cx="398.1" cy="607.5" r="0.95"/><circle cx="408.4" cy="591.1" r="0.95"/><circle cx="406.3" cy="608.8" r="0.95"/><circle cx="398.9" cy="596.1" r="0.95"/><circle cx="398.2" cy="605.9" r="0.95"/><circle cx="415.6" cy="585.0" r="0.95"/><circle cx="410.4" cy="599.5" r="0.95"/><circle cx="406.4" cy="606.5" r="0.95"/><circle cx="406.9" cy="600.0" r="0.95"/><circle cx="404.1" cy="594.4" r="0.95"/><circle cx="413.6" cy="587.7" r="0.95"/><circle cx="397.7" cy="603.8" r="0.95"/><circle cx="399.9" cy="608.3" r="0.95"/><circle cx="399.5" cy="596.2" r="0.95"/><circle cx="400.6" cy="601.4" r="0.95"/><circle cx="398.9" cy="597.3" r="0.95"/><circle cx="415.5" cy="589.3" r="0.95"/><circle cx="402.8" cy="594.8" r="0.95"/><circle cx="409.6" cy="602.6" r="0.95"/><circle cx="416.6" cy="602.9" r="0.95"/><circle cx="417.4" cy="585.2" r="0.95"/><circle cx="412.1" cy="604.3" r="0.95"/><circle cx="418.1" cy="583.7" r="0.95"/><circle cx="416.6" cy="597.7" r="0.95"/><circle cx="403.0" cy="601.8" r="0.95"/><circle cx="400.3" cy="602.8" r="0.95"/><circle cx="417.3" cy="600.6" r="0.95"/><circle cx="404.2" cy="608.5" r="0.95"/><circle cx="409.1" cy="594.7" r="0.95"/><circle cx="416.5" cy="579.7" r="0.95"/><circle cx="400.4" cy="603.1" r="0.95"/><circle cx="409.9" cy="606.2" r="0.95"/><circle cx="397.8" cy="606.9" r="0.95"/><circle cx="410.6" cy="596.3" r="0.95"/><circle cx="398.5" cy="599.4" r="0.95"/><circle cx="404.3" cy="608.8" r="0.95"/><circle cx="400.4" cy="605.3" r="0.95"/><circle cx="415.0" cy="600.2" r="0.95"/><circle cx="395.4" cy="605.5" r="0.95"/><circle cx="413.2" cy="589.5" r="0.95"/><circle cx="413.1" cy="605.0" r="0.95"/><circle cx="416.9" cy="596.9" r="0.95"/><circle cx="413.7" cy="586.7" r="0.95"/><circle cx="404.8" cy="593.5" r="0.95"/><circle cx="409.9" cy="592.1" r="0.95"/><circle cx="433.5" cy="587.9" r="0.95"/><circle cx="433.1" cy="593.6" r="0.95"/><circle cx="436.9" cy="602.9" r="0.95"/><circle cx="438.1" cy="603.2" r="0.95"/><circle cx="435.4" cy="594.9" r="0.95"/><circle cx="447.4" cy="608.1" r="0.95"/><circle cx="440.9" cy="601.0" r="0.95"/><circle cx="436.2" cy="599.0" r="0.95"/><circle cx="432.5" cy="589.9" r="0.95"/><circle cx="437.6" cy="598.2" r="0.95"/><circle cx="443.2" cy="607.3" r="0.95"/><circle cx="433.1" cy="599.0" r="0.95"/><circle cx="444.8" cy="608.2" r="0.95"/><circle cx="433.4" cy="590.6" r="0.95"/><circle cx="436.3" cy="602.7" r="0.95"/><circle cx="448.4" cy="607.6" r="0.95"/><circle cx="437.3" cy="601.4" r="0.95"/><circle cx="442.5" cy="602.1" r="0.95"/><circle cx="439.8" cy="600.7" r="0.95"/><circle cx="438.7" cy="606.3" r="0.95"/><circle cx="441.9" cy="602.4" r="0.95"/><circle cx="437.6" cy="602.1" r="0.95"/><circle cx="436.8" cy="604.2" r="0.95"/><circle cx="438.4" cy="599.3" r="0.95"/><circle cx="441.1" cy="599.8" r="0.95"/><circle cx="434.9" cy="597.7" r="0.95"/><circle cx="440.0" cy="608.6" r="0.95"/><circle cx="438.6" cy="605.8" r="0.95"/><circle cx="433.4" cy="595.8" r="0.95"/><circle cx="434.1" cy="599.7" r="0.95"/><circle cx="431.9" cy="583.4" r="0.95"/><circle cx="440.6" cy="601.9" r="0.95"/><circle cx="434.8" cy="596.9" r="0.95"/><circle cx="434.6" cy="594.1" r="0.95"/><circle cx="439.5" cy="604.3" r="0.95"/><circle cx="446.7" cy="607.2" r="0.95"/><circle cx="436.3" cy="598.3" r="0.95"/><circle cx="447.8" cy="608.4" r="0.95"/><circle cx="443.8" cy="607.5" r="0.95"/><circle cx="443.4" cy="607.6" r="0.95"/><circle cx="444.3" cy="608.3" r="0.95"/><circle cx="439.6" cy="603.0" r="0.95"/><circle cx="435.7" cy="601.3" r="0.95"/><circle cx="441.3" cy="605.9" r="0.95"/><circle cx="431.2" cy="579.0" r="0.95"/><circle cx="441.7" cy="603.6" r="0.95"/><circle cx="434.0" cy="598.0" r="0.95"/><circle cx="442.0" cy="609.3" r="0.95"/><circle cx="434.9" cy="601.8" r="0.95"/><circle cx="440.2" cy="600.6" r="0.95"/><circle cx="440.9" cy="600.7" r="0.95"/><circle cx="431.1" cy="579.9" r="0.95"/><circle cx="444.0" cy="607.4" r="0.95"/><circle cx="445.3" cy="604.0" r="0.95"/><circle cx="439.2" cy="607.5" r="0.95"/></g>
<path d="M425.60,635.60 L417.20,626.80 L412.40,620.90 L408.90,616.10 L402.90,612.50 L397.50,611.00 L392.80,609.40 L393.50,607.80 L398.50,608.60 L402.90,609.60 L405.30,606.70 L408.30,603.20 L410.70,599.60 L412.40,595.80 L415.00,592.40 L416.60,586.00 L417.60,580.00 L418.60,575.00 L419.60,574.00 L421.00,574.60 L421.60,576.00 L422.50,582.00 L423.60,592.00 L424.50,605.00 L425.30,617.50 L426.20,605.00 L426.90,592.00 L427.60,583.00 L428.30,576.00 L429.40,574.20 L430.60,575.00 L431.30,581.00 L432.40,589.00 L434.20,596.50 L436.60,601.80 L439.00,605.80 L441.50,608.80 L446.00,609.00 L452.60,608.60 L453.30,610.20 L447.00,611.40 L441.50,613.20 L437.00,619.50 L433.10,626.20 Z" fill="#000"/>
<g fill="#000"><circle cx="355.6" cy="594.8" r="1.15"/><circle cx="361.9" cy="593.8" r="1.15"/><circle cx="364.6" cy="595.4" r="1.15"/><circle cx="366.2" cy="596.3" r="1.15"/><circle cx="365.2" cy="598.3" r="1.15"/><circle cx="367.1" cy="599.6" r="1.15"/><circle cx="368.5" cy="600.8" r="1.15"/><circle cx="377.1" cy="601.7" r="1.15"/><circle cx="381.2" cy="603.1" r="1.15"/><circle cx="387.3" cy="606.0" r="1.15"/><circle cx="356.9" cy="609.2" r="1.15"/><circle cx="359.4" cy="610.4" r="1.15"/><circle cx="361.3" cy="611.7" r="1.15"/><circle cx="364.2" cy="613.1" r="1.15"/><circle cx="368.1" cy="614.6" r="1.15"/><circle cx="374.8" cy="618.1" r="1.15"/><circle cx="375.8" cy="618.5" r="1.15"/><circle cx="377.1" cy="619.4" r="1.15"/><circle cx="387.1" cy="605.7" r="1.15"/><circle cx="394.0" cy="598.2" r="1.15"/><circle cx="395.1" cy="601.8" r="1.15"/><circle cx="398.1" cy="595.8" r="1.15"/><circle cx="401.1" cy="599.4" r="1.15"/><circle cx="400.5" cy="602.7" r="1.15"/><circle cx="404.7" cy="601.2" r="1.15"/><circle cx="405.3" cy="604.7" r="1.15"/><circle cx="408.9" cy="595.8" r="1.15"/><circle cx="409.5" cy="599.4" r="1.15"/><circle cx="410.7" cy="605.9" r="1.15"/><circle cx="407.7" cy="603.0" r="1.15"/><circle cx="396.5" cy="604.0" r="1.15"/><circle cx="399.0" cy="606.5" r="1.15"/><circle cx="412.0" cy="597.5" r="1.15"/><circle cx="413.5" cy="592.0" r="1.15"/><circle cx="415.0" cy="589.0" r="1.15"/><circle cx="439.8" cy="595.8" r="1.15"/><circle cx="440.9" cy="597.9" r="1.15"/><circle cx="446.1" cy="594.8" r="1.15"/><circle cx="450.3" cy="599.0" r="1.15"/><circle cx="451.3" cy="600.0" r="1.15"/><circle cx="444.0" cy="602.1" r="1.15"/><circle cx="458.7" cy="609.0" r="1.15"/><circle cx="443.8" cy="602.3" r="1.15"/><circle cx="445.4" cy="594.6" r="1.15"/><circle cx="437.0" cy="599.0" r="1.15"/><circle cx="435.5" cy="597.0" r="1.15"/><circle cx="441.5" cy="600.5" r="1.15"/><circle cx="447.5" cy="604.5" r="1.15"/><circle cx="484.8" cy="599.4" r="1.15"/><circle cx="489.0" cy="597.3" r="1.15"/><circle cx="490.0" cy="611.1" r="1.15"/><circle cx="491.0" cy="610.4" r="1.15"/><circle cx="391.5" cy="608.0" r="1.15"/><circle cx="395.0" cy="609.0" r="1.15"/><circle cx="433.5" cy="594.0" r="1.15"/><circle cx="416.5" cy="578.0" r="1.15"/></g>
<g fill="#0a14f0"><circle cx="359.4" cy="593.5" r="1.2"/><circle cx="399.0" cy="557.6" r="1.2"/><circle cx="400.3" cy="563.8" r="1.2"/><circle cx="409.5" cy="565.7" r="1.2"/><circle cx="399.1" cy="571.9" r="1.2"/><circle cx="410.7" cy="572.5" r="1.2"/><circle cx="405.9" cy="576.1" r="1.2"/><circle cx="416.3" cy="571.3" r="1.2"/><circle cx="416.6" cy="574.9" r="1.2"/><circle cx="413.0" cy="578.5" r="1.2"/><circle cx="417.2" cy="580.3" r="1.2"/><circle cx="414.2" cy="582.1" r="1.2"/><circle cx="409.8" cy="582.7" r="1.2"/><circle cx="416.6" cy="585.1" r="1.2"/><circle cx="410.7" cy="586.8" r="1.2"/><circle cx="405.9" cy="588.6" r="1.2"/><circle cx="408.9" cy="589.2" r="1.2"/><circle cx="413.0" cy="589.2" r="1.2"/><circle cx="396.3" cy="587.4" r="1.2"/><circle cx="391.6" cy="591.6" r="1.2"/><circle cx="400.5" cy="592.8" r="1.2"/><circle cx="412.4" cy="593.4" r="1.2"/><circle cx="416.0" cy="592.8" r="1.2"/><circle cx="417.2" cy="588.6" r="1.2"/><circle cx="415.4" cy="580.8" r="1.2"/><circle cx="417.7" cy="574.6" r="1.2"/><circle cx="412.3" cy="593.1" r="1.2"/><circle cx="417.4" cy="592.3" r="1.2"/></g>
<g fill="#e00010"><circle cx="433.6" cy="571.8" r="1.2"/><circle cx="435.7" cy="570.7" r="1.2"/><circle cx="432.5" cy="572.8" r="1.2"/><circle cx="438.8" cy="577.0" r="1.2"/><circle cx="439.8" cy="575.5" r="1.2"/><circle cx="445.1" cy="581.2" r="1.2"/><circle cx="449.3" cy="584.7" r="1.2"/><circle cx="445.1" cy="590.6" r="1.2"/><circle cx="448.8" cy="591.6" r="1.2"/><circle cx="459.7" cy="589.5" r="1.2"/><circle cx="458.7" cy="591.6" r="1.2"/><circle cx="433.0" cy="579.1" r="1.2"/><circle cx="434.6" cy="580.1" r="1.2"/><circle cx="432.5" cy="584.3" r="1.2"/><circle cx="434.6" cy="586.4" r="1.2"/><circle cx="433.0" cy="588.5" r="1.2"/><circle cx="435.7" cy="590.6" r="1.2"/><circle cx="433.6" cy="592.7" r="1.2"/><circle cx="436.7" cy="591.6" r="1.2"/><circle cx="432.3" cy="576.0" r="1.2"/><circle cx="436.0" cy="583.0" r="1.2"/><circle cx="434.8" cy="575.8" r="1.2"/><circle cx="433.2" cy="582.0" r="1.2"/><circle cx="435.5" cy="587.8" r="1.2"/><circle cx="432.8" cy="590.5" r="1.2"/><circle cx="437.5" cy="594.0" r="1.2"/></g></svg></body></html>
